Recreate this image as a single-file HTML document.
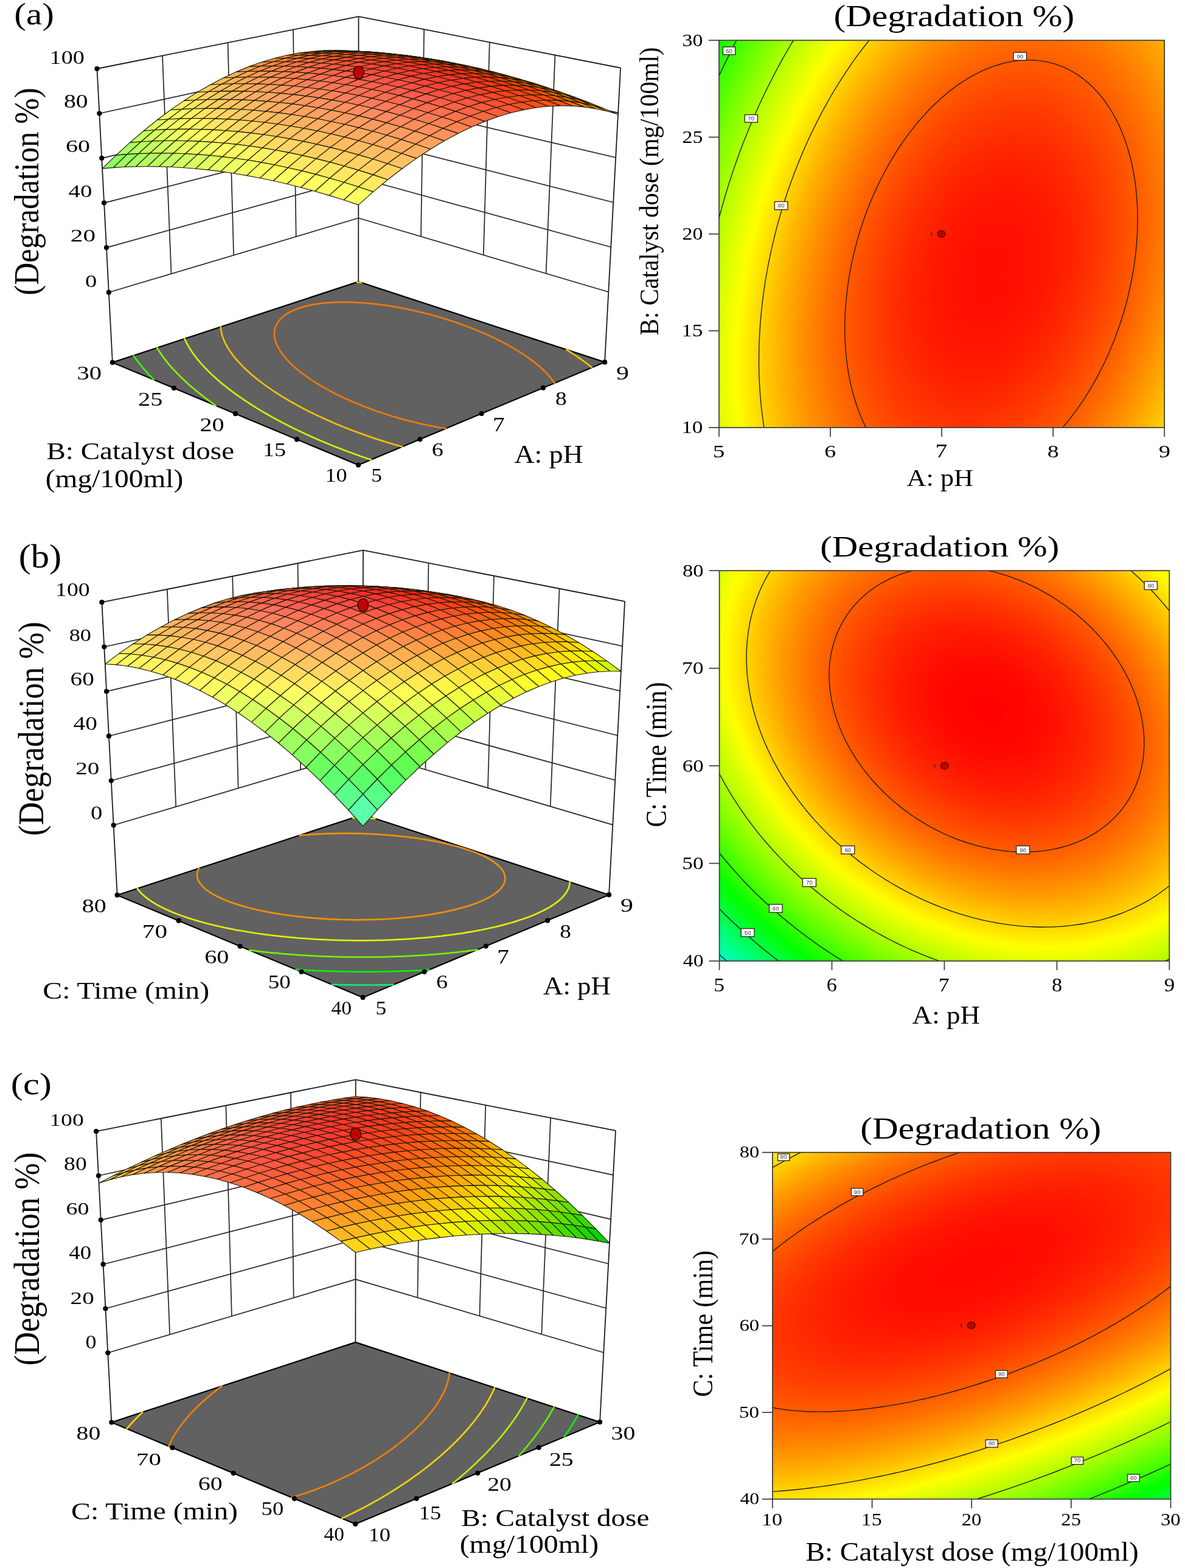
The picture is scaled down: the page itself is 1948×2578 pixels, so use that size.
<!DOCTYPE html><html><head><meta charset="utf-8"><title>Degradation response surfaces</title><style>html,body{margin:0;padding:0;background:#fff;}svg{display:block;}</style></head><body><svg width="1948" height="2578" viewBox="0 0 1948 2578"><rect width="1948" height="2578" fill="#fff"/>
<g>
<line x1="178.8" y1="480.7" x2="589.3" y2="358.5" stroke="#262626" stroke-width="1.7"/>
<line x1="589.3" y1="358.5" x2="1000.3" y2="480" stroke="#262626" stroke-width="1.7"/>
<line x1="175" y1="407.1" x2="589.3" y2="292.3" stroke="#262626" stroke-width="1.7"/>
<line x1="589.3" y1="292.3" x2="1004.3" y2="406.3" stroke="#262626" stroke-width="1.7"/>
<line x1="171.1" y1="333.6" x2="589.4" y2="226" stroke="#262626" stroke-width="1.7"/>
<line x1="589.4" y1="226" x2="1008.3" y2="332.7" stroke="#262626" stroke-width="1.7"/>
<line x1="167.3" y1="260.1" x2="589.4" y2="159.8" stroke="#262626" stroke-width="1.7"/>
<line x1="589.4" y1="159.8" x2="1012.2" y2="259" stroke="#262626" stroke-width="1.7"/>
<line x1="163.4" y1="186.5" x2="589.4" y2="93.5" stroke="#262626" stroke-width="1.7"/>
<line x1="589.4" y1="93.5" x2="1016.2" y2="185.3" stroke="#262626" stroke-width="1.7"/>
<line x1="281.5" y1="450.1" x2="267" y2="91.6" stroke="#262626" stroke-width="1.7"/>
<line x1="692" y1="388.9" x2="697.1" y2="48.3" stroke="#262626" stroke-width="1.7"/>
<line x1="384.1" y1="419.6" x2="374.5" y2="70.1" stroke="#262626" stroke-width="1.7"/>
<line x1="794.8" y1="419.3" x2="804.8" y2="69.4" stroke="#262626" stroke-width="1.7"/>
<line x1="486.7" y1="389.1" x2="482" y2="48.7" stroke="#262626" stroke-width="1.7"/>
<line x1="897.6" y1="449.7" x2="912.5" y2="90.5" stroke="#262626" stroke-width="1.7"/>
<line x1="159.5" y1="113" x2="589.5" y2="27.2" stroke="#1c1c1c" stroke-width="1.8"/>
<line x1="589.5" y1="27.2" x2="1020.1" y2="111.7" stroke="#1c1c1c" stroke-width="1.8"/>
<line x1="184.9" y1="595.9" x2="159.5" y2="113" stroke="#1c1c1c" stroke-width="1.8"/>
<line x1="589.2" y1="463.1" x2="589.5" y2="27.2" stroke="#1c1c1c" stroke-width="1.8"/>
<line x1="994.1" y1="595.4" x2="1020.1" y2="111.7" stroke="#1c1c1c" stroke-width="1.8"/>
<polygon points="184.9,595.9 589.2,463.1 994.1,595.4 589,764.6" fill="#616161" stroke="#000" stroke-width="2.2" stroke-linejoin="round"/>
<path d="M252.9 624.3 L251.5 622.8 L250.4 621.7 L249.4 620.6 L248.3 619.6 L247.3 618.5 L245.9 617.1 L244.8 615.9 L243.9 614.8 L242.9 613.8 L241.9 612.7 L240.9 611.5 L239.7 610.2 L238.6 609 L237.7 607.9 L236.8 606.9 L235.9 605.8 L235 604.8 L234 603.6 L232.9 602.3 L231.9 601.1 L231 600 L230.2 598.9 L229.3 597.9 L228.5 596.8 L227.6 595.7 L226.8 594.7 L226 593.6 L225.2 592.5 L224.3 591.3 L223.4 590.1 L222.6 588.9 L221.7 587.8 L220.9 586.7 L220.2 585.6 L219.5 584.5" fill="none" stroke="#42ef0a" stroke-width="2.7" stroke-linecap="round"/>
<path d="M354.7 666.8 L352.7 665.3 L351.2 664.3 L349.1 662.8 L347.7 661.8 L345.7 660.4 L344.1 659.2 L342.7 658.2 L340.7 656.6 L339.3 655.6 L337.6 654.3 L335.9 653 L334.6 652 L332.6 650.5 L331.2 649.4 L329.9 648.4 L328 646.8 L326.7 645.8 L325.4 644.8 L323.5 643.2 L322.2 642.2 L321 641.1 L319.3 639.7 L317.9 638.5 L316.7 637.5 L315.3 636.4 L313.6 634.9 L312.4 633.9 L311.2 632.8 L309.7 631.5 L308.3 630.2 L307.2 629.2 L306 628.1 L304.5 626.8 L303.2 625.5 L302.1 624.5 L301 623.4 L299.7 622.2 L298.2 620.8 L297.1 619.8 L296.1 618.7 L295 617.7 L293.8 616.4 L292.4 615 L291.4 614 L290.4 612.9 L289.3 611.9 L288.3 610.8 L287.1 609.5 L285.9 608.2 L284.9 607.1 L283.9 606.1 L283 605 L282 604 L281.1 602.9 L280 601.7 L278.9 600.4 L277.9 599.2 L277 598.1 L276.1 597.1 L275.3 596 L274.4 594.9 L273.5 593.9 L272.7 592.8 L271.9 591.7 L271 590.6 L270.1 589.4 L269.2 588.3 L268.4 587.1 L267.5 586 L266.7 584.8 L265.9 583.7 L265.1 582.6 L264.4 581.5 L263.7 580.5 L262.9 579.4 L262.2 578.3 L261.5 577.2 L260.8 576.1 L260.2 575.1 L259.5 574 L258.8 572.9 L258.2 571.8 L258.2 571.8" fill="none" stroke="#8bef0a" stroke-width="2.7" stroke-linecap="round"/>
<path d="M610 755.9 L606.2 754.6 L603.7 753.7 L599.9 752.5 L596.2 751.2 L592.5 749.9 L590 749 L586.3 747.7 L582.7 746.4 L579.1 745.1 L575.5 743.8 L573.1 742.9 L569.6 741.6 L566 740.2 L562.6 738.9 L559.1 737.6 L555.6 736.2 L552.2 734.9 L548.8 733.5 L545.4 732.2 L542.1 730.8 L538.8 729.4 L535.5 728.1 L532.2 726.7 L528.9 725.3 L525.7 723.9 L522.5 722.5 L519.3 721.2 L516.1 719.8 L513 718.4 L509.9 717 L506.8 715.6 L503.7 714.2 L501.7 713.2 L498.6 711.8 L495.6 710.4 L492.6 709 L489.7 707.6 L487.7 706.6 L484.8 705.2 L481.8 703.8 L479 702.3 L476.8 701.2 L474.2 699.9 L471.4 698.5 L468.6 697 L466.7 696.1 L463.9 694.6 L461.2 693.2 L459.3 692.2 L456.6 690.8 L453.9 689.3 L452.1 688.3 L449.5 686.9 L446.8 685.4 L445.1 684.4 L442.5 683 L440.4 681.7 L438.2 680.5 L435.7 679 L434 678.1 L431.5 676.6 L429.8 675.6 L427.3 674.1 L425.4 672.9 L423.2 671.6 L421 670.3 L419.2 669.1 L416.9 667.7 L415.2 666.7 L413 665.2 L411.3 664.2 L409.2 662.8 L407.5 661.7 L405.7 660.5 L403.7 659.2 L402.2 658.2 L399.9 656.6 L398.5 655.6 L396.3 654.1 L394.8 653.1 L392.9 651.8 L391.2 650.6 L389.8 649.6 L387.7 648.1 L386.3 647 L384.6 645.9 L382.8 644.5 L381.4 643.5 L379.6 642.1 L378 640.9 L376.7 639.9 L374.8 638.5 L373.4 637.4 L372.1 636.3 L370.4 635 L368.9 633.8 L367.6 632.7 L366.2 631.6 L364.5 630.2 L363.2 629.1 L362 628.1 L360.4 626.7 L359 625.5 L357.8 624.5 L356.6 623.5 L355 622 L353.7 620.9 L352.5 619.8 L351.4 618.8 L350.1 617.6 L348.6 616.2 L347.5 615.1 L346.4 614.1 L345.3 613 L344 611.8 L342.6 610.5 L341.6 609.4 L340.5 608.3 L339.5 607.3 L338.5 606.2 L337.3 605.1 L336.1 603.8 L335 602.5 L334 601.5 L333 600.4 L332.1 599.3 L331.1 598.3 L330.2 597.2 L329.2 596.2 L328.2 594.9 L327.2 593.7 L326.2 592.5 L325.2 591.4 L324.4 590.3 L323.5 589.2 L322.7 588.1 L321.8 587.1 L321 586 L320.2 584.9 L319.4 583.8 L318.6 582.8 L317.8 581.7 L317.1 580.6 L316.3 579.5 L315.6 578.4 L314.8 577.3 L314.1 576.2 L313.4 575.1 L312.7 574.1 L312 573 L311.4 571.9 L310.7 570.8 L310.1 569.7 L309.4 568.6 L308.9 567.6 L308.3 566.6 L307.8 565.6 L307.3 564.7 L306.7 563.6 L306.2 562.5 L305.6 561.4 L305.1 560.2 L304.6 559.1 L304.1 558 L303.7 557.1 L303.6 556.9" fill="none" stroke="#d4ef0a" stroke-width="2.7" stroke-linecap="round"/>
<path d="M661.2 734.5 L658.5 733.7 L654.4 732.6 L651.8 731.8 L647.8 730.7 L644.8 729.8 L641.3 728.7 L637.4 727.6 L634.9 726.8 L631 725.6 L627.2 724.4 L624.7 723.6 L621 722.4 L617.3 721.2 L613.6 719.9 L611.2 719.1 L607.5 717.9 L603.9 716.6 L600.4 715.4 L596.8 714.1 L594.5 713.3 L591 712 L587.5 710.8 L584.1 709.5 L580.7 708.2 L577.3 706.9 L574 705.6 L570.6 704.3 L567.3 703 L564.1 701.7 L560.8 700.3 L557.6 699 L554.4 697.7 L551.2 696.4 L548.1 695 L545 693.7 L541.9 692.3 L538.8 691 L536.2 689.8 L533.8 688.7 L530.8 687.3 L527.8 686 L524.8 684.6 L521.9 683.2 L520 682.3 L517.1 680.9 L514.2 679.5 L511.5 678.1 L509.5 677.2 L506.7 675.8 L504 674.4 L502.1 673.4 L499.4 672 L496.7 670.6 L494.9 669.7 L492.3 668.2 L489.6 666.8 L487.9 665.8 L485.3 664.4 L483.6 663.5 L481 662 L478.8 660.8 L476.8 659.6 L474.3 658.2 L472.6 657.2 L470.2 655.7 L468.6 654.8 L466.1 653.3 L464.5 652.3 L462.2 650.9 L460.6 649.9 L458.3 648.4 L456.7 647.4 L454.5 646 L452.9 645 L451.2 643.9 L449.1 642.5 L447.7 641.5 L445.5 640 L444 639 L442.2 637.8 L440.4 636.5 L439 635.5 L436.9 634 L435.5 633 L434.1 632 L432.1 630.5 L430.7 629.5 L429.4 628.5 L427.4 627 L426.1 625.9 L424.8 624.9 L423.1 623.6 L421.5 622.4 L420.3 621.4 L419 620.3 L417.3 618.9 L415.9 617.8 L414.7 616.7 L413.5 615.7 L412 614.4 L410.5 613.1 L409.4 612.1 L408.2 611.1 L407.1 610 L405.6 608.6 L404.3 607.4 L403.2 606.4 L402.1 605.3 L401 604.3 L399.9 603.2 L398.7 601.9 L397.4 600.6 L396.3 599.5 L395.3 598.5 L394.3 597.4 L393.3 596.3 L392.3 595.3 L391.4 594.2 L390.4 593.1 L389.4 592 L388.4 590.8 L387.4 589.7 L386.5 588.5 L385.5 587.4 L384.6 586.2 L383.8 585.1 L382.9 584 L382.1 582.9 L381.3 581.8 L380.5 580.7 L379.7 579.7 L379 578.6 L378.3 577.6 L377.6 576.5 L376.9 575.5 L376.2 574.5 L375.6 573.5 L374.9 572.4 L374.3 571.3 L373.6 570.2 L373 569.1 L372.4 568 L371.7 566.8 L371.2 565.7 L370.7 564.8 L370.2 563.8 L369.8 562.9 L369.2 561.7 L368.7 560.6 L368.2 559.4 L367.8 558.4 L367.4 557.5 L367.1 556.6 L366.6 555.4 L366.2 554.2 L365.9 553.2 L365.6 552.4 L365.3 551.3 L364.9 550.1 L364.6 549 L364.4 548.2 L364.2 547.2 L363.9 546 L363.7 545 L363.6 544.2 L363.4 542.9 L363.2 541.9 L363.1 541.1 L363 539.9 L362.9 538.9 L362.8 538 L362.8 537.4" fill="none" stroke="#efc10a" stroke-width="2.7" stroke-linecap="round"/>
<path d="M931.2 574.9 L933.1 576 L934.6 577 L936.2 578 L937.7 579 L939.8 580.3 L941.6 581.5 L943.1 582.5 L944.6 583.5 L946.1 584.5 L947.6 585.5 L949.5 586.8 L951.3 588.1 L952.9 589.1 L954.4 590.2 L955.8 591.2 L957.3 592.3 L958.8 593.3 L960.2 594.4 L961.7 595.5 L963.3 596.7 L964.9 597.8 L966.4 599 L967.9 600.2 L969.4 601.4 L970.9 602.5 L972.4 603.7 L973 604.2" fill="none" stroke="#efc10a" stroke-width="2.7" stroke-linecap="round"/>
<path d="M586.7 463.9 L589.5 464.2 L592.2 464.4 L594.1 464.6" fill="none" stroke="#efc10a" stroke-width="2.7" stroke-linecap="round"/>
<path d="M733 704.5 L729.8 704 L726.6 703.5 L722.6 702.8 L718.9 702.1 L715.8 701.6 L712.8 701 L709.8 700.4 L705.5 699.6 L702.4 699 L699.5 698.3 L695.9 697.6 L692.3 696.8 L689.5 696.2 L685.3 695.2 L682.6 694.5 L679.5 693.8 L675.7 692.9 L673.1 692.2 L669.1 691.1 L666.4 690.4 L662.5 689.4 L659.2 688.5 L656.1 687.6 L652.3 686.5 L649.8 685.8 L646 684.7 L642.3 683.5 L639.9 682.8 L636.3 681.6 L632.7 680.5 L629.1 679.3 L626.8 678.5 L623.3 677.4 L619.8 676.2 L616.4 675 L613 673.8 L609.7 672.5 L606.4 671.3 L603.1 670.1 L599.9 668.8 L596.7 667.6 L593.5 666.3 L590.3 665 L587.2 663.8 L584.2 662.5 L581.1 661.2 L578.1 659.9 L575.1 658.6 L573 657.6 L570.2 656.4 L567.3 655.1 L564.5 653.7 L562 652.5 L559.8 651.5 L557 650.1 L554.2 648.8 L552.4 647.9 L549.7 646.5 L547.2 645.2 L545.3 644.2 L542.7 642.8 L540.9 641.9 L538.4 640.5 L536.4 639.4 L534.2 638.1 L531.9 636.8 L530 635.8 L527.8 634.4 L526 633.4 L524 632.2 L522 631 L520.4 630 L518.2 628.6 L516.7 627.6 L514.4 626.2 L512.9 625.2 L511.2 624.1 L509.2 622.8 L507.8 621.8 L505.9 620.4 L504.3 619.3 L502.9 618.3 L501.1 617 L499.4 615.8 L498.1 614.8 L496.8 613.8 L494.8 612.3 L493.5 611.3 L492.2 610.2 L491 609.2 L489.2 607.8 L487.9 606.7 L486.7 605.6 L485.5 604.6 L484.3 603.6 L482.8 602.2 L481.4 601 L480.3 599.9 L479.2 598.9 L478.1 597.8 L477 596.7 L476 595.7 L474.9 594.6 L473.7 593.4 L472.6 592.2 L471.5 591 L470.5 589.8 L469.5 588.7 L468.6 587.6 L467.7 586.5 L466.8 585.4 L465.9 584.3 L465.1 583.2 L464.3 582.2 L463.5 581.1 L462.8 580.1 L462.1 579.1 L461.4 578.1 L460.7 577.1 L460 575.9 L459.3 574.8 L458.6 573.6 L458 572.5 L457.4 571.3 L456.9 570.4 L456.4 569.5 L455.9 568.4 L455.3 567.2 L454.8 566.1 L454.4 565.1 L454.1 564.2 L453.7 563.1 L453.3 561.9 L452.9 560.9 L452.7 560 L452.4 558.8 L452.1 557.6 L451.9 556.8 L451.7 555.7 L451.5 554.5 L451.4 553.7 L451.2 552.5 L451.1 551.5 L451.1 550.6 L451 549.3 L451 548.6 L451.1 547.3 L451.1 546.5 L451.2 545.2 L451.3 544.4 L451.5 543.2 L451.6 542.4 L451.9 541.1 L452.1 540.4 L452.4 539.1 L452.7 538.2 L453 537.2 L453.5 536 L453.9 535.2 L454.3 534.2 L454.9 533 L455.4 532.1 L455.9 531.3 L456.6 530.2 L457.4 529.1 L458.1 528 L458.8 527.2 L459.5 526.3 L460.4 525.3 L461.3 524.3 L462.3 523.3 L463.4 522.3 L464.5 521.3 L465.6 520.4 L466.8 519.4 L468.2 518.3 L469.9 517.1 L471.2 516.3 L472.6 515.4 L474.2 514.5 L476.2 513.3 L477.7 512.5 L480.1 511.4 L481.7 510.6 L484.2 509.5 L486.9 508.4 L488.7 507.8 L491.5 506.8 L494.4 505.8 L497.4 504.9 L499.5 504.3 L502.7 503.5 L506 502.6 L508.2 502.1 L511.4 501.5 L514.2 500.9 L516.6 500.5 L519.5 500 L522.9 499.5 L525.7 499.1 L528.5 498.8 L531.3 498.5 L534.2 498.2 L537 497.9 L539.5 497.7 L541.8 497.5 L544.8 497.3 L548 497.2 L550.8 497 L553 497 L556.4 496.9 L558.9 496.8 L561.7 496.8 L564.6 496.7 L567.3 496.7 L570.1 496.8 L573.1 496.8 L575.4 496.9 L578.8 497 L581.2 497.1 L583.8 497.2 L587.1 497.3 L590 497.5 L592.2 497.6 L594.9 497.8 L598 498 L601 498.3 L604 498.5 L606.9 498.8 L609.5 499 L612.2 499.3 L614.9 499.6 L617.7 499.9 L620.6 500.2 L623.6 500.6 L626.5 501 L629.2 501.3 L631.9 501.7 L634.5 502.1 L637.1 502.5 L639.7 502.9 L643.3 503.4 L646.1 503.9 L648.6 504.3 L651.1 504.7 L654.8 505.4 L657.3 505.9 L659.7 506.3 L663.4 507 L665.7 507.5 L668.2 508 L671.7 508.7 L674 509.2 L677.5 509.9 L679.8 510.5 L683.3 511.2 L685.5 511.8 L688.9 512.6 L691.2 513.1 L694.5 513.9 L697.8 514.7 L700 515.3 L703.3 516.1 L706.6 517 L708.7 517.6 L711.9 518.5 L715.1 519.4 L718.3 520.3 L720.4 520.9 L723.6 521.8 L726.7 522.7 L729.8 523.7 L732.8 524.6 L735.9 525.6 L738.9 526.6 L742 527.5 L745 528.5 L747.9 529.5 L750.9 530.6 L753.9 531.6 L756.8 532.6 L759.7 533.7 L762.6 534.7 L765.5 535.8 L767.4 536.5 L770.2 537.6 L773.1 538.7 L775.9 539.8 L778.3 540.7 L780.5 541.6 L783.3 542.8 L786.1 543.9 L787.9 544.7 L790.6 545.8 L793.4 547 L795.2 547.8 L797.8 549 L799.6 549.8 L802.3 551 L804.8 552.1 L806.7 553 L809.3 554.2 L811.1 555 L813.6 556.3 L815.4 557.1 L817.9 558.4 L819.6 559.2 L822 560.5 L823.9 561.4 L825.7 562.3 L828 563.6 L829.7 564.4 L832.2 565.8 L833.8 566.7 L835.4 567.6 L837.9 568.9 L839.5 569.8 L841.2 570.8 L843.5 572.1 L845.1 573.1 L846.6 574 L849 575.4 L850.6 576.4 L852.1 577.3 L853.7 578.3 L855.9 579.7 L857.5 580.7 L859 581.7 L860.5 582.7 L862.2 583.9 L864.2 585.2 L865.6 586.2 L867.1 587.2 L868.5 588.2 L870 589.3 L871.5 590.4 L873.2 591.6 L874.8 592.9 L876.3 594 L877.7 595.1 L879.1 596.1 L880.4 597.2 L881.8 598.3 L883.1 599.4 L884.4 600.5 L885.7 601.6 L887 602.8 L888.3 603.9 L889.6 605 L890.9 606.2 L892.1 607.3 L893.3 608.5 L894.5 609.7 L895.7 610.9 L896.9 612.1 L898 613.1 L899 614.2 L899.9 615.2 L900.9 616.3 L902.1 617.5 L903.1 618.8 L904.2 620.1 L905.2 621.2 L906 622.2 L906.8 623.3 L907.8 624.6 L908.8 625.9 L909.6 627 L910.2 627.9 L911.1 629.2 L911.6 629.9" fill="none" stroke="#ef790a" stroke-width="2.7" stroke-linecap="round"/>
<polygon points="589.5,84.3 608.5,86.4 589.5,85.6 570.4,83.7" fill="#ff9900" stroke="#1e1a08" stroke-width="1.15" stroke-linejoin="round"/>
<polygon points="608.7,85.4 627.8,87.7 608.5,86.4 589.5,84.3" fill="#ff8f00" stroke="#1e1a08" stroke-width="1.15" stroke-linejoin="round"/>
<polygon points="570.2,83.3 589.5,84.3 570.4,83.7 551.1,82.8" fill="#ff8702" stroke="#1e1a08" stroke-width="1.15" stroke-linejoin="round"/>
<polygon points="628.3,86.8 647.3,89.3 627.8,87.7 608.7,85.4" fill="#ff8500" stroke="#1e1a08" stroke-width="1.15" stroke-linejoin="round"/>
<polygon points="589.5,84.2 608.7,85.4 589.5,84.3 570.2,83.3" fill="#ff7c01" stroke="#1e1a08" stroke-width="1.15" stroke-linejoin="round"/>
<polygon points="550.6,83.4 570.2,83.3 551.1,82.8 531.6,83.1" fill="#ff7e0d" stroke="#1e1a08" stroke-width="1.15" stroke-linejoin="round"/>
<polygon points="648,88.7 667,91.4 647.3,89.3 628.3,86.8" fill="#ff7d00" stroke="#1e1a08" stroke-width="1.15" stroke-linejoin="round"/>
<polygon points="609,85.4 628.3,86.8 608.7,85.4 589.5,84.2" fill="#ff7100" stroke="#1e1a08" stroke-width="1.15" stroke-linejoin="round"/>
<polygon points="530.9,84.6 550.6,83.4 531.6,83.1 511.8,84.5" fill="#ff7918" stroke="#1e1a08" stroke-width="1.15" stroke-linejoin="round"/>
<polygon points="569.9,84.1 589.5,84.2 570.2,83.3 550.6,83.4" fill="#ff720c" stroke="#1e1a08" stroke-width="1.15" stroke-linejoin="round"/>
<polygon points="668,91 687,93.8 667,91.4 648,88.7" fill="#ff7700" stroke="#1e1a08" stroke-width="1.15" stroke-linejoin="round"/>
<polygon points="510.8,87.1 530.9,84.6 511.8,84.5 491.8,87.1" fill="#ff7822" stroke="#1e1a08" stroke-width="1.15" stroke-linejoin="round"/>
<polygon points="628.8,87.2 648,88.7 628.3,86.8 609,85.4" fill="#ff6900" stroke="#1e1a08" stroke-width="1.15" stroke-linejoin="round"/>
<polygon points="550.1,85.2 569.9,84.1 550.6,83.4 530.9,84.6" fill="#ff6d17" stroke="#1e1a08" stroke-width="1.15" stroke-linejoin="round"/>
<polygon points="589.5,85.2 609,85.4 589.5,84.2 569.9,84.1" fill="#ff670b" stroke="#1e1a08" stroke-width="1.15" stroke-linejoin="round"/>
<polygon points="688.3,93.8 707.3,96.8 687,93.8 668,91" fill="#ff7100" stroke="#1e1a08" stroke-width="1.15" stroke-linejoin="round"/>
<polygon points="490.6,90.7 510.8,87.1 491.8,87.1 471.6,90.8" fill="#ff7b2b" stroke="#1e1a08" stroke-width="1.15" stroke-linejoin="round"/>
<polygon points="648.8,89.3 668,91 648,88.7 628.8,87.2" fill="#ff6100" stroke="#1e1a08" stroke-width="1.15" stroke-linejoin="round"/>
<polygon points="530.1,87.4 550.1,85.2 530.9,84.6 510.8,87.1" fill="#ff6c21" stroke="#1e1a08" stroke-width="1.15" stroke-linejoin="round"/>
<polygon points="609.2,86.8 628.8,87.2 609,85.4 589.5,85.2" fill="#ff5e09" stroke="#1e1a08" stroke-width="1.15" stroke-linejoin="round"/>
<polygon points="569.7,86.1 589.5,85.2 569.9,84.1 550.1,85.2" fill="#ff6215" stroke="#1e1a08" stroke-width="1.15" stroke-linejoin="round"/>
<polygon points="470.1,95.5 490.6,90.7 471.6,90.8 451.2,95.8" fill="#ff8135" stroke="#1e1a08" stroke-width="1.15" stroke-linejoin="round"/>
<polygon points="708.8,97 727.7,100.1 707.3,96.8 688.3,93.8" fill="#ff6d00" stroke="#1e1a08" stroke-width="1.15" stroke-linejoin="round"/>
<polygon points="509.9,90.9 530.1,87.4 510.8,87.1 490.6,90.7" fill="#ff6f2b" stroke="#1e1a08" stroke-width="1.15" stroke-linejoin="round"/>
<polygon points="669,91.9 688.3,93.8 668,91 648.8,89.3" fill="#ff5b00" stroke="#1e1a08" stroke-width="1.15" stroke-linejoin="round"/>
<polygon points="549.6,88.2 569.7,86.1 550.1,85.2 530.1,87.4" fill="#ff6220" stroke="#1e1a08" stroke-width="1.15" stroke-linejoin="round"/>
<polygon points="629.3,88.7 648.8,89.3 628.8,87.2 609.2,86.8" fill="#ff5508" stroke="#1e1a08" stroke-width="1.15" stroke-linejoin="round"/>
<polygon points="589.4,87.5 609.2,86.8 589.5,85.2 569.7,86.1" fill="#ff5914" stroke="#1e1a08" stroke-width="1.15" stroke-linejoin="round"/>
<polygon points="449.5,101.5 470.1,95.5 451.2,95.8 430.5,102" fill="#ff893d" stroke="#1e1a08" stroke-width="1.15" stroke-linejoin="round"/>
<polygon points="729.5,100.6 748.4,104 727.7,100.1 708.8,97" fill="#ff6b00" stroke="#1e1a08" stroke-width="1.15" stroke-linejoin="round"/>
<polygon points="489.4,95.6 509.9,90.9 490.6,90.7 470.1,95.5" fill="#ff7534" stroke="#1e1a08" stroke-width="1.15" stroke-linejoin="round"/>
<polygon points="689.6,94.9 708.8,97 688.3,93.8 669,91.9" fill="#ff5700" stroke="#1e1a08" stroke-width="1.15" stroke-linejoin="round"/>
<polygon points="529.4,91.5 549.6,88.2 530.1,87.4 509.9,90.9" fill="#ff642a" stroke="#1e1a08" stroke-width="1.15" stroke-linejoin="round"/>
<polygon points="649.5,91.2 669,91.9 648.8,89.3 629.3,88.7" fill="#ff4e07" stroke="#1e1a08" stroke-width="1.15" stroke-linejoin="round"/>
<polygon points="569.4,89.5 589.4,87.5 569.7,86.1 549.6,88.2" fill="#ff581f" stroke="#1e1a08" stroke-width="1.15" stroke-linejoin="round"/>
<polygon points="609.5,89.3 629.3,88.7 609.2,86.8 589.4,87.5" fill="#ff5013" stroke="#1e1a08" stroke-width="1.15" stroke-linejoin="round"/>
<polygon points="428.6,108.8 449.5,101.5 430.5,102 409.7,109.4" fill="#ff9345" stroke="#1e1a08" stroke-width="1.15" stroke-linejoin="round"/>
<polygon points="750.5,104.7 769.4,108.3 748.4,104 729.5,100.6" fill="#ff6a00" stroke="#1e1a08" stroke-width="1.15" stroke-linejoin="round"/>
<polygon points="468.7,101.5 489.4,95.6 470.1,95.5 449.5,101.5" fill="#ff7d3d" stroke="#1e1a08" stroke-width="1.15" stroke-linejoin="round"/>
<polygon points="710.3,98.4 729.5,100.6 708.8,97 689.6,94.9" fill="#ff5400" stroke="#1e1a08" stroke-width="1.15" stroke-linejoin="round"/>
<polygon points="508.9,96.1 529.4,91.5 509.9,90.9 489.4,95.6" fill="#ff6a33" stroke="#1e1a08" stroke-width="1.15" stroke-linejoin="round"/>
<polygon points="670.1,94 689.6,94.9 669,91.9 649.5,91.2" fill="#ff4805" stroke="#1e1a08" stroke-width="1.15" stroke-linejoin="round"/>
<polygon points="549.1,92.6 569.4,89.5 549.6,88.2 529.4,91.5" fill="#ff5b29" stroke="#1e1a08" stroke-width="1.15" stroke-linejoin="round"/>
<polygon points="629.8,91.6 649.5,91.2 629.3,88.7 609.5,89.3" fill="#ff4812" stroke="#1e1a08" stroke-width="1.15" stroke-linejoin="round"/>
<polygon points="589.4,91.1 609.5,89.3 589.4,87.5 569.4,89.5" fill="#ff4f1e" stroke="#1e1a08" stroke-width="1.15" stroke-linejoin="round"/>
<polygon points="407.5,117.3 428.6,108.8 409.7,109.4 388.6,118.1" fill="#ff9f4d" stroke="#1e1a08" stroke-width="1.15" stroke-linejoin="round"/>
<polygon points="447.7,108.6 468.7,101.5 449.5,101.5 428.6,108.8" fill="#ff8845" stroke="#1e1a08" stroke-width="1.15" stroke-linejoin="round"/>
<polygon points="771.7,109.3 790.6,113 769.4,108.3 750.5,104.7" fill="#ff6a00" stroke="#1e1a08" stroke-width="1.15" stroke-linejoin="round"/>
<polygon points="488.1,101.8 508.9,96.1 489.4,95.6 468.7,101.5" fill="#ff733c" stroke="#1e1a08" stroke-width="1.15" stroke-linejoin="round"/>
<polygon points="731.3,102.4 750.5,104.7 729.5,100.6 710.3,98.4" fill="#ff5200" stroke="#1e1a08" stroke-width="1.15" stroke-linejoin="round"/>
<polygon points="528.6,97 549.1,92.6 529.4,91.5 508.9,96.1" fill="#ff6132" stroke="#1e1a08" stroke-width="1.15" stroke-linejoin="round"/>
<polygon points="690.8,97.4 710.3,98.4 689.6,94.9 670.1,94" fill="#ff4304" stroke="#1e1a08" stroke-width="1.15" stroke-linejoin="round"/>
<polygon points="569.2,94.1 589.4,91.1 569.4,89.5 549.1,92.6" fill="#ff5228" stroke="#1e1a08" stroke-width="1.15" stroke-linejoin="round"/>
<polygon points="650.3,94.3 670.1,94 649.5,91.2 629.8,91.6" fill="#ff4210" stroke="#1e1a08" stroke-width="1.15" stroke-linejoin="round"/>
<polygon points="609.7,93.2 629.8,91.6 609.5,89.3 589.4,91.1" fill="#ff471c" stroke="#1e1a08" stroke-width="1.15" stroke-linejoin="round"/>
<polygon points="386.2,127.2 407.5,117.3 388.6,118.1 367.3,128" fill="#ffad53" stroke="#1e1a08" stroke-width="1.15" stroke-linejoin="round"/>
<polygon points="426.6,117 447.7,108.6 428.6,108.8 407.5,117.3" fill="#ff944c" stroke="#1e1a08" stroke-width="1.15" stroke-linejoin="round"/>
<polygon points="793.2,114.4 812,118.2 790.6,113 771.7,109.3" fill="#ff6b00" stroke="#1e1a08" stroke-width="1.15" stroke-linejoin="round"/>
<polygon points="467.2,108.8 488.1,101.8 468.7,101.5 447.7,108.6" fill="#ff7d44" stroke="#1e1a08" stroke-width="1.15" stroke-linejoin="round"/>
<polygon points="752.6,106.8 771.7,109.3 750.5,104.7 731.3,102.4" fill="#ff5100" stroke="#1e1a08" stroke-width="1.15" stroke-linejoin="round"/>
<polygon points="507.9,102.6 528.6,97 508.9,96.1 488.1,101.8" fill="#ff693b" stroke="#1e1a08" stroke-width="1.15" stroke-linejoin="round"/>
<polygon points="711.9,101.1 731.3,102.4 710.3,98.4 690.8,97.4" fill="#ff4002" stroke="#1e1a08" stroke-width="1.15" stroke-linejoin="round"/>
<polygon points="548.6,98.4 569.2,94.1 549.1,92.6 528.6,97" fill="#ff5831" stroke="#1e1a08" stroke-width="1.15" stroke-linejoin="round"/>
<polygon points="671.1,97.5 690.8,97.4 670.1,94 650.3,94.3" fill="#ff3d0f" stroke="#1e1a08" stroke-width="1.15" stroke-linejoin="round"/>
<polygon points="589.4,96.1 609.7,93.2 589.4,91.1 569.2,94.1" fill="#ff4a27" stroke="#1e1a08" stroke-width="1.15" stroke-linejoin="round"/>
<polygon points="630.3,95.8 650.3,94.3 629.8,91.6 609.7,93.2" fill="#ff411b" stroke="#1e1a08" stroke-width="1.15" stroke-linejoin="round"/>
<polygon points="364.6,138.3 386.2,127.2 367.3,128 345.9,139.2" fill="#ffbc59" stroke="#1e1a08" stroke-width="1.15" stroke-linejoin="round"/>
<polygon points="405.2,126.7 426.6,117 407.5,117.3 386.2,127.2" fill="#ffa253" stroke="#1e1a08" stroke-width="1.15" stroke-linejoin="round"/>
<polygon points="814.9,119.9 833.7,124 812,118.2 793.2,114.4" fill="#ff6e00" stroke="#1e1a08" stroke-width="1.15" stroke-linejoin="round"/>
<polygon points="446,117.1 467.2,108.8 447.7,108.6 426.6,117" fill="#ff8a4c" stroke="#1e1a08" stroke-width="1.15" stroke-linejoin="round"/>
<polygon points="774.1,111.7 793.2,114.4 771.7,109.3 752.6,106.8" fill="#ff5200" stroke="#1e1a08" stroke-width="1.15" stroke-linejoin="round"/>
<polygon points="486.9,109.5 507.9,102.6 488.1,101.8 467.2,108.8" fill="#ff7444" stroke="#1e1a08" stroke-width="1.15" stroke-linejoin="round"/>
<polygon points="733.2,105.4 752.6,106.8 731.3,102.4 711.9,101.1" fill="#ff3d01" stroke="#1e1a08" stroke-width="1.15" stroke-linejoin="round"/>
<polygon points="527.9,103.8 548.6,98.4 528.6,97 507.9,102.6" fill="#ff603b" stroke="#1e1a08" stroke-width="1.15" stroke-linejoin="round"/>
<polygon points="692.1,101.1 711.9,101.1 690.8,97.4 671.1,97.5" fill="#ff390d" stroke="#1e1a08" stroke-width="1.15" stroke-linejoin="round"/>
<polygon points="568.9,100.2 589.4,96.1 569.2,94.1 548.6,98.4" fill="#ff5030" stroke="#1e1a08" stroke-width="1.15" stroke-linejoin="round"/>
<polygon points="651.1,98.8 671.1,97.5 650.3,94.3 630.3,95.8" fill="#ff3b1a" stroke="#1e1a08" stroke-width="1.15" stroke-linejoin="round"/>
<polygon points="610,98.5 630.3,95.8 609.7,93.2 589.4,96.1" fill="#ff4325" stroke="#1e1a08" stroke-width="1.15" stroke-linejoin="round"/>
<polygon points="342.9,150.7 364.6,138.3 345.9,139.2 324.2,151.8" fill="#ffcd5f" stroke="#1e1a08" stroke-width="1.15" stroke-linejoin="round"/>
<polygon points="383.7,137.7 405.2,126.7 386.2,127.2 364.6,138.3" fill="#ffb159" stroke="#1e1a08" stroke-width="1.15" stroke-linejoin="round"/>
<polygon points="424.6,126.7 446,117.1 426.6,117 405.2,126.7" fill="#ff9853" stroke="#1e1a08" stroke-width="1.15" stroke-linejoin="round"/>
<polygon points="836.9,126 855.6,130.2 833.7,124 814.9,119.9" fill="#ff7200" stroke="#1e1a08" stroke-width="1.15" stroke-linejoin="round"/>
<polygon points="465.7,117.7 486.9,109.5 467.2,108.8 446,117.1" fill="#ff804c" stroke="#1e1a08" stroke-width="1.15" stroke-linejoin="round"/>
<polygon points="795.9,117.1 814.9,119.9 793.2,114.4 774.1,111.7" fill="#ff5400" stroke="#1e1a08" stroke-width="1.15" stroke-linejoin="round"/>
<polygon points="321.1,164.5 342.9,150.7 324.2,151.8 302.4,165.6" fill="#ffde61" stroke="#1e1a08" stroke-width="1.15" stroke-linejoin="round"/>
<polygon points="506.8,110.6 527.9,103.8 507.9,102.6 486.9,109.5" fill="#ff6b43" stroke="#1e1a08" stroke-width="1.15" stroke-linejoin="round"/>
<polygon points="754.7,110.2 774.1,111.7 752.6,106.8 733.2,105.4" fill="#ff3d00" stroke="#1e1a08" stroke-width="1.15" stroke-linejoin="round"/>
<polygon points="548.1,105.5 568.9,100.2 548.6,98.4 527.9,103.8" fill="#ff583a" stroke="#1e1a08" stroke-width="1.15" stroke-linejoin="round"/>
<polygon points="713.5,105.2 733.2,105.4 711.9,101.1 692.1,101.1" fill="#ff360c" stroke="#1e1a08" stroke-width="1.15" stroke-linejoin="round"/>
<polygon points="589.4,102.4 610,98.5 589.4,96.1 568.9,100.2" fill="#ff492f" stroke="#1e1a08" stroke-width="1.15" stroke-linejoin="round"/>
<polygon points="672.1,102.3 692.1,101.1 671.1,97.5 651.1,98.8" fill="#ff3718" stroke="#1e1a08" stroke-width="1.15" stroke-linejoin="round"/>
<polygon points="630.8,101.4 651.1,98.8 630.3,95.8 610,98.5" fill="#ff3d24" stroke="#1e1a08" stroke-width="1.15" stroke-linejoin="round"/>
<polygon points="361.9,150.1 383.7,137.7 364.6,138.3 342.9,150.7" fill="#ffc25f" stroke="#1e1a08" stroke-width="1.15" stroke-linejoin="round"/>
<polygon points="403,137.6 424.6,126.7 405.2,126.7 383.7,137.7" fill="#ffa759" stroke="#1e1a08" stroke-width="1.15" stroke-linejoin="round"/>
<polygon points="859.1,132.5 877.8,136.9 855.6,130.2 836.9,126" fill="#ff7700" stroke="#1e1a08" stroke-width="1.15" stroke-linejoin="round"/>
<polygon points="444.2,127.1 465.7,117.7 446,117.1 424.6,126.7" fill="#ff8e53" stroke="#1e1a08" stroke-width="1.15" stroke-linejoin="round"/>
<polygon points="299,179.6 321.1,164.5 302.4,165.6 280.4,180.8" fill="#fff161" stroke="#1e1a08" stroke-width="1.15" stroke-linejoin="round"/>
<polygon points="817.9,123 836.9,126 814.9,119.9 795.9,117.1" fill="#ff5800" stroke="#1e1a08" stroke-width="1.15" stroke-linejoin="round"/>
<polygon points="485.6,118.6 506.8,110.6 486.9,109.5 465.7,117.7" fill="#ff784b" stroke="#1e1a08" stroke-width="1.15" stroke-linejoin="round"/>
<polygon points="776.5,115.4 795.9,117.1 774.1,111.7 754.7,110.2" fill="#ff3f00" stroke="#1e1a08" stroke-width="1.15" stroke-linejoin="round"/>
<polygon points="527.1,112.1 548.1,105.5 527.9,103.8 506.8,110.6" fill="#ff6342" stroke="#1e1a08" stroke-width="1.15" stroke-linejoin="round"/>
<polygon points="340,163.7 361.9,150.1 342.9,150.7 321.1,164.5" fill="#ffd361" stroke="#1e1a08" stroke-width="1.15" stroke-linejoin="round"/>
<polygon points="735,109.8 754.7,110.2 733.2,105.4 713.5,105.2" fill="#ff340a" stroke="#1e1a08" stroke-width="1.15" stroke-linejoin="round"/>
<polygon points="568.6,107.6 589.4,102.4 568.9,100.2 548.1,105.5" fill="#ff5139" stroke="#1e1a08" stroke-width="1.15" stroke-linejoin="round"/>
<polygon points="693.5,106.2 713.5,105.2 692.1,101.1 672.1,102.3" fill="#ff3317" stroke="#1e1a08" stroke-width="1.15" stroke-linejoin="round"/>
<polygon points="610.2,105.2 630.8,101.4 610,98.5 589.4,102.4" fill="#ff432e" stroke="#1e1a08" stroke-width="1.15" stroke-linejoin="round"/>
<polygon points="651.9,104.7 672.1,102.3 651.1,98.8 630.8,101.4" fill="#ff3923" stroke="#1e1a08" stroke-width="1.15" stroke-linejoin="round"/>
<polygon points="381.2,149.9 403,137.6 383.7,137.7 361.9,150.1" fill="#ffb85f" stroke="#1e1a08" stroke-width="1.15" stroke-linejoin="round"/>
<polygon points="276.8,196 299,179.6 280.4,180.8 258.3,197.3" fill="#f8ff61" stroke="#1e1a08" stroke-width="1.15" stroke-linejoin="round"/>
<polygon points="422.6,137.9 444.2,127.1 424.6,126.7 403,137.6" fill="#ff9e59" stroke="#1e1a08" stroke-width="1.15" stroke-linejoin="round"/>
<polygon points="881.6,139.6 900.2,144.1 877.8,136.9 859.1,132.5" fill="#ff7e00" stroke="#1e1a08" stroke-width="1.15" stroke-linejoin="round"/>
<polygon points="464.1,128 485.6,118.6 465.7,117.7 444.2,127.1" fill="#ff8652" stroke="#1e1a08" stroke-width="1.15" stroke-linejoin="round"/>
<polygon points="840.2,129.4 859.1,132.5 836.9,126 817.9,123" fill="#ff5d00" stroke="#1e1a08" stroke-width="1.15" stroke-linejoin="round"/>
<polygon points="317.9,178.8 340,163.7 321.1,164.5 299,179.6" fill="#ffe561" stroke="#1e1a08" stroke-width="1.15" stroke-linejoin="round"/>
<polygon points="505.8,120.1 527.1,112.1 506.8,110.6 485.6,118.6" fill="#ff704b" stroke="#1e1a08" stroke-width="1.15" stroke-linejoin="round"/>
<polygon points="798.6,121.1 817.9,123 795.9,117.1 776.5,115.4" fill="#ff4200" stroke="#1e1a08" stroke-width="1.15" stroke-linejoin="round"/>
<polygon points="547.6,114.1 568.6,107.6 548.1,105.5 527.1,112.1" fill="#ff5c42" stroke="#1e1a08" stroke-width="1.15" stroke-linejoin="round"/>
<polygon points="756.9,114.9 776.5,115.4 754.7,110.2 735,109.8" fill="#ff3408" stroke="#1e1a08" stroke-width="1.15" stroke-linejoin="round"/>
<polygon points="589.4,110.2 610.2,105.2 589.4,102.4 568.6,107.6" fill="#ff4b38" stroke="#1e1a08" stroke-width="1.15" stroke-linejoin="round"/>
<polygon points="715.1,110.7 735,109.8 713.5,105.2 693.5,106.2" fill="#ff3115" stroke="#1e1a08" stroke-width="1.15" stroke-linejoin="round"/>
<polygon points="359.2,163.4 381.2,149.9 361.9,150.1 340,163.7" fill="#ffc861" stroke="#1e1a08" stroke-width="1.15" stroke-linejoin="round"/>
<polygon points="631.3,108.4 651.9,104.7 630.8,101.4 610.2,105.2" fill="#ff3e2d" stroke="#1e1a08" stroke-width="1.15" stroke-linejoin="round"/>
<polygon points="673.2,108.5 693.5,106.2 672.1,102.3 651.9,104.7" fill="#ff3521" stroke="#1e1a08" stroke-width="1.15" stroke-linejoin="round"/>
<polygon points="254.4,213.8 276.8,196 258.3,197.3 236,215.2" fill="#e1ff61" stroke="#1e1a08" stroke-width="1.15" stroke-linejoin="round"/>
<polygon points="400.7,150.1 422.6,137.9 403,137.6 381.2,149.9" fill="#ffae5f" stroke="#1e1a08" stroke-width="1.15" stroke-linejoin="round"/>
<polygon points="904.3,147.2 922.9,151.8 900.2,144.1 881.6,139.6" fill="#ff8600" stroke="#1e1a08" stroke-width="1.15" stroke-linejoin="round"/>
<polygon points="295.6,195.1 317.9,178.8 299,179.6 276.8,196" fill="#fffa61" stroke="#1e1a08" stroke-width="1.15" stroke-linejoin="round"/>
<polygon points="442.4,138.7 464.1,128 444.2,127.1 422.6,137.9" fill="#ff9559" stroke="#1e1a08" stroke-width="1.15" stroke-linejoin="round"/>
<polygon points="862.7,136.3 881.6,139.6 859.1,132.5 840.2,129.4" fill="#ff6300" stroke="#1e1a08" stroke-width="1.15" stroke-linejoin="round"/>
<polygon points="484.3,129.3 505.8,120.1 485.6,118.6 464.1,128" fill="#ff7e52" stroke="#1e1a08" stroke-width="1.15" stroke-linejoin="round"/>
<polygon points="820.9,127.4 840.2,129.4 817.9,123 798.6,121.1" fill="#ff4600" stroke="#1e1a08" stroke-width="1.15" stroke-linejoin="round"/>
<polygon points="337,178.4 359.2,163.4 340,163.7 317.9,178.8" fill="#ffda61" stroke="#1e1a08" stroke-width="1.15" stroke-linejoin="round"/>
<polygon points="231.8,233 254.4,213.8 236,215.2 213.5,234.4" fill="#c7ff61" stroke="#1e1a08" stroke-width="1.15" stroke-linejoin="round"/>
<polygon points="526.3,121.9 547.6,114.1 527.1,112.1 505.8,120.1" fill="#ff694a" stroke="#1e1a08" stroke-width="1.15" stroke-linejoin="round"/>
<polygon points="779,120.5 798.6,121.1 776.5,115.4 756.9,114.9" fill="#ff3507" stroke="#1e1a08" stroke-width="1.15" stroke-linejoin="round"/>
<polygon points="568.4,116.6 589.4,110.2 568.6,107.6 547.6,114.1" fill="#ff5641" stroke="#1e1a08" stroke-width="1.15" stroke-linejoin="round"/>
<polygon points="736.9,115.6 756.9,114.9 735,109.8 715.1,110.7" fill="#ff3014" stroke="#1e1a08" stroke-width="1.15" stroke-linejoin="round"/>
<polygon points="610.5,113.3 631.3,108.4 610.2,105.2 589.4,110.2" fill="#ff4637" stroke="#1e1a08" stroke-width="1.15" stroke-linejoin="round"/>
<polygon points="694.8,112.8 715.1,110.7 693.5,106.2 673.2,108.5" fill="#ff3220" stroke="#1e1a08" stroke-width="1.15" stroke-linejoin="round"/>
<polygon points="652.7,112 673.2,108.5 651.9,104.7 631.3,108.4" fill="#ff3a2c" stroke="#1e1a08" stroke-width="1.15" stroke-linejoin="round"/>
<polygon points="378.7,163.6 400.7,150.1 381.2,149.9 359.2,163.4" fill="#ffbf61" stroke="#1e1a08" stroke-width="1.15" stroke-linejoin="round"/>
<polygon points="273.1,212.9 295.6,195.1 276.8,196 254.4,213.8" fill="#edff61" stroke="#1e1a08" stroke-width="1.15" stroke-linejoin="round"/>
<polygon points="927.3,155.3 945.8,160.1 922.9,151.8 904.3,147.2" fill="#ff9000" stroke="#1e1a08" stroke-width="1.15" stroke-linejoin="round"/>
<polygon points="420.5,150.7 442.4,138.7 422.6,137.9 400.7,150.1" fill="#ffa65f" stroke="#1e1a08" stroke-width="1.15" stroke-linejoin="round"/>
<polygon points="209.1,253.6 231.8,233 213.5,234.4 190.9,255.1" fill="#abff61" stroke="#1e1a08" stroke-width="1.15" stroke-linejoin="round"/>
<polygon points="885.5,143.7 904.3,147.2 881.6,139.6 862.7,136.3" fill="#ff6b00" stroke="#1e1a08" stroke-width="1.15" stroke-linejoin="round"/>
<polygon points="462.6,139.9 484.3,129.3 464.1,128 442.4,138.7" fill="#ff8d59" stroke="#1e1a08" stroke-width="1.15" stroke-linejoin="round"/>
<polygon points="314.6,194.7 337,178.4 317.9,178.8 295.6,195.1" fill="#ffef61" stroke="#1e1a08" stroke-width="1.15" stroke-linejoin="round"/>
<polygon points="843.5,134.1 862.7,136.3 840.2,129.4 820.9,127.4" fill="#ff4c00" stroke="#1e1a08" stroke-width="1.15" stroke-linejoin="round"/>
<polygon points="504.8,131.1 526.3,121.9 505.8,120.1 484.3,129.3" fill="#ff7751" stroke="#1e1a08" stroke-width="1.15" stroke-linejoin="round"/>
<polygon points="801.3,126.6 820.9,127.4 798.6,121.1 779,120.5" fill="#ff3705" stroke="#1e1a08" stroke-width="1.15" stroke-linejoin="round"/>
<polygon points="547.1,124.3 568.4,116.6 547.6,114.1 526.3,121.9" fill="#ff6249" stroke="#1e1a08" stroke-width="1.15" stroke-linejoin="round"/>
<polygon points="356.4,178.4 378.7,163.6 359.2,163.4 337,178.4" fill="#ffd061" stroke="#1e1a08" stroke-width="1.15" stroke-linejoin="round"/>
<polygon points="250.4,232 273.1,212.9 254.4,213.8 231.8,233" fill="#d3ff61" stroke="#1e1a08" stroke-width="1.15" stroke-linejoin="round"/>
<polygon points="759,121.1 779,120.5 756.9,114.9 736.9,115.6" fill="#ff3012" stroke="#1e1a08" stroke-width="1.15" stroke-linejoin="round"/>
<polygon points="589.4,119.5 610.5,113.3 589.4,110.2 568.4,116.6" fill="#ff5140" stroke="#1e1a08" stroke-width="1.15" stroke-linejoin="round"/>
<polygon points="716.7,117.6 736.9,115.6 715.1,110.7 694.8,112.8" fill="#ff311e" stroke="#1e1a08" stroke-width="1.15" stroke-linejoin="round"/>
<polygon points="631.8,116.8 652.7,112 631.3,108.4 610.5,113.3" fill="#ff4236" stroke="#1e1a08" stroke-width="1.15" stroke-linejoin="round"/>
<polygon points="674.3,116.2 694.8,112.8 673.2,108.5 652.7,112" fill="#ff372a" stroke="#1e1a08" stroke-width="1.15" stroke-linejoin="round"/>
<polygon points="186.3,275.6 209.1,253.6 190.9,255.1 168.2,277.1" fill="#8cff61" stroke="#1e1a08" stroke-width="1.15" stroke-linejoin="round"/>
<polygon points="398.4,164.1 420.5,150.7 400.7,150.1 378.7,163.6" fill="#ffb661" stroke="#1e1a08" stroke-width="1.15" stroke-linejoin="round"/>
<polygon points="950.6,163.9 968.9,168.9 945.8,160.1 927.3,155.3" fill="#ff9b00" stroke="#1e1a08" stroke-width="1.15" stroke-linejoin="round"/>
<polygon points="292.1,212.4 314.6,194.7 295.6,195.1 273.1,212.9" fill="#f8ff61" stroke="#1e1a08" stroke-width="1.15" stroke-linejoin="round"/>
<polygon points="440.6,151.8 462.6,139.9 442.4,138.7 420.5,150.7" fill="#ff9e5e" stroke="#1e1a08" stroke-width="1.15" stroke-linejoin="round"/>
<polygon points="908.5,151.6 927.3,155.3 904.3,147.2 885.5,143.7" fill="#ff7400" stroke="#1e1a08" stroke-width="1.15" stroke-linejoin="round"/>
<polygon points="483,141.5 504.8,131.1 484.3,129.3 462.6,139.9" fill="#ff8658" stroke="#1e1a08" stroke-width="1.15" stroke-linejoin="round"/>
<polygon points="227.7,252.6 250.4,232 231.8,233 209.1,253.6" fill="#b8ff61" stroke="#1e1a08" stroke-width="1.15" stroke-linejoin="round"/>
<polygon points="334,194.6 356.4,178.4 337,178.4 314.6,194.7" fill="#ffe461" stroke="#1e1a08" stroke-width="1.15" stroke-linejoin="round"/>
<polygon points="866.3,141.4 885.5,143.7 862.7,136.3 843.5,134.1" fill="#ff5300" stroke="#1e1a08" stroke-width="1.15" stroke-linejoin="round"/>
<polygon points="525.5,133.3 547.1,124.3 526.3,121.9 504.8,131.1" fill="#ff7151" stroke="#1e1a08" stroke-width="1.15" stroke-linejoin="round"/>
<polygon points="823.9,133.2 843.5,134.1 820.9,127.4 801.3,126.6" fill="#ff3b03" stroke="#1e1a08" stroke-width="1.15" stroke-linejoin="round"/>
<polygon points="568.1,127.1 589.4,119.5 568.4,116.6 547.1,124.3" fill="#ff5d48" stroke="#1e1a08" stroke-width="1.15" stroke-linejoin="round"/>
<polygon points="781.4,127 801.3,126.6 779,120.5 759,121.1" fill="#ff3210" stroke="#1e1a08" stroke-width="1.15" stroke-linejoin="round"/>
<polygon points="376.1,178.9 398.4,164.1 378.7,163.6 356.4,178.4" fill="#ffc761" stroke="#1e1a08" stroke-width="1.15" stroke-linejoin="round"/>
<polygon points="610.8,122.9 631.8,116.8 610.5,113.3 589.4,119.5" fill="#ff4c3f" stroke="#1e1a08" stroke-width="1.15" stroke-linejoin="round"/>
<polygon points="738.8,122.9 759,121.1 736.9,115.6 716.7,117.6" fill="#ff301d" stroke="#1e1a08" stroke-width="1.15" stroke-linejoin="round"/>
<polygon points="269.4,231.5 292.1,212.4 273.1,212.9 250.4,232" fill="#dfff61" stroke="#1e1a08" stroke-width="1.15" stroke-linejoin="round"/>
<polygon points="653.5,120.9 674.3,116.2 652.7,112 631.8,116.8" fill="#ff3e34" stroke="#1e1a08" stroke-width="1.15" stroke-linejoin="round"/>
<polygon points="696.2,120.8 716.7,117.6 694.8,112.8 674.3,116.2" fill="#ff3529" stroke="#1e1a08" stroke-width="1.15" stroke-linejoin="round"/>
<polygon points="974.1,173.1 992.4,178.2 968.9,168.9 950.6,163.9" fill="#ffa700" stroke="#1e1a08" stroke-width="1.15" stroke-linejoin="round"/>
<polygon points="418.5,165.1 440.6,151.8 420.5,150.7 398.4,164.1" fill="#ffae61" stroke="#1e1a08" stroke-width="1.15" stroke-linejoin="round"/>
<polygon points="204.7,274.5 227.7,252.6 209.1,253.6 186.3,275.6" fill="#99ff61" stroke="#1e1a08" stroke-width="1.15" stroke-linejoin="round"/>
<polygon points="931.8,160.1 950.6,163.9 927.3,155.3 908.5,151.6" fill="#ff7e00" stroke="#1e1a08" stroke-width="1.15" stroke-linejoin="round"/>
<polygon points="311.3,212.3 334,194.6 314.6,194.7 292.1,212.4" fill="#fffb61" stroke="#1e1a08" stroke-width="1.15" stroke-linejoin="round"/>
<polygon points="461,153.4 483,141.5 462.6,139.9 440.6,151.8" fill="#ff975e" stroke="#1e1a08" stroke-width="1.15" stroke-linejoin="round"/>
<polygon points="889.4,149.2 908.5,151.6 885.5,143.7 866.3,141.4" fill="#ff5b00" stroke="#1e1a08" stroke-width="1.15" stroke-linejoin="round"/>
<polygon points="503.7,143.7 525.5,133.3 504.8,131.1 483,141.5" fill="#ff8058" stroke="#1e1a08" stroke-width="1.15" stroke-linejoin="round"/>
<polygon points="246.5,252 269.4,231.5 250.4,232 227.7,252.6" fill="#c4ff61" stroke="#1e1a08" stroke-width="1.15" stroke-linejoin="round"/>
<polygon points="353.6,195.1 376.1,178.9 356.4,178.4 334,194.6" fill="#ffdb61" stroke="#1e1a08" stroke-width="1.15" stroke-linejoin="round"/>
<polygon points="846.8,140.3 866.3,141.4 843.5,134.1 823.9,133.2" fill="#ff3f01" stroke="#1e1a08" stroke-width="1.15" stroke-linejoin="round"/>
<polygon points="546.5,136 568.1,127.1 547.1,124.3 525.5,133.3" fill="#ff6b50" stroke="#1e1a08" stroke-width="1.15" stroke-linejoin="round"/>
<polygon points="804.1,133.5 823.9,133.2 801.3,126.6 781.4,127" fill="#ff340e" stroke="#1e1a08" stroke-width="1.15" stroke-linejoin="round"/>
<polygon points="589.4,130.4 610.8,122.9 589.4,119.5 568.1,127.1" fill="#ff5947" stroke="#1e1a08" stroke-width="1.15" stroke-linejoin="round"/>
<polygon points="761.3,128.7 781.4,127 759,121.1 738.8,122.9" fill="#ff311b" stroke="#1e1a08" stroke-width="1.15" stroke-linejoin="round"/>
<polygon points="632.4,126.8 653.5,120.9 631.8,116.8 610.8,122.9" fill="#ff493e" stroke="#1e1a08" stroke-width="1.15" stroke-linejoin="round"/>
<polygon points="718.3,126 738.8,122.9 716.7,117.6 696.2,120.8" fill="#ff3427" stroke="#1e1a08" stroke-width="1.15" stroke-linejoin="round"/>
<polygon points="675.4,125.4 696.2,120.8 674.3,116.2 653.5,120.9" fill="#ff3c33" stroke="#1e1a08" stroke-width="1.15" stroke-linejoin="round"/>
<polygon points="396.1,179.8 418.5,165.1 398.4,164.1 376.1,178.9" fill="#ffbf61" stroke="#1e1a08" stroke-width="1.15" stroke-linejoin="round"/>
<polygon points="997.8,182.8 1016,188 992.4,178.2 974.1,173.1" fill="#ffb500" stroke="#1e1a08" stroke-width="1.15" stroke-linejoin="round"/>
<polygon points="288.5,231.3 311.3,212.3 292.1,212.4 269.4,231.5" fill="#eaff61" stroke="#1e1a08" stroke-width="1.15" stroke-linejoin="round"/>
<polygon points="438.8,166.6 461,153.4 440.6,151.8 418.5,165.1" fill="#ffa761" stroke="#1e1a08" stroke-width="1.15" stroke-linejoin="round"/>
<polygon points="955.4,169.1 974.1,173.1 950.6,163.9 931.8,160.1" fill="#ff8a00" stroke="#1e1a08" stroke-width="1.15" stroke-linejoin="round"/>
<polygon points="223.5,273.9 246.5,252 227.7,252.6 204.7,274.5" fill="#a6ff61" stroke="#1e1a08" stroke-width="1.15" stroke-linejoin="round"/>
<polygon points="330.9,212.6 353.6,195.1 334,194.6 311.3,212.3" fill="#fff161" stroke="#1e1a08" stroke-width="1.15" stroke-linejoin="round"/>
<polygon points="481.7,155.4 503.7,143.7 483,141.5 461,153.4" fill="#ff915e" stroke="#1e1a08" stroke-width="1.15" stroke-linejoin="round"/>
<polygon points="912.8,157.5 931.8,160.1 908.5,151.6 889.4,149.2" fill="#ff6500" stroke="#1e1a08" stroke-width="1.15" stroke-linejoin="round"/>
<polygon points="524.7,146.3 546.5,136 525.5,133.3 503.7,143.7" fill="#ff7b57" stroke="#1e1a08" stroke-width="1.15" stroke-linejoin="round"/>
<polygon points="870,148 889.4,149.2 866.3,141.4 846.8,140.3" fill="#ff4600" stroke="#1e1a08" stroke-width="1.15" stroke-linejoin="round"/>
<polygon points="373.5,195.9 396.1,179.8 376.1,178.9 353.6,195.1" fill="#ffd261" stroke="#1e1a08" stroke-width="1.15" stroke-linejoin="round"/>
<polygon points="265.6,251.8 288.5,231.3 269.4,231.5 246.5,252" fill="#cfff61" stroke="#1e1a08" stroke-width="1.15" stroke-linejoin="round"/>
<polygon points="567.8,139.2 589.4,130.4 568.1,127.1 546.5,136" fill="#ff674f" stroke="#1e1a08" stroke-width="1.15" stroke-linejoin="round"/>
<polygon points="827,140.4 846.8,140.3 823.9,133.2 804.1,133.5" fill="#ff380c" stroke="#1e1a08" stroke-width="1.15" stroke-linejoin="round"/>
<polygon points="611,134.2 632.4,126.8 610.8,122.9 589.4,130.4" fill="#ff5546" stroke="#1e1a08" stroke-width="1.15" stroke-linejoin="round"/>
<polygon points="783.9,135 804.1,133.5 781.4,127 761.3,128.7" fill="#ff3319" stroke="#1e1a08" stroke-width="1.15" stroke-linejoin="round"/>
<polygon points="654.3,131.2 675.4,125.4 653.5,120.9 632.4,126.8" fill="#ff463c" stroke="#1e1a08" stroke-width="1.15" stroke-linejoin="round"/>
<polygon points="740.8,131.7 761.3,128.7 738.8,122.9 718.3,126" fill="#ff3426" stroke="#1e1a08" stroke-width="1.15" stroke-linejoin="round"/>
<polygon points="697.5,130.4 718.3,126 696.2,120.8 675.4,125.4" fill="#ff3b31" stroke="#1e1a08" stroke-width="1.15" stroke-linejoin="round"/>
<polygon points="416.4,181.2 438.8,166.6 418.5,165.1 396.1,179.8" fill="#ffb761" stroke="#1e1a08" stroke-width="1.15" stroke-linejoin="round"/>
<polygon points="308,231.6 330.9,212.6 311.3,212.3 288.5,231.3" fill="#f5ff61" stroke="#1e1a08" stroke-width="1.15" stroke-linejoin="round"/>
<polygon points="979.2,178.7 997.8,182.8 974.1,173.1 955.4,169.1" fill="#ff9600" stroke="#1e1a08" stroke-width="1.15" stroke-linejoin="round"/>
<polygon points="459.4,168.5 481.7,155.4 461,153.4 438.8,166.6" fill="#ffa161" stroke="#1e1a08" stroke-width="1.15" stroke-linejoin="round"/>
<polygon points="936.4,166.4 955.4,169.1 931.8,160.1 912.8,157.5" fill="#ff7000" stroke="#1e1a08" stroke-width="1.15" stroke-linejoin="round"/>
<polygon points="242.5,273.7 265.6,251.8 246.5,252 223.5,273.9" fill="#b2ff61" stroke="#1e1a08" stroke-width="1.15" stroke-linejoin="round"/>
<polygon points="502.6,157.9 524.7,146.3 503.7,143.7 481.7,155.4" fill="#ff8b5d" stroke="#1e1a08" stroke-width="1.15" stroke-linejoin="round"/>
<polygon points="350.8,213.4 373.5,195.9 353.6,195.1 330.9,212.6" fill="#ffe861" stroke="#1e1a08" stroke-width="1.15" stroke-linejoin="round"/>
<polygon points="893.4,156.2 912.8,157.5 889.4,149.2 870,148" fill="#ff4f00" stroke="#1e1a08" stroke-width="1.15" stroke-linejoin="round"/>
<polygon points="546,149.3 567.8,139.2 546.5,136 524.7,146.3" fill="#ff7656" stroke="#1e1a08" stroke-width="1.15" stroke-linejoin="round"/>
<polygon points="850.2,148 870,148 846.8,140.3 827,140.4" fill="#ff3e0b" stroke="#1e1a08" stroke-width="1.15" stroke-linejoin="round"/>
<polygon points="589.4,142.8 611,134.2 589.4,130.4 567.8,139.2" fill="#ff634e" stroke="#1e1a08" stroke-width="1.15" stroke-linejoin="round"/>
<polygon points="393.7,197.2 416.4,181.2 396.1,179.8 373.5,195.9" fill="#ffca61" stroke="#1e1a08" stroke-width="1.15" stroke-linejoin="round"/>
<polygon points="806.9,141.9 827,140.4 804.1,133.5 783.9,135" fill="#ff3618" stroke="#1e1a08" stroke-width="1.15" stroke-linejoin="round"/>
<polygon points="285,252 308,231.6 288.5,231.3 265.6,251.8" fill="#daff61" stroke="#1e1a08" stroke-width="1.15" stroke-linejoin="round"/>
<polygon points="632.9,138.5 654.3,131.2 632.4,126.8 611,134.2" fill="#ff5245" stroke="#1e1a08" stroke-width="1.15" stroke-linejoin="round"/>
<polygon points="763.5,137.9 783.9,135 761.3,128.7 740.8,131.7" fill="#ff3524" stroke="#1e1a08" stroke-width="1.15" stroke-linejoin="round"/>
<polygon points="676.5,136.2 697.5,130.4 675.4,125.4 654.3,131.2" fill="#ff443b" stroke="#1e1a08" stroke-width="1.15" stroke-linejoin="round"/>
<polygon points="720,136 740.8,131.7 718.3,126 697.5,130.4" fill="#ff3b30" stroke="#1e1a08" stroke-width="1.15" stroke-linejoin="round"/>
<polygon points="436.9,183.1 459.4,168.5 438.8,166.6 416.4,181.2" fill="#ffb161" stroke="#1e1a08" stroke-width="1.15" stroke-linejoin="round"/>
<polygon points="327.8,232.4 350.8,213.4 330.9,212.6 308,231.6" fill="#feff61" stroke="#1e1a08" stroke-width="1.15" stroke-linejoin="round"/>
<polygon points="960.3,175.9 979.2,178.7 955.4,169.1 936.4,166.4" fill="#ff7c00" stroke="#1e1a08" stroke-width="1.15" stroke-linejoin="round"/>
<polygon points="480.3,170.9 502.6,157.9 481.7,155.4 459.4,168.5" fill="#ff9b61" stroke="#1e1a08" stroke-width="1.15" stroke-linejoin="round"/>
<polygon points="917.1,164.9 936.4,166.4 912.8,157.5 893.4,156.2" fill="#ff5a00" stroke="#1e1a08" stroke-width="1.15" stroke-linejoin="round"/>
<polygon points="523.9,160.9 546,149.3 524.7,146.3 502.6,157.9" fill="#ff865d" stroke="#1e1a08" stroke-width="1.15" stroke-linejoin="round"/>
<polygon points="261.8,273.9 285,252 265.6,251.8 242.5,273.7" fill="#bdff61" stroke="#1e1a08" stroke-width="1.15" stroke-linejoin="round"/>
<polygon points="370.9,214.7 393.7,197.2 373.5,195.9 350.8,213.4" fill="#ffe061" stroke="#1e1a08" stroke-width="1.15" stroke-linejoin="round"/>
<polygon points="873.7,156 893.4,156.2 870,148 850.2,148" fill="#ff4409" stroke="#1e1a08" stroke-width="1.15" stroke-linejoin="round"/>
<polygon points="567.5,152.9 589.4,142.8 567.8,139.2 546,149.3" fill="#ff7256" stroke="#1e1a08" stroke-width="1.15" stroke-linejoin="round"/>
<polygon points="830.2,149.3 850.2,148 827,140.4 806.9,141.9" fill="#ff3b16" stroke="#1e1a08" stroke-width="1.15" stroke-linejoin="round"/>
<polygon points="611.3,147 632.9,138.5 611,134.2 589.4,142.8" fill="#ff604d" stroke="#1e1a08" stroke-width="1.15" stroke-linejoin="round"/>
<polygon points="786.5,144.6 806.9,141.9 783.9,135 763.5,137.9" fill="#ff3822" stroke="#1e1a08" stroke-width="1.15" stroke-linejoin="round"/>
<polygon points="655.1,143.2 676.5,136.2 654.3,131.2 632.9,138.5" fill="#ff5044" stroke="#1e1a08" stroke-width="1.15" stroke-linejoin="round"/>
<polygon points="414.3,199 436.9,183.1 416.4,181.2 393.7,197.2" fill="#ffc361" stroke="#1e1a08" stroke-width="1.15" stroke-linejoin="round"/>
<polygon points="742.7,142 763.5,137.9 740.8,131.7 720,136" fill="#ff3b2e" stroke="#1e1a08" stroke-width="1.15" stroke-linejoin="round"/>
<polygon points="698.9,141.6 720,136 697.5,130.4 676.5,136.2" fill="#ff443a" stroke="#1e1a08" stroke-width="1.15" stroke-linejoin="round"/>
<polygon points="304.7,252.7 327.8,232.4 308,231.6 285,252" fill="#e4ff61" stroke="#1e1a08" stroke-width="1.15" stroke-linejoin="round"/>
<polygon points="457.8,185.4 480.3,170.9 459.4,168.5 436.9,183.1" fill="#ffab61" stroke="#1e1a08" stroke-width="1.15" stroke-linejoin="round"/>
<polygon points="347.9,233.6 370.9,214.7 350.8,213.4 327.8,232.4" fill="#fff761" stroke="#1e1a08" stroke-width="1.15" stroke-linejoin="round"/>
<polygon points="501.5,173.8 523.9,160.9 502.6,157.9 480.3,170.9" fill="#ff9661" stroke="#1e1a08" stroke-width="1.15" stroke-linejoin="round"/>
<polygon points="941.1,174.2 960.3,175.9 936.4,166.4 917.1,164.9" fill="#ff6600" stroke="#1e1a08" stroke-width="1.15" stroke-linejoin="round"/>
<polygon points="545.4,164.4 567.5,152.9 546,149.3 523.9,160.9" fill="#ff825c" stroke="#1e1a08" stroke-width="1.15" stroke-linejoin="round"/>
<polygon points="897.5,164.7 917.1,164.9 893.4,156.2 873.7,156" fill="#ff4d07" stroke="#1e1a08" stroke-width="1.15" stroke-linejoin="round"/>
<polygon points="281.4,274.5 304.7,252.7 285,252 261.8,273.9" fill="#c7ff61" stroke="#1e1a08" stroke-width="1.15" stroke-linejoin="round"/>
<polygon points="391.4,216.4 414.3,199 393.7,197.2 370.9,214.7" fill="#ffd861" stroke="#1e1a08" stroke-width="1.15" stroke-linejoin="round"/>
<polygon points="589.4,157 611.3,147 589.4,142.8 567.5,152.9" fill="#ff6f55" stroke="#1e1a08" stroke-width="1.15" stroke-linejoin="round"/>
<polygon points="853.7,157.2 873.7,156 850.2,148 830.2,149.3" fill="#ff4014" stroke="#1e1a08" stroke-width="1.15" stroke-linejoin="round"/>
<polygon points="633.5,151.7 655.1,143.2 632.9,138.5 611.3,147" fill="#ff5e4c" stroke="#1e1a08" stroke-width="1.15" stroke-linejoin="round"/>
<polygon points="809.8,151.9 830.2,149.3 806.9,141.9 786.5,144.6" fill="#ff3c20" stroke="#1e1a08" stroke-width="1.15" stroke-linejoin="round"/>
<polygon points="677.6,148.6 698.9,141.6 676.5,136.2 655.1,143.2" fill="#ff4f43" stroke="#1e1a08" stroke-width="1.15" stroke-linejoin="round"/>
<polygon points="765.8,148.6 786.5,144.6 763.5,137.9 742.7,142" fill="#ff3d2d" stroke="#1e1a08" stroke-width="1.15" stroke-linejoin="round"/>
<polygon points="721.7,147.5 742.7,142 720,136 698.9,141.6" fill="#ff4438" stroke="#1e1a08" stroke-width="1.15" stroke-linejoin="round"/>
<polygon points="435.1,201.3 457.8,185.4 436.9,183.1 414.3,199" fill="#ffbd61" stroke="#1e1a08" stroke-width="1.15" stroke-linejoin="round"/>
<polygon points="324.7,253.9 347.9,233.6 327.8,232.4 304.7,252.7" fill="#ecff61" stroke="#1e1a08" stroke-width="1.15" stroke-linejoin="round"/>
<polygon points="479,188.2 501.5,173.8 480.3,170.9 457.8,185.4" fill="#ffa661" stroke="#1e1a08" stroke-width="1.15" stroke-linejoin="round"/>
<polygon points="368.3,235.2 391.4,216.4 370.9,214.7 347.9,233.6" fill="#fff061" stroke="#1e1a08" stroke-width="1.15" stroke-linejoin="round"/>
<polygon points="523,177.2 545.4,164.4 523.9,160.9 501.5,173.8" fill="#ff9361" stroke="#1e1a08" stroke-width="1.15" stroke-linejoin="round"/>
<polygon points="921.5,173.9 941.1,174.2 917.1,164.9 897.5,164.7" fill="#ff5605" stroke="#1e1a08" stroke-width="1.15" stroke-linejoin="round"/>
<polygon points="567.3,168.3 589.4,157 567.5,152.9 545.4,164.4" fill="#ff7f5c" stroke="#1e1a08" stroke-width="1.15" stroke-linejoin="round"/>
<polygon points="877.5,165.7 897.5,164.7 873.7,156 853.7,157.2" fill="#ff4712" stroke="#1e1a08" stroke-width="1.15" stroke-linejoin="round"/>
<polygon points="611.6,161.6 633.5,151.7 611.3,147 589.4,157" fill="#ff6d54" stroke="#1e1a08" stroke-width="1.15" stroke-linejoin="round"/>
<polygon points="412.1,218.6 435.1,201.3 414.3,199 391.4,216.4" fill="#ffd261" stroke="#1e1a08" stroke-width="1.15" stroke-linejoin="round"/>
<polygon points="301.3,275.7 324.7,253.9 304.7,252.7 281.4,274.5" fill="#d0ff61" stroke="#1e1a08" stroke-width="1.15" stroke-linejoin="round"/>
<polygon points="833.3,159.7 853.7,157.2 830.2,149.3 809.8,151.9" fill="#ff401f" stroke="#1e1a08" stroke-width="1.15" stroke-linejoin="round"/>
<polygon points="655.9,156.9 677.6,148.6 655.1,143.2 633.5,151.7" fill="#ff5c4b" stroke="#1e1a08" stroke-width="1.15" stroke-linejoin="round"/>
<polygon points="789.1,155.8 809.8,151.9 786.5,144.6 765.8,148.6" fill="#ff402b" stroke="#1e1a08" stroke-width="1.15" stroke-linejoin="round"/>
<polygon points="700.3,154.4 721.7,147.5 698.9,141.6 677.6,148.6" fill="#ff4f41" stroke="#1e1a08" stroke-width="1.15" stroke-linejoin="round"/>
<polygon points="744.7,154 765.8,148.6 742.7,142 721.7,147.5" fill="#ff4537" stroke="#1e1a08" stroke-width="1.15" stroke-linejoin="round"/>
<polygon points="456.2,204 479,188.2 457.8,185.4 435.1,201.3" fill="#ffb861" stroke="#1e1a08" stroke-width="1.15" stroke-linejoin="round"/>
<polygon points="345,255.5 368.3,235.2 347.9,233.6 324.7,253.9" fill="#f5ff61" stroke="#1e1a08" stroke-width="1.15" stroke-linejoin="round"/>
<polygon points="500.4,191.5 523,177.2 501.5,173.8 479,188.2" fill="#ffa261" stroke="#1e1a08" stroke-width="1.15" stroke-linejoin="round"/>
<polygon points="544.9,181.1 567.3,168.3 545.4,164.4 523,177.2" fill="#ff9061" stroke="#1e1a08" stroke-width="1.15" stroke-linejoin="round"/>
<polygon points="389,237.4 412.1,218.6 391.4,216.4 368.3,235.2" fill="#ffe961" stroke="#1e1a08" stroke-width="1.15" stroke-linejoin="round"/>
<polygon points="589.4,172.8 611.6,161.6 589.4,157 567.3,168.3" fill="#ff7d5b" stroke="#1e1a08" stroke-width="1.15" stroke-linejoin="round"/>
<polygon points="901.6,174.8 921.5,173.9 897.5,164.7 877.5,165.7" fill="#ff5010" stroke="#1e1a08" stroke-width="1.15" stroke-linejoin="round"/>
<polygon points="634,166.7 655.9,156.9 633.5,151.7 611.6,161.6" fill="#ff6b53" stroke="#1e1a08" stroke-width="1.15" stroke-linejoin="round"/>
<polygon points="857.2,168 877.5,165.7 853.7,157.2 833.3,159.7" fill="#ff471d" stroke="#1e1a08" stroke-width="1.15" stroke-linejoin="round"/>
<polygon points="433.2,221.3 456.2,204 435.1,201.3 412.1,218.6" fill="#ffcc61" stroke="#1e1a08" stroke-width="1.15" stroke-linejoin="round"/>
<polygon points="678.7,162.6 700.3,154.4 677.6,148.6 655.9,156.9" fill="#ff5c4a" stroke="#1e1a08" stroke-width="1.15" stroke-linejoin="round"/>
<polygon points="812.7,163.5 833.3,159.7 809.8,151.9 789.1,155.8" fill="#ff4429" stroke="#1e1a08" stroke-width="1.15" stroke-linejoin="round"/>
<polygon points="321.5,277.3 345,255.5 324.7,253.9 301.3,275.7" fill="#d8ff61" stroke="#1e1a08" stroke-width="1.15" stroke-linejoin="round"/>
<polygon points="723.4,160.8 744.7,154 721.7,147.5 700.3,154.4" fill="#ff5040" stroke="#1e1a08" stroke-width="1.15" stroke-linejoin="round"/>
<polygon points="768.1,161 789.1,155.8 765.8,148.6 744.7,154" fill="#ff4835" stroke="#1e1a08" stroke-width="1.15" stroke-linejoin="round"/>
<polygon points="477.6,207.2 500.4,191.5 479,188.2 456.2,204" fill="#ffb361" stroke="#1e1a08" stroke-width="1.15" stroke-linejoin="round"/>
<polygon points="365.6,257.6 389,237.4 368.3,235.2 345,255.5" fill="#fcff61" stroke="#1e1a08" stroke-width="1.15" stroke-linejoin="round"/>
<polygon points="522.2,195.3 544.9,181.1 523,177.2 500.4,191.5" fill="#ff9f61" stroke="#1e1a08" stroke-width="1.15" stroke-linejoin="round"/>
<polygon points="567,185.5 589.4,172.8 567.3,168.3 544.9,181.1" fill="#ff8e61" stroke="#1e1a08" stroke-width="1.15" stroke-linejoin="round"/>
<polygon points="410,240 433.2,221.3 412.1,218.6 389,237.4" fill="#ffe361" stroke="#1e1a08" stroke-width="1.15" stroke-linejoin="round"/>
<polygon points="611.8,177.8 634,166.7 611.6,161.6 589.4,172.8" fill="#ff7b5a" stroke="#1e1a08" stroke-width="1.15" stroke-linejoin="round"/>
<polygon points="881.3,177 901.6,174.8 877.5,165.7 857.2,168" fill="#ff4e1b" stroke="#1e1a08" stroke-width="1.15" stroke-linejoin="round"/>
<polygon points="656.8,172.3 678.7,162.6 655.9,156.9 634,166.7" fill="#ff6b52" stroke="#1e1a08" stroke-width="1.15" stroke-linejoin="round"/>
<polygon points="836.6,171.7 857.2,168 833.3,159.7 812.7,163.5" fill="#ff4927" stroke="#1e1a08" stroke-width="1.15" stroke-linejoin="round"/>
<polygon points="701.8,168.9 723.4,160.8 700.3,154.4 678.7,162.6" fill="#ff5d49" stroke="#1e1a08" stroke-width="1.15" stroke-linejoin="round"/>
<polygon points="791.7,168.6 812.7,163.5 789.1,155.8 768.1,161" fill="#ff4b33" stroke="#1e1a08" stroke-width="1.15" stroke-linejoin="round"/>
<polygon points="746.7,167.7 768.1,161 744.7,154 723.4,160.8" fill="#ff523e" stroke="#1e1a08" stroke-width="1.15" stroke-linejoin="round"/>
<polygon points="454.5,224.5 477.6,207.2 456.2,204 433.2,221.3" fill="#ffc761" stroke="#1e1a08" stroke-width="1.15" stroke-linejoin="round"/>
<polygon points="342.1,279.4 365.6,257.6 345,255.5 321.5,277.3" fill="#e0ff61" stroke="#1e1a08" stroke-width="1.15" stroke-linejoin="round"/>
<polygon points="499.3,211 522.2,195.3 500.4,191.5 477.6,207.2" fill="#ffb061" stroke="#1e1a08" stroke-width="1.15" stroke-linejoin="round"/>
<polygon points="386.5,260.2 410,240 389,237.4 365.6,257.6" fill="#fffc61" stroke="#1e1a08" stroke-width="1.15" stroke-linejoin="round"/>
<polygon points="544.3,199.7 567,185.5 544.9,181.1 522.2,195.3" fill="#ff9c61" stroke="#1e1a08" stroke-width="1.15" stroke-linejoin="round"/>
<polygon points="589.4,190.4 611.8,177.8 589.4,172.8 567,185.5" fill="#ff8c60" stroke="#1e1a08" stroke-width="1.15" stroke-linejoin="round"/>
<polygon points="431.3,243.1 454.5,224.5 433.2,221.3 410,240" fill="#ffde61" stroke="#1e1a08" stroke-width="1.15" stroke-linejoin="round"/>
<polygon points="634.6,183.4 656.8,172.3 634,166.7 611.8,177.8" fill="#ff7a59" stroke="#1e1a08" stroke-width="1.15" stroke-linejoin="round"/>
<polygon points="860.7,180.6 881.3,177 857.2,168 836.6,171.7" fill="#ff5025" stroke="#1e1a08" stroke-width="1.15" stroke-linejoin="round"/>
<polygon points="679.8,178.5 701.8,168.9 678.7,162.6 656.8,172.3" fill="#ff6b51" stroke="#1e1a08" stroke-width="1.15" stroke-linejoin="round"/>
<polygon points="815.6,176.8 836.6,171.7 812.7,163.5 791.7,168.6" fill="#ff5031" stroke="#1e1a08" stroke-width="1.15" stroke-linejoin="round"/>
<polygon points="725.1,175.7 746.7,167.7 723.4,160.8 701.8,168.9" fill="#ff5e47" stroke="#1e1a08" stroke-width="1.15" stroke-linejoin="round"/>
<polygon points="770.4,175.2 791.7,168.6 768.1,161 746.7,167.7" fill="#ff553d" stroke="#1e1a08" stroke-width="1.15" stroke-linejoin="round"/>
<polygon points="476.2,228.1 499.3,211 477.6,207.2 454.5,224.5" fill="#ffc361" stroke="#1e1a08" stroke-width="1.15" stroke-linejoin="round"/>
<polygon points="362.9,281.9 386.5,260.2 365.6,257.6 342.1,279.4" fill="#e7ff61" stroke="#1e1a08" stroke-width="1.15" stroke-linejoin="round"/>
<polygon points="521.4,215.3 544.3,199.7 522.2,195.3 499.3,211" fill="#ffad61" stroke="#1e1a08" stroke-width="1.15" stroke-linejoin="round"/>
<polygon points="566.7,204.5 589.4,190.4 567,185.5 544.3,199.7" fill="#ff9b61" stroke="#1e1a08" stroke-width="1.15" stroke-linejoin="round"/>
<polygon points="407.8,263.3 431.3,243.1 410,240 386.5,260.2" fill="#fff661" stroke="#1e1a08" stroke-width="1.15" stroke-linejoin="round"/>
<polygon points="612.1,195.9 634.6,183.4 611.8,177.8 589.4,190.4" fill="#ff8b60" stroke="#1e1a08" stroke-width="1.15" stroke-linejoin="round"/>
<polygon points="657.6,189.5 679.8,178.5 656.8,172.3 634.6,183.4" fill="#ff7a58" stroke="#1e1a08" stroke-width="1.15" stroke-linejoin="round"/>
<polygon points="452.9,246.8 476.2,228.1 454.5,224.5 431.3,243.1" fill="#ffd961" stroke="#1e1a08" stroke-width="1.15" stroke-linejoin="round"/>
<polygon points="703.2,185.2 725.1,175.7 701.8,168.9 679.8,178.5" fill="#ff6c4f" stroke="#1e1a08" stroke-width="1.15" stroke-linejoin="round"/>
<polygon points="839.8,185.5 860.7,180.6 836.6,171.7 815.6,176.8" fill="#ff5530" stroke="#1e1a08" stroke-width="1.15" stroke-linejoin="round"/>
<polygon points="748.8,183.1 770.4,175.2 746.7,167.7 725.1,175.7" fill="#ff6046" stroke="#1e1a08" stroke-width="1.15" stroke-linejoin="round"/>
<polygon points="794.3,183.2 815.6,176.8 791.7,168.6 770.4,175.2" fill="#ff593b" stroke="#1e1a08" stroke-width="1.15" stroke-linejoin="round"/>
<polygon points="498.2,232.4 521.4,215.3 499.3,211 476.2,228.1" fill="#ffc061" stroke="#1e1a08" stroke-width="1.15" stroke-linejoin="round"/>
<polygon points="384.1,285 407.8,263.3 386.5,260.2 362.9,281.9" fill="#edff61" stroke="#1e1a08" stroke-width="1.15" stroke-linejoin="round"/>
<polygon points="543.7,220 566.7,204.5 544.3,199.7 521.4,215.3" fill="#ffab61" stroke="#1e1a08" stroke-width="1.15" stroke-linejoin="round"/>
<polygon points="589.4,209.9 612.1,195.9 589.4,190.4 566.7,204.5" fill="#ff9a61" stroke="#1e1a08" stroke-width="1.15" stroke-linejoin="round"/>
<polygon points="429.3,266.9 452.9,246.8 431.3,243.1 407.8,263.3" fill="#fff261" stroke="#1e1a08" stroke-width="1.15" stroke-linejoin="round"/>
<polygon points="635.1,201.9 657.6,189.5 634.6,183.4 612.1,195.9" fill="#ff8b5f" stroke="#1e1a08" stroke-width="1.15" stroke-linejoin="round"/>
<polygon points="681,196.1 703.2,185.2 679.8,178.5 657.6,189.5" fill="#ff7b57" stroke="#1e1a08" stroke-width="1.15" stroke-linejoin="round"/>
<polygon points="726.9,192.5 748.8,183.1 725.1,175.7 703.2,185.2" fill="#ff6e4e" stroke="#1e1a08" stroke-width="1.15" stroke-linejoin="round"/>
<polygon points="474.8,250.9 498.2,232.4 476.2,228.1 452.9,246.8" fill="#ffd661" stroke="#1e1a08" stroke-width="1.15" stroke-linejoin="round"/>
<polygon points="818.6,191.8 839.8,185.5 815.6,176.8 794.3,183.2" fill="#ff5e39" stroke="#1e1a08" stroke-width="1.15" stroke-linejoin="round"/>
<polygon points="772.7,191 794.3,183.2 770.4,175.2 748.8,183.1" fill="#ff6444" stroke="#1e1a08" stroke-width="1.15" stroke-linejoin="round"/>
<polygon points="520.5,237.1 543.7,220 521.4,215.3 498.2,232.4" fill="#ffbe61" stroke="#1e1a08" stroke-width="1.15" stroke-linejoin="round"/>
<polygon points="405.6,288.6 429.3,266.9 407.8,263.3 384.1,285" fill="#f2ff61" stroke="#1e1a08" stroke-width="1.15" stroke-linejoin="round"/>
<polygon points="566.4,225.4 589.4,209.9 566.7,204.5 543.7,220" fill="#ffaa61" stroke="#1e1a08" stroke-width="1.15" stroke-linejoin="round"/>
<polygon points="612.4,215.8 635.1,201.9 612.1,195.9 589.4,209.9" fill="#ff9a61" stroke="#1e1a08" stroke-width="1.15" stroke-linejoin="round"/>
<polygon points="451.2,271 474.8,250.9 452.9,246.8 429.3,266.9" fill="#ffee61" stroke="#1e1a08" stroke-width="1.15" stroke-linejoin="round"/>
<polygon points="658.5,208.5 681,196.1 657.6,189.5 635.1,201.9" fill="#ff8b5e" stroke="#1e1a08" stroke-width="1.15" stroke-linejoin="round"/>
<polygon points="704.6,203.3 726.9,192.5 703.2,185.2 681,196.1" fill="#ff7d56" stroke="#1e1a08" stroke-width="1.15" stroke-linejoin="round"/>
<polygon points="750.8,200.3 772.7,191 748.8,183.1 726.9,192.5" fill="#ff714c" stroke="#1e1a08" stroke-width="1.15" stroke-linejoin="round"/>
<polygon points="797,199.6 818.6,191.8 794.3,183.2 772.7,191" fill="#ff6842" stroke="#1e1a08" stroke-width="1.15" stroke-linejoin="round"/>
<polygon points="497.1,255.6 520.5,237.1 498.2,232.4 474.8,250.9" fill="#ffd361" stroke="#1e1a08" stroke-width="1.15" stroke-linejoin="round"/>
<polygon points="543.1,242.4 566.4,225.4 543.7,220 520.5,237.1" fill="#ffbc61" stroke="#1e1a08" stroke-width="1.15" stroke-linejoin="round"/>
<polygon points="427.4,292.7 451.2,271 429.3,266.9 405.6,288.6" fill="#f6ff61" stroke="#1e1a08" stroke-width="1.15" stroke-linejoin="round"/>
<polygon points="589.4,231.2 612.4,215.8 589.4,209.9 566.4,225.4" fill="#ffaa61" stroke="#1e1a08" stroke-width="1.15" stroke-linejoin="round"/>
<polygon points="635.7,222.3 658.5,208.5 635.1,201.9 612.4,215.8" fill="#ff9b61" stroke="#1e1a08" stroke-width="1.15" stroke-linejoin="round"/>
<polygon points="473.4,275.7 497.1,255.6 474.8,250.9 451.2,271" fill="#ffeb61" stroke="#1e1a08" stroke-width="1.15" stroke-linejoin="round"/>
<polygon points="682.1,215.6 704.6,203.3 681,196.1 658.5,208.5" fill="#ff8d5c" stroke="#1e1a08" stroke-width="1.15" stroke-linejoin="round"/>
<polygon points="728.6,211.1 750.8,200.3 726.9,192.5 704.6,203.3" fill="#ff7f54" stroke="#1e1a08" stroke-width="1.15" stroke-linejoin="round"/>
<polygon points="775.1,208.8 797,199.6 772.7,191 750.8,200.3" fill="#ff754b" stroke="#1e1a08" stroke-width="1.15" stroke-linejoin="round"/>
<polygon points="519.6,260.9 543.1,242.4 520.5,237.1 497.1,255.6" fill="#ffd161" stroke="#1e1a08" stroke-width="1.15" stroke-linejoin="round"/>
<polygon points="566.1,248.2 589.4,231.2 566.4,225.4 543.1,242.4" fill="#ffbc61" stroke="#1e1a08" stroke-width="1.15" stroke-linejoin="round"/>
<polygon points="612.7,237.7 635.7,222.3 612.4,215.8 589.4,231.2" fill="#ffaa61" stroke="#1e1a08" stroke-width="1.15" stroke-linejoin="round"/>
<polygon points="449.5,297.3 473.4,275.7 451.2,271 427.4,292.7" fill="#f9ff61" stroke="#1e1a08" stroke-width="1.15" stroke-linejoin="round"/>
<polygon points="659.4,229.4 682.1,215.6 658.5,208.5 635.7,222.3" fill="#ff9c61" stroke="#1e1a08" stroke-width="1.15" stroke-linejoin="round"/>
<polygon points="706.1,223.3 728.6,211.1 704.6,203.3 682.1,215.6" fill="#ff8f5b" stroke="#1e1a08" stroke-width="1.15" stroke-linejoin="round"/>
<polygon points="495.9,280.9 519.6,260.9 497.1,255.6 473.4,275.7" fill="#ffe861" stroke="#1e1a08" stroke-width="1.15" stroke-linejoin="round"/>
<polygon points="752.9,219.4 775.1,208.8 750.8,200.3 728.6,211.1" fill="#ff8353" stroke="#1e1a08" stroke-width="1.15" stroke-linejoin="round"/>
<polygon points="542.5,266.6 566.1,248.2 543.1,242.4 519.6,260.9" fill="#ffd061" stroke="#1e1a08" stroke-width="1.15" stroke-linejoin="round"/>
<polygon points="589.3,254.6 612.7,237.7 589.4,231.2 566.1,248.2" fill="#ffbc61" stroke="#1e1a08" stroke-width="1.15" stroke-linejoin="round"/>
<polygon points="636.3,244.7 659.4,229.4 635.7,222.3 612.7,237.7" fill="#ffab61" stroke="#1e1a08" stroke-width="1.15" stroke-linejoin="round"/>
<polygon points="472,302.5 495.9,280.9 473.4,275.7 449.5,297.3" fill="#fcff61" stroke="#1e1a08" stroke-width="1.15" stroke-linejoin="round"/>
<polygon points="683.3,237 706.1,223.3 682.1,215.6 659.4,229.4" fill="#ff9f61" stroke="#1e1a08" stroke-width="1.15" stroke-linejoin="round"/>
<polygon points="730.4,231.6 752.9,219.4 728.6,211.1 706.1,223.3" fill="#ff925a" stroke="#1e1a08" stroke-width="1.15" stroke-linejoin="round"/>
<polygon points="518.8,286.6 542.5,266.6 519.6,260.9 495.9,280.9" fill="#ffe761" stroke="#1e1a08" stroke-width="1.15" stroke-linejoin="round"/>
<polygon points="565.8,273 589.3,254.6 566.1,248.2 542.5,266.6" fill="#ffd061" stroke="#1e1a08" stroke-width="1.15" stroke-linejoin="round"/>
<polygon points="612.9,261.5 636.3,244.7 612.7,237.7 589.3,254.6" fill="#ffbd61" stroke="#1e1a08" stroke-width="1.15" stroke-linejoin="round"/>
<polygon points="660.2,252.3 683.3,237 659.4,229.4 636.3,244.7" fill="#ffae61" stroke="#1e1a08" stroke-width="1.15" stroke-linejoin="round"/>
<polygon points="494.7,308.2 518.8,286.6 495.9,280.9 472,302.5" fill="#feff61" stroke="#1e1a08" stroke-width="1.15" stroke-linejoin="round"/>
<polygon points="707.6,245.2 730.4,231.6 706.1,223.3 683.3,237" fill="#ffa260" stroke="#1e1a08" stroke-width="1.15" stroke-linejoin="round"/>
<polygon points="541.9,293 565.8,273 542.5,266.6 518.8,286.6" fill="#ffe661" stroke="#1e1a08" stroke-width="1.15" stroke-linejoin="round"/>
<polygon points="589.3,279.9 612.9,261.5 589.3,254.6 565.8,273" fill="#ffd161" stroke="#1e1a08" stroke-width="1.15" stroke-linejoin="round"/>
<polygon points="636.9,269 660.2,252.3 636.3,244.7 612.9,261.5" fill="#ffbf61" stroke="#1e1a08" stroke-width="1.15" stroke-linejoin="round"/>
<polygon points="684.5,260.4 707.6,245.2 683.3,237 660.2,252.3" fill="#ffb161" stroke="#1e1a08" stroke-width="1.15" stroke-linejoin="round"/>
<polygon points="517.9,314.5 541.9,293 518.8,286.6 494.7,308.2" fill="#ffff61" stroke="#1e1a08" stroke-width="1.15" stroke-linejoin="round"/>
<polygon points="565.5,299.8 589.3,279.9 565.8,273 541.9,293" fill="#ffe761" stroke="#1e1a08" stroke-width="1.15" stroke-linejoin="round"/>
<polygon points="613.2,287.4 636.9,269 612.9,261.5 589.3,279.9" fill="#ffd261" stroke="#1e1a08" stroke-width="1.15" stroke-linejoin="round"/>
<polygon points="661.1,277.2 684.5,260.4 660.2,252.3 636.9,269" fill="#ffc161" stroke="#1e1a08" stroke-width="1.15" stroke-linejoin="round"/>
<polygon points="541.3,321.4 565.5,299.8 541.9,293 517.9,314.5" fill="#ffff61" stroke="#1e1a08" stroke-width="1.15" stroke-linejoin="round"/>
<polygon points="589.3,307.3 613.2,287.4 589.3,279.9 565.5,299.8" fill="#ffe861" stroke="#1e1a08" stroke-width="1.15" stroke-linejoin="round"/>
<polygon points="637.4,295.5 661.1,277.2 636.9,269 613.2,287.4" fill="#ffd461" stroke="#1e1a08" stroke-width="1.15" stroke-linejoin="round"/>
<polygon points="565.1,328.8 589.3,307.3 565.5,299.8 541.3,321.4" fill="#feff61" stroke="#1e1a08" stroke-width="1.15" stroke-linejoin="round"/>
<polygon points="613.5,315.4 637.4,295.5 613.2,287.4 589.3,307.3" fill="#ffea61" stroke="#1e1a08" stroke-width="1.15" stroke-linejoin="round"/>
<polygon points="589.3,336.9 613.5,315.4 589.3,307.3 565.1,328.8" fill="#fcff61" stroke="#1e1a08" stroke-width="1.15" stroke-linejoin="round"/>
<ellipse cx="589.6" cy="119.3" rx="8.6" ry="10.2" fill="#c00404" stroke="#4a0000" stroke-width="1.8"/>
<circle cx="178.8" cy="480.7" r="4.1" fill="#000"/>
<circle cx="175" cy="407.1" r="4.1" fill="#000"/>
<circle cx="171.1" cy="333.6" r="4.1" fill="#000"/>
<circle cx="167.3" cy="260.1" r="4.1" fill="#000"/>
<circle cx="163.4" cy="186.5" r="4.1" fill="#000"/>
<circle cx="159.5" cy="113" r="4.1" fill="#000"/>
<circle cx="184.9" cy="595.9" r="4.1" fill="#000"/>
<circle cx="285.9" cy="638.1" r="4.1" fill="#000"/>
<circle cx="387" cy="680.2" r="4.1" fill="#000"/>
<circle cx="488" cy="722.4" r="4.1" fill="#000"/>
<circle cx="589" cy="764.6" r="4.1" fill="#000"/>
<circle cx="690.3" cy="722.3" r="4.1" fill="#000"/>
<circle cx="791.6" cy="680" r="4.1" fill="#000"/>
<circle cx="892.9" cy="637.7" r="4.1" fill="#000"/>
<circle cx="994.1" cy="595.4" r="4.1" fill="#000"/>
</g>
<g>
<line x1="186.7" y1="1356.8" x2="596.7" y2="1235" stroke="#262626" stroke-width="1.7"/>
<line x1="596.7" y1="1235" x2="1007.3" y2="1356.1" stroke="#262626" stroke-width="1.7"/>
<line x1="182.8" y1="1283.5" x2="596.8" y2="1168.9" stroke="#262626" stroke-width="1.7"/>
<line x1="596.8" y1="1168.9" x2="1011.3" y2="1282.7" stroke="#262626" stroke-width="1.7"/>
<line x1="179" y1="1210.2" x2="596.8" y2="1102.9" stroke="#262626" stroke-width="1.7"/>
<line x1="596.8" y1="1102.9" x2="1015.2" y2="1209.2" stroke="#262626" stroke-width="1.7"/>
<line x1="175.1" y1="1136.8" x2="596.8" y2="1036.8" stroke="#262626" stroke-width="1.7"/>
<line x1="596.8" y1="1036.8" x2="1019.2" y2="1135.8" stroke="#262626" stroke-width="1.7"/>
<line x1="171.3" y1="1063.5" x2="596.9" y2="970.7" stroke="#262626" stroke-width="1.7"/>
<line x1="596.9" y1="970.7" x2="1023.2" y2="1062.3" stroke="#262626" stroke-width="1.7"/>
<line x1="289.2" y1="1326.3" x2="274.8" y2="968.8" stroke="#262626" stroke-width="1.7"/>
<line x1="699.4" y1="1265.3" x2="704.5" y2="925.7" stroke="#262626" stroke-width="1.7"/>
<line x1="391.7" y1="1295.9" x2="382.2" y2="947.4" stroke="#262626" stroke-width="1.7"/>
<line x1="802" y1="1295.6" x2="812" y2="946.8" stroke="#262626" stroke-width="1.7"/>
<line x1="494.2" y1="1265.5" x2="489.5" y2="926.1" stroke="#262626" stroke-width="1.7"/>
<line x1="904.7" y1="1325.9" x2="919.6" y2="967.8" stroke="#262626" stroke-width="1.7"/>
<line x1="167.4" y1="990.2" x2="596.9" y2="904.7" stroke="#1c1c1c" stroke-width="1.8"/>
<line x1="596.9" y1="904.7" x2="1027.1" y2="988.8" stroke="#1c1c1c" stroke-width="1.8"/>
<line x1="192.7" y1="1471.7" x2="167.4" y2="990.2" stroke="#1c1c1c" stroke-width="1.8"/>
<line x1="596.6" y1="1339.2" x2="596.9" y2="904.7" stroke="#1c1c1c" stroke-width="1.8"/>
<line x1="1001.1" y1="1471.2" x2="1027.1" y2="988.8" stroke="#1c1c1c" stroke-width="1.8"/>
<polygon points="192.7,1471.7 596.6,1339.2 1001.1,1471.2 596.5,1639.9" fill="#616161" stroke="#000" stroke-width="2.2" stroke-linejoin="round"/>
<path d="M646.4 1619.1 L644 1619.1 L639.7 1619.2 L636.9 1619.3 L633.1 1619.3 L629.9 1619.4 L626.6 1619.4 L622.9 1619.4 L619.9 1619.5 L616 1619.5 L613.2 1619.5 L609.1 1619.5 L606.5 1619.5 L602.3 1619.5 L599.7 1619.5 L595.5 1619.5 L592.8 1619.5 L588.8 1619.5 L585.9 1619.5 L582.2 1619.4 L579 1619.4 L575.6 1619.4 L571.9 1619.3 L569 1619.3 L564.8 1619.2 L562.5 1619.1 L558.3 1619 L555.3 1619 L551.8 1618.9 L548.1 1618.8 L545.6 1618.7" fill="none" stroke="#0aef74" stroke-width="2.7" stroke-linecap="round"/>
<path d="M705.3 1594.5 L701.7 1594.7 L697.8 1595 L695 1595.1 L692 1595.3 L688 1595.5 L684.9 1595.6 L682.1 1595.8 L678.1 1596 L674.9 1596.1 L672 1596.2 L668 1596.4 L665 1596.5 L661.9 1596.6 L657.8 1596.7 L655.3 1596.8 L651.6 1596.9 L648.1 1597 L645.3 1597.1 L641.1 1597.2 L638.6 1597.3 L634.7 1597.3 L631.6 1597.4 L628.3 1597.5 L624.7 1597.5 L621.9 1597.5 L617.8 1597.6 L615.4 1597.6 L611 1597.6 L608.7 1597.7 L604.4 1597.7 L602 1597.7 L597.7 1597.7 L595.3 1597.7 L590.9 1597.7 L588.7 1597.6 L584.3 1597.6 L581.9 1597.6 L577.8 1597.5 L575 1597.5 L571.3 1597.5 L568 1597.4 L564.9 1597.3 L561 1597.3 L558.6 1597.2 L554.4 1597.1 L551.5 1597 L548.1 1596.9 L544.3 1596.8 L541.9 1596.7 L537.8 1596.6 L534.6 1596.5 L531.7 1596.4 L527.7 1596.2 L524.8 1596.1 L521.6 1596 L517.6 1595.8 L514.8 1595.7 L511.7 1595.5 L507.7 1595.3 L504.7 1595.2 L501.9 1595 L498 1594.8 L494.4 1594.6 L491.8 1594.4 L488.3 1594.2 L486.6 1594.1" fill="none" stroke="#0bef0a" stroke-width="2.7" stroke-linecap="round"/>
<path d="M784.5 1561.5 L781.3 1562 L778.1 1562.4 L774.9 1562.8 L771.8 1563.2 L768.7 1563.6 L765.6 1564 L762.6 1564.3 L759.5 1564.7 L756.4 1565 L753 1565.4 L749.6 1565.8 L746.2 1566.1 L742.8 1566.5 L739.3 1566.8 L736.1 1567.2 L733.3 1567.4 L730.5 1567.7 L727.1 1568 L723.6 1568.3 L720 1568.6 L716.7 1568.9 L713.9 1569.1 L711 1569.3 L707.3 1569.6 L703.7 1569.9 L700.6 1570.1 L698 1570.3 L694.4 1570.5 L690.7 1570.8 L687.6 1571 L685 1571.1 L681.2 1571.3 L677.4 1571.5 L674.9 1571.7 L671.6 1571.8 L667.7 1572 L665 1572.2 L661.8 1572.3 L657.8 1572.5 L655.2 1572.6 L651.8 1572.7 L648 1572.8 L645.7 1572.9 L641.7 1573 L638.6 1573.1 L635.6 1573.2 L631.6 1573.3 L629.3 1573.3 L625.2 1573.4 L622.4 1573.5 L618.9 1573.5 L615.6 1573.6 L612.6 1573.6 L608.8 1573.6 L606.1 1573.7 L602.2 1573.7 L599.6 1573.7 L595.6 1573.7 L593 1573.7 L589 1573.7 L586.4 1573.7 L582.6 1573.6 L579.7 1573.6 L576.2 1573.6 L572.9 1573.5 L569.9 1573.5 L566 1573.4 L563.6 1573.3 L559.5 1573.3 L556.8 1573.2 L553.3 1573.1 L549.7 1573 L547.2 1572.9 L543.2 1572.8 L540.2 1572.7 L537.2 1572.6 L533.2 1572.4 L530.5 1572.3 L527.3 1572.2 L523.4 1572 L520.6 1571.9 L517.6 1571.7 L513.7 1571.5 L510.6 1571.3 L508 1571.2 L504.2 1571 L500.4 1570.7 L497.8 1570.6 L494.8 1570.4 L491.1 1570.1 L487.4 1569.9 L484.7 1569.7 L481.9 1569.5 L478.3 1569.2 L474.7 1568.9 L471.2 1568.6 L468.5 1568.4 L465.7 1568.2 L462.2 1567.9 L458.7 1567.5 L455.2 1567.2 L451.8 1566.9 L448.9 1566.6 L446.1 1566.3 L443.1 1566 L439.7 1565.7 L436.3 1565.3 L432.9 1565 L429.5 1564.6 L426.2 1564.2 L422.9 1563.8 L419.6 1563.4 L416.3 1563 L413.2 1562.6 L410.1 1562.3" fill="none" stroke="#76ef0a" stroke-width="2.7" stroke-linecap="round"/>
<path d="M936.6 1450.2 L936.6 1451.5 L936.5 1452.5 L936.4 1453.4 L936.2 1454.6 L935.9 1455.8 L935.7 1456.9 L935.4 1457.8 L935.1 1458.8 L934.7 1460 L934.2 1461.2 L933.7 1462.4 L933.1 1463.5 L932.5 1464.6 L931.9 1465.7 L931.3 1466.8 L930.6 1467.9 L929.8 1469 L928.9 1470.2 L928.1 1471.2 L927.2 1472.3 L926.3 1473.3 L925.4 1474.4 L924.4 1475.4 L923.2 1476.6 L921.8 1478 L920.7 1479 L919.6 1479.9 L918.2 1481.2 L916.7 1482.4 L915.4 1483.4 L913.7 1484.7 L912.2 1485.7 L910.9 1486.7 L908.8 1488.1 L907.4 1489 L905.3 1490.3 L903.7 1491.3 L901.5 1492.6 L899.2 1493.9 L897.6 1494.8 L895.2 1496 L892.7 1497.3 L890.4 1498.4 L888.4 1499.4 L885.7 1500.6 L883 1501.9 L880.3 1503.1 L877.5 1504.2 L874.6 1505.4 L871.7 1506.6 L868.7 1507.7 L865.7 1508.8 L862.6 1510 L860.5 1510.7 L857.3 1511.8 L854.1 1512.8 L850.8 1513.9 L848.6 1514.6 L845.3 1515.6 L841.9 1516.7 L839.5 1517.3 L836 1518.3 L833.7 1519 L830.1 1519.9 L827.7 1520.6 L824 1521.5 L821.5 1522.1 L817.8 1523.1 L815.2 1523.7 L812.7 1524.3 L808.8 1525.2 L806.2 1525.7 L803.5 1526.3 L799.6 1527.2 L796.9 1527.7 L794.2 1528.3 L790.7 1529 L787.3 1529.6 L784.5 1530.1 L781.7 1530.7 L778.9 1531.2 L775.2 1531.8 L771.7 1532.4 L768.7 1532.9 L765.8 1533.4 L762.8 1533.9 L759.9 1534.3 L756.9 1534.8 L753.8 1535.2 L750.8 1535.7 L747.5 1536.2 L744.3 1536.6 L741.1 1537 L738 1537.4 L734.8 1537.8 L731.8 1538.2 L728.7 1538.6 L725.5 1539 L722.2 1539.3 L718.9 1539.7 L715.6 1540.1 L712.2 1540.4 L708.9 1540.7 L705.5 1541.1 L702.7 1541.3 L699.9 1541.6 L696.9 1541.9 L693.4 1542.2 L689.9 1542.4 L686.4 1542.7 L683.7 1542.9 L681 1543.1 L677.4 1543.4 L673.8 1543.6 L670.7 1543.8 L668.2 1544 L664.6 1544.2 L660.8 1544.4 L658.2 1544.6 L655.2 1544.7 L651.4 1544.9 L648.4 1545.1 L645.6 1545.2 L641.8 1545.3 L638.8 1545.4 L635.9 1545.6 L631.9 1545.7 L629.5 1545.8 L626 1545.9 L622.6 1545.9 L619.9 1546 L615.8 1546.1 L613.5 1546.1 L609.7 1546.2 L606.9 1546.2 L603.4 1546.3 L600.3 1546.3 L597.1 1546.3 L593.8 1546.3 L590.6 1546.3 L587.4 1546.3 L584.1 1546.3 L581.1 1546.3 L577.6 1546.2 L574.8 1546.2 L570.9 1546.1 L568.6 1546.1 L564.6 1546 L561.8 1545.9 L558.5 1545.9 L554.9 1545.8 L552.6 1545.7 L548.6 1545.6 L545.6 1545.5 L542.8 1545.4 L538.9 1545.2 L536 1545.1 L533.1 1544.9 L529.3 1544.8 L526.3 1544.6 L523.7 1544.5 L520 1544.3 L516.3 1544 L513.8 1543.9 L510.8 1543.7 L507.1 1543.5 L503.5 1543.2 L500.9 1543 L498.1 1542.8 L494.6 1542.5 L491.1 1542.3 L487.6 1542 L484.8 1541.7 L482.1 1541.5 L478.9 1541.2 L475.5 1540.9 L472.1 1540.6 L468.8 1540.2 L465.4 1539.9 L462.3 1539.6 L459.4 1539.2 L456.5 1538.9 L453.5 1538.6 L450.5 1538.2 L447.4 1537.9 L444.2 1537.5 L441.1 1537.1 L437.9 1536.7 L434.8 1536.3 L431.7 1535.8 L428.6 1535.4 L425.4 1535 L422.1 1534.5 L418.8 1534 L415.4 1533.5 L412 1532.9 L409.1 1532.5 L406.1 1532 L403.2 1531.5 L400.3 1531 L397.5 1530.5 L393.9 1529.9 L390.4 1529.3 L387.6 1528.8 L384.8 1528.2 L382.1 1527.7 L378.2 1526.9 L375.3 1526.3 L372.6 1525.8 L369.7 1525.2 L366 1524.4 L363.4 1523.8 L360.7 1523.2 L357 1522.4 L354.4 1521.8 L351 1521 L348.2 1520.3 L345.7 1519.7 L342 1518.7 L339.6 1518.1 L336 1517.2 L333.6 1516.5 L330.1 1515.5 L327.8 1514.9 L324.4 1513.9 L321 1512.9 L318.7 1512.2 L315.4 1511.2 L312.5 1510.3 L310 1509.5 L306.8 1508.4 L303.6 1507.3 L301.5 1506.6 L298.5 1505.5 L295.5 1504.4 L292.5 1503.3 L289.6 1502.2 L286.7 1501 L283.9 1499.9 L281.1 1498.7 L278.3 1497.5 L275.7 1496.3 L273 1495.1 L270.4 1493.9 L268.2 1492.8 L266.3 1491.9 L263.8 1490.6 L261.4 1489.3 L259.8 1488.5 L257.5 1487.2 L255.3 1485.9 L253.8 1485 L251.7 1483.7 L250.2 1482.8 L248.2 1481.4 L246.8 1480.5 L244.9 1479.1 L243.6 1478.2 L241.8 1476.9 L240.5 1475.9 L239.3 1474.9 L237.6 1473.5 L236.5 1472.5 L235.4 1471.5 L234.2 1470.4 L232.8 1469.1 L231.8 1468.1 L230.9 1467 L230 1466 L229.1 1465 L228.1 1463.8 L227.2 1462.6 L226.3 1461.4 L225.9 1460.8" fill="none" stroke="#e2ef0a" stroke-width="2.7" stroke-linecap="round"/>
<path d="M579.9 1344.7 L582.7 1344.8 L585.1 1344.8 L588.5 1344.9 L590.4 1344.9 L593.6 1345 L596.3 1345 L598.6 1345.1 L602 1345.2 L604.2 1345.3 L606.9 1345.4 L610.2 1345.5 L612.4 1345.6 L615 1345.7 L616.5 1345.7" fill="none" stroke="#e2ef0a" stroke-width="2.7" stroke-linecap="round"/>
<path d="M492.5 1373.4 L495 1373.2 L497.5 1373 L500 1372.7 L503.1 1372.5 L506.2 1372.3 L509.3 1372.1 L511.8 1371.9 L514.1 1371.8 L517.1 1371.6 L520.3 1371.4 L523 1371.3 L525.2 1371.2 L528.5 1371 L531.6 1370.9 L533.7 1370.8 L536.8 1370.7 L539.9 1370.6 L541.9 1370.5 L545.4 1370.4 L547.9 1370.4 L550.6 1370.3 L553.8 1370.3 L556 1370.2 L559.5 1370.2 L561.4 1370.2 L565.1 1370.2 L567 1370.2 L570.6 1370.2 L572.5 1370.2 L576.1 1370.2 L578.3 1370.2 L581.5 1370.3 L584.1 1370.3 L586.7 1370.4 L590.1 1370.5 L592.1 1370.5 L595.3 1370.6 L598.2 1370.7 L600.4 1370.8 L603.7 1370.9 L606.7 1371 L608.8 1371.1 L611.9 1371.3 L615.1 1371.4 L617.6 1371.6 L619.8 1371.7 L623 1371.9 L626.1 1372.1 L629.1 1372.3 L631.4 1372.5 L633.8 1372.7 L636.8 1372.9 L639.8 1373.1 L642.8 1373.4 L645.7 1373.6 L648.7 1373.9 L651.5 1374.2 L654.1 1374.4 L656.8 1374.7 L659.6 1375 L662.4 1375.3 L665.2 1375.6 L668.1 1376 L671.1 1376.3 L674 1376.7 L676.8 1377.1 L679.4 1377.4 L682.1 1377.8 L684.8 1378.2 L687.4 1378.5 L690.2 1379 L693.8 1379.5 L696.5 1379.9 L699 1380.3 L701.6 1380.8 L705.1 1381.4 L707.8 1381.9 L710.3 1382.3 L713.6 1382.9 L716.4 1383.5 L718.8 1383.9 L722.3 1384.7 L724.7 1385.2 L728.2 1385.9 L730.5 1386.4 L734 1387.2 L736.2 1387.7 L739.6 1388.6 L742.3 1389.2 L745.1 1390 L748.4 1390.8 L751.6 1391.7 L753.7 1392.3 L756.9 1393.2 L760 1394.1 L763 1395.1 L766 1396 L769 1397 L772 1398 L774.8 1399.1 L777.7 1400.1 L779.6 1400.8 L782.3 1401.9 L785 1403 L787.4 1404 L789.4 1404.9 L792 1406 L793.7 1406.8 L796.2 1408 L797.8 1408.8 L800.1 1410 L801.8 1410.9 L803.3 1411.8 L805.5 1413.1 L807 1414 L808.5 1414.9 L809.9 1415.8 L811.5 1416.9 L813.2 1418.1 L814.5 1419.1 L815.8 1420.1 L817 1421.1 L818.2 1422.1 L819.3 1423.2 L820.4 1424.2 L821.5 1425.3 L822.4 1426.3 L823.2 1427.2 L824 1428.1 L824.8 1429.2 L825.7 1430.4 L826.4 1431.5 L826.9 1432.3 L827.5 1433.4 L828.1 1434.6 L828.5 1435.5 L829 1436.6 L829.4 1437.7 L829.6 1438.6 L829.9 1439.9 L830.1 1440.7 L830.3 1441.9 L830.3 1442.8 L830.4 1444 L830.3 1445.1 L830.3 1445.9 L830.1 1447.2 L829.9 1448.4 L829.7 1449.2 L829.4 1450.3 L829 1451.5 L828.5 1452.7 L828 1453.7 L827.5 1454.7 L826.9 1455.7 L826.3 1456.7 L825.5 1457.8 L824.7 1458.9 L823.8 1460 L822.8 1461.2 L821.7 1462.4 L820.5 1463.6 L819.4 1464.6 L818.3 1465.6 L817.1 1466.5 L815.3 1468 L814 1468.9 L812.7 1469.9 L810.7 1471.3 L809.3 1472.2 L807.1 1473.5 L805.6 1474.4 L803.3 1475.7 L801.7 1476.6 L799.2 1477.8 L796.7 1479.1 L794 1480.3 L792.3 1481.1 L789.5 1482.3 L786.7 1483.4 L783.8 1484.5 L780.8 1485.7 L777.8 1486.8 L775.7 1487.5 L772.6 1488.5 L769.4 1489.6 L766.1 1490.6 L763.9 1491.3 L760.5 1492.2 L757.4 1493.1 L754.6 1493.8 L751.2 1494.7 L748.6 1495.4 L745.6 1496.1 L742.4 1496.8 L739.9 1497.4 L736 1498.3 L733.4 1498.8 L730.8 1499.4 L727.2 1500.1 L724.1 1500.7 L721.4 1501.2 L718.6 1501.7 L715.5 1502.2 L711.8 1502.8 L708.7 1503.4 L705.8 1503.8 L702.8 1504.3 L699.9 1504.7 L696.9 1505.1 L693.8 1505.5 L690.8 1505.9 L687.7 1506.3 L684.6 1506.7 L681.4 1507.1 L678.2 1507.4 L675 1507.8 L671.8 1508.1 L668.5 1508.5 L665.4 1508.7 L662.7 1509 L660 1509.2 L656.7 1509.5 L653.3 1509.8 L649.8 1510 L647 1510.2 L644.5 1510.4 L641 1510.6 L637.4 1510.9 L634.6 1511 L631.9 1511.2 L628.2 1511.3 L625 1511.5 L622.6 1511.6 L618.8 1511.7 L615.8 1511.8 L613 1511.9 L609.1 1512 L606.8 1512.1 L603.2 1512.1 L600.2 1512.2 L597.1 1512.2 L593.8 1512.3 L591 1512.3 L587.5 1512.3 L584.7 1512.3 L581.3 1512.3 L578.4 1512.2 L575.2 1512.2 L571.9 1512.1 L569.2 1512.1 L565.2 1512 L563 1512 L559.4 1511.8 L556.2 1511.7 L553.7 1511.7 L549.9 1511.5 L546.8 1511.4 L544.3 1511.3 L540.6 1511.1 L537.2 1510.9 L534.8 1510.7 L531.6 1510.6 L528.1 1510.3 L524.8 1510.1 L522.2 1509.9 L519.3 1509.7 L515.9 1509.4 L512.5 1509.2 L509.2 1508.9 L506.3 1508.6 L503.5 1508.3 L500.7 1508.1 L497.6 1507.7 L494.4 1507.4 L491.2 1507.1 L488.1 1506.7 L484.9 1506.3 L481.8 1505.9 L478.7 1505.5 L475.7 1505.1 L472.7 1504.7 L469.7 1504.3 L466.7 1503.9 L463.8 1503.4 L460.6 1503 L457.1 1502.4 L453.8 1501.8 L450.9 1501.4 L448.2 1500.9 L445.4 1500.4 L442.2 1499.8 L438.6 1499.1 L436 1498.6 L433.3 1498.1 L429.6 1497.3 L426.9 1496.7 L424.3 1496.1 L420.6 1495.3 L418.1 1494.7 L414.9 1493.9 L412 1493.2 L409.2 1492.5 L406.1 1491.7 L402.7 1490.7 L400.4 1490.1 L397 1489.1 L394.8 1488.4 L391.5 1487.4 L388.3 1486.4 L385.2 1485.4 L383.1 1484.7 L380.1 1483.6 L377.1 1482.5 L374.2 1481.4 L371.4 1480.3 L368.6 1479.1 L365.8 1478 L363.2 1476.8 L361.5 1476 L358.9 1474.8 L356.5 1473.6 L354.2 1472.4 L352.5 1471.5 L350.2 1470.2 L348.7 1469.3 L346.6 1468 L345.2 1467.1 L343.2 1465.7 L341.9 1464.8 L340.4 1463.8 L338.8 1462.5 L337.6 1461.5 L336.4 1460.5 L335 1459.3 L333.8 1458.1 L332.8 1457.1 L331.8 1456 L330.9 1455 L330.1 1454 L329.3 1452.9 L328.5 1451.8 L327.8 1450.7 L327.2 1449.6 L326.6 1448.5 L326 1447.4 L325.5 1446.2 L325.2 1445.3 L324.9 1444.4 L324.6 1443.3 L324.3 1442 L324.2 1441 L324.1 1440.2 L324 1438.9 L324 1437.9 L324.1 1436.9 L324.2 1435.7 L324.3 1434.9 L324.6 1433.6 L324.8 1432.8 L325.2 1431.6 L325.5 1430.7 L326 1429.6 L326.5 1428.4 L326.9 1427.7" fill="none" stroke="#ef910a" stroke-width="2.7" stroke-linecap="round"/>
<polygon points="596.9,979.4 615.8,985.2 596.9,989.7 577.9,983.7" fill="#ffe500" stroke="#1e1a08" stroke-width="1.15" stroke-linejoin="round"/>
<polygon points="616.1,976 635.1,981.6 615.8,985.2 596.9,979.4" fill="#ffc900" stroke="#1e1a08" stroke-width="1.15" stroke-linejoin="round"/>
<polygon points="577.6,974.7 596.9,979.4 577.9,983.7 558.6,978.8" fill="#ffc400" stroke="#1e1a08" stroke-width="1.15" stroke-linejoin="round"/>
<polygon points="635.6,973.7 654.6,979.1 635.1,981.6 616.1,976" fill="#ffb100" stroke="#1e1a08" stroke-width="1.15" stroke-linejoin="round"/>
<polygon points="558.1,971 577.6,974.7 558.6,978.8 539.2,974.9" fill="#ffa700" stroke="#1e1a08" stroke-width="1.15" stroke-linejoin="round"/>
<polygon points="596.9,971.5 616.1,976 596.9,979.4 577.6,974.7" fill="#ffaa00" stroke="#1e1a08" stroke-width="1.15" stroke-linejoin="round"/>
<polygon points="655.3,972.3 674.3,977.5 654.6,979.1 635.6,973.7" fill="#ff9c00" stroke="#1e1a08" stroke-width="1.15" stroke-linejoin="round"/>
<polygon points="538.4,968.4 558.1,971 539.2,974.9 519.4,972.2" fill="#ff8e00" stroke="#1e1a08" stroke-width="1.15" stroke-linejoin="round"/>
<polygon points="616.4,969.4 635.6,973.7 616.1,976 596.9,971.5" fill="#ff9200" stroke="#1e1a08" stroke-width="1.15" stroke-linejoin="round"/>
<polygon points="577.4,968.1 596.9,971.5 577.6,974.7 558.1,971" fill="#ff8e00" stroke="#1e1a08" stroke-width="1.15" stroke-linejoin="round"/>
<polygon points="675.3,972 694.3,977 674.3,977.5 655.3,972.3" fill="#ff8b00" stroke="#1e1a08" stroke-width="1.15" stroke-linejoin="round"/>
<polygon points="518.4,967 538.4,968.4 519.4,972.2 499.4,970.5" fill="#ff7900" stroke="#1e1a08" stroke-width="1.15" stroke-linejoin="round"/>
<polygon points="636.1,968.2 655.3,972.3 635.6,973.7 616.4,969.4" fill="#ff7e00" stroke="#1e1a08" stroke-width="1.15" stroke-linejoin="round"/>
<polygon points="557.6,965.7 577.4,968.1 558.1,971 538.4,968.4" fill="#ff7500" stroke="#1e1a08" stroke-width="1.15" stroke-linejoin="round"/>
<polygon points="596.9,966.1 616.4,969.4 596.9,971.5 577.4,968.1" fill="#ff7700" stroke="#1e1a08" stroke-width="1.15" stroke-linejoin="round"/>
<polygon points="695.6,972.7 714.5,977.4 694.3,977 675.3,972" fill="#ff7d00" stroke="#1e1a08" stroke-width="1.15" stroke-linejoin="round"/>
<polygon points="498.1,966.7 518.4,967 499.4,970.5 479.2,969.9" fill="#ff6800" stroke="#1e1a08" stroke-width="1.15" stroke-linejoin="round"/>
<polygon points="656.1,968.1 675.3,972 655.3,972.3 636.1,968.2" fill="#ff6e00" stroke="#1e1a08" stroke-width="1.15" stroke-linejoin="round"/>
<polygon points="537.6,964.5 557.6,965.7 538.4,968.4 518.4,967" fill="#ff6100" stroke="#1e1a08" stroke-width="1.15" stroke-linejoin="round"/>
<polygon points="616.6,965.2 636.1,968.2 616.4,969.4 596.9,966.1" fill="#ff6400" stroke="#1e1a08" stroke-width="1.15" stroke-linejoin="round"/>
<polygon points="577.1,964 596.9,966.1 577.4,968.1 557.6,965.7" fill="#ff6000" stroke="#1e1a08" stroke-width="1.15" stroke-linejoin="round"/>
<polygon points="716.1,974.5 735,979 714.5,977.4 695.6,972.7" fill="#ff7300" stroke="#1e1a08" stroke-width="1.15" stroke-linejoin="round"/>
<polygon points="477.6,967.5 498.1,966.7 479.2,969.9 458.7,970.5" fill="#ff610b" stroke="#1e1a08" stroke-width="1.15" stroke-linejoin="round"/>
<polygon points="676.4,969.1 695.6,972.7 675.3,972 656.1,968.1" fill="#ff6100" stroke="#1e1a08" stroke-width="1.15" stroke-linejoin="round"/>
<polygon points="517.3,964.4 537.6,964.5 518.4,967 498.1,966.7" fill="#ff5304" stroke="#1e1a08" stroke-width="1.15" stroke-linejoin="round"/>
<polygon points="636.6,965.4 656.1,968.1 636.1,968.2 616.6,965.2" fill="#ff5400" stroke="#1e1a08" stroke-width="1.15" stroke-linejoin="round"/>
<polygon points="557.1,963.1 577.1,964 557.6,965.7 537.6,964.5" fill="#ff4c00" stroke="#1e1a08" stroke-width="1.15" stroke-linejoin="round"/>
<polygon points="596.9,963.4 616.6,965.2 596.9,966.1 577.1,964" fill="#ff4d00" stroke="#1e1a08" stroke-width="1.15" stroke-linejoin="round"/>
<polygon points="736.8,977.4 755.7,981.6 735,979 716.1,974.5" fill="#ff6c00" stroke="#1e1a08" stroke-width="1.15" stroke-linejoin="round"/>
<polygon points="456.9,969.5 477.6,967.5 458.7,970.5 438,972.3" fill="#ff5f16" stroke="#1e1a08" stroke-width="1.15" stroke-linejoin="round"/>
<polygon points="696.9,971.2 716.1,974.5 695.6,972.7 676.4,969.1" fill="#ff5700" stroke="#1e1a08" stroke-width="1.15" stroke-linejoin="round"/>
<polygon points="496.8,965.5 517.3,964.4 498.1,966.7 477.6,967.5" fill="#ff4f0f" stroke="#1e1a08" stroke-width="1.15" stroke-linejoin="round"/>
<polygon points="656.9,966.6 676.4,969.1 656.1,968.1 636.6,965.4" fill="#ff4800" stroke="#1e1a08" stroke-width="1.15" stroke-linejoin="round"/>
<polygon points="536.8,963.2 557.1,963.1 537.6,964.5 517.3,964.4" fill="#ff4309" stroke="#1e1a08" stroke-width="1.15" stroke-linejoin="round"/>
<polygon points="616.9,963.8 636.6,965.4 616.6,965.2 596.9,963.4" fill="#ff3f00" stroke="#1e1a08" stroke-width="1.15" stroke-linejoin="round"/>
<polygon points="576.9,962.7 596.9,963.4 577.1,964 557.1,963.1" fill="#ff3c02" stroke="#1e1a08" stroke-width="1.15" stroke-linejoin="round"/>
<polygon points="757.8,981.4 776.6,985.4 755.7,981.6 736.8,977.4" fill="#ff6900" stroke="#1e1a08" stroke-width="1.15" stroke-linejoin="round"/>
<polygon points="435.9,972.8 456.9,969.5 438,972.3 417,975.2" fill="#ff6120" stroke="#1e1a08" stroke-width="1.15" stroke-linejoin="round"/>
<polygon points="717.6,974.3 736.8,977.4 716.1,974.5 696.9,971.2" fill="#ff5100" stroke="#1e1a08" stroke-width="1.15" stroke-linejoin="round"/>
<polygon points="476.1,967.8 496.8,965.5 477.6,967.5 456.9,969.5" fill="#ff4f1a" stroke="#1e1a08" stroke-width="1.15" stroke-linejoin="round"/>
<polygon points="677.4,968.9 696.9,971.2 676.4,969.1 656.9,966.6" fill="#ff4000" stroke="#1e1a08" stroke-width="1.15" stroke-linejoin="round"/>
<polygon points="516.3,964.6 536.8,963.2 517.3,964.4 496.8,965.5" fill="#ff4014" stroke="#1e1a08" stroke-width="1.15" stroke-linejoin="round"/>
<polygon points="637.2,965.3 656.9,966.6 636.6,965.4 616.9,963.8" fill="#ff3400" stroke="#1e1a08" stroke-width="1.15" stroke-linejoin="round"/>
<polygon points="556.6,963.1 576.9,962.7 557.1,963.1 536.8,963.2" fill="#ff370d" stroke="#1e1a08" stroke-width="1.15" stroke-linejoin="round"/>
<polygon points="596.9,963.3 616.9,963.8 596.9,963.4 576.9,962.7" fill="#ff3206" stroke="#1e1a08" stroke-width="1.15" stroke-linejoin="round"/>
<polygon points="779,986.5 797.8,990.2 776.6,985.4 757.8,981.4" fill="#ff6900" stroke="#1e1a08" stroke-width="1.15" stroke-linejoin="round"/>
<polygon points="414.7,977.2 435.9,972.8 417,975.2 395.8,979.4" fill="#ff662a" stroke="#1e1a08" stroke-width="1.15" stroke-linejoin="round"/>
<polygon points="738.6,978.6 757.8,981.4 736.8,977.4 717.6,974.3" fill="#ff4f00" stroke="#1e1a08" stroke-width="1.15" stroke-linejoin="round"/>
<polygon points="455.1,971.3 476.1,967.8 456.9,969.5 435.9,972.8" fill="#ff5225" stroke="#1e1a08" stroke-width="1.15" stroke-linejoin="round"/>
<polygon points="698.2,972.4 717.6,974.3 696.9,971.2 677.4,968.9" fill="#ff3b00" stroke="#1e1a08" stroke-width="1.15" stroke-linejoin="round"/>
<polygon points="495.5,967.2 516.3,964.6 496.8,965.5 476.1,967.8" fill="#ff421f" stroke="#1e1a08" stroke-width="1.15" stroke-linejoin="round"/>
<polygon points="657.7,967.9 677.4,968.9 656.9,966.6 637.2,965.3" fill="#ff2d01" stroke="#1e1a08" stroke-width="1.15" stroke-linejoin="round"/>
<polygon points="536,964.7 556.6,963.1 536.8,963.2 516.3,964.6" fill="#ff3618" stroke="#1e1a08" stroke-width="1.15" stroke-linejoin="round"/>
<polygon points="617.2,965.1 637.2,965.3 616.9,963.8 596.9,963.3" fill="#ff2b09" stroke="#1e1a08" stroke-width="1.15" stroke-linejoin="round"/>
<polygon points="576.6,964 596.9,963.3 576.9,962.7 556.6,963.1" fill="#ff2e11" stroke="#1e1a08" stroke-width="1.15" stroke-linejoin="round"/>
<polygon points="800.4,992.8 819.2,996.2 797.8,990.2 779,986.5" fill="#ff6c00" stroke="#1e1a08" stroke-width="1.15" stroke-linejoin="round"/>
<polygon points="393.3,982.9 414.7,977.2 395.8,979.4 374.4,984.8" fill="#ff6e34" stroke="#1e1a08" stroke-width="1.15" stroke-linejoin="round"/>
<polygon points="759.8,984 779,986.5 757.8,981.4 738.6,978.6" fill="#ff5000" stroke="#1e1a08" stroke-width="1.15" stroke-linejoin="round"/>
<polygon points="433.8,976.1 455.1,971.3 435.9,972.8 414.7,977.2" fill="#ff592f" stroke="#1e1a08" stroke-width="1.15" stroke-linejoin="round"/>
<polygon points="719.2,976.9 738.6,978.6 717.6,974.3 698.2,972.4" fill="#ff3900" stroke="#1e1a08" stroke-width="1.15" stroke-linejoin="round"/>
<polygon points="474.5,971 495.5,967.2 476.1,967.8 455.1,971.3" fill="#ff4729" stroke="#1e1a08" stroke-width="1.15" stroke-linejoin="round"/>
<polygon points="678.5,971.6 698.2,972.4 677.4,968.9 657.7,967.9" fill="#ff2b04" stroke="#1e1a08" stroke-width="1.15" stroke-linejoin="round"/>
<polygon points="515.3,967.6 536,964.7 516.3,964.6 495.5,967.2" fill="#ff3923" stroke="#1e1a08" stroke-width="1.15" stroke-linejoin="round"/>
<polygon points="637.7,968 657.7,967.9 637.2,965.3 617.2,965.1" fill="#ff270d" stroke="#1e1a08" stroke-width="1.15" stroke-linejoin="round"/>
<polygon points="556.1,966 576.6,964 556.6,963.1 536,964.7" fill="#ff2e1c" stroke="#1e1a08" stroke-width="1.15" stroke-linejoin="round"/>
<polygon points="596.9,966.1 617.2,965.1 596.9,963.3 576.6,964" fill="#ff2815" stroke="#1e1a08" stroke-width="1.15" stroke-linejoin="round"/>
<polygon points="822,1000.2 840.8,1003.3 819.2,996.2 800.4,992.8" fill="#ff7300" stroke="#1e1a08" stroke-width="1.15" stroke-linejoin="round"/>
<polygon points="371.6,989.8 393.3,982.9 374.4,984.8 352.8,991.4" fill="#ff793e" stroke="#1e1a08" stroke-width="1.15" stroke-linejoin="round"/>
<polygon points="781.3,990.6 800.4,992.8 779,986.5 759.8,984" fill="#ff5400" stroke="#1e1a08" stroke-width="1.15" stroke-linejoin="round"/>
<polygon points="412.4,982 433.8,976.1 414.7,977.2 393.3,982.9" fill="#ff6339" stroke="#1e1a08" stroke-width="1.15" stroke-linejoin="round"/>
<polygon points="740.4,982.6 759.8,984 738.6,978.6 719.2,976.9" fill="#ff3b00" stroke="#1e1a08" stroke-width="1.15" stroke-linejoin="round"/>
<polygon points="453.2,976 474.5,971 455.1,971.3 433.8,976.1" fill="#ff4f33" stroke="#1e1a08" stroke-width="1.15" stroke-linejoin="round"/>
<polygon points="699.5,976.4 719.2,976.9 698.2,972.4 678.5,971.6" fill="#ff2d07" stroke="#1e1a08" stroke-width="1.15" stroke-linejoin="round"/>
<polygon points="494.2,971.7 515.3,967.6 495.5,967.2 474.5,971" fill="#ff3f2d" stroke="#1e1a08" stroke-width="1.15" stroke-linejoin="round"/>
<polygon points="658.5,972 678.5,971.6 657.7,967.9 637.7,968" fill="#ff2610" stroke="#1e1a08" stroke-width="1.15" stroke-linejoin="round"/>
<polygon points="535.3,969.1 556.1,966 536,964.7 515.3,967.6" fill="#ff3327" stroke="#1e1a08" stroke-width="1.15" stroke-linejoin="round"/>
<polygon points="617.4,969.3 637.7,968 617.2,965.1 596.9,966.1" fill="#ff2618" stroke="#1e1a08" stroke-width="1.15" stroke-linejoin="round"/>
<polygon points="576.3,968.3 596.9,966.1 576.6,964 556.1,966" fill="#ff2a20" stroke="#1e1a08" stroke-width="1.15" stroke-linejoin="round"/>
<polygon points="843.9,1008.8 862.6,1011.6 840.8,1003.3 822,1000.2" fill="#ff7e00" stroke="#1e1a08" stroke-width="1.15" stroke-linejoin="round"/>
<polygon points="349.7,998.1 371.6,989.8 352.8,991.4 331,999.4" fill="#ff8646" stroke="#1e1a08" stroke-width="1.15" stroke-linejoin="round"/>
<polygon points="803,998.3 822,1000.2 800.4,992.8 781.3,990.6" fill="#ff5c00" stroke="#1e1a08" stroke-width="1.15" stroke-linejoin="round"/>
<polygon points="390.7,989.3 412.4,982 393.3,982.9 371.6,989.8" fill="#ff6e42" stroke="#1e1a08" stroke-width="1.15" stroke-linejoin="round"/>
<polygon points="761.9,989.5 781.3,990.6 759.8,984 740.4,982.6" fill="#ff4001" stroke="#1e1a08" stroke-width="1.15" stroke-linejoin="round"/>
<polygon points="431.8,982.3 453.2,976 433.8,976.1 412.4,982" fill="#ff5a3d" stroke="#1e1a08" stroke-width="1.15" stroke-linejoin="round"/>
<polygon points="720.8,982.4 740.4,982.6 719.2,976.9 699.5,976.4" fill="#ff310a" stroke="#1e1a08" stroke-width="1.15" stroke-linejoin="round"/>
<polygon points="472.9,977 494.2,971.7 474.5,971 453.2,976" fill="#ff4937" stroke="#1e1a08" stroke-width="1.15" stroke-linejoin="round"/>
<polygon points="679.5,977.1 699.5,976.4 678.5,971.6 658.5,972" fill="#ff2912" stroke="#1e1a08" stroke-width="1.15" stroke-linejoin="round"/>
<polygon points="514.2,973.5 535.3,969.1 515.3,967.6 494.2,971.7" fill="#ff3a31" stroke="#1e1a08" stroke-width="1.15" stroke-linejoin="round"/>
<polygon points="638.2,973.6 658.5,972 637.7,968 617.4,969.3" fill="#ff261b" stroke="#1e1a08" stroke-width="1.15" stroke-linejoin="round"/>
<polygon points="555.5,971.8 576.3,968.3 556.1,966 535.3,969.1" fill="#ff2f2a" stroke="#1e1a08" stroke-width="1.15" stroke-linejoin="round"/>
<polygon points="596.9,971.8 617.4,969.3 596.9,966.1 576.3,968.3" fill="#ff2823" stroke="#1e1a08" stroke-width="1.15" stroke-linejoin="round"/>
<polygon points="866,1018.7 884.6,1021.1 862.6,1011.6 843.9,1008.8" fill="#ff8c00" stroke="#1e1a08" stroke-width="1.15" stroke-linejoin="round"/>
<polygon points="327.6,1007.6 349.7,998.1 331,999.4 308.9,1008.6" fill="#ff944e" stroke="#1e1a08" stroke-width="1.15" stroke-linejoin="round"/>
<polygon points="824.9,1007.2 843.9,1008.8 822,1000.2 803,998.3" fill="#ff6700" stroke="#1e1a08" stroke-width="1.15" stroke-linejoin="round"/>
<polygon points="368.8,997.9 390.7,989.3 371.6,989.8 349.7,998.1" fill="#ff7c4a" stroke="#1e1a08" stroke-width="1.15" stroke-linejoin="round"/>
<polygon points="783.6,997.6 803,998.3 781.3,990.6 761.9,989.5" fill="#ff4a02" stroke="#1e1a08" stroke-width="1.15" stroke-linejoin="round"/>
<polygon points="410,989.9 431.8,982.3 412.4,982 390.7,989.3" fill="#ff6746" stroke="#1e1a08" stroke-width="1.15" stroke-linejoin="round"/>
<polygon points="742.3,989.6 761.9,989.5 740.4,982.6 720.8,982.4" fill="#ff390c" stroke="#1e1a08" stroke-width="1.15" stroke-linejoin="round"/>
<polygon points="451.4,983.6 472.9,977 453.2,976 431.8,982.3" fill="#ff5441" stroke="#1e1a08" stroke-width="1.15" stroke-linejoin="round"/>
<polygon points="700.8,983.5 720.8,982.4 699.5,976.4 679.5,977.1" fill="#ff2e15" stroke="#1e1a08" stroke-width="1.15" stroke-linejoin="round"/>
<polygon points="492.9,979.2 514.2,973.5 494.2,971.7 472.9,977" fill="#ff443b" stroke="#1e1a08" stroke-width="1.15" stroke-linejoin="round"/>
<polygon points="659.2,979 679.5,977.1 658.5,972 638.2,973.6" fill="#ff291d" stroke="#1e1a08" stroke-width="1.15" stroke-linejoin="round"/>
<polygon points="534.5,976.5 555.5,971.8 535.3,969.1 514.2,973.5" fill="#ff3834" stroke="#1e1a08" stroke-width="1.15" stroke-linejoin="round"/>
<polygon points="617.7,976.4 638.2,973.6 617.4,969.3 596.9,971.8" fill="#ff2a25" stroke="#1e1a08" stroke-width="1.15" stroke-linejoin="round"/>
<polygon points="576.1,975.6 596.9,971.8 576.3,968.3 555.5,971.8" fill="#ff2f2d" stroke="#1e1a08" stroke-width="1.15" stroke-linejoin="round"/>
<polygon points="888.2,1029.7 906.9,1031.8 884.6,1021.1 866,1018.7" fill="#ff9d00" stroke="#1e1a08" stroke-width="1.15" stroke-linejoin="round"/>
<polygon points="305.4,1018.4 327.6,1007.6 308.9,1008.6 286.7,1019.1" fill="#ffa356" stroke="#1e1a08" stroke-width="1.15" stroke-linejoin="round"/>
<polygon points="847,1017.4 866,1018.7 843.9,1008.8 824.9,1007.2" fill="#ff7600" stroke="#1e1a08" stroke-width="1.15" stroke-linejoin="round"/>
<polygon points="346.7,1007.7 368.8,997.9 349.7,998.1 327.6,1007.6" fill="#ff8b52" stroke="#1e1a08" stroke-width="1.15" stroke-linejoin="round"/>
<polygon points="805.6,1006.8 824.9,1007.2 803,998.3 783.6,997.6" fill="#ff5804" stroke="#1e1a08" stroke-width="1.15" stroke-linejoin="round"/>
<polygon points="388.1,998.8 410,989.9 390.7,989.3 368.8,997.9" fill="#ff754e" stroke="#1e1a08" stroke-width="1.15" stroke-linejoin="round"/>
<polygon points="764,998 783.6,997.6 761.9,989.5 742.3,989.6" fill="#ff430d" stroke="#1e1a08" stroke-width="1.15" stroke-linejoin="round"/>
<polygon points="429.7,991.6 451.4,983.6 431.8,982.3 410,989.9" fill="#ff6249" stroke="#1e1a08" stroke-width="1.15" stroke-linejoin="round"/>
<polygon points="722.3,991 742.3,989.6 720.8,982.4 700.8,983.5" fill="#ff3616" stroke="#1e1a08" stroke-width="1.15" stroke-linejoin="round"/>
<polygon points="471.4,986.1 492.9,979.2 472.9,977 451.4,983.6" fill="#ff5144" stroke="#1e1a08" stroke-width="1.15" stroke-linejoin="round"/>
<polygon points="680.5,985.7 700.8,983.5 679.5,977.1 659.2,979" fill="#ff2f1f" stroke="#1e1a08" stroke-width="1.15" stroke-linejoin="round"/>
<polygon points="513.2,982.5 534.5,976.5 514.2,973.5 492.9,979.2" fill="#ff433e" stroke="#1e1a08" stroke-width="1.15" stroke-linejoin="round"/>
<polygon points="638.7,982.2 659.2,979 638.2,973.6 617.7,976.4" fill="#ff2d28" stroke="#1e1a08" stroke-width="1.15" stroke-linejoin="round"/>
<polygon points="910.7,1041.9 929.3,1043.7 906.9,1031.8 888.2,1029.7" fill="#ffb200" stroke="#1e1a08" stroke-width="1.15" stroke-linejoin="round"/>
<polygon points="555,980.6 576.1,975.6 555.5,971.8 534.5,976.5" fill="#ff3837" stroke="#1e1a08" stroke-width="1.15" stroke-linejoin="round"/>
<polygon points="596.9,980.5 617.7,976.4 596.9,971.8 576.1,975.6" fill="#ff3030" stroke="#1e1a08" stroke-width="1.15" stroke-linejoin="round"/>
<polygon points="282.9,1030.6 305.4,1018.4 286.7,1019.1 264.3,1030.9" fill="#ffb45c" stroke="#1e1a08" stroke-width="1.15" stroke-linejoin="round"/>
<polygon points="869.3,1028.8 888.2,1029.7 866,1018.7 847,1017.4" fill="#ff8900" stroke="#1e1a08" stroke-width="1.15" stroke-linejoin="round"/>
<polygon points="324.3,1018.9 346.7,1007.7 327.6,1007.6 305.4,1018.4" fill="#ff9b59" stroke="#1e1a08" stroke-width="1.15" stroke-linejoin="round"/>
<polygon points="827.7,1017.3 847,1017.4 824.9,1007.2 805.6,1006.8" fill="#ff6805" stroke="#1e1a08" stroke-width="1.15" stroke-linejoin="round"/>
<polygon points="366,1009 388.1,998.8 368.8,997.9 346.7,1007.7" fill="#ff8556" stroke="#1e1a08" stroke-width="1.15" stroke-linejoin="round"/>
<polygon points="785.9,1007.6 805.6,1006.8 783.6,997.6 764,998" fill="#ff510f" stroke="#1e1a08" stroke-width="1.15" stroke-linejoin="round"/>
<polygon points="407.7,1000.8 429.7,991.6 410,989.9 388.1,998.8" fill="#ff7051" stroke="#1e1a08" stroke-width="1.15" stroke-linejoin="round"/>
<polygon points="744.1,999.7 764,998 742.3,989.6 722.3,991" fill="#ff4118" stroke="#1e1a08" stroke-width="1.15" stroke-linejoin="round"/>
<polygon points="449.6,994.4 471.4,986.1 451.4,983.6 429.7,991.6" fill="#ff5f4c" stroke="#1e1a08" stroke-width="1.15" stroke-linejoin="round"/>
<polygon points="933.4,1055.4 951.9,1056.8 929.3,1043.7 910.7,1041.9" fill="#ffcb00" stroke="#1e1a08" stroke-width="1.15" stroke-linejoin="round"/>
<polygon points="260.2,1044.1 282.9,1030.6 264.3,1030.9 241.6,1044" fill="#ffc561" stroke="#1e1a08" stroke-width="1.15" stroke-linejoin="round"/>
<polygon points="702.1,993.6 722.3,991 700.8,983.5 680.5,985.7" fill="#ff3721" stroke="#1e1a08" stroke-width="1.15" stroke-linejoin="round"/>
<polygon points="491.6,989.8 513.2,982.5 492.9,979.2 471.4,986.1" fill="#ff4f47" stroke="#1e1a08" stroke-width="1.15" stroke-linejoin="round"/>
<polygon points="660,989.2 680.5,985.7 659.2,979 638.7,982.2" fill="#ff332a" stroke="#1e1a08" stroke-width="1.15" stroke-linejoin="round"/>
<polygon points="533.7,986.9 555,980.6 534.5,976.5 513.2,982.5" fill="#ff4340" stroke="#1e1a08" stroke-width="1.15" stroke-linejoin="round"/>
<polygon points="617.9,986.7 638.7,982.2 617.7,976.4 596.9,980.5" fill="#ff3532" stroke="#1e1a08" stroke-width="1.15" stroke-linejoin="round"/>
<polygon points="575.8,985.9 596.9,980.5 576.1,975.6 555,980.6" fill="#ff3a39" stroke="#1e1a08" stroke-width="1.15" stroke-linejoin="round"/>
<polygon points="891.8,1041.4 910.7,1041.9 888.2,1029.7 869.3,1028.8" fill="#ff9e00" stroke="#1e1a08" stroke-width="1.15" stroke-linejoin="round"/>
<polygon points="301.8,1031.5 324.3,1018.9 305.4,1018.4 282.9,1030.6" fill="#ffac60" stroke="#1e1a08" stroke-width="1.15" stroke-linejoin="round"/>
<polygon points="850.1,1029 869.3,1028.8 847,1017.4 827.7,1017.3" fill="#ff7b06" stroke="#1e1a08" stroke-width="1.15" stroke-linejoin="round"/>
<polygon points="343.6,1020.5 366,1009 346.7,1007.7 324.3,1018.9" fill="#ff955d" stroke="#1e1a08" stroke-width="1.15" stroke-linejoin="round"/>
<polygon points="808.1,1018.5 827.7,1017.3 805.6,1006.8 785.9,1007.6" fill="#ff610f" stroke="#1e1a08" stroke-width="1.15" stroke-linejoin="round"/>
<polygon points="385.5,1011.4 407.7,1000.8 388.1,998.8 366,1009" fill="#ff8159" stroke="#1e1a08" stroke-width="1.15" stroke-linejoin="round"/>
<polygon points="956.3,1070.2 974.8,1071.2 951.9,1056.8 933.4,1055.4" fill="#fde500" stroke="#1e1a08" stroke-width="1.15" stroke-linejoin="round"/>
<polygon points="237.4,1059 260.2,1044.1 241.6,1044 218.8,1058.5" fill="#ffd761" stroke="#1e1a08" stroke-width="1.15" stroke-linejoin="round"/>
<polygon points="766,1009.7 785.9,1007.6 764,998 744.1,999.7" fill="#ff4e19" stroke="#1e1a08" stroke-width="1.15" stroke-linejoin="round"/>
<polygon points="427.6,1004 449.6,994.4 429.7,991.6 407.7,1000.8" fill="#ff6e54" stroke="#1e1a08" stroke-width="1.15" stroke-linejoin="round"/>
<polygon points="723.8,1002.7 744.1,999.7 722.3,991 702.1,993.6" fill="#ff4222" stroke="#1e1a08" stroke-width="1.15" stroke-linejoin="round"/>
<polygon points="469.8,998.4 491.6,989.8 471.4,986.1 449.6,994.4" fill="#ff5e4f" stroke="#1e1a08" stroke-width="1.15" stroke-linejoin="round"/>
<polygon points="681.6,997.4 702.1,993.6 680.5,985.7 660,989.2" fill="#ff3c2b" stroke="#1e1a08" stroke-width="1.15" stroke-linejoin="round"/>
<polygon points="512.1,994.6 533.7,986.9 513.2,982.5 491.6,989.8" fill="#ff5049" stroke="#1e1a08" stroke-width="1.15" stroke-linejoin="round"/>
<polygon points="914.6,1055.2 933.4,1055.4 910.7,1041.9 891.8,1041.4" fill="#ffb800" stroke="#1e1a08" stroke-width="1.15" stroke-linejoin="round"/>
<polygon points="279.1,1045.4 301.8,1031.5 282.9,1030.6 260.2,1044.1" fill="#ffbc61" stroke="#1e1a08" stroke-width="1.15" stroke-linejoin="round"/>
<polygon points="639.2,994 660,989.2 638.7,982.2 617.9,986.7" fill="#ff3b33" stroke="#1e1a08" stroke-width="1.15" stroke-linejoin="round"/>
<polygon points="554.5,992.6 575.8,985.9 555,980.6 533.7,986.9" fill="#ff4642" stroke="#1e1a08" stroke-width="1.15" stroke-linejoin="round"/>
<polygon points="596.9,992.4 617.9,986.7 596.9,980.5 575.8,985.9" fill="#ff3e3b" stroke="#1e1a08" stroke-width="1.15" stroke-linejoin="round"/>
<polygon points="872.6,1042 891.8,1041.4 869.3,1028.8 850.1,1029" fill="#ff9106" stroke="#1e1a08" stroke-width="1.15" stroke-linejoin="round"/>
<polygon points="321,1033.4 343.6,1020.5 324.3,1018.9 301.8,1031.5" fill="#ffa661" stroke="#1e1a08" stroke-width="1.15" stroke-linejoin="round"/>
<polygon points="830.5,1030.5 850.1,1029 827.7,1017.3 808.1,1018.5" fill="#ff7410" stroke="#1e1a08" stroke-width="1.15" stroke-linejoin="round"/>
<polygon points="363.2,1023.3 385.5,1011.4 366,1009 343.6,1020.5" fill="#ff9260" stroke="#1e1a08" stroke-width="1.15" stroke-linejoin="round"/>
<polygon points="214.3,1075.3 237.4,1059 218.8,1058.5 195.9,1074.4" fill="#ffea61" stroke="#1e1a08" stroke-width="1.15" stroke-linejoin="round"/>
<polygon points="979.3,1086.2 997.8,1086.9 974.8,1071.2 956.3,1070.2" fill="#f3fa00" stroke="#1e1a08" stroke-width="1.15" stroke-linejoin="round"/>
<polygon points="788.3,1020.9 808.1,1018.5 785.9,1007.6 766,1009.7" fill="#ff5e1a" stroke="#1e1a08" stroke-width="1.15" stroke-linejoin="round"/>
<polygon points="405.4,1014.9 427.6,1004 407.7,1000.8 385.5,1011.4" fill="#ff7f5b" stroke="#1e1a08" stroke-width="1.15" stroke-linejoin="round"/>
<polygon points="745.9,1013 766,1009.7 744.1,999.7 723.8,1002.7" fill="#ff5023" stroke="#1e1a08" stroke-width="1.15" stroke-linejoin="round"/>
<polygon points="447.8,1008.3 469.8,998.4 449.6,994.4 427.6,1004" fill="#ff6e57" stroke="#1e1a08" stroke-width="1.15" stroke-linejoin="round"/>
<polygon points="256.2,1060.6 279.1,1045.4 260.2,1044.1 237.4,1059" fill="#ffce61" stroke="#1e1a08" stroke-width="1.15" stroke-linejoin="round"/>
<polygon points="937.5,1070.4 956.3,1070.2 933.4,1055.4 914.6,1055.2" fill="#ffd400" stroke="#1e1a08" stroke-width="1.15" stroke-linejoin="round"/>
<polygon points="703.4,1006.9 723.8,1002.7 702.1,993.6 681.6,997.4" fill="#ff472c" stroke="#1e1a08" stroke-width="1.15" stroke-linejoin="round"/>
<polygon points="490.3,1003.6 512.1,994.6 491.6,989.8 469.8,998.4" fill="#ff5f51" stroke="#1e1a08" stroke-width="1.15" stroke-linejoin="round"/>
<polygon points="660.8,1002.6 681.6,997.4 660,989.2 639.2,994" fill="#ff4434" stroke="#1e1a08" stroke-width="1.15" stroke-linejoin="round"/>
<polygon points="532.9,1000.6 554.5,992.6 533.7,986.9 512.1,994.6" fill="#ff534b" stroke="#1e1a08" stroke-width="1.15" stroke-linejoin="round"/>
<polygon points="618.2,1000.1 639.2,994 617.9,986.7 596.9,992.4" fill="#ff453c" stroke="#1e1a08" stroke-width="1.15" stroke-linejoin="round"/>
<polygon points="575.5,999.4 596.9,992.4 575.8,985.9 554.5,992.6" fill="#ff4a44" stroke="#1e1a08" stroke-width="1.15" stroke-linejoin="round"/>
<polygon points="298.3,1047.7 321,1033.4 301.8,1031.5 279.1,1045.4" fill="#ffb661" stroke="#1e1a08" stroke-width="1.15" stroke-linejoin="round"/>
<polygon points="895.4,1056.3 914.6,1055.2 891.8,1041.4 872.6,1042" fill="#ffab06" stroke="#1e1a08" stroke-width="1.15" stroke-linejoin="round"/>
<polygon points="191.2,1092.9 214.3,1075.3 195.9,1074.4 172.7,1091.7" fill="#feff61" stroke="#1e1a08" stroke-width="1.15" stroke-linejoin="round"/>
<polygon points="340.6,1036.6 363.2,1023.3 343.6,1020.5 321,1033.4" fill="#ffa161" stroke="#1e1a08" stroke-width="1.15" stroke-linejoin="round"/>
<polygon points="1002.6,1103.5 1020.9,1103.8 997.8,1086.9 979.3,1086.2" fill="#cef600" stroke="#1e1a08" stroke-width="1.15" stroke-linejoin="round"/>
<polygon points="853.1,1043.9 872.6,1042 850.1,1029 830.5,1030.5" fill="#ff8a10" stroke="#1e1a08" stroke-width="1.15" stroke-linejoin="round"/>
<polygon points="383,1027.2 405.4,1014.9 385.5,1011.4 363.2,1023.3" fill="#ff8f61" stroke="#1e1a08" stroke-width="1.15" stroke-linejoin="round"/>
<polygon points="810.7,1033.3 830.5,1030.5 808.1,1018.5 788.3,1020.9" fill="#ff711a" stroke="#1e1a08" stroke-width="1.15" stroke-linejoin="round"/>
<polygon points="233.1,1077.3 256.2,1060.6 237.4,1059 214.3,1075.3" fill="#ffe361" stroke="#1e1a08" stroke-width="1.15" stroke-linejoin="round"/>
<polygon points="960.6,1086.8 979.3,1086.2 956.3,1070.2 937.5,1070.4" fill="#fdf300" stroke="#1e1a08" stroke-width="1.15" stroke-linejoin="round"/>
<polygon points="425.6,1019.7 447.8,1008.3 427.6,1004 405.4,1014.9" fill="#ff7e5d" stroke="#1e1a08" stroke-width="1.15" stroke-linejoin="round"/>
<polygon points="768.1,1024.5 788.3,1020.9 766,1009.7 745.9,1013" fill="#ff6023" stroke="#1e1a08" stroke-width="1.15" stroke-linejoin="round"/>
<polygon points="468.3,1013.9 490.3,1003.6 469.8,998.4 447.8,1008.3" fill="#ff6f58" stroke="#1e1a08" stroke-width="1.15" stroke-linejoin="round"/>
<polygon points="725.4,1017.6 745.9,1013 723.8,1002.7 703.4,1006.9" fill="#ff542c" stroke="#1e1a08" stroke-width="1.15" stroke-linejoin="round"/>
<polygon points="511.1,1010 532.9,1000.6 512.1,994.6 490.3,1003.6" fill="#ff6253" stroke="#1e1a08" stroke-width="1.15" stroke-linejoin="round"/>
<polygon points="682.6,1012.4 703.4,1006.9 681.6,997.4 660.8,1002.6" fill="#ff4f35" stroke="#1e1a08" stroke-width="1.15" stroke-linejoin="round"/>
<polygon points="275.3,1063.4 298.3,1047.7 279.1,1045.4 256.2,1060.6" fill="#ffc861" stroke="#1e1a08" stroke-width="1.15" stroke-linejoin="round"/>
<polygon points="918.4,1071.8 937.5,1070.4 914.6,1055.2 895.4,1056.3" fill="#ffc706" stroke="#1e1a08" stroke-width="1.15" stroke-linejoin="round"/>
<polygon points="554,1007.8 575.5,999.4 554.5,992.6 532.9,1000.6" fill="#ff584c" stroke="#1e1a08" stroke-width="1.15" stroke-linejoin="round"/>
<polygon points="639.7,1009.1 660.8,1002.6 639.2,994 618.2,1000.1" fill="#ff4e3d" stroke="#1e1a08" stroke-width="1.15" stroke-linejoin="round"/>
<polygon points="596.8,1007.5 618.2,1000.1 596.9,992.4 575.5,999.4" fill="#ff5145" stroke="#1e1a08" stroke-width="1.15" stroke-linejoin="round"/>
<polygon points="317.8,1051.2 340.6,1036.6 321,1033.4 298.3,1047.7" fill="#ffb261" stroke="#1e1a08" stroke-width="1.15" stroke-linejoin="round"/>
<polygon points="875.9,1058.5 895.4,1056.3 872.6,1042 853.1,1043.9" fill="#ffa310" stroke="#1e1a08" stroke-width="1.15" stroke-linejoin="round"/>
<polygon points="360.4,1040.9 383,1027.2 363.2,1023.3 340.6,1036.6" fill="#ff9e61" stroke="#1e1a08" stroke-width="1.15" stroke-linejoin="round"/>
<polygon points="209.9,1095.3 233.1,1077.3 214.3,1075.3 191.2,1092.9" fill="#fff961" stroke="#1e1a08" stroke-width="1.15" stroke-linejoin="round"/>
<polygon points="833.3,1047.1 853.1,1043.9 830.5,1030.5 810.7,1033.3" fill="#ff871a" stroke="#1e1a08" stroke-width="1.15" stroke-linejoin="round"/>
<polygon points="983.9,1104.5 1002.6,1103.5 979.3,1086.2 960.6,1086.8" fill="#e1fa00" stroke="#1e1a08" stroke-width="1.15" stroke-linejoin="round"/>
<polygon points="403.1,1032.3 425.6,1019.7 405.4,1014.9 383,1027.2" fill="#ff8e61" stroke="#1e1a08" stroke-width="1.15" stroke-linejoin="round"/>
<polygon points="790.5,1037.4 810.7,1033.3 788.3,1020.9 768.1,1024.5" fill="#ff7223" stroke="#1e1a08" stroke-width="1.15" stroke-linejoin="round"/>
<polygon points="252.2,1080.5 275.3,1063.4 256.2,1060.6 233.1,1077.3" fill="#ffdd61" stroke="#1e1a08" stroke-width="1.15" stroke-linejoin="round"/>
<polygon points="446,1025.6 468.3,1013.9 447.8,1008.3 425.6,1019.7" fill="#ff805f" stroke="#1e1a08" stroke-width="1.15" stroke-linejoin="round"/>
<polygon points="747.6,1029.5 768.1,1024.5 745.9,1013 725.4,1017.6" fill="#ff642c" stroke="#1e1a08" stroke-width="1.15" stroke-linejoin="round"/>
<polygon points="941.5,1088.6 960.6,1086.8 937.5,1070.4 918.4,1071.8" fill="#ffe806" stroke="#1e1a08" stroke-width="1.15" stroke-linejoin="round"/>
<polygon points="489.1,1020.7 511.1,1010 490.3,1003.6 468.3,1013.9" fill="#ff7259" stroke="#1e1a08" stroke-width="1.15" stroke-linejoin="round"/>
<polygon points="704.6,1023.5 725.4,1017.6 703.4,1006.9 682.6,1012.4" fill="#ff5c35" stroke="#1e1a08" stroke-width="1.15" stroke-linejoin="round"/>
<polygon points="532.1,1017.6 554,1007.8 532.9,1000.6 511.1,1010" fill="#ff6753" stroke="#1e1a08" stroke-width="1.15" stroke-linejoin="round"/>
<polygon points="661.5,1019.3 682.6,1012.4 660.8,1002.6 639.7,1009.1" fill="#ff593e" stroke="#1e1a08" stroke-width="1.15" stroke-linejoin="round"/>
<polygon points="575.3,1016.3 596.8,1007.5 575.5,999.4 554,1007.8" fill="#ff5f4d" stroke="#1e1a08" stroke-width="1.15" stroke-linejoin="round"/>
<polygon points="618.4,1016.9 639.7,1009.1 618.2,1000.1 596.8,1007.5" fill="#ff5a45" stroke="#1e1a08" stroke-width="1.15" stroke-linejoin="round"/>
<polygon points="294.8,1067.3 317.8,1051.2 298.3,1047.7 275.3,1063.4" fill="#ffc561" stroke="#1e1a08" stroke-width="1.15" stroke-linejoin="round"/>
<polygon points="899,1074.5 918.4,1071.8 895.4,1056.3 875.9,1058.5" fill="#ffc010" stroke="#1e1a08" stroke-width="1.15" stroke-linejoin="round"/>
<polygon points="337.5,1056 360.4,1040.9 340.6,1036.6 317.8,1051.2" fill="#ffaf61" stroke="#1e1a08" stroke-width="1.15" stroke-linejoin="round"/>
<polygon points="856.2,1062.1 875.9,1058.5 853.1,1043.9 833.3,1047.1" fill="#ffa019" stroke="#1e1a08" stroke-width="1.15" stroke-linejoin="round"/>
<polygon points="380.5,1046.4 403.1,1032.3 383,1027.2 360.4,1040.9" fill="#ff9e61" stroke="#1e1a08" stroke-width="1.15" stroke-linejoin="round"/>
<polygon points="813.2,1051.5 833.3,1047.1 810.7,1033.3 790.5,1037.4" fill="#ff8823" stroke="#1e1a08" stroke-width="1.15" stroke-linejoin="round"/>
<polygon points="228.9,1098.9 252.2,1080.5 233.1,1077.3 209.9,1095.3" fill="#fff461" stroke="#1e1a08" stroke-width="1.15" stroke-linejoin="round"/>
<polygon points="964.9,1106.7 983.9,1104.5 960.6,1086.8 941.5,1088.6" fill="#f1fd05" stroke="#1e1a08" stroke-width="1.15" stroke-linejoin="round"/>
<polygon points="423.6,1038.7 446,1025.6 425.6,1019.7 403.1,1032.3" fill="#ff8f61" stroke="#1e1a08" stroke-width="1.15" stroke-linejoin="round"/>
<polygon points="770.1,1042.8 790.5,1037.4 768.1,1024.5 747.6,1029.5" fill="#ff762c" stroke="#1e1a08" stroke-width="1.15" stroke-linejoin="round"/>
<polygon points="466.8,1032.8 489.1,1020.7 468.3,1013.9 446,1025.6" fill="#ff8460" stroke="#1e1a08" stroke-width="1.15" stroke-linejoin="round"/>
<polygon points="726.9,1035.8 747.6,1029.5 725.4,1017.6 704.6,1023.5" fill="#ff6b35" stroke="#1e1a08" stroke-width="1.15" stroke-linejoin="round"/>
<polygon points="271.6,1084.8 294.8,1067.3 275.3,1063.4 252.2,1080.5" fill="#ffda61" stroke="#1e1a08" stroke-width="1.15" stroke-linejoin="round"/>
<polygon points="510.1,1028.7 532.1,1017.6 511.1,1010 489.1,1020.7" fill="#ff775a" stroke="#1e1a08" stroke-width="1.15" stroke-linejoin="round"/>
<polygon points="683.6,1030.7 704.6,1023.5 682.6,1012.4 661.5,1019.3" fill="#ff663d" stroke="#1e1a08" stroke-width="1.15" stroke-linejoin="round"/>
<polygon points="922.2,1091.7 941.5,1088.6 918.4,1071.8 899,1074.5" fill="#ffdf0f" stroke="#1e1a08" stroke-width="1.15" stroke-linejoin="round"/>
<polygon points="553.4,1026.4 575.3,1016.3 554,1007.8 532.1,1017.6" fill="#ff6e54" stroke="#1e1a08" stroke-width="1.15" stroke-linejoin="round"/>
<polygon points="640.2,1027.4 661.5,1019.3 639.7,1009.1 618.4,1016.9" fill="#ff6545" stroke="#1e1a08" stroke-width="1.15" stroke-linejoin="round"/>
<polygon points="596.8,1026 618.4,1016.9 596.8,1007.5 575.3,1016.3" fill="#ff684d" stroke="#1e1a08" stroke-width="1.15" stroke-linejoin="round"/>
<polygon points="314.5,1072.5 337.5,1056 317.8,1051.2 294.8,1067.3" fill="#ffc361" stroke="#1e1a08" stroke-width="1.15" stroke-linejoin="round"/>
<polygon points="879.2,1078.4 899,1074.5 875.9,1058.5 856.2,1062.1" fill="#ffbc18" stroke="#1e1a08" stroke-width="1.15" stroke-linejoin="round"/>
<polygon points="357.6,1061.9 380.5,1046.4 360.4,1040.9 337.5,1056" fill="#ffaf61" stroke="#1e1a08" stroke-width="1.15" stroke-linejoin="round"/>
<polygon points="836.1,1067 856.2,1062.1 833.3,1047.1 813.2,1051.5" fill="#ffa022" stroke="#1e1a08" stroke-width="1.15" stroke-linejoin="round"/>
<polygon points="400.9,1053.2 423.6,1038.7 403.1,1032.3 380.5,1046.4" fill="#ff9f61" stroke="#1e1a08" stroke-width="1.15" stroke-linejoin="round"/>
<polygon points="792.8,1057.3 813.2,1051.5 790.5,1037.4 770.1,1042.8" fill="#ff8c2b" stroke="#1e1a08" stroke-width="1.15" stroke-linejoin="round"/>
<polygon points="248.2,1103.7 271.6,1084.8 252.2,1080.5 228.9,1098.9" fill="#fff261" stroke="#1e1a08" stroke-width="1.15" stroke-linejoin="round"/>
<polygon points="444.3,1046.2 466.8,1032.8 446,1025.6 423.6,1038.7" fill="#ff9261" stroke="#1e1a08" stroke-width="1.15" stroke-linejoin="round"/>
<polygon points="749.4,1049.5 770.1,1042.8 747.6,1029.5 726.9,1035.8" fill="#ff7e34" stroke="#1e1a08" stroke-width="1.15" stroke-linejoin="round"/>
<polygon points="945.5,1110.2 964.9,1106.7 941.5,1088.6 922.2,1091.7" fill="#fcff0e" stroke="#1e1a08" stroke-width="1.15" stroke-linejoin="round"/>
<polygon points="487.8,1041.2 510.1,1028.7 489.1,1020.7 466.8,1032.8" fill="#ff8960" stroke="#1e1a08" stroke-width="1.15" stroke-linejoin="round"/>
<polygon points="705.9,1043.5 726.9,1035.8 704.6,1023.5 683.6,1030.7" fill="#ff753d" stroke="#1e1a08" stroke-width="1.15" stroke-linejoin="round"/>
<polygon points="531.4,1037.9 553.4,1026.4 532.1,1017.6 510.1,1028.7" fill="#ff7e5a" stroke="#1e1a08" stroke-width="1.15" stroke-linejoin="round"/>
<polygon points="662.3,1039.3 683.6,1030.7 661.5,1019.3 640.2,1027.4" fill="#ff7145" stroke="#1e1a08" stroke-width="1.15" stroke-linejoin="round"/>
<polygon points="575,1036.5 596.8,1026 575.3,1016.3 553.4,1026.4" fill="#ff7754" stroke="#1e1a08" stroke-width="1.15" stroke-linejoin="round"/>
<polygon points="291.3,1090.4 314.5,1072.5 294.8,1067.3 271.6,1084.8" fill="#ffd961" stroke="#1e1a08" stroke-width="1.15" stroke-linejoin="round"/>
<polygon points="618.7,1037 640.2,1027.4 618.4,1016.9 596.8,1026" fill="#ff724d" stroke="#1e1a08" stroke-width="1.15" stroke-linejoin="round"/>
<polygon points="902.5,1096.1 922.2,1091.7 899,1074.5 879.2,1078.4" fill="#ffdb17" stroke="#1e1a08" stroke-width="1.15" stroke-linejoin="round"/>
<polygon points="334.5,1078.8 357.6,1061.9 337.5,1056 314.5,1072.5" fill="#ffc361" stroke="#1e1a08" stroke-width="1.15" stroke-linejoin="round"/>
<polygon points="859.2,1083.7 879.2,1078.4 856.2,1062.1 836.1,1067" fill="#ffbc21" stroke="#1e1a08" stroke-width="1.15" stroke-linejoin="round"/>
<polygon points="378,1069.1 400.9,1053.2 380.5,1046.4 357.6,1061.9" fill="#ffb161" stroke="#1e1a08" stroke-width="1.15" stroke-linejoin="round"/>
<polygon points="815.7,1073.1 836.1,1067 813.2,1051.5 792.8,1057.3" fill="#ffa42a" stroke="#1e1a08" stroke-width="1.15" stroke-linejoin="round"/>
<polygon points="421.5,1061.2 444.3,1046.2 423.6,1038.7 400.9,1053.2" fill="#ffa361" stroke="#1e1a08" stroke-width="1.15" stroke-linejoin="round"/>
<polygon points="772.1,1064.4 792.8,1057.3 770.1,1042.8 749.4,1049.5" fill="#ff9233" stroke="#1e1a08" stroke-width="1.15" stroke-linejoin="round"/>
<polygon points="465.3,1055.1 487.8,1041.2 466.8,1032.8 444.3,1046.2" fill="#ff9861" stroke="#1e1a08" stroke-width="1.15" stroke-linejoin="round"/>
<polygon points="267.9,1109.7 291.3,1090.4 271.6,1084.8 248.2,1103.7" fill="#fff161" stroke="#1e1a08" stroke-width="1.15" stroke-linejoin="round"/>
<polygon points="728.4,1057.5 749.4,1049.5 726.9,1035.8 705.9,1043.5" fill="#ff873c" stroke="#1e1a08" stroke-width="1.15" stroke-linejoin="round"/>
<polygon points="509.1,1050.8 531.4,1037.9 510.1,1028.7 487.8,1041.2" fill="#ff9060" stroke="#1e1a08" stroke-width="1.15" stroke-linejoin="round"/>
<polygon points="925.9,1115 945.5,1110.2 922.2,1091.7 902.5,1096.1" fill="#fffe16" stroke="#1e1a08" stroke-width="1.15" stroke-linejoin="round"/>
<polygon points="684.6,1052.5 705.9,1043.5 683.6,1030.7 662.3,1039.3" fill="#ff8144" stroke="#1e1a08" stroke-width="1.15" stroke-linejoin="round"/>
<polygon points="552.9,1048.5 575,1036.5 553.4,1026.4 531.4,1037.9" fill="#ff875a" stroke="#1e1a08" stroke-width="1.15" stroke-linejoin="round"/>
<polygon points="640.7,1049.3 662.3,1039.3 640.2,1027.4 618.7,1037" fill="#ff7f4c" stroke="#1e1a08" stroke-width="1.15" stroke-linejoin="round"/>
<polygon points="596.8,1047.9 618.7,1037 596.8,1026 575,1036.5" fill="#ff8153" stroke="#1e1a08" stroke-width="1.15" stroke-linejoin="round"/>
<polygon points="311.3,1097.1 334.5,1078.8 314.5,1072.5 291.3,1090.4" fill="#ffda61" stroke="#1e1a08" stroke-width="1.15" stroke-linejoin="round"/>
<polygon points="882.5,1101.8 902.5,1096.1 879.2,1078.4 859.2,1083.7" fill="#ffda20" stroke="#1e1a08" stroke-width="1.15" stroke-linejoin="round"/>
<polygon points="354.9,1086.4 378,1069.1 357.6,1061.9 334.5,1078.8" fill="#ffc661" stroke="#1e1a08" stroke-width="1.15" stroke-linejoin="round"/>
<polygon points="838.9,1090.3 859.2,1083.7 836.1,1067 815.7,1073.1" fill="#ffbf29" stroke="#1e1a08" stroke-width="1.15" stroke-linejoin="round"/>
<polygon points="398.6,1077.5 421.5,1061.2 400.9,1053.2 378,1069.1" fill="#ffb661" stroke="#1e1a08" stroke-width="1.15" stroke-linejoin="round"/>
<polygon points="795.1,1080.7 815.7,1073.1 792.8,1057.3 772.1,1064.4" fill="#ffaa32" stroke="#1e1a08" stroke-width="1.15" stroke-linejoin="round"/>
<polygon points="442.5,1070.4 465.3,1055.1 444.3,1046.2 421.5,1061.2" fill="#ffa961" stroke="#1e1a08" stroke-width="1.15" stroke-linejoin="round"/>
<polygon points="751.2,1072.9 772.1,1064.4 749.4,1049.5 728.4,1057.5" fill="#ff9b3b" stroke="#1e1a08" stroke-width="1.15" stroke-linejoin="round"/>
<polygon points="486.5,1065.2 509.1,1050.8 487.8,1041.2 465.3,1055.1" fill="#ff9f61" stroke="#1e1a08" stroke-width="1.15" stroke-linejoin="round"/>
<polygon points="707.1,1067 728.4,1057.5 705.9,1043.5 684.6,1052.5" fill="#ff9243" stroke="#1e1a08" stroke-width="1.15" stroke-linejoin="round"/>
<polygon points="530.6,1061.8 552.9,1048.5 531.4,1037.9 509.1,1050.8" fill="#ff985f" stroke="#1e1a08" stroke-width="1.15" stroke-linejoin="round"/>
<polygon points="287.8,1116.9 311.3,1097.1 291.3,1090.4 267.9,1109.7" fill="#fff361" stroke="#1e1a08" stroke-width="1.15" stroke-linejoin="round"/>
<polygon points="663,1062.9 684.6,1052.5 662.3,1039.3 640.7,1049.3" fill="#ff8e4b" stroke="#1e1a08" stroke-width="1.15" stroke-linejoin="round"/>
<polygon points="574.7,1060.3 596.8,1047.9 575,1036.5 552.9,1048.5" fill="#ff9259" stroke="#1e1a08" stroke-width="1.15" stroke-linejoin="round"/>
<polygon points="618.9,1060.6 640.7,1049.3 618.7,1037 596.8,1047.9" fill="#ff8e52" stroke="#1e1a08" stroke-width="1.15" stroke-linejoin="round"/>
<polygon points="905.9,1121.2 925.9,1115 902.5,1096.1 882.5,1101.8" fill="#fffd1e" stroke="#1e1a08" stroke-width="1.15" stroke-linejoin="round"/>
<polygon points="331.6,1105.2 354.9,1086.4 334.5,1078.8 311.3,1097.1" fill="#ffdd61" stroke="#1e1a08" stroke-width="1.15" stroke-linejoin="round"/>
<polygon points="862.2,1108.8 882.5,1101.8 859.2,1083.7 838.9,1090.3" fill="#ffdd27" stroke="#1e1a08" stroke-width="1.15" stroke-linejoin="round"/>
<polygon points="375.5,1095.3 398.6,1077.5 378,1069.1 354.9,1086.4" fill="#ffcb61" stroke="#1e1a08" stroke-width="1.15" stroke-linejoin="round"/>
<polygon points="818.2,1098.3 838.9,1090.3 815.7,1073.1 795.1,1080.7" fill="#ffc530" stroke="#1e1a08" stroke-width="1.15" stroke-linejoin="round"/>
<polygon points="419.5,1087.2 442.5,1070.4 421.5,1061.2 398.6,1077.5" fill="#ffbc61" stroke="#1e1a08" stroke-width="1.15" stroke-linejoin="round"/>
<polygon points="774.1,1089.6 795.1,1080.7 772.1,1064.4 751.2,1072.9" fill="#ffb339" stroke="#1e1a08" stroke-width="1.15" stroke-linejoin="round"/>
<polygon points="463.7,1080.9 486.5,1065.2 465.3,1055.1 442.5,1070.4" fill="#ffb161" stroke="#1e1a08" stroke-width="1.15" stroke-linejoin="round"/>
<polygon points="729.9,1082.8 751.2,1072.9 728.4,1057.5 707.1,1067" fill="#ffa741" stroke="#1e1a08" stroke-width="1.15" stroke-linejoin="round"/>
<polygon points="508,1076.6 530.6,1061.8 509.1,1050.8 486.5,1065.2" fill="#ffa961" stroke="#1e1a08" stroke-width="1.15" stroke-linejoin="round"/>
<polygon points="685.6,1077.8 707.1,1067 684.6,1052.5 663,1062.9" fill="#ffa049" stroke="#1e1a08" stroke-width="1.15" stroke-linejoin="round"/>
<polygon points="552.4,1074.1 574.7,1060.3 552.9,1048.5 530.6,1061.8" fill="#ffa35e" stroke="#1e1a08" stroke-width="1.15" stroke-linejoin="round"/>
<polygon points="641.2,1074.7 663,1062.9 640.7,1049.3 618.9,1060.6" fill="#ff9d51" stroke="#1e1a08" stroke-width="1.15" stroke-linejoin="round"/>
<polygon points="596.8,1073.4 618.9,1060.6 596.8,1047.9 574.7,1060.3" fill="#ff9e58" stroke="#1e1a08" stroke-width="1.15" stroke-linejoin="round"/>
<polygon points="308.1,1125.4 331.6,1105.2 311.3,1097.1 287.8,1116.9" fill="#fff661" stroke="#1e1a08" stroke-width="1.15" stroke-linejoin="round"/>
<polygon points="885.7,1128.7 905.9,1121.2 882.5,1101.8 862.2,1108.8" fill="#ffff25" stroke="#1e1a08" stroke-width="1.15" stroke-linejoin="round"/>
<polygon points="352.1,1114.5 375.5,1095.3 354.9,1086.4 331.6,1105.2" fill="#ffe261" stroke="#1e1a08" stroke-width="1.15" stroke-linejoin="round"/>
<polygon points="841.6,1117.2 862.2,1108.8 838.9,1090.3 818.2,1098.3" fill="#ffe32e" stroke="#1e1a08" stroke-width="1.15" stroke-linejoin="round"/>
<polygon points="396.4,1105.4 419.5,1087.2 398.6,1077.5 375.5,1095.3" fill="#ffd261" stroke="#1e1a08" stroke-width="1.15" stroke-linejoin="round"/>
<polygon points="797.3,1107.6 818.2,1098.3 795.1,1080.7 774.1,1089.6" fill="#ffcd37" stroke="#1e1a08" stroke-width="1.15" stroke-linejoin="round"/>
<polygon points="440.8,1098.2 463.7,1080.9 442.5,1070.4 419.5,1087.2" fill="#ffc561" stroke="#1e1a08" stroke-width="1.15" stroke-linejoin="round"/>
<polygon points="752.9,1099.9 774.1,1089.6 751.2,1072.9 729.9,1082.8" fill="#ffbe3f" stroke="#1e1a08" stroke-width="1.15" stroke-linejoin="round"/>
<polygon points="485.3,1092.8 508,1076.6 486.5,1065.2 463.7,1080.9" fill="#ffbb61" stroke="#1e1a08" stroke-width="1.15" stroke-linejoin="round"/>
<polygon points="708.4,1094 729.9,1082.8 707.1,1067 685.6,1077.8" fill="#ffb448" stroke="#1e1a08" stroke-width="1.15" stroke-linejoin="round"/>
<polygon points="529.8,1089.3 552.4,1074.1 530.6,1061.8 508,1076.6" fill="#ffb561" stroke="#1e1a08" stroke-width="1.15" stroke-linejoin="round"/>
<polygon points="663.8,1090 685.6,1077.8 663,1062.9 641.2,1074.7" fill="#ffaf4f" stroke="#1e1a08" stroke-width="1.15" stroke-linejoin="round"/>
<polygon points="574.5,1087.6 596.8,1073.4 574.7,1060.3 552.4,1074.1" fill="#ffb05d" stroke="#1e1a08" stroke-width="1.15" stroke-linejoin="round"/>
<polygon points="619.1,1087.9 641.2,1074.7 618.9,1060.6 596.8,1073.4" fill="#ffae56" stroke="#1e1a08" stroke-width="1.15" stroke-linejoin="round"/>
<polygon points="328.6,1135.2 352.1,1114.5 331.6,1105.2 308.1,1125.4" fill="#fffc61" stroke="#1e1a08" stroke-width="1.15" stroke-linejoin="round"/>
<polygon points="865.1,1137.6 885.7,1128.7 862.2,1108.8 841.6,1117.2" fill="#faff2c" stroke="#1e1a08" stroke-width="1.15" stroke-linejoin="round"/>
<polygon points="373,1125.1 396.4,1105.4 375.5,1095.3 352.1,1114.5" fill="#ffea61" stroke="#1e1a08" stroke-width="1.15" stroke-linejoin="round"/>
<polygon points="820.7,1127.1 841.6,1117.2 818.2,1098.3 797.3,1107.6" fill="#ffeb35" stroke="#1e1a08" stroke-width="1.15" stroke-linejoin="round"/>
<polygon points="417.6,1116.8 440.8,1098.2 419.5,1087.2 396.4,1105.4" fill="#ffdb61" stroke="#1e1a08" stroke-width="1.15" stroke-linejoin="round"/>
<polygon points="776.1,1118.4 797.3,1107.6 774.1,1089.6 752.9,1099.9" fill="#ffd83d" stroke="#1e1a08" stroke-width="1.15" stroke-linejoin="round"/>
<polygon points="462.3,1110.4 485.3,1092.8 463.7,1080.9 440.8,1098.2" fill="#ffcf61" stroke="#1e1a08" stroke-width="1.15" stroke-linejoin="round"/>
<polygon points="731.4,1111.6 752.9,1099.9 729.9,1082.8 708.4,1094" fill="#ffcb45" stroke="#1e1a08" stroke-width="1.15" stroke-linejoin="round"/>
<polygon points="507,1105.9 529.8,1089.3 508,1076.6 485.3,1092.8" fill="#ffc761" stroke="#1e1a08" stroke-width="1.15" stroke-linejoin="round"/>
<polygon points="686.6,1106.7 708.4,1094 685.6,1077.8 663.8,1090" fill="#ffc34d" stroke="#1e1a08" stroke-width="1.15" stroke-linejoin="round"/>
<polygon points="551.9,1103.3 574.5,1087.6 552.4,1074.1 529.8,1089.3" fill="#ffc361" stroke="#1e1a08" stroke-width="1.15" stroke-linejoin="round"/>
<polygon points="641.7,1103.7 663.8,1090 641.2,1074.7 619.1,1087.9" fill="#ffbf54" stroke="#1e1a08" stroke-width="1.15" stroke-linejoin="round"/>
<polygon points="596.8,1102.5 619.1,1087.9 596.8,1073.4 574.5,1087.6" fill="#ffbf5b" stroke="#1e1a08" stroke-width="1.15" stroke-linejoin="round"/>
<polygon points="349.5,1146.3 373,1125.1 352.1,1114.5 328.6,1135.2" fill="#faff61" stroke="#1e1a08" stroke-width="1.15" stroke-linejoin="round"/>
<polygon points="844.3,1147.8 865.1,1137.6 841.6,1117.2 820.7,1127.1" fill="#f2ff33" stroke="#1e1a08" stroke-width="1.15" stroke-linejoin="round"/>
<polygon points="394.2,1137 417.6,1116.8 396.4,1105.4 373,1125.1" fill="#fff361" stroke="#1e1a08" stroke-width="1.15" stroke-linejoin="round"/>
<polygon points="799.5,1138.3 820.7,1127.1 797.3,1107.6 776.1,1118.4" fill="#fff63b" stroke="#1e1a08" stroke-width="1.15" stroke-linejoin="round"/>
<polygon points="439,1129.6 462.3,1110.4 440.8,1098.2 417.6,1116.8" fill="#ffe661" stroke="#1e1a08" stroke-width="1.15" stroke-linejoin="round"/>
<polygon points="754.6,1130.6 776.1,1118.4 752.9,1099.9 731.4,1111.6" fill="#ffe543" stroke="#1e1a08" stroke-width="1.15" stroke-linejoin="round"/>
<polygon points="484,1124.1 507,1105.9 485.3,1092.8 462.3,1110.4" fill="#ffdc61" stroke="#1e1a08" stroke-width="1.15" stroke-linejoin="round"/>
<polygon points="709.6,1124.8 731.4,1111.6 708.4,1094 686.6,1106.7" fill="#ffda4b" stroke="#1e1a08" stroke-width="1.15" stroke-linejoin="round"/>
<polygon points="529.1,1120.4 551.9,1103.3 529.8,1089.3 507,1105.9" fill="#ffd661" stroke="#1e1a08" stroke-width="1.15" stroke-linejoin="round"/>
<polygon points="664.5,1120.8 686.6,1106.7 663.8,1090 641.7,1103.7" fill="#ffd352" stroke="#1e1a08" stroke-width="1.15" stroke-linejoin="round"/>
<polygon points="574.2,1118.7 596.8,1102.5 574.5,1087.6 551.9,1103.3" fill="#ffd25f" stroke="#1e1a08" stroke-width="1.15" stroke-linejoin="round"/>
<polygon points="619.3,1118.8 641.7,1103.7 619.1,1087.9 596.8,1102.5" fill="#ffd159" stroke="#1e1a08" stroke-width="1.15" stroke-linejoin="round"/>
<polygon points="370.6,1158.6 394.2,1137 373,1125.1 349.5,1146.3" fill="#f0ff61" stroke="#1e1a08" stroke-width="1.15" stroke-linejoin="round"/>
<polygon points="823.1,1159.5 844.3,1147.8 820.7,1127.1 799.5,1138.3" fill="#e7ff38" stroke="#1e1a08" stroke-width="1.15" stroke-linejoin="round"/>
<polygon points="415.6,1150.2 439,1129.6 417.6,1116.8 394.2,1137" fill="#ffff61" stroke="#1e1a08" stroke-width="1.15" stroke-linejoin="round"/>
<polygon points="778,1150.9 799.5,1138.3 776.1,1118.4 754.6,1130.6" fill="#fbff40" stroke="#1e1a08" stroke-width="1.15" stroke-linejoin="round"/>
<polygon points="460.8,1143.7 484,1124.1 462.3,1110.4 439,1129.6" fill="#fff361" stroke="#1e1a08" stroke-width="1.15" stroke-linejoin="round"/>
<polygon points="732.8,1144.2 754.6,1130.6 731.4,1111.6 709.6,1124.8" fill="#fff448" stroke="#1e1a08" stroke-width="1.15" stroke-linejoin="round"/>
<polygon points="506,1139 529.1,1120.4 507,1105.9 484,1124.1" fill="#ffeb61" stroke="#1e1a08" stroke-width="1.15" stroke-linejoin="round"/>
<polygon points="687.5,1139.4 709.6,1124.8 686.6,1106.7 664.5,1120.8" fill="#ffeb50" stroke="#1e1a08" stroke-width="1.15" stroke-linejoin="round"/>
<polygon points="551.4,1136.3 574.2,1118.7 551.9,1103.3 529.1,1120.4" fill="#ffe661" stroke="#1e1a08" stroke-width="1.15" stroke-linejoin="round"/>
<polygon points="642.1,1136.4 664.5,1120.8 641.7,1103.7 619.3,1118.8" fill="#ffe656" stroke="#1e1a08" stroke-width="1.15" stroke-linejoin="round"/>
<polygon points="596.8,1135.4 619.3,1118.8 596.8,1102.5 574.2,1118.7" fill="#ffe45d" stroke="#1e1a08" stroke-width="1.15" stroke-linejoin="round"/>
<polygon points="392,1172.3 415.6,1150.2 394.2,1137 370.6,1158.6" fill="#e3ff61" stroke="#1e1a08" stroke-width="1.15" stroke-linejoin="round"/>
<polygon points="801.7,1172.7 823.1,1159.5 799.5,1138.3 778,1150.9" fill="#daff3e" stroke="#1e1a08" stroke-width="1.15" stroke-linejoin="round"/>
<polygon points="437.3,1164.8 460.8,1143.7 439,1129.6 415.6,1150.2" fill="#f1ff61" stroke="#1e1a08" stroke-width="1.15" stroke-linejoin="round"/>
<polygon points="756.3,1165 778,1150.9 754.6,1130.6 732.8,1144.2" fill="#ecff45" stroke="#1e1a08" stroke-width="1.15" stroke-linejoin="round"/>
<polygon points="482.8,1159.1 506,1139 484,1124.1 460.8,1143.7" fill="#fbff61" stroke="#1e1a08" stroke-width="1.15" stroke-linejoin="round"/>
<polygon points="710.8,1159.3 732.8,1144.2 709.6,1124.8 687.5,1139.4" fill="#f9ff4d" stroke="#1e1a08" stroke-width="1.15" stroke-linejoin="round"/>
<polygon points="528.3,1155.3 551.4,1136.3 529.1,1120.4 506,1139" fill="#fffc61" stroke="#1e1a08" stroke-width="1.15" stroke-linejoin="round"/>
<polygon points="665.2,1155.5 687.5,1139.4 664.5,1120.8 642.1,1136.4" fill="#fffd54" stroke="#1e1a08" stroke-width="1.15" stroke-linejoin="round"/>
<polygon points="573.9,1153.5 596.8,1135.4 574.2,1118.7 551.4,1136.3" fill="#fff960" stroke="#1e1a08" stroke-width="1.15" stroke-linejoin="round"/>
<polygon points="619.6,1153.5 642.1,1136.4 619.3,1118.8 596.8,1135.4" fill="#fff95a" stroke="#1e1a08" stroke-width="1.15" stroke-linejoin="round"/>
<polygon points="413.7,1187.4 437.3,1164.8 415.6,1150.2 392,1172.3" fill="#d5ff61" stroke="#1e1a08" stroke-width="1.15" stroke-linejoin="round"/>
<polygon points="779.9,1187.3 801.7,1172.7 778,1150.9 756.3,1165" fill="#cbff42" stroke="#1e1a08" stroke-width="1.15" stroke-linejoin="round"/>
<polygon points="459.3,1180.7 482.8,1159.1 460.8,1143.7 437.3,1164.8" fill="#e1ff61" stroke="#1e1a08" stroke-width="1.15" stroke-linejoin="round"/>
<polygon points="734.2,1180.6 756.3,1165 732.8,1144.2 710.8,1159.3" fill="#dbff4a" stroke="#1e1a08" stroke-width="1.15" stroke-linejoin="round"/>
<polygon points="505.1,1175.9 528.3,1155.3 506,1139 482.8,1159.1" fill="#e9ff61" stroke="#1e1a08" stroke-width="1.15" stroke-linejoin="round"/>
<polygon points="688.5,1175.9 710.8,1159.3 687.5,1139.4 665.2,1155.5" fill="#e6ff51" stroke="#1e1a08" stroke-width="1.15" stroke-linejoin="round"/>
<polygon points="550.9,1173 573.9,1153.5 551.4,1136.3 528.3,1155.3" fill="#eeff61" stroke="#1e1a08" stroke-width="1.15" stroke-linejoin="round"/>
<polygon points="642.6,1173 665.2,1155.5 642.1,1136.4 619.6,1153.5" fill="#edff57" stroke="#1e1a08" stroke-width="1.15" stroke-linejoin="round"/>
<polygon points="596.7,1172.1 619.6,1153.5 596.8,1135.4 573.9,1153.5" fill="#f0ff5e" stroke="#1e1a08" stroke-width="1.15" stroke-linejoin="round"/>
<polygon points="435.6,1203.8 459.3,1180.7 437.3,1164.8 413.7,1187.4" fill="#c4ff61" stroke="#1e1a08" stroke-width="1.15" stroke-linejoin="round"/>
<polygon points="757.9,1203.3 779.9,1187.3 756.3,1165 734.2,1180.6" fill="#baff47" stroke="#1e1a08" stroke-width="1.15" stroke-linejoin="round"/>
<polygon points="481.6,1198 505.1,1175.9 482.8,1159.1 459.3,1180.7" fill="#cfff61" stroke="#1e1a08" stroke-width="1.15" stroke-linejoin="round"/>
<polygon points="711.9,1197.7 734.2,1180.6 710.8,1159.3 688.5,1175.9" fill="#c8ff4e" stroke="#1e1a08" stroke-width="1.15" stroke-linejoin="round"/>
<polygon points="527.6,1194.1 550.9,1173 528.3,1155.3 505.1,1175.9" fill="#d5ff61" stroke="#1e1a08" stroke-width="1.15" stroke-linejoin="round"/>
<polygon points="665.9,1193.9 688.5,1175.9 665.2,1155.5 642.6,1173" fill="#d2ff54" stroke="#1e1a08" stroke-width="1.15" stroke-linejoin="round"/>
<polygon points="573.7,1192.1 596.7,1172.1 573.9,1153.5 550.9,1173" fill="#d9ff60" stroke="#1e1a08" stroke-width="1.15" stroke-linejoin="round"/>
<polygon points="619.8,1192.1 642.6,1173 619.6,1153.5 596.7,1172.1" fill="#d7ff5b" stroke="#1e1a08" stroke-width="1.15" stroke-linejoin="round"/>
<polygon points="457.9,1221.7 481.6,1198 459.3,1180.7 435.6,1203.8" fill="#b2ff61" stroke="#1e1a08" stroke-width="1.15" stroke-linejoin="round"/>
<polygon points="735.6,1220.9 757.9,1203.3 734.2,1180.6 711.9,1197.7" fill="#a7ff4b" stroke="#1e1a08" stroke-width="1.15" stroke-linejoin="round"/>
<polygon points="504.1,1216.7 527.6,1194.1 505.1,1175.9 481.6,1198" fill="#baff61" stroke="#1e1a08" stroke-width="1.15" stroke-linejoin="round"/>
<polygon points="689.4,1216.2 711.9,1197.7 688.5,1175.9 665.9,1193.9" fill="#b4ff51" stroke="#1e1a08" stroke-width="1.15" stroke-linejoin="round"/>
<polygon points="550.4,1213.7 573.7,1192.1 550.9,1173 527.6,1194.1" fill="#bfff61" stroke="#1e1a08" stroke-width="1.15" stroke-linejoin="round"/>
<polygon points="643.1,1213.5 665.9,1193.9 642.6,1173 619.8,1192.1" fill="#bcff57" stroke="#1e1a08" stroke-width="1.15" stroke-linejoin="round"/>
<polygon points="596.7,1212.6 619.8,1192.1 596.7,1172.1 573.7,1192.1" fill="#c0ff5d" stroke="#1e1a08" stroke-width="1.15" stroke-linejoin="round"/>
<polygon points="480.4,1240.9 504.1,1216.7 481.6,1198 457.9,1221.7" fill="#9dff61" stroke="#1e1a08" stroke-width="1.15" stroke-linejoin="round"/>
<polygon points="713.1,1240 735.6,1220.9 711.9,1197.7 689.4,1216.2" fill="#92ff4e" stroke="#1e1a08" stroke-width="1.15" stroke-linejoin="round"/>
<polygon points="526.9,1236.8 550.4,1213.7 527.6,1194.1 504.1,1216.7" fill="#a4ff61" stroke="#1e1a08" stroke-width="1.15" stroke-linejoin="round"/>
<polygon points="666.6,1236.3 689.4,1216.2 665.9,1193.9 643.1,1213.5" fill="#9dff54" stroke="#1e1a08" stroke-width="1.15" stroke-linejoin="round"/>
<polygon points="573.4,1234.7 596.7,1212.6 573.7,1192.1 550.4,1213.7" fill="#a7ff60" stroke="#1e1a08" stroke-width="1.15" stroke-linejoin="round"/>
<polygon points="620,1234.6 643.1,1213.5 619.8,1192.1 596.7,1212.6" fill="#a4ff5a" stroke="#1e1a08" stroke-width="1.15" stroke-linejoin="round"/>
<polygon points="503.1,1261.5 526.9,1236.8 504.1,1216.7 480.4,1240.9" fill="#86ff61" stroke="#1e1a08" stroke-width="1.15" stroke-linejoin="round"/>
<polygon points="690.3,1260.5 713.1,1240 689.4,1216.2 666.6,1236.3" fill="#7aff51" stroke="#1e1a08" stroke-width="1.15" stroke-linejoin="round"/>
<polygon points="549.9,1258.4 573.4,1234.7 550.4,1213.7 526.9,1236.8" fill="#8bff61" stroke="#1e1a08" stroke-width="1.15" stroke-linejoin="round"/>
<polygon points="643.5,1257.9 666.6,1236.3 643.1,1213.5 620,1234.6" fill="#84ff57" stroke="#1e1a08" stroke-width="1.15" stroke-linejoin="round"/>
<polygon points="596.7,1257.2 620,1234.6 596.7,1212.6 573.4,1234.7" fill="#8aff5c" stroke="#1e1a08" stroke-width="1.15" stroke-linejoin="round"/>
<polygon points="526.2,1283.6 549.9,1258.4 526.9,1236.8 503.1,1261.5" fill="#6cff61" stroke="#1e1a08" stroke-width="1.15" stroke-linejoin="round"/>
<polygon points="573.2,1281.3 596.7,1257.2 573.4,1234.7 549.9,1258.4" fill="#6eff5e" stroke="#1e1a08" stroke-width="1.15" stroke-linejoin="round"/>
<polygon points="667.2,1282.7 690.3,1260.5 666.6,1236.3 643.5,1257.9" fill="#61ff53" stroke="#1e1a08" stroke-width="1.15" stroke-linejoin="round"/>
<polygon points="620.2,1281 643.5,1257.9 620,1234.6 596.7,1257.2" fill="#69ff59" stroke="#1e1a08" stroke-width="1.15" stroke-linejoin="round"/>
<polygon points="549.4,1307.1 573.2,1281.3 549.9,1258.4 526.2,1283.6" fill="#60ff70" stroke="#1e1a08" stroke-width="1.15" stroke-linejoin="round"/>
<polygon points="596.7,1305.7 620.2,1281 596.7,1257.2 573.2,1281.3" fill="#5bff69" stroke="#1e1a08" stroke-width="1.15" stroke-linejoin="round"/>
<polygon points="643.9,1306.4 667.2,1282.7 643.5,1257.9 620.2,1281" fill="#56ff66" stroke="#1e1a08" stroke-width="1.15" stroke-linejoin="round"/>
<polygon points="572.9,1332 596.7,1305.7 573.2,1281.3 549.4,1307.1" fill="#5cff8b" stroke="#1e1a08" stroke-width="1.15" stroke-linejoin="round"/>
<polygon points="620.4,1331.6 643.9,1306.4 620.2,1281 596.7,1305.7" fill="#57ff87" stroke="#1e1a08" stroke-width="1.15" stroke-linejoin="round"/>
<polygon points="596.6,1358.4 620.4,1331.6 596.7,1305.7 572.9,1332" fill="#59ffaa" stroke="#1e1a08" stroke-width="1.15" stroke-linejoin="round"/>
<ellipse cx="596.9" cy="994.9" rx="8.6" ry="10.2" fill="#c00404" stroke="#4a0000" stroke-width="1.8"/>
<circle cx="186.7" cy="1356.8" r="4.1" fill="#000"/>
<circle cx="182.8" cy="1283.5" r="4.1" fill="#000"/>
<circle cx="179" cy="1210.2" r="4.1" fill="#000"/>
<circle cx="175.1" cy="1136.8" r="4.1" fill="#000"/>
<circle cx="171.3" cy="1063.5" r="4.1" fill="#000"/>
<circle cx="167.4" cy="990.2" r="4.1" fill="#000"/>
<circle cx="192.7" cy="1471.7" r="4.1" fill="#000"/>
<circle cx="293.7" cy="1513.7" r="4.1" fill="#000"/>
<circle cx="394.6" cy="1555.8" r="4.1" fill="#000"/>
<circle cx="495.5" cy="1597.8" r="4.1" fill="#000"/>
<circle cx="596.5" cy="1639.9" r="4.1" fill="#000"/>
<circle cx="697.6" cy="1597.7" r="4.1" fill="#000"/>
<circle cx="798.8" cy="1555.6" r="4.1" fill="#000"/>
<circle cx="900" cy="1513.4" r="4.1" fill="#000"/>
<circle cx="1001.1" cy="1471.2" r="4.1" fill="#000"/>
</g>
<g>
<line x1="177.3" y1="2224.3" x2="584.5" y2="2103.4" stroke="#262626" stroke-width="1.7"/>
<line x1="584.5" y1="2103.4" x2="992.3" y2="2223.7" stroke="#262626" stroke-width="1.7"/>
<line x1="173.4" y1="2151.5" x2="584.5" y2="2037.7" stroke="#262626" stroke-width="1.7"/>
<line x1="584.5" y1="2037.7" x2="996.2" y2="2150.7" stroke="#262626" stroke-width="1.7"/>
<line x1="169.6" y1="2078.7" x2="584.6" y2="1972.1" stroke="#262626" stroke-width="1.7"/>
<line x1="584.6" y1="1972.1" x2="1000.2" y2="2077.7" stroke="#262626" stroke-width="1.7"/>
<line x1="165.8" y1="2005.8" x2="584.6" y2="1906.4" stroke="#262626" stroke-width="1.7"/>
<line x1="584.6" y1="1906.4" x2="1004.1" y2="2004.7" stroke="#262626" stroke-width="1.7"/>
<line x1="162" y1="1933" x2="584.6" y2="1840.8" stroke="#262626" stroke-width="1.7"/>
<line x1="584.6" y1="1840.8" x2="1008" y2="1931.8" stroke="#262626" stroke-width="1.7"/>
<line x1="279.1" y1="2194.1" x2="264.8" y2="1838.9" stroke="#262626" stroke-width="1.7"/>
<line x1="686.4" y1="2133.4" x2="691.5" y2="1796" stroke="#262626" stroke-width="1.7"/>
<line x1="380.9" y1="2163.8" x2="371.4" y2="1817.6" stroke="#262626" stroke-width="1.7"/>
<line x1="788.4" y1="2163.5" x2="798.3" y2="1816.9" stroke="#262626" stroke-width="1.7"/>
<line x1="482.7" y1="2133.6" x2="478" y2="1796.4" stroke="#262626" stroke-width="1.7"/>
<line x1="890.3" y1="2193.6" x2="905.1" y2="1837.9" stroke="#262626" stroke-width="1.7"/>
<line x1="158.1" y1="1860.1" x2="584.7" y2="1775.1" stroke="#1c1c1c" stroke-width="1.8"/>
<line x1="584.7" y1="1775.1" x2="1012" y2="1858.8" stroke="#1c1c1c" stroke-width="1.8"/>
<line x1="183.3" y1="2338.5" x2="158.1" y2="1860.1" stroke="#1c1c1c" stroke-width="1.8"/>
<line x1="584.4" y1="2206.9" x2="584.7" y2="1775.1" stroke="#1c1c1c" stroke-width="1.8"/>
<line x1="986.1" y1="2338.1" x2="1012" y2="1858.8" stroke="#1c1c1c" stroke-width="1.8"/>
<polygon points="183.3,2338.5 584.4,2206.9 986.1,2338.1 584.2,2505.7" fill="#616161" stroke="#000" stroke-width="2.2" stroke-linejoin="round"/>
<path d="M950.2 2326.3 L949.5 2327.4 L948.9 2328.5 L948.3 2329.6 L947.7 2330.7 L947 2331.8 L946.4 2332.9 L945.7 2334 L945.1 2335.1 L944.4 2336.2 L943.8 2337.3 L943.1 2338.4 L942.5 2339.5 L941.8 2340.6 L941.1 2341.7 L940.4 2342.8 L939.7 2344 L939 2345.1 L938.3 2346.2 L937.6 2347.3 L936.9 2348.5 L936.1 2349.6 L935.4 2350.7 L934.7 2351.8 L933.9 2353 L933.2 2354.1 L932.4 2355.2 L931.7 2356.3 L930.9 2357.4 L930.2 2358.6 L929.4 2359.7 L928.6 2360.8 L927.9 2361.9 L927.4 2362.5" fill="none" stroke="#0bef0a" stroke-width="2.7" stroke-linecap="round"/>
<path d="M910.7 2313.4 L910.1 2314.5 L909.5 2315.6 L908.9 2316.7 L908.3 2317.8 L907.7 2318.8 L907.1 2319.9 L906.5 2320.9 L905.9 2321.9 L905.3 2323 L904.7 2324 L904.1 2325.1 L903.5 2326.1 L902.8 2327.2 L902.2 2328.3 L901.5 2329.4 L900.8 2330.5 L900.1 2331.6 L899.4 2332.7 L898.7 2333.8 L898 2334.9 L897.3 2336 L896.6 2337.1 L895.9 2338.2 L895.2 2339.3 L894.4 2340.4 L893.7 2341.5 L893 2342.6 L892.2 2343.7 L891.5 2344.8 L890.7 2345.9 L889.9 2347 L889.2 2348.2 L888.4 2349.3 L887.6 2350.4 L886.8 2351.6 L885.9 2352.7 L885.1 2353.9 L884.2 2355.1 L883.4 2356.3 L882.5 2357.5 L881.6 2358.7 L880.7 2359.8 L879.9 2361 L879 2362.1 L878.2 2363.2 L877.3 2364.3 L876.5 2365.4 L875.6 2366.5 L874.7 2367.7 L873.9 2368.8 L873 2369.9 L872.1 2371 L871.1 2372.3 L870.1 2373.5 L869 2374.8 L868 2376.1 L867.1 2377.2 L866.2 2378.3 L865.2 2379.5 L864.3 2380.6 L863.3 2381.7 L862.4 2382.8 L861.4 2384 L860.3 2385.3 L859.1 2386.7 L858 2387.9 L857.1 2389 L856.1 2390.2 L855.1 2391.3 L854.1 2392.4 L853.1 2393.5" fill="none" stroke="#60ef0a" stroke-width="2.7" stroke-linecap="round"/>
<path d="M866.2 2298.9 L865.7 2299.9 L865.2 2300.8 L864.7 2301.8 L864.2 2302.7 L863.6 2303.8 L863 2304.9 L862.5 2306 L861.9 2307.1 L861.2 2308.2 L860.6 2309.3 L860 2310.4 L859.4 2311.5 L858.8 2312.5 L858.2 2313.5 L857.6 2314.5 L857 2315.5 L856.4 2316.5 L855.8 2317.5 L855.1 2318.6 L854.5 2319.7 L853.8 2320.8 L853.1 2321.9 L852.4 2323 L851.7 2324.1 L851 2325.2 L850.3 2326.2 L849.6 2327.3 L848.8 2328.4 L848.1 2329.5 L847.4 2330.6 L846.6 2331.7 L845.9 2332.8 L845.1 2333.9 L844.3 2335 L843.6 2336.1 L842.8 2337.2 L842 2338.3 L841.2 2339.4 L840.4 2340.5 L839.6 2341.6 L838.8 2342.7 L838 2343.8 L837.1 2344.9 L836.3 2346 L835.5 2347.1 L834.6 2348.2 L833.8 2349.3 L832.9 2350.4 L832.1 2351.6 L831.2 2352.7 L830.2 2353.9 L829.3 2355.1 L828.3 2356.3 L827.3 2357.5 L826.3 2358.7 L825.4 2359.8 L824.5 2360.9 L823.6 2362.1 L822.6 2363.2 L821.7 2364.3 L820.8 2365.4 L819.8 2366.5 L818.9 2367.6 L817.8 2368.8 L816.7 2370.1 L815.6 2371.3 L814.5 2372.6 L813.5 2373.7 L812.5 2374.8 L811.5 2375.9 L810.5 2377 L809.5 2378.1 L808.4 2379.3 L807.2 2380.6 L805.9 2382 L804.8 2383.1 L803.8 2384.2 L802.7 2385.4 L801.7 2386.5 L800.6 2387.6 L799.3 2389 L797.9 2390.4 L796.8 2391.5 L795.7 2392.6 L794.6 2393.7 L793.5 2394.8 L792.1 2396.2 L790.7 2397.6 L789.5 2398.7 L788.4 2399.8 L787.2 2401 L786 2402.1 L784.5 2403.6 L783.2 2404.9 L782 2406 L780.8 2407.1 L779.6 2408.3 L777.9 2409.8 L776.6 2411 L775.4 2412.1 L774.2 2413.3 L772.6 2414.6 L771.1 2416.1 L769.8 2417.2 L768.6 2418.3 L767.2 2419.6 L765.4 2421.1 L764.1 2422.2 L762.8 2423.3 L761.4 2424.6 L759.6 2426.1 L758.3 2427.3 L757 2428.4 L755.3 2429.8 L753.7 2431.2 L752.3 2432.3 L751 2433.4 L748.9 2435.1 L747.6 2436.2 L746.2 2437.4 L744.3 2438.9" fill="none" stroke="#b5ef0a" stroke-width="2.7" stroke-linecap="round"/>
<path d="M813 2281.5 L812.5 2282.6 L812.2 2283.5 L811.8 2284.3 L811.3 2285.4 L810.8 2286.5 L810.3 2287.6 L809.8 2288.7 L809.4 2289.6 L808.9 2290.5 L808.5 2291.4 L807.9 2292.5 L807.4 2293.6 L806.8 2294.7 L806.2 2295.8 L805.7 2296.8 L805.2 2297.8 L804.7 2298.7 L804.2 2299.7 L803.6 2300.8 L803 2301.9 L802.3 2302.9 L801.7 2304 L801.1 2305.1 L800.4 2306.2 L799.8 2307.2 L799.3 2308.2 L798.7 2309.2 L798.1 2310.2 L797.4 2311.2 L796.7 2312.3 L796.1 2313.3 L795.4 2314.4 L794.6 2315.5 L793.9 2316.6 L793.2 2317.7 L792.5 2318.8 L791.7 2319.9 L791 2321 L790.2 2322.1 L789.4 2323.2 L788.7 2324.3 L787.9 2325.4 L787.1 2326.5 L786.3 2327.5 L785.5 2328.6 L784.7 2329.7 L783.9 2330.8 L783.1 2331.9 L782.2 2333 L781.4 2334.1 L780.5 2335.2 L779.7 2336.3 L778.8 2337.4 L778 2338.5 L777.1 2339.6 L776.2 2340.6 L775.3 2341.7 L774.4 2342.8 L773.5 2343.9 L772.6 2345 L771.7 2346.1 L770.7 2347.2 L769.8 2348.3 L768.9 2349.4 L767.9 2350.5 L766.9 2351.6 L765.8 2352.9 L764.7 2354.1 L763.6 2355.3 L762.6 2356.4 L761.6 2357.5 L760.6 2358.6 L759.5 2359.7 L758.5 2360.8 L757.5 2361.9 L756.5 2363 L755.3 2364.2 L754 2365.5 L752.8 2366.8 L751.7 2367.9 L750.6 2369 L749.5 2370.1 L748.5 2371.1 L747.3 2372.2 L746 2373.6 L744.6 2375 L743.5 2376 L742.3 2377.1 L741.2 2378.2 L740 2379.3 L738.6 2380.7 L737.1 2382 L736 2383.1 L734.8 2384.2 L733.6 2385.3 L732.3 2386.5 L730.6 2388 L729.4 2389.1 L728.2 2390.2 L726.9 2391.3 L725.4 2392.6 L723.8 2394 L722.6 2395.1 L721.3 2396.1 L719.9 2397.3 L718.1 2398.9 L716.8 2399.9 L715.5 2401 L714.1 2402.2 L712.2 2403.7 L710.9 2404.8 L709.6 2405.9 L707.9 2407.2 L706.2 2408.6 L704.8 2409.7 L703.5 2410.8 L701.4 2412.4 L700 2413.5 L698.6 2414.5 L696.7 2416 L695.1 2417.2 L693.7 2418.3 L691.7 2419.8 L690.1 2421 L688.6 2422.1 L686.6 2423.6 L684.9 2424.8 L683.4 2425.9 L681.2 2427.5 L679.7 2428.5 L678.2 2429.6 L675.9 2431.2 L674.4 2432.3 L672.3 2433.7 L670.5 2435 L668.9 2436.1 L666.6 2437.7 L665 2438.7 L662.6 2440.3 L661 2441.4 L659.1 2442.7 L656.9 2444.1 L655.3 2445.1 L652.8 2446.7 L651.1 2447.8 L648.6 2449.4 L647 2450.4 L644.4 2452 L642.7 2453.1 L640.1 2454.7 L638.4 2455.7 L635.8 2457.3 L634 2458.4 L631.4 2459.9 L629.6 2461 L626.9 2462.6 L624.8 2463.8 L622.4 2465.2 L619.7 2466.8 L617.8 2467.8 L615.1 2469.4 L613.2 2470.4 L610.4 2472 L607.5 2473.5 L605.6 2474.6 L602.8 2476.1 L599.9 2477.7 L597.9 2478.7 L595 2480.2 L592 2481.8 L590 2482.8 L587 2484.3 L584 2485.8 L581.7 2487 L578.9 2488.4 L575.8 2489.9 L572.7 2491.4 L569.5 2492.9 L567.4 2493.9 L564.2 2495.4 L562.1 2496.4" fill="none" stroke="#efd50a" stroke-width="2.7" stroke-linecap="round"/>
<path d="M208.4 2349 L209.5 2347.7 L210.3 2346.8 L211.2 2345.8 L212.2 2344.7 L213.3 2343.4 L214.4 2342.2 L215.4 2341.1 L216.3 2340.1 L217.2 2339.2 L218.2 2338 L219.4 2336.8 L220.5 2335.6 L221.6 2334.5 L222.6 2333.4 L223.5 2332.5 L224.5 2331.5 L225.6 2330.4 L226.7 2329.2 L227.9 2328 L229 2326.9 L230.2 2325.7 L231.2 2324.7 L232.2 2323.7 L233.2 2322.7 L234.2 2321.8" fill="none" stroke="#efd50a" stroke-width="2.7" stroke-linecap="round"/>
<path d="M738.9 2257.3 L738.8 2258.2 L738.7 2259.1 L738.5 2260.3 L738.4 2261 L738.2 2262.1 L738 2263.2 L737.9 2263.9 L737.7 2265 L737.4 2266.1 L737.3 2266.9 L737 2267.9 L736.8 2269 L736.5 2269.9 L736.3 2270.8 L736 2271.9 L735.7 2273 L735.4 2273.7 L735.1 2274.8 L734.7 2275.9 L734.4 2276.9 L734.1 2277.7 L733.7 2278.8 L733.3 2279.9 L732.9 2280.9 L732.6 2281.7 L732.2 2282.8 L731.7 2283.9 L731.2 2285 L730.9 2285.9 L730.5 2286.7 L730 2287.8 L729.5 2288.9 L728.9 2290.1 L728.5 2291 L728 2291.9 L727.5 2292.9 L727 2294 L726.4 2295.1 L725.8 2296.2 L725.2 2297.2 L724.7 2298.1 L724.2 2299 L723.6 2300.1 L722.9 2301.2 L722.3 2302.3 L721.6 2303.4 L720.9 2304.5 L720.2 2305.6 L719.6 2306.5 L719 2307.5 L718.3 2308.5 L717.7 2309.4 L716.9 2310.5 L716.2 2311.6 L715.4 2312.7 L714.6 2313.8 L713.9 2314.9 L713.1 2316 L712.3 2317.1 L711.4 2318.2 L710.6 2319.3 L709.8 2320.4 L708.9 2321.4 L708.1 2322.5 L707.2 2323.6 L706.3 2324.7 L705.5 2325.8 L704.6 2326.9 L703.7 2327.9 L702.7 2329 L701.8 2330.1 L700.9 2331.2 L699.9 2332.2 L699 2333.3 L698 2334.4 L697.1 2335.5 L696.1 2336.5 L695.1 2337.6 L694.1 2338.7 L693.1 2339.7 L692 2340.8 L691 2341.9 L689.8 2343.2 L688.6 2344.4 L687.3 2345.6 L686.3 2346.7 L685.2 2347.7 L684.1 2348.8 L683 2349.9 L681.9 2350.9 L680.7 2352 L679.3 2353.3 L677.9 2354.6 L676.8 2355.7 L675.6 2356.7 L674.4 2357.8 L673.2 2358.8 L671.8 2360.1 L670.2 2361.5 L669 2362.5 L667.8 2363.6 L666.6 2364.6 L665.2 2365.8 L663.4 2367.2 L662.2 2368.3 L660.9 2369.3 L659.6 2370.4 L657.8 2371.8 L656.3 2373 L655 2374 L653.7 2375 L651.8 2376.5 L650.3 2377.6 L648.9 2378.7 L647.4 2379.8 L645.5 2381.2 L644.1 2382.3 L642.7 2383.3 L640.5 2384.8 L639.1 2385.9 L637.6 2386.9 L635.5 2388.4 L634 2389.4 L632.5 2390.5 L630.3 2392 L628.8 2393 L626.9 2394.2 L624.9 2395.5 L623.4 2396.5 L621.1 2398 L619.5 2399.1 L617.4 2400.4 L615.5 2401.6 L613.9 2402.6 L611.5 2404.1 L609.8 2405.1 L607.3 2406.6 L605.7 2407.5 L603.2 2409 L601.5 2410 L598.9 2411.5 L597.2 2412.5 L594.6 2413.9 L592.8 2414.9 L590.2 2416.4 L587.5 2417.8 L585.7 2418.8 L583 2420.3 L581.1 2421.2 L578.4 2422.7 L575.6 2424.1 L573.7 2425 L570.8 2426.5 L568 2427.9 L566 2428.8 L563.1 2430.2 L560.2 2431.6 L557.2 2433 L555.2 2434 L552.1 2435.3 L549 2436.7 L545.9 2438.1 L542.8 2439.4 L539.6 2440.8 L537.5 2441.7 L534.2 2443 L531 2444.3 L527.7 2445.6 L524.3 2446.9 L520.9 2448.2 L517.5 2449.5 L515.2 2450.4 L511.7 2451.6 L508.2 2452.9 L504.6 2454.1 L501 2455.3 L497.7 2456.4 L494.8 2457.3 L491 2458.5 L487.2 2459.7 L484.7 2460.5 L480.8 2461.6 L479.5 2462" fill="none" stroke="#ef800a" stroke-width="2.7" stroke-linecap="round"/>
<path d="M277.5 2377.8 L278.1 2376.4 L278.4 2375.6 L279.1 2374.1 L279.6 2373 L280.1 2372 L280.7 2370.5 L281.2 2369.6 L281.8 2368.4 L282.5 2367.1 L282.9 2366.2 L283.6 2364.9 L284.3 2363.6 L284.8 2362.7 L285.5 2361.5 L286.3 2360.2 L286.9 2359.2 L287.5 2358.1 L288.3 2356.8 L289 2355.7 L289.6 2354.8 L290.4 2353.5 L291.3 2352.2 L291.9 2351.2 L292.6 2350.3 L293.5 2349 L294.4 2347.7 L295.1 2346.7 L295.7 2345.8 L296.7 2344.6 L297.6 2343.3 L298.4 2342.2 L299.1 2341.3 L299.9 2340.2 L300.9 2339 L301.9 2337.8 L302.8 2336.6 L303.5 2335.7 L304.3 2334.7 L305.3 2333.5 L306.3 2332.3 L307.3 2331.2 L308.3 2330.1 L309.1 2329.1 L309.9 2328.2 L310.9 2327 L312 2325.9 L313 2324.7 L314.1 2323.6 L315.1 2322.4 L316.1 2321.5 L317 2320.5 L317.9 2319.5 L318.9 2318.5 L320 2317.4 L321.1 2316.3 L322.2 2315.2 L323.3 2314.1 L324.4 2313 L325.6 2311.9 L326.7 2310.8 L327.8 2309.7 L329 2308.6 L330 2307.6 L331.1 2306.6 L332.2 2305.6 L333.3 2304.6 L334.5 2303.5 L335.6 2302.5 L336.8 2301.5 L337.9 2300.5 L339.1 2299.4 L340.3 2298.4 L341.6 2297.3 L342.8 2296.3 L344 2295.2 L345.3 2294.2 L346.6 2293.1 L347.9 2292.1 L349.2 2291 L350.4 2290 L351.6 2289 L352.9 2288.1 L354.1 2287.1 L355.4 2286.1 L356.6 2285.1 L357.9 2284.2 L359.1 2283.2 L360.4 2282.2 L361.8 2281.2 L363.3 2280 L364.9 2278.9" fill="none" stroke="#ef800a" stroke-width="2.7" stroke-linecap="round"/>
<polygon points="584.7,1806.4 603.6,1804.1 584.7,1802.8 565.7,1805.4" fill="#ff5826" stroke="#1e1a08" stroke-width="1.15" stroke-linejoin="round"/>
<polygon points="565.5,1809.1 584.7,1806.4 565.7,1805.4 546.5,1808.5" fill="#ff5629" stroke="#1e1a08" stroke-width="1.15" stroke-linejoin="round"/>
<polygon points="603.9,1808.4 622.8,1806.4 603.6,1804.1 584.7,1806.4" fill="#ff4f23" stroke="#1e1a08" stroke-width="1.15" stroke-linejoin="round"/>
<polygon points="546.1,1812.3 565.5,1809.1 546.5,1808.5 527.1,1812" fill="#ff562c" stroke="#1e1a08" stroke-width="1.15" stroke-linejoin="round"/>
<polygon points="584.7,1810.7 603.9,1808.4 584.7,1806.4 565.5,1809.1" fill="#ff4d27" stroke="#1e1a08" stroke-width="1.15" stroke-linejoin="round"/>
<polygon points="623.3,1811.4 642.2,1809.8 622.8,1806.4 603.9,1808.4" fill="#ff4920" stroke="#1e1a08" stroke-width="1.15" stroke-linejoin="round"/>
<polygon points="526.4,1815.9 546.1,1812.3 527.1,1812 507.5,1816" fill="#ff572f" stroke="#1e1a08" stroke-width="1.15" stroke-linejoin="round"/>
<polygon points="642.9,1815.5 661.9,1814.2 642.2,1809.8 623.3,1811.4" fill="#ff461d" stroke="#1e1a08" stroke-width="1.15" stroke-linejoin="round"/>
<polygon points="565.2,1813.6 584.7,1810.7 565.5,1809.1 546.1,1812.3" fill="#ff4c2a" stroke="#1e1a08" stroke-width="1.15" stroke-linejoin="round"/>
<polygon points="604.1,1813.4 623.3,1811.4 603.9,1808.4 584.7,1810.7" fill="#ff4624" stroke="#1e1a08" stroke-width="1.15" stroke-linejoin="round"/>
<polygon points="506.5,1819.9 526.4,1815.9 507.5,1816 487.6,1820.4" fill="#ff5931" stroke="#1e1a08" stroke-width="1.15" stroke-linejoin="round"/>
<polygon points="662.8,1820.7 681.7,1819.8 661.9,1814.2 642.9,1815.5" fill="#ff451a" stroke="#1e1a08" stroke-width="1.15" stroke-linejoin="round"/>
<polygon points="545.6,1816.8 565.2,1813.6 546.1,1812.3 526.4,1815.9" fill="#ff4c2d" stroke="#1e1a08" stroke-width="1.15" stroke-linejoin="round"/>
<polygon points="623.7,1817.2 642.9,1815.5 623.3,1811.4 604.1,1813.4" fill="#ff4221" stroke="#1e1a08" stroke-width="1.15" stroke-linejoin="round"/>
<polygon points="584.7,1815.9 604.1,1813.4 584.7,1810.7 565.2,1813.6" fill="#ff4527" stroke="#1e1a08" stroke-width="1.15" stroke-linejoin="round"/>
<polygon points="486.4,1824.4 506.5,1819.9 487.6,1820.4 467.5,1825.2" fill="#ff5c34" stroke="#1e1a08" stroke-width="1.15" stroke-linejoin="round"/>
<polygon points="682.9,1827.1 701.8,1826.4 681.7,1819.8 662.8,1820.7" fill="#ff4815" stroke="#1e1a08" stroke-width="1.15" stroke-linejoin="round"/>
<polygon points="525.7,1820.5 545.6,1816.8 526.4,1815.9 506.5,1819.9" fill="#ff4e30" stroke="#1e1a08" stroke-width="1.15" stroke-linejoin="round"/>
<polygon points="643.6,1822.1 662.8,1820.7 642.9,1815.5 623.7,1817.2" fill="#ff401d" stroke="#1e1a08" stroke-width="1.15" stroke-linejoin="round"/>
<polygon points="565,1818.8 584.7,1815.9 565.2,1813.6 545.6,1816.8" fill="#ff442b" stroke="#1e1a08" stroke-width="1.15" stroke-linejoin="round"/>
<polygon points="604.3,1819.4 623.7,1817.2 604.1,1813.4 584.7,1815.9" fill="#ff3f25" stroke="#1e1a08" stroke-width="1.15" stroke-linejoin="round"/>
<polygon points="466.1,1829.4 486.4,1824.4 467.5,1825.2 447.2,1830.6" fill="#ff6036" stroke="#1e1a08" stroke-width="1.15" stroke-linejoin="round"/>
<polygon points="703.2,1834.5 722.1,1834.2 701.8,1826.4 682.9,1827.1" fill="#ff4d11" stroke="#1e1a08" stroke-width="1.15" stroke-linejoin="round"/>
<polygon points="505.6,1824.7 525.7,1820.5 506.5,1819.9 486.4,1824.4" fill="#ff5033" stroke="#1e1a08" stroke-width="1.15" stroke-linejoin="round"/>
<polygon points="663.7,1828.1 682.9,1827.1 662.8,1820.7 643.6,1822.1" fill="#ff411a" stroke="#1e1a08" stroke-width="1.15" stroke-linejoin="round"/>
<polygon points="545.1,1822.2 565,1818.8 545.6,1816.8 525.7,1820.5" fill="#ff442e" stroke="#1e1a08" stroke-width="1.15" stroke-linejoin="round"/>
<polygon points="624.2,1823.9 643.6,1822.1 623.7,1817.2 604.3,1819.4" fill="#ff3d21" stroke="#1e1a08" stroke-width="1.15" stroke-linejoin="round"/>
<polygon points="584.7,1821.9 604.3,1819.4 584.7,1815.9 565,1818.8" fill="#ff3e28" stroke="#1e1a08" stroke-width="1.15" stroke-linejoin="round"/>
<polygon points="723.7,1843.1 742.5,1843.1 722.1,1834.2 703.2,1834.5" fill="#ff560c" stroke="#1e1a08" stroke-width="1.15" stroke-linejoin="round"/>
<polygon points="445.5,1834.9 466.1,1829.4 447.2,1830.6 426.7,1836.4" fill="#ff6539" stroke="#1e1a08" stroke-width="1.15" stroke-linejoin="round"/>
<polygon points="684.1,1835.2 703.2,1834.5 682.9,1827.1 663.7,1828.1" fill="#ff4515" stroke="#1e1a08" stroke-width="1.15" stroke-linejoin="round"/>
<polygon points="485.2,1829.3 505.6,1824.7 486.4,1824.4 466.1,1829.4" fill="#ff5335" stroke="#1e1a08" stroke-width="1.15" stroke-linejoin="round"/>
<polygon points="644.3,1829.6 663.7,1828.1 643.6,1822.1 624.2,1823.9" fill="#ff3c1e" stroke="#1e1a08" stroke-width="1.15" stroke-linejoin="round"/>
<polygon points="525,1826 545.1,1822.2 525.7,1820.5 505.6,1824.7" fill="#ff4631" stroke="#1e1a08" stroke-width="1.15" stroke-linejoin="round"/>
<polygon points="604.6,1826.1 624.2,1823.9 604.3,1819.4 584.7,1821.9" fill="#ff3a25" stroke="#1e1a08" stroke-width="1.15" stroke-linejoin="round"/>
<polygon points="564.8,1825 584.7,1821.9 565,1818.8 545.1,1822.2" fill="#ff3e2c" stroke="#1e1a08" stroke-width="1.15" stroke-linejoin="round"/>
<polygon points="744.4,1852.9 763.2,1853.2 742.5,1843.1 723.7,1843.1" fill="#ff6307" stroke="#1e1a08" stroke-width="1.15" stroke-linejoin="round"/>
<polygon points="424.7,1840.8 445.5,1834.9 426.7,1836.4 406,1842.6" fill="#ff6a3b" stroke="#1e1a08" stroke-width="1.15" stroke-linejoin="round"/>
<polygon points="704.6,1843.5 723.7,1843.1 703.2,1834.5 684.1,1835.2" fill="#ff4d11" stroke="#1e1a08" stroke-width="1.15" stroke-linejoin="round"/>
<polygon points="464.6,1834.4 485.2,1829.3 466.1,1829.4 445.5,1834.9" fill="#ff5738" stroke="#1e1a08" stroke-width="1.15" stroke-linejoin="round"/>
<polygon points="664.7,1836.4 684.1,1835.2 663.7,1828.1 644.3,1829.6" fill="#ff3f19" stroke="#1e1a08" stroke-width="1.15" stroke-linejoin="round"/>
<polygon points="504.6,1830.3 525,1826 505.6,1824.7 485.2,1829.3" fill="#ff4934" stroke="#1e1a08" stroke-width="1.15" stroke-linejoin="round"/>
<polygon points="624.7,1831.5 644.3,1829.6 624.2,1823.9 604.6,1826.1" fill="#ff3921" stroke="#1e1a08" stroke-width="1.15" stroke-linejoin="round"/>
<polygon points="544.6,1828.4 564.8,1825 545.1,1822.2 525,1826" fill="#ff3e2f" stroke="#1e1a08" stroke-width="1.15" stroke-linejoin="round"/>
<polygon points="584.7,1828.8 604.6,1826.1 584.7,1821.9 564.8,1825" fill="#ff3929" stroke="#1e1a08" stroke-width="1.15" stroke-linejoin="round"/>
<polygon points="765.3,1863.8 784.1,1864.5 763.2,1853.2 744.4,1852.9" fill="#ff7302" stroke="#1e1a08" stroke-width="1.15" stroke-linejoin="round"/>
<polygon points="403.7,1847.2 424.7,1840.8 406,1842.6 385,1849.4" fill="#ff713d" stroke="#1e1a08" stroke-width="1.15" stroke-linejoin="round"/>
<polygon points="725.3,1852.9 744.4,1852.9 723.7,1843.1 704.6,1843.5" fill="#ff580c" stroke="#1e1a08" stroke-width="1.15" stroke-linejoin="round"/>
<polygon points="443.8,1840 464.6,1834.4 445.5,1834.9 424.7,1840.8" fill="#ff5c3a" stroke="#1e1a08" stroke-width="1.15" stroke-linejoin="round"/>
<polygon points="685.3,1844.3 704.6,1843.5 684.1,1835.2 664.7,1836.4" fill="#ff4515" stroke="#1e1a08" stroke-width="1.15" stroke-linejoin="round"/>
<polygon points="484,1835 504.6,1830.3 485.2,1829.3 464.6,1834.4" fill="#ff4c37" stroke="#1e1a08" stroke-width="1.15" stroke-linejoin="round"/>
<polygon points="645.1,1837.9 664.7,1836.4 644.3,1829.6 624.7,1831.5" fill="#ff3b1d" stroke="#1e1a08" stroke-width="1.15" stroke-linejoin="round"/>
<polygon points="524.2,1832.4 544.6,1828.4 525,1826 504.6,1830.3" fill="#ff4032" stroke="#1e1a08" stroke-width="1.15" stroke-linejoin="round"/>
<polygon points="604.8,1833.8 624.7,1831.5 604.6,1826.1 584.7,1828.8" fill="#ff3725" stroke="#1e1a08" stroke-width="1.15" stroke-linejoin="round"/>
<polygon points="564.5,1832 584.7,1828.8 564.8,1825 544.6,1828.4" fill="#ff392c" stroke="#1e1a08" stroke-width="1.15" stroke-linejoin="round"/>
<polygon points="786.4,1875.9 805.1,1876.9 784.1,1864.5 765.3,1863.8" fill="#ff8a00" stroke="#1e1a08" stroke-width="1.15" stroke-linejoin="round"/>
<polygon points="746.3,1863.6 765.3,1863.8 744.4,1852.9 725.3,1852.9" fill="#ff6706" stroke="#1e1a08" stroke-width="1.15" stroke-linejoin="round"/>
<polygon points="382.5,1854.1 403.7,1847.2 385,1849.4 363.8,1856.6" fill="#ff783f" stroke="#1e1a08" stroke-width="1.15" stroke-linejoin="round"/>
<polygon points="706,1853.4 725.3,1852.9 704.6,1843.5 685.3,1844.3" fill="#ff4f10" stroke="#1e1a08" stroke-width="1.15" stroke-linejoin="round"/>
<polygon points="422.7,1846.1 443.8,1840 424.7,1840.8 403.7,1847.2" fill="#ff623d" stroke="#1e1a08" stroke-width="1.15" stroke-linejoin="round"/>
<polygon points="665.6,1845.6 685.3,1844.3 664.7,1836.4 645.1,1837.9" fill="#ff3f19" stroke="#1e1a08" stroke-width="1.15" stroke-linejoin="round"/>
<polygon points="463.1,1840.3 484,1835 464.6,1834.4 443.8,1840" fill="#ff5039" stroke="#1e1a08" stroke-width="1.15" stroke-linejoin="round"/>
<polygon points="625.2,1839.9 645.1,1837.9 624.7,1831.5 604.8,1833.8" fill="#ff3721" stroke="#1e1a08" stroke-width="1.15" stroke-linejoin="round"/>
<polygon points="503.6,1836.8 524.2,1832.4 504.6,1830.3 484,1835" fill="#ff4335" stroke="#1e1a08" stroke-width="1.15" stroke-linejoin="round"/>
<polygon points="584.6,1836.6 604.8,1833.8 584.7,1828.8 564.5,1832" fill="#ff3629" stroke="#1e1a08" stroke-width="1.15" stroke-linejoin="round"/>
<polygon points="544.1,1835.5 564.5,1832 544.6,1828.4 524.2,1832.4" fill="#ff3a30" stroke="#1e1a08" stroke-width="1.15" stroke-linejoin="round"/>
<polygon points="807.7,1889.3 826.3,1890.5 805.1,1876.9 786.4,1875.9" fill="#ffa500" stroke="#1e1a08" stroke-width="1.15" stroke-linejoin="round"/>
<polygon points="767.5,1875.4 786.4,1875.9 765.3,1863.8 746.3,1863.6" fill="#ff7901" stroke="#1e1a08" stroke-width="1.15" stroke-linejoin="round"/>
<polygon points="361,1861.5 382.5,1854.1 363.8,1856.6 342.3,1864.4" fill="#ff8041" stroke="#1e1a08" stroke-width="1.15" stroke-linejoin="round"/>
<polygon points="727,1863.7 746.3,1863.6 725.3,1852.9 706,1853.4" fill="#ff5c0b" stroke="#1e1a08" stroke-width="1.15" stroke-linejoin="round"/>
<polygon points="401.4,1852.6 422.7,1846.1 403.7,1847.2 382.5,1854.1" fill="#ff693f" stroke="#1e1a08" stroke-width="1.15" stroke-linejoin="round"/>
<polygon points="686.5,1854.3 706,1853.4 685.3,1844.3 665.6,1845.6" fill="#ff4714" stroke="#1e1a08" stroke-width="1.15" stroke-linejoin="round"/>
<polygon points="442,1846 463.1,1840.3 443.8,1840 422.7,1846.1" fill="#ff563c" stroke="#1e1a08" stroke-width="1.15" stroke-linejoin="round"/>
<polygon points="645.8,1847.2 665.6,1845.6 645.1,1837.9 625.2,1839.9" fill="#ff3b1d" stroke="#1e1a08" stroke-width="1.15" stroke-linejoin="round"/>
<polygon points="482.7,1841.6 503.6,1836.8 484,1835 463.1,1840.3" fill="#ff4738" stroke="#1e1a08" stroke-width="1.15" stroke-linejoin="round"/>
<polygon points="829.2,1903.8 847.8,1905.4 826.3,1890.5 807.7,1889.3" fill="#fabf00" stroke="#1e1a08" stroke-width="1.15" stroke-linejoin="round"/>
<polygon points="605,1842.4 625.2,1839.9 604.8,1833.8 584.6,1836.6" fill="#ff3525" stroke="#1e1a08" stroke-width="1.15" stroke-linejoin="round"/>
<polygon points="523.5,1839.6 544.1,1835.5 524.2,1832.4 503.6,1836.8" fill="#ff3c33" stroke="#1e1a08" stroke-width="1.15" stroke-linejoin="round"/>
<polygon points="564.2,1839.9 584.6,1836.6 564.5,1832 544.1,1835.5" fill="#ff362d" stroke="#1e1a08" stroke-width="1.15" stroke-linejoin="round"/>
<polygon points="788.8,1888.4 807.7,1889.3 786.4,1875.9 767.5,1875.4" fill="#ff9300" stroke="#1e1a08" stroke-width="1.15" stroke-linejoin="round"/>
<polygon points="339.2,1869.4 361,1861.5 342.3,1864.4 320.7,1872.6" fill="#ff8942" stroke="#1e1a08" stroke-width="1.15" stroke-linejoin="round"/>
<polygon points="748.2,1875.2 767.5,1875.4 746.3,1863.6 727,1863.7" fill="#ff6d06" stroke="#1e1a08" stroke-width="1.15" stroke-linejoin="round"/>
<polygon points="379.9,1859.6 401.4,1852.6 382.5,1854.1 361,1861.5" fill="#ff7041" stroke="#1e1a08" stroke-width="1.15" stroke-linejoin="round"/>
<polygon points="707.5,1864.3 727,1863.7 706,1853.4 686.5,1854.3" fill="#ff530f" stroke="#1e1a08" stroke-width="1.15" stroke-linejoin="round"/>
<polygon points="850.8,1919.6 869.3,1921.4 847.8,1905.4 829.2,1903.8" fill="#f4db00" stroke="#1e1a08" stroke-width="1.15" stroke-linejoin="round"/>
<polygon points="420.7,1852.2 442,1846 422.7,1846.1 401.4,1852.6" fill="#ff5c3e" stroke="#1e1a08" stroke-width="1.15" stroke-linejoin="round"/>
<polygon points="666.6,1855.7 686.5,1854.3 665.6,1845.6 645.8,1847.2" fill="#ff4119" stroke="#1e1a08" stroke-width="1.15" stroke-linejoin="round"/>
<polygon points="461.6,1847 482.7,1841.6 463.1,1840.3 442,1846" fill="#ff4b3b" stroke="#1e1a08" stroke-width="1.15" stroke-linejoin="round"/>
<polygon points="625.7,1849.4 645.8,1847.2 625.2,1839.9 605,1842.4" fill="#ff3821" stroke="#1e1a08" stroke-width="1.15" stroke-linejoin="round"/>
<polygon points="502.6,1844.1 523.5,1839.6 503.6,1836.8 482.7,1841.6" fill="#ff3f36" stroke="#1e1a08" stroke-width="1.15" stroke-linejoin="round"/>
<polygon points="584.6,1845.3 605,1842.4 584.6,1836.6 564.2,1839.9" fill="#ff3529" stroke="#1e1a08" stroke-width="1.15" stroke-linejoin="round"/>
<polygon points="543.6,1843.6 564.2,1839.9 544.1,1835.5 523.5,1839.6" fill="#ff3730" stroke="#1e1a08" stroke-width="1.15" stroke-linejoin="round"/>
<polygon points="810.3,1902.7 829.2,1903.8 807.7,1889.3 788.8,1888.4" fill="#fdaf00" stroke="#1e1a08" stroke-width="1.15" stroke-linejoin="round"/>
<polygon points="317.3,1877.8 339.2,1869.4 320.7,1872.6 298.8,1881.4" fill="#ff9244" stroke="#1e1a08" stroke-width="1.15" stroke-linejoin="round"/>
<polygon points="769.6,1888 788.8,1888.4 767.5,1875.4 748.2,1875.2" fill="#ff8200" stroke="#1e1a08" stroke-width="1.15" stroke-linejoin="round"/>
<polygon points="872.7,1936.6 891.1,1938.7 869.3,1921.4 850.8,1919.6" fill="#e3ee00" stroke="#1e1a08" stroke-width="1.15" stroke-linejoin="round"/>
<polygon points="358.1,1867.2 379.9,1859.6 361,1861.5 339.2,1869.4" fill="#ff7843" stroke="#1e1a08" stroke-width="1.15" stroke-linejoin="round"/>
<polygon points="728.7,1875.5 748.2,1875.2 727,1863.7 707.5,1864.3" fill="#ff620a" stroke="#1e1a08" stroke-width="1.15" stroke-linejoin="round"/>
<polygon points="399.1,1858.9 420.7,1852.2 401.4,1852.6 379.9,1859.6" fill="#ff6341" stroke="#1e1a08" stroke-width="1.15" stroke-linejoin="round"/>
<polygon points="687.7,1865.4 707.5,1864.3 686.5,1854.3 666.6,1855.7" fill="#ff4b14" stroke="#1e1a08" stroke-width="1.15" stroke-linejoin="round"/>
<polygon points="832.1,1918.1 850.8,1919.6 829.2,1903.8 810.3,1902.7" fill="#f7ca00" stroke="#1e1a08" stroke-width="1.15" stroke-linejoin="round"/>
<polygon points="440.2,1852.9 461.6,1847 442,1846 420.7,1852.2" fill="#ff513d" stroke="#1e1a08" stroke-width="1.15" stroke-linejoin="round"/>
<polygon points="646.5,1857.5 666.6,1855.7 645.8,1847.2 625.7,1849.4" fill="#ff3d1d" stroke="#1e1a08" stroke-width="1.15" stroke-linejoin="round"/>
<polygon points="481.4,1849.2 502.6,1844.1 482.7,1841.6 461.6,1847" fill="#ff4339" stroke="#1e1a08" stroke-width="1.15" stroke-linejoin="round"/>
<polygon points="605.3,1851.9 625.7,1849.4 605,1842.4 584.6,1845.3" fill="#ff3625" stroke="#1e1a08" stroke-width="1.15" stroke-linejoin="round"/>
<polygon points="522.7,1847.8 543.6,1843.6 523.5,1839.6 502.6,1844.1" fill="#ff3a33" stroke="#1e1a08" stroke-width="1.15" stroke-linejoin="round"/>
<polygon points="564,1848.7 584.6,1845.3 564.2,1839.9 543.6,1843.6" fill="#ff352d" stroke="#1e1a08" stroke-width="1.15" stroke-linejoin="round"/>
<polygon points="791.2,1901.9 810.3,1902.7 788.8,1888.4 769.6,1888" fill="#ff9e00" stroke="#1e1a08" stroke-width="1.15" stroke-linejoin="round"/>
<polygon points="295.1,1886.8 317.3,1877.8 298.8,1881.4 276.7,1890.7" fill="#ff9d45" stroke="#1e1a08" stroke-width="1.15" stroke-linejoin="round"/>
<polygon points="894.6,1954.9 913,1957.2 891.1,1938.7 872.7,1936.6" fill="#b9e900" stroke="#1e1a08" stroke-width="1.15" stroke-linejoin="round"/>
<polygon points="750.2,1887.9 769.6,1888 748.2,1875.2 728.7,1875.5" fill="#ff7504" stroke="#1e1a08" stroke-width="1.15" stroke-linejoin="round"/>
<polygon points="336.1,1875.3 358.1,1867.2 339.2,1869.4 317.3,1877.8" fill="#ff8144" stroke="#1e1a08" stroke-width="1.15" stroke-linejoin="round"/>
<polygon points="854,1934.9 872.7,1936.6 850.8,1919.6 832.1,1918.1" fill="#f1e800" stroke="#1e1a08" stroke-width="1.15" stroke-linejoin="round"/>
<polygon points="709,1876.2 728.7,1875.5 707.5,1864.3 687.7,1865.4" fill="#ff590e" stroke="#1e1a08" stroke-width="1.15" stroke-linejoin="round"/>
<polygon points="377.2,1866.1 399.1,1858.9 379.9,1859.6 358.1,1867.2" fill="#ff6a43" stroke="#1e1a08" stroke-width="1.15" stroke-linejoin="round"/>
<polygon points="667.6,1866.8 687.7,1865.4 666.6,1855.7 646.5,1857.5" fill="#ff4518" stroke="#1e1a08" stroke-width="1.15" stroke-linejoin="round"/>
<polygon points="418.6,1859.2 440.2,1852.9 420.7,1852.2 399.1,1858.9" fill="#ff5740" stroke="#1e1a08" stroke-width="1.15" stroke-linejoin="round"/>
<polygon points="626.2,1859.7 646.5,1857.5 625.7,1849.4 605.3,1851.9" fill="#ff3a21" stroke="#1e1a08" stroke-width="1.15" stroke-linejoin="round"/>
<polygon points="460,1854.7 481.4,1849.2 461.6,1847 440.2,1852.9" fill="#ff483c" stroke="#1e1a08" stroke-width="1.15" stroke-linejoin="round"/>
<polygon points="813,1917.1 832.1,1918.1 810.3,1902.7 791.2,1901.9" fill="#fbba00" stroke="#1e1a08" stroke-width="1.15" stroke-linejoin="round"/>
<polygon points="916.8,1974.4 935,1977 913,1957.2 894.6,1954.9" fill="#8de300" stroke="#1e1a08" stroke-width="1.15" stroke-linejoin="round"/>
<polygon points="584.6,1855 605.3,1851.9 584.6,1845.3 564,1848.7" fill="#ff3529" stroke="#1e1a08" stroke-width="1.15" stroke-linejoin="round"/>
<polygon points="501.5,1852.4 522.7,1847.8 502.6,1844.1 481.4,1849.2" fill="#ff3d37" stroke="#1e1a08" stroke-width="1.15" stroke-linejoin="round"/>
<polygon points="543.1,1852.5 564,1848.7 543.6,1843.6 522.7,1847.8" fill="#ff3730" stroke="#1e1a08" stroke-width="1.15" stroke-linejoin="round"/>
<polygon points="272.6,1896.2 295.1,1886.8 276.7,1890.7 254.3,1900.5" fill="#ffa846" stroke="#1e1a08" stroke-width="1.15" stroke-linejoin="round"/>
<polygon points="771.8,1901.6 791.2,1901.9 769.6,1888 750.2,1887.9" fill="#ff8d00" stroke="#1e1a08" stroke-width="1.15" stroke-linejoin="round"/>
<polygon points="876,1952.9 894.6,1954.9 872.7,1936.6 854,1934.9" fill="#d0ec00" stroke="#1e1a08" stroke-width="1.15" stroke-linejoin="round"/>
<polygon points="313.8,1883.9 336.1,1875.3 317.3,1877.8 295.1,1886.8" fill="#ff8b46" stroke="#1e1a08" stroke-width="1.15" stroke-linejoin="round"/>
<polygon points="730.5,1888.3 750.2,1887.9 728.7,1875.5 709,1876.2" fill="#ff6a09" stroke="#1e1a08" stroke-width="1.15" stroke-linejoin="round"/>
<polygon points="355.2,1873.8 377.2,1866.1 358.1,1867.2 336.1,1875.3" fill="#ff7345" stroke="#1e1a08" stroke-width="1.15" stroke-linejoin="round"/>
<polygon points="939.1,1995.2 957.2,1998.1 935,1977 916.8,1974.4" fill="#60de00" stroke="#1e1a08" stroke-width="1.15" stroke-linejoin="round"/>
<polygon points="688.9,1877.4 709,1876.2 687.7,1865.4 667.6,1866.8" fill="#ff5113" stroke="#1e1a08" stroke-width="1.15" stroke-linejoin="round"/>
<polygon points="835,1933.6 854,1934.9 832.1,1918.1 813,1917.1" fill="#f5d700" stroke="#1e1a08" stroke-width="1.15" stroke-linejoin="round"/>
<polygon points="396.7,1866.1 418.6,1859.2 399.1,1858.9 377.2,1866.1" fill="#ff5e42" stroke="#1e1a08" stroke-width="1.15" stroke-linejoin="round"/>
<polygon points="647.3,1868.8 667.6,1866.8 646.5,1857.5 626.2,1859.7" fill="#ff411c" stroke="#1e1a08" stroke-width="1.15" stroke-linejoin="round"/>
<polygon points="438.4,1860.7 460,1854.7 440.2,1852.9 418.6,1859.2" fill="#ff4e3f" stroke="#1e1a08" stroke-width="1.15" stroke-linejoin="round"/>
<polygon points="605.5,1862.5 626.2,1859.7 605.3,1851.9 584.6,1855" fill="#ff3825" stroke="#1e1a08" stroke-width="1.15" stroke-linejoin="round"/>
<polygon points="480.1,1857.6 501.5,1852.4 481.4,1849.2 460,1854.7" fill="#ff413a" stroke="#1e1a08" stroke-width="1.15" stroke-linejoin="round"/>
<polygon points="250,1906.2 272.6,1896.2 254.3,1900.5 231.7,1910.9" fill="#ffb448" stroke="#1e1a08" stroke-width="1.15" stroke-linejoin="round"/>
<polygon points="563.7,1858.5 584.6,1855 564,1848.7 543.1,1852.5" fill="#ff362d" stroke="#1e1a08" stroke-width="1.15" stroke-linejoin="round"/>
<polygon points="521.9,1856.9 543.1,1852.5 522.7,1847.8 501.5,1852.4" fill="#ff3934" stroke="#1e1a08" stroke-width="1.15" stroke-linejoin="round"/>
<polygon points="793.7,1916.5 813,1917.1 791.2,1901.9 771.8,1901.6" fill="#feab00" stroke="#1e1a08" stroke-width="1.15" stroke-linejoin="round"/>
<polygon points="898.3,1972.1 916.8,1974.4 894.6,1954.9 876,1952.9" fill="#a5e600" stroke="#1e1a08" stroke-width="1.15" stroke-linejoin="round"/>
<polygon points="291.3,1893 313.8,1883.9 295.1,1886.8 272.6,1896.2" fill="#ff9647" stroke="#1e1a08" stroke-width="1.15" stroke-linejoin="round"/>
<polygon points="752.2,1901.7 771.8,1901.6 750.2,1887.9 730.5,1888.3" fill="#ff8003" stroke="#1e1a08" stroke-width="1.15" stroke-linejoin="round"/>
<polygon points="961.5,2017.2 979.5,2020.4 957.2,1998.1 939.1,1995.2" fill="#32d900" stroke="#1e1a08" stroke-width="1.15" stroke-linejoin="round"/>
<polygon points="857.1,1951.3 876,1952.9 854,1934.9 835,1933.6" fill="#e7ef00" stroke="#1e1a08" stroke-width="1.15" stroke-linejoin="round"/>
<polygon points="332.8,1882.1 355.2,1873.8 336.1,1875.3 313.8,1883.9" fill="#ff7c46" stroke="#1e1a08" stroke-width="1.15" stroke-linejoin="round"/>
<polygon points="710.5,1889.2 730.5,1888.3 709,1876.2 688.9,1877.4" fill="#ff610d" stroke="#1e1a08" stroke-width="1.15" stroke-linejoin="round"/>
<polygon points="374.6,1873.5 396.7,1866.1 377.2,1866.1 355.2,1873.8" fill="#ff6644" stroke="#1e1a08" stroke-width="1.15" stroke-linejoin="round"/>
<polygon points="668.6,1879 688.9,1877.4 667.6,1866.8 647.3,1868.8" fill="#ff4b17" stroke="#1e1a08" stroke-width="1.15" stroke-linejoin="round"/>
<polygon points="920.6,1992.7 939.1,1995.2 916.8,1974.4 898.3,1972.1" fill="#78e100" stroke="#1e1a08" stroke-width="1.15" stroke-linejoin="round"/>
<polygon points="815.7,1932.6 835,1933.6 813,1917.1 793.7,1916.5" fill="#f8c700" stroke="#1e1a08" stroke-width="1.15" stroke-linejoin="round"/>
<polygon points="416.4,1867.2 438.4,1860.7 418.6,1859.2 396.7,1866.1" fill="#ff5441" stroke="#1e1a08" stroke-width="1.15" stroke-linejoin="round"/>
<polygon points="626.7,1871.1 647.3,1868.8 626.2,1859.7 605.5,1862.5" fill="#ff3e20" stroke="#1e1a08" stroke-width="1.15" stroke-linejoin="round"/>
<polygon points="227.1,1916.8 250,1906.2 231.7,1910.9 208.9,1921.8" fill="#ffc149" stroke="#1e1a08" stroke-width="1.15" stroke-linejoin="round"/>
<polygon points="458.4,1863.3 480.1,1857.6 460,1854.7 438.4,1860.7" fill="#ff463d" stroke="#1e1a08" stroke-width="1.15" stroke-linejoin="round"/>
<polygon points="584.6,1865.6 605.5,1862.5 584.6,1855 563.7,1858.5" fill="#ff3729" stroke="#1e1a08" stroke-width="1.15" stroke-linejoin="round"/>
<polygon points="984.1,2040.6 1002,2043.9 979.5,2020.4 961.5,2017.2" fill="#04d400" stroke="#1e1a08" stroke-width="1.15" stroke-linejoin="round"/>
<polygon points="500.5,1861.7 521.9,1856.9 501.5,1852.4 480.1,1857.6" fill="#ff3d37" stroke="#1e1a08" stroke-width="1.15" stroke-linejoin="round"/>
<polygon points="542.5,1862.5 563.7,1858.5 543.1,1852.5 521.9,1856.9" fill="#ff3731" stroke="#1e1a08" stroke-width="1.15" stroke-linejoin="round"/>
<polygon points="774.1,1916.3 793.7,1916.5 771.8,1901.6 752.2,1901.7" fill="#ff9b00" stroke="#1e1a08" stroke-width="1.15" stroke-linejoin="round"/>
<polygon points="268.6,1902.7 291.3,1893 272.6,1896.2 250,1906.2" fill="#ffa149" stroke="#1e1a08" stroke-width="1.15" stroke-linejoin="round"/>
<polygon points="879.5,1970.3 898.3,1972.1 876,1952.9 857.1,1951.3" fill="#bce900" stroke="#1e1a08" stroke-width="1.15" stroke-linejoin="round"/>
<polygon points="732.2,1902.2 752.2,1901.7 730.5,1888.3 710.5,1889.2" fill="#ff7508" stroke="#1e1a08" stroke-width="1.15" stroke-linejoin="round"/>
<polygon points="310.3,1890.8 332.8,1882.1 313.8,1883.9 291.3,1893" fill="#ff8548" stroke="#1e1a08" stroke-width="1.15" stroke-linejoin="round"/>
<polygon points="943.2,2014.5 961.5,2017.2 939.1,1995.2 920.6,1992.7" fill="#4adc00" stroke="#1e1a08" stroke-width="1.15" stroke-linejoin="round"/>
<polygon points="838,1950.1 857.1,1951.3 835,1933.6 815.7,1932.6" fill="#f2e600" stroke="#1e1a08" stroke-width="1.15" stroke-linejoin="round"/>
<polygon points="690.2,1890.5 710.5,1889.2 688.9,1877.4 668.6,1879" fill="#ff5912" stroke="#1e1a08" stroke-width="1.15" stroke-linejoin="round"/>
<polygon points="352.2,1881.4 374.6,1873.5 355.2,1873.8 332.8,1882.1" fill="#ff6e46" stroke="#1e1a08" stroke-width="1.15" stroke-linejoin="round"/>
<polygon points="203.9,1927.9 227.1,1916.8 208.9,1921.8 185.9,1933.2" fill="#ffce49" stroke="#1e1a08" stroke-width="1.15" stroke-linejoin="round"/>
<polygon points="648,1881.1 668.6,1879 647.3,1868.8 626.7,1871.1" fill="#ff471b" stroke="#1e1a08" stroke-width="1.15" stroke-linejoin="round"/>
<polygon points="394.3,1874.2 416.4,1867.2 396.7,1866.1 374.6,1873.5" fill="#ff5b44" stroke="#1e1a08" stroke-width="1.15" stroke-linejoin="round"/>
<polygon points="605.8,1874 626.7,1871.1 605.5,1862.5 584.6,1865.6" fill="#ff3c24" stroke="#1e1a08" stroke-width="1.15" stroke-linejoin="round"/>
<polygon points="436.5,1869.4 458.4,1863.3 438.4,1860.7 416.4,1867.2" fill="#ff4c40" stroke="#1e1a08" stroke-width="1.15" stroke-linejoin="round"/>
<polygon points="796.2,1932.2 815.7,1932.6 793.7,1916.5 774.1,1916.3" fill="#fbb900" stroke="#1e1a08" stroke-width="1.15" stroke-linejoin="round"/>
<polygon points="901.9,1990.5 920.6,1992.7 898.3,1972.1 879.5,1970.3" fill="#8fe400" stroke="#1e1a08" stroke-width="1.15" stroke-linejoin="round"/>
<polygon points="563.5,1869.3 584.6,1865.6 563.7,1858.5 542.5,1862.5" fill="#ff382d" stroke="#1e1a08" stroke-width="1.15" stroke-linejoin="round"/>
<polygon points="478.8,1867 500.5,1861.7 480.1,1857.6 458.4,1863.3" fill="#ff413a" stroke="#1e1a08" stroke-width="1.15" stroke-linejoin="round"/>
<polygon points="521.1,1867 542.5,1862.5 521.9,1856.9 500.5,1861.7" fill="#ff3a34" stroke="#1e1a08" stroke-width="1.15" stroke-linejoin="round"/>
<polygon points="245.6,1912.9 268.6,1902.7 250,1906.2 227.1,1916.8" fill="#ffad4a" stroke="#1e1a08" stroke-width="1.15" stroke-linejoin="round"/>
<polygon points="965.9,2037.6 984.1,2040.6 961.5,2017.2 943.2,2014.5" fill="#1bd700" stroke="#1e1a08" stroke-width="1.15" stroke-linejoin="round"/>
<polygon points="754.2,1916.5 774.1,1916.3 752.2,1901.7 732.2,1902.2" fill="#ff8d02" stroke="#1e1a08" stroke-width="1.15" stroke-linejoin="round"/>
<polygon points="287.5,1900.2 310.3,1890.8 291.3,1893 268.6,1902.7" fill="#ff904a" stroke="#1e1a08" stroke-width="1.15" stroke-linejoin="round"/>
<polygon points="860.4,1968.8 879.5,1970.3 857.1,1951.3 838,1950.1" fill="#d2ec00" stroke="#1e1a08" stroke-width="1.15" stroke-linejoin="round"/>
<polygon points="712,1903.2 732.2,1902.2 710.5,1889.2 690.2,1890.5" fill="#ff6b0c" stroke="#1e1a08" stroke-width="1.15" stroke-linejoin="round"/>
<polygon points="329.6,1889.8 352.2,1881.4 332.8,1882.1 310.3,1890.8" fill="#ff7848" stroke="#1e1a08" stroke-width="1.15" stroke-linejoin="round"/>
<polygon points="180.6,1939.6 203.9,1927.9 185.9,1933.2 162.6,1945.2" fill="#ffdd4a" stroke="#1e1a08" stroke-width="1.15" stroke-linejoin="round"/>
<polygon points="924.6,2012.1 943.2,2014.5 920.6,1992.7 901.9,1990.5" fill="#61de00" stroke="#1e1a08" stroke-width="1.15" stroke-linejoin="round"/>
<polygon points="669.7,1892.2 690.2,1890.5 668.6,1879 648,1881.1" fill="#ff5316" stroke="#1e1a08" stroke-width="1.15" stroke-linejoin="round"/>
<polygon points="818.5,1949.3 838,1950.1 815.7,1932.6 796.2,1932.2" fill="#f5d700" stroke="#1e1a08" stroke-width="1.15" stroke-linejoin="round"/>
<polygon points="371.8,1881.8 394.3,1874.2 374.6,1873.5 352.2,1881.4" fill="#ff6346" stroke="#1e1a08" stroke-width="1.15" stroke-linejoin="round"/>
<polygon points="627.2,1883.6 648,1881.1 626.7,1871.1 605.8,1874" fill="#ff4420" stroke="#1e1a08" stroke-width="1.15" stroke-linejoin="round"/>
<polygon points="414.3,1876.1 436.5,1869.4 416.4,1867.2 394.3,1874.2" fill="#ff5342" stroke="#1e1a08" stroke-width="1.15" stroke-linejoin="round"/>
<polygon points="584.6,1877.3 605.8,1874 584.6,1865.6 563.5,1869.3" fill="#ff3c29" stroke="#1e1a08" stroke-width="1.15" stroke-linejoin="round"/>
<polygon points="222.3,1923.6 245.6,1912.9 227.1,1916.8 203.9,1927.9" fill="#ffb94b" stroke="#1e1a08" stroke-width="1.15" stroke-linejoin="round"/>
<polygon points="456.8,1872.8 478.8,1867 458.4,1863.3 436.5,1869.4" fill="#ff463d" stroke="#1e1a08" stroke-width="1.15" stroke-linejoin="round"/>
<polygon points="542,1873.4 563.5,1869.3 542.5,1862.5 521.1,1867" fill="#ff3a31" stroke="#1e1a08" stroke-width="1.15" stroke-linejoin="round"/>
<polygon points="499.4,1871.9 521.1,1867 500.5,1861.7 478.8,1867" fill="#ff3e38" stroke="#1e1a08" stroke-width="1.15" stroke-linejoin="round"/>
<polygon points="776.4,1932.1 796.2,1932.2 774.1,1916.3 754.2,1916.5" fill="#feab00" stroke="#1e1a08" stroke-width="1.15" stroke-linejoin="round"/>
<polygon points="882.9,1988.8 901.9,1990.5 879.5,1970.3 860.4,1968.8" fill="#a5e700" stroke="#1e1a08" stroke-width="1.15" stroke-linejoin="round"/>
<polygon points="264.4,1910 287.5,1900.2 268.6,1902.7 245.6,1912.9" fill="#ff9b4b" stroke="#1e1a08" stroke-width="1.15" stroke-linejoin="round"/>
<polygon points="734,1917.2 754.2,1916.5 732.2,1902.2 712,1903.2" fill="#ff8107" stroke="#1e1a08" stroke-width="1.15" stroke-linejoin="round"/>
<polygon points="947.4,2035 965.9,2037.6 943.2,2014.5 924.6,2012.1" fill="#32d900" stroke="#1e1a08" stroke-width="1.15" stroke-linejoin="round"/>
<polygon points="306.7,1898.8 329.6,1889.8 310.3,1890.8 287.5,1900.2" fill="#ff824a" stroke="#1e1a08" stroke-width="1.15" stroke-linejoin="round"/>
<polygon points="841,1967.8 860.4,1968.8 838,1950.1 818.5,1949.3" fill="#e8ef00" stroke="#1e1a08" stroke-width="1.15" stroke-linejoin="round"/>
<polygon points="691.5,1904.6 712,1903.2 690.2,1890.5 669.7,1892.2" fill="#ff6311" stroke="#1e1a08" stroke-width="1.15" stroke-linejoin="round"/>
<polygon points="349.2,1889.8 371.8,1881.8 352.2,1881.4 329.6,1889.8" fill="#ff6c48" stroke="#1e1a08" stroke-width="1.15" stroke-linejoin="round"/>
<polygon points="648.8,1894.4 669.7,1892.2 648,1881.1 627.2,1883.6" fill="#ff4f1b" stroke="#1e1a08" stroke-width="1.15" stroke-linejoin="round"/>
<polygon points="905.7,2010.1 924.6,2012.1 901.9,1990.5 882.9,1988.8" fill="#78e100" stroke="#1e1a08" stroke-width="1.15" stroke-linejoin="round"/>
<polygon points="391.8,1883.3 414.3,1876.1 394.3,1874.2 371.8,1881.8" fill="#ff5a45" stroke="#1e1a08" stroke-width="1.15" stroke-linejoin="round"/>
<polygon points="198.9,1935 222.3,1923.6 203.9,1927.9 180.6,1939.6" fill="#ffc74c" stroke="#1e1a08" stroke-width="1.15" stroke-linejoin="round"/>
<polygon points="798.7,1949 818.5,1949.3 796.2,1932.2 776.4,1932.1" fill="#f8c800" stroke="#1e1a08" stroke-width="1.15" stroke-linejoin="round"/>
<polygon points="606,1886.6 627.2,1883.6 605.8,1874 584.6,1877.3" fill="#ff4224" stroke="#1e1a08" stroke-width="1.15" stroke-linejoin="round"/>
<polygon points="434.6,1879.2 456.8,1872.8 436.5,1869.4 414.3,1876.1" fill="#ff4c40" stroke="#1e1a08" stroke-width="1.15" stroke-linejoin="round"/>
<polygon points="563.2,1881.1 584.6,1877.3 563.5,1869.3 542,1873.4" fill="#ff3c2c" stroke="#1e1a08" stroke-width="1.15" stroke-linejoin="round"/>
<polygon points="477.4,1877.4 499.4,1871.9 478.8,1867 456.8,1872.8" fill="#ff423b" stroke="#1e1a08" stroke-width="1.15" stroke-linejoin="round"/>
<polygon points="520.3,1878.1 542,1873.4 521.1,1867 499.4,1871.9" fill="#ff3d34" stroke="#1e1a08" stroke-width="1.15" stroke-linejoin="round"/>
<polygon points="241.1,1920.4 264.4,1910 245.6,1912.9 222.3,1923.6" fill="#ffa74c" stroke="#1e1a08" stroke-width="1.15" stroke-linejoin="round"/>
<polygon points="756.3,1932.5 776.4,1932.1 754.2,1916.5 734,1917.2" fill="#ff9c01" stroke="#1e1a08" stroke-width="1.15" stroke-linejoin="round"/>
<polygon points="863.6,1987.5 882.9,1988.8 860.4,1968.8 841,1967.8" fill="#bbea00" stroke="#1e1a08" stroke-width="1.15" stroke-linejoin="round"/>
<polygon points="283.5,1908.3 306.7,1898.8 287.5,1900.2 264.4,1910" fill="#ff8c4c" stroke="#1e1a08" stroke-width="1.15" stroke-linejoin="round"/>
<polygon points="713.6,1918.3 734,1917.2 712,1903.2 691.5,1904.6" fill="#ff780b" stroke="#1e1a08" stroke-width="1.15" stroke-linejoin="round"/>
<polygon points="928.6,2032.8 947.4,2035 924.6,2012.1 905.7,2010.1" fill="#49dc00" stroke="#1e1a08" stroke-width="1.15" stroke-linejoin="round"/>
<polygon points="326.2,1898.5 349.2,1889.8 329.6,1889.8 306.7,1898.8" fill="#ff754a" stroke="#1e1a08" stroke-width="1.15" stroke-linejoin="round"/>
<polygon points="821.3,1967.1 841,1967.8 818.5,1949.3 798.7,1949" fill="#f2e800" stroke="#1e1a08" stroke-width="1.15" stroke-linejoin="round"/>
<polygon points="670.7,1906.5 691.5,1904.6 669.7,1892.2 648.8,1894.4" fill="#ff5d15" stroke="#1e1a08" stroke-width="1.15" stroke-linejoin="round"/>
<polygon points="369.1,1891.1 391.8,1883.3 371.8,1881.8 349.2,1889.8" fill="#ff6247" stroke="#1e1a08" stroke-width="1.15" stroke-linejoin="round"/>
<polygon points="627.7,1897.1 648.8,1894.4 627.2,1883.6 606,1886.6" fill="#ff4c1f" stroke="#1e1a08" stroke-width="1.15" stroke-linejoin="round"/>
<polygon points="412.1,1886 434.6,1879.2 414.3,1876.1 391.8,1883.3" fill="#ff5343" stroke="#1e1a08" stroke-width="1.15" stroke-linejoin="round"/>
<polygon points="584.6,1890.1 606,1886.6 584.6,1877.3 563.2,1881.1" fill="#ff4228" stroke="#1e1a08" stroke-width="1.15" stroke-linejoin="round"/>
<polygon points="778.7,1949.1 798.7,1949 776.4,1932.1 756.3,1932.5" fill="#fbbb00" stroke="#1e1a08" stroke-width="1.15" stroke-linejoin="round"/>
<polygon points="886.5,2008.6 905.7,2010.1 882.9,1988.8 863.6,1987.5" fill="#8de400" stroke="#1e1a08" stroke-width="1.15" stroke-linejoin="round"/>
<polygon points="455.1,1883.4 477.4,1877.4 456.8,1872.8 434.6,1879.2" fill="#ff483e" stroke="#1e1a08" stroke-width="1.15" stroke-linejoin="round"/>
<polygon points="541.5,1885.4 563.2,1881.1 542,1873.4 520.3,1878.1" fill="#ff3e30" stroke="#1e1a08" stroke-width="1.15" stroke-linejoin="round"/>
<polygon points="498.3,1883.2 520.3,1878.1 499.4,1871.9 477.4,1877.4" fill="#ff4138" stroke="#1e1a08" stroke-width="1.15" stroke-linejoin="round"/>
<polygon points="217.5,1931.4 241.1,1920.4 222.3,1923.6 198.9,1935" fill="#ffb44d" stroke="#1e1a08" stroke-width="1.15" stroke-linejoin="round"/>
<polygon points="735.9,1933.3 756.3,1932.5 734,1917.2 713.6,1918.3" fill="#ff9105" stroke="#1e1a08" stroke-width="1.15" stroke-linejoin="round"/>
<polygon points="260.2,1918.4 283.5,1908.3 264.4,1910 241.1,1920.4" fill="#ff974d" stroke="#1e1a08" stroke-width="1.15" stroke-linejoin="round"/>
<polygon points="844,1986.6 863.6,1987.5 841,1967.8 821.3,1967.1" fill="#d0ed00" stroke="#1e1a08" stroke-width="1.15" stroke-linejoin="round"/>
<polygon points="692.8,1919.9 713.6,1918.3 691.5,1904.6 670.7,1906.5" fill="#ff7010" stroke="#1e1a08" stroke-width="1.15" stroke-linejoin="round"/>
<polygon points="303,1907.6 326.2,1898.5 306.7,1898.8 283.5,1908.3" fill="#ff7f4c" stroke="#1e1a08" stroke-width="1.15" stroke-linejoin="round"/>
<polygon points="909.5,2031 928.6,2032.8 905.7,2010.1 886.5,2008.6" fill="#5fdf00" stroke="#1e1a08" stroke-width="1.15" stroke-linejoin="round"/>
<polygon points="649.6,1908.9 670.7,1906.5 648.8,1894.4 627.7,1897.1" fill="#ff591a" stroke="#1e1a08" stroke-width="1.15" stroke-linejoin="round"/>
<polygon points="346.1,1899.3 369.1,1891.1 349.2,1889.8 326.2,1898.5" fill="#ff6b49" stroke="#1e1a08" stroke-width="1.15" stroke-linejoin="round"/>
<polygon points="801.3,1967 821.3,1967.1 798.7,1949 778.7,1949.1" fill="#f5da00" stroke="#1e1a08" stroke-width="1.15" stroke-linejoin="round"/>
<polygon points="606.3,1900.3 627.7,1897.1 606,1886.6 584.6,1890.1" fill="#ff4a23" stroke="#1e1a08" stroke-width="1.15" stroke-linejoin="round"/>
<polygon points="389.3,1893.4 412.1,1886 391.8,1883.3 369.1,1891.1" fill="#ff5b46" stroke="#1e1a08" stroke-width="1.15" stroke-linejoin="round"/>
<polygon points="562.9,1894.1 584.6,1890.1 563.2,1881.1 541.5,1885.4" fill="#ff422c" stroke="#1e1a08" stroke-width="1.15" stroke-linejoin="round"/>
<polygon points="432.6,1889.9 455.1,1883.4 434.6,1879.2 412.1,1886" fill="#ff4e41" stroke="#1e1a08" stroke-width="1.15" stroke-linejoin="round"/>
<polygon points="519.5,1890.3 541.5,1885.4 520.3,1878.1 498.3,1883.2" fill="#ff4134" stroke="#1e1a08" stroke-width="1.15" stroke-linejoin="round"/>
<polygon points="476,1888.9 498.3,1883.2 477.4,1877.4 455.1,1883.4" fill="#ff453b" stroke="#1e1a08" stroke-width="1.15" stroke-linejoin="round"/>
<polygon points="758.4,1949.6 778.7,1949.1 756.3,1932.5 735.9,1933.3" fill="#ffae00" stroke="#1e1a08" stroke-width="1.15" stroke-linejoin="round"/>
<polygon points="867,2007.4 886.5,2008.6 863.6,1987.5 844,1986.6" fill="#a3e700" stroke="#1e1a08" stroke-width="1.15" stroke-linejoin="round"/>
<polygon points="236.5,1929 260.2,1918.4 241.1,1920.4 217.5,1931.4" fill="#ffa34f" stroke="#1e1a08" stroke-width="1.15" stroke-linejoin="round"/>
<polygon points="715.2,1934.6 735.9,1933.3 713.6,1918.3 692.8,1919.9" fill="#ff870a" stroke="#1e1a08" stroke-width="1.15" stroke-linejoin="round"/>
<polygon points="279.6,1917.4 303,1907.6 283.5,1908.3 260.2,1918.4" fill="#ff8a4e" stroke="#1e1a08" stroke-width="1.15" stroke-linejoin="round"/>
<polygon points="824.2,1986.2 844,1986.6 821.3,1967.1 801.3,1967" fill="#e5f000" stroke="#1e1a08" stroke-width="1.15" stroke-linejoin="round"/>
<polygon points="671.8,1922 692.8,1919.9 670.7,1906.5 649.6,1908.9" fill="#ff6a14" stroke="#1e1a08" stroke-width="1.15" stroke-linejoin="round"/>
<polygon points="322.8,1908.2 346.1,1899.3 326.2,1898.5 303,1907.6" fill="#ff754c" stroke="#1e1a08" stroke-width="1.15" stroke-linejoin="round"/>
<polygon points="628.2,1911.7 649.6,1908.9 627.7,1897.1 606.3,1900.3" fill="#ff551e" stroke="#1e1a08" stroke-width="1.15" stroke-linejoin="round"/>
<polygon points="890.1,2029.6 909.5,2031 886.5,2008.6 867,2007.4" fill="#74e200" stroke="#1e1a08" stroke-width="1.15" stroke-linejoin="round"/>
<polygon points="366.2,1901.4 389.3,1893.4 369.1,1891.1 346.1,1899.3" fill="#ff6348" stroke="#1e1a08" stroke-width="1.15" stroke-linejoin="round"/>
<polygon points="781.1,1967.2 801.3,1967 778.7,1949.1 758.4,1949.6" fill="#f9cd00" stroke="#1e1a08" stroke-width="1.15" stroke-linejoin="round"/>
<polygon points="584.6,1903.9 606.3,1900.3 584.6,1890.1 562.9,1894.1" fill="#ff4927" stroke="#1e1a08" stroke-width="1.15" stroke-linejoin="round"/>
<polygon points="409.8,1897 432.6,1889.9 412.1,1886 389.3,1893.4" fill="#ff5544" stroke="#1e1a08" stroke-width="1.15" stroke-linejoin="round"/>
<polygon points="540.9,1898.5 562.9,1894.1 541.5,1885.4 519.5,1890.3" fill="#ff4430" stroke="#1e1a08" stroke-width="1.15" stroke-linejoin="round"/>
<polygon points="453.5,1895.1 476,1888.9 455.1,1883.4 432.6,1889.9" fill="#ff4b3e" stroke="#1e1a08" stroke-width="1.15" stroke-linejoin="round"/>
<polygon points="497.2,1895.6 519.5,1890.3 498.3,1883.2 476,1888.9" fill="#ff4538" stroke="#1e1a08" stroke-width="1.15" stroke-linejoin="round"/>
<polygon points="737.7,1950.6 758.4,1949.6 735.9,1933.3 715.2,1934.6" fill="#ffa204" stroke="#1e1a08" stroke-width="1.15" stroke-linejoin="round"/>
<polygon points="847.2,2006.7 867,2007.4 844,1986.6 824.2,1986.2" fill="#b7ea00" stroke="#1e1a08" stroke-width="1.15" stroke-linejoin="round"/>
<polygon points="255.8,1927.7 279.6,1917.4 260.2,1918.4 236.5,1929" fill="#ff954f" stroke="#1e1a08" stroke-width="1.15" stroke-linejoin="round"/>
<polygon points="694.1,1936.4 715.2,1934.6 692.8,1919.9 671.8,1922" fill="#ff7f0e" stroke="#1e1a08" stroke-width="1.15" stroke-linejoin="round"/>
<polygon points="299.3,1917.6 322.8,1908.2 303,1907.6 279.6,1917.4" fill="#ff7f4d" stroke="#1e1a08" stroke-width="1.15" stroke-linejoin="round"/>
<polygon points="650.4,1924.5 671.8,1922 649.6,1908.9 628.2,1911.7" fill="#ff6518" stroke="#1e1a08" stroke-width="1.15" stroke-linejoin="round"/>
<polygon points="804,1986.2 824.2,1986.2 801.3,1967 781.1,1967.2" fill="#f3ed00" stroke="#1e1a08" stroke-width="1.15" stroke-linejoin="round"/>
<polygon points="342.9,1909.9 366.2,1901.4 346.1,1899.3 322.8,1908.2" fill="#ff6c4b" stroke="#1e1a08" stroke-width="1.15" stroke-linejoin="round"/>
<polygon points="606.6,1915.1 628.2,1911.7 606.3,1900.3 584.6,1903.9" fill="#ff5422" stroke="#1e1a08" stroke-width="1.15" stroke-linejoin="round"/>
<polygon points="386.7,1904.6 409.8,1897 389.3,1893.4 366.2,1901.4" fill="#ff5d47" stroke="#1e1a08" stroke-width="1.15" stroke-linejoin="round"/>
<polygon points="562.6,1908.1 584.6,1903.9 562.9,1894.1 540.9,1898.5" fill="#ff4a2b" stroke="#1e1a08" stroke-width="1.15" stroke-linejoin="round"/>
<polygon points="430.6,1901.8 453.5,1895.1 432.6,1889.9 409.8,1897" fill="#ff5142" stroke="#1e1a08" stroke-width="1.15" stroke-linejoin="round"/>
<polygon points="760.5,1967.9 781.1,1967.2 758.4,1949.6 737.7,1950.6" fill="#fcc100" stroke="#1e1a08" stroke-width="1.15" stroke-linejoin="round"/>
<polygon points="870.3,2028.6 890.1,2029.6 867,2007.4 847.2,2006.7" fill="#88e400" stroke="#1e1a08" stroke-width="1.15" stroke-linejoin="round"/>
<polygon points="518.6,1903.5 540.9,1898.5 519.5,1890.3 497.2,1895.6" fill="#ff4734" stroke="#1e1a08" stroke-width="1.15" stroke-linejoin="round"/>
<polygon points="474.6,1901.4 497.2,1895.6 476,1888.9 453.5,1895.1" fill="#ff4a3b" stroke="#1e1a08" stroke-width="1.15" stroke-linejoin="round"/>
<polygon points="716.8,1952.1 737.7,1950.6 715.2,1934.6 694.1,1936.4" fill="#ff9808" stroke="#1e1a08" stroke-width="1.15" stroke-linejoin="round"/>
<polygon points="827,2006.4 847.2,2006.7 824.2,1986.2 804,1986.2" fill="#cbed00" stroke="#1e1a08" stroke-width="1.15" stroke-linejoin="round"/>
<polygon points="672.8,1938.6 694.1,1936.4 671.8,1922 650.4,1924.5" fill="#ff7813" stroke="#1e1a08" stroke-width="1.15" stroke-linejoin="round"/>
<polygon points="275.5,1927.5 299.3,1917.6 279.6,1917.4 255.8,1927.7" fill="#ff894f" stroke="#1e1a08" stroke-width="1.15" stroke-linejoin="round"/>
<polygon points="628.8,1927.5 650.4,1924.5 628.2,1911.7 606.6,1915.1" fill="#ff611d" stroke="#1e1a08" stroke-width="1.15" stroke-linejoin="round"/>
<polygon points="319.3,1918.9 342.9,1909.9 322.8,1908.2 299.3,1917.6" fill="#ff754d" stroke="#1e1a08" stroke-width="1.15" stroke-linejoin="round"/>
<polygon points="783.4,1986.6 804,1986.2 781.1,1967.2 760.5,1967.9" fill="#f6e100" stroke="#1e1a08" stroke-width="1.15" stroke-linejoin="round"/>
<polygon points="584.6,1918.9 606.6,1915.1 584.6,1903.9 562.6,1908.1" fill="#ff5326" stroke="#1e1a08" stroke-width="1.15" stroke-linejoin="round"/>
<polygon points="363.4,1912.7 386.7,1904.6 366.2,1901.4 342.9,1909.9" fill="#ff6549" stroke="#1e1a08" stroke-width="1.15" stroke-linejoin="round"/>
<polygon points="540.3,1912.8 562.6,1908.1 540.9,1898.5 518.6,1903.5" fill="#ff4c2f" stroke="#1e1a08" stroke-width="1.15" stroke-linejoin="round"/>
<polygon points="407.5,1909 430.6,1901.8 409.8,1897 386.7,1904.6" fill="#ff5845" stroke="#1e1a08" stroke-width="1.15" stroke-linejoin="round"/>
<polygon points="496,1909.1 518.6,1903.5 497.2,1895.6 474.6,1901.4" fill="#ff4b37" stroke="#1e1a08" stroke-width="1.15" stroke-linejoin="round"/>
<polygon points="451.7,1907.8 474.6,1901.4 453.5,1895.1 430.6,1901.8" fill="#ff4f3f" stroke="#1e1a08" stroke-width="1.15" stroke-linejoin="round"/>
<polygon points="739.6,1969.1 760.5,1967.9 737.7,1950.6 716.8,1952.1" fill="#ffb702" stroke="#1e1a08" stroke-width="1.15" stroke-linejoin="round"/>
<polygon points="850.3,2028.1 870.3,2028.6 847.2,2006.7 827,2006.4" fill="#9ce700" stroke="#1e1a08" stroke-width="1.15" stroke-linejoin="round"/>
<polygon points="695.5,1954 716.8,1952.1 694.1,1936.4 672.8,1938.6" fill="#ff900d" stroke="#1e1a08" stroke-width="1.15" stroke-linejoin="round"/>
<polygon points="806.6,2006.6 827,2006.4 804,1986.2 783.4,1986.6" fill="#def000" stroke="#1e1a08" stroke-width="1.15" stroke-linejoin="round"/>
<polygon points="651.2,1941.3 672.8,1938.6 650.4,1924.5 628.8,1927.5" fill="#ff7317" stroke="#1e1a08" stroke-width="1.15" stroke-linejoin="round"/>
<polygon points="295.5,1928.5 319.3,1918.9 299.3,1917.6 275.5,1927.5" fill="#ff7f4f" stroke="#1e1a08" stroke-width="1.15" stroke-linejoin="round"/>
<polygon points="606.8,1931.1 628.8,1927.5 606.6,1915.1 584.6,1918.9" fill="#ff5f21" stroke="#1e1a08" stroke-width="1.15" stroke-linejoin="round"/>
<polygon points="339.7,1921.5 363.4,1912.7 342.9,1909.9 319.3,1918.9" fill="#ff6e4c" stroke="#1e1a08" stroke-width="1.15" stroke-linejoin="round"/>
<polygon points="762.6,1987.5 783.4,1986.6 760.5,1967.9 739.6,1969.1" fill="#f9d500" stroke="#1e1a08" stroke-width="1.15" stroke-linejoin="round"/>
<polygon points="562.3,1923.3 584.6,1918.9 562.6,1908.1 540.3,1912.8" fill="#ff542b" stroke="#1e1a08" stroke-width="1.15" stroke-linejoin="round"/>
<polygon points="384.1,1916.9 407.5,1909 386.7,1904.6 363.4,1912.7" fill="#ff6047" stroke="#1e1a08" stroke-width="1.15" stroke-linejoin="round"/>
<polygon points="517.8,1917.9 540.3,1912.8 518.6,1903.5 496,1909.1" fill="#ff4f33" stroke="#1e1a08" stroke-width="1.15" stroke-linejoin="round"/>
<polygon points="428.6,1914.7 451.7,1907.8 430.6,1901.8 407.5,1909" fill="#ff5642" stroke="#1e1a08" stroke-width="1.15" stroke-linejoin="round"/>
<polygon points="473.2,1915.1 496,1909.1 474.6,1901.4 451.7,1907.8" fill="#ff503b" stroke="#1e1a08" stroke-width="1.15" stroke-linejoin="round"/>
<polygon points="718.4,1970.8 739.6,1969.1 716.8,1952.1 695.5,1954" fill="#ffac07" stroke="#1e1a08" stroke-width="1.15" stroke-linejoin="round"/>
<polygon points="830,2028 850.3,2028.1 827,2006.4 806.6,2006.6" fill="#afea00" stroke="#1e1a08" stroke-width="1.15" stroke-linejoin="round"/>
<polygon points="673.9,1956.4 695.5,1954 672.8,1938.6 651.2,1941.3" fill="#ff8911" stroke="#1e1a08" stroke-width="1.15" stroke-linejoin="round"/>
<polygon points="629.3,1944.5 651.2,1941.3 628.8,1927.5 606.8,1931.1" fill="#ff701c" stroke="#1e1a08" stroke-width="1.15" stroke-linejoin="round"/>
<polygon points="785.9,2007.2 806.6,2006.6 783.4,1986.6 762.6,1987.5" fill="#f0f300" stroke="#1e1a08" stroke-width="1.15" stroke-linejoin="round"/>
<polygon points="315.8,1930.7 339.7,1921.5 319.3,1918.9 295.5,1928.5" fill="#ff774e" stroke="#1e1a08" stroke-width="1.15" stroke-linejoin="round"/>
<polygon points="584.6,1935.1 606.8,1931.1 584.6,1918.9 562.3,1923.3" fill="#ff5f25" stroke="#1e1a08" stroke-width="1.15" stroke-linejoin="round"/>
<polygon points="360.4,1925.2 384.1,1916.9 363.4,1912.7 339.7,1921.5" fill="#ff684a" stroke="#1e1a08" stroke-width="1.15" stroke-linejoin="round"/>
<polygon points="539.8,1928.1 562.3,1923.3 540.3,1912.8 517.8,1917.9" fill="#ff562f" stroke="#1e1a08" stroke-width="1.15" stroke-linejoin="round"/>
<polygon points="405.2,1922.2 428.6,1914.7 407.5,1909 384.1,1916.9" fill="#ff5d45" stroke="#1e1a08" stroke-width="1.15" stroke-linejoin="round"/>
<polygon points="494.9,1923.7 517.8,1917.9 496,1909.1 473.2,1915.1" fill="#ff5337" stroke="#1e1a08" stroke-width="1.15" stroke-linejoin="round"/>
<polygon points="741.5,1988.9 762.6,1987.5 739.6,1969.1 718.4,1970.8" fill="#fccb01" stroke="#1e1a08" stroke-width="1.15" stroke-linejoin="round"/>
<polygon points="450,1921.7 473.2,1915.1 451.7,1907.8 428.6,1914.7" fill="#ff563f" stroke="#1e1a08" stroke-width="1.15" stroke-linejoin="round"/>
<polygon points="696.9,1972.9 718.4,1970.8 695.5,1954 673.9,1956.4" fill="#ffa30b" stroke="#1e1a08" stroke-width="1.15" stroke-linejoin="round"/>
<polygon points="809.3,2028.4 830,2028 806.6,2006.6 785.9,2007.2" fill="#c2ed00" stroke="#1e1a08" stroke-width="1.15" stroke-linejoin="round"/>
<polygon points="652.1,1959.3 673.9,1956.4 651.2,1941.3 629.3,1944.5" fill="#ff8416" stroke="#1e1a08" stroke-width="1.15" stroke-linejoin="round"/>
<polygon points="607.1,1948.3 629.3,1944.5 606.8,1931.1 584.6,1935.1" fill="#ff6d20" stroke="#1e1a08" stroke-width="1.15" stroke-linejoin="round"/>
<polygon points="764.8,2008.3 785.9,2007.2 762.6,1987.5 741.5,1988.9" fill="#f6ec00" stroke="#1e1a08" stroke-width="1.15" stroke-linejoin="round"/>
<polygon points="336.4,1934.2 360.4,1925.2 339.7,1921.5 315.8,1930.7" fill="#ff714d" stroke="#1e1a08" stroke-width="1.15" stroke-linejoin="round"/>
<polygon points="562,1939.6 584.6,1935.1 562.3,1923.3 539.8,1928.1" fill="#ff5f2a" stroke="#1e1a08" stroke-width="1.15" stroke-linejoin="round"/>
<polygon points="381.4,1930.2 405.2,1922.2 384.1,1916.9 360.4,1925.2" fill="#ff6548" stroke="#1e1a08" stroke-width="1.15" stroke-linejoin="round"/>
<polygon points="516.9,1933.5 539.8,1928.1 517.8,1917.9 494.9,1923.7" fill="#ff5833" stroke="#1e1a08" stroke-width="1.15" stroke-linejoin="round"/>
<polygon points="426.5,1928.8 450,1921.7 428.6,1914.7 405.2,1922.2" fill="#ff5c42" stroke="#1e1a08" stroke-width="1.15" stroke-linejoin="round"/>
<polygon points="471.7,1929.9 494.9,1923.7 473.2,1915.1 450,1921.7" fill="#ff583b" stroke="#1e1a08" stroke-width="1.15" stroke-linejoin="round"/>
<polygon points="720.1,1990.7 741.5,1988.9 718.4,1970.8 696.9,1972.9" fill="#ffc205" stroke="#1e1a08" stroke-width="1.15" stroke-linejoin="round"/>
<polygon points="675.1,1975.5 696.9,1972.9 673.9,1956.4 652.1,1959.3" fill="#ff9c10" stroke="#1e1a08" stroke-width="1.15" stroke-linejoin="round"/>
<polygon points="788.4,2029.2 809.3,2028.4 785.9,2007.2 764.8,2008.3" fill="#d3f000" stroke="#1e1a08" stroke-width="1.15" stroke-linejoin="round"/>
<polygon points="629.9,1962.8 652.1,1959.3 629.3,1944.5 607.1,1948.3" fill="#ff801a" stroke="#1e1a08" stroke-width="1.15" stroke-linejoin="round"/>
<polygon points="584.6,1952.5 607.1,1948.3 584.6,1935.1 562,1939.6" fill="#ff6c24" stroke="#1e1a08" stroke-width="1.15" stroke-linejoin="round"/>
<polygon points="743.4,2009.9 764.8,2008.3 741.5,1988.9 720.1,1990.7" fill="#f9e200" stroke="#1e1a08" stroke-width="1.15" stroke-linejoin="round"/>
<polygon points="539.2,1944.7 562,1939.6 539.8,1928.1 516.9,1933.5" fill="#ff612e" stroke="#1e1a08" stroke-width="1.15" stroke-linejoin="round"/>
<polygon points="357.4,1938.8 381.4,1930.2 360.4,1925.2 336.4,1934.2" fill="#ff6d4b" stroke="#1e1a08" stroke-width="1.15" stroke-linejoin="round"/>
<polygon points="493.7,1939.5 516.9,1933.5 494.9,1923.7 471.7,1929.9" fill="#ff5c36" stroke="#1e1a08" stroke-width="1.15" stroke-linejoin="round"/>
<polygon points="402.8,1936.5 426.5,1928.8 405.2,1922.2 381.4,1930.2" fill="#ff6345" stroke="#1e1a08" stroke-width="1.15" stroke-linejoin="round"/>
<polygon points="448.2,1936.7 471.7,1929.9 450,1921.7 426.5,1928.8" fill="#ff5d3e" stroke="#1e1a08" stroke-width="1.15" stroke-linejoin="round"/>
<polygon points="698.3,1993 720.1,1990.7 696.9,1972.9 675.1,1975.5" fill="#ffb90a" stroke="#1e1a08" stroke-width="1.15" stroke-linejoin="round"/>
<polygon points="652.9,1978.6 675.1,1975.5 652.1,1959.3 629.9,1962.8" fill="#ff9614" stroke="#1e1a08" stroke-width="1.15" stroke-linejoin="round"/>
<polygon points="607.4,1966.7 629.9,1962.8 607.1,1948.3 584.6,1952.5" fill="#ff7d1f" stroke="#1e1a08" stroke-width="1.15" stroke-linejoin="round"/>
<polygon points="767.1,2030.5 788.4,2029.2 764.8,2008.3 743.4,2009.9" fill="#e4f400" stroke="#1e1a08" stroke-width="1.15" stroke-linejoin="round"/>
<polygon points="561.7,1957.2 584.6,1952.5 562,1939.6 539.2,1944.7" fill="#ff6d29" stroke="#1e1a08" stroke-width="1.15" stroke-linejoin="round"/>
<polygon points="516,1950.3 539.2,1944.7 516.9,1933.5 493.7,1939.5" fill="#ff6432" stroke="#1e1a08" stroke-width="1.15" stroke-linejoin="round"/>
<polygon points="378.7,1944.8 402.8,1936.5 381.4,1930.2 357.4,1938.8" fill="#ff6b48" stroke="#1e1a08" stroke-width="1.15" stroke-linejoin="round"/>
<polygon points="470.2,1945.9 493.7,1939.5 471.7,1929.9 448.2,1936.7" fill="#ff613a" stroke="#1e1a08" stroke-width="1.15" stroke-linejoin="round"/>
<polygon points="721.7,2012 743.4,2009.9 720.1,1990.7 698.3,1993" fill="#fdd904" stroke="#1e1a08" stroke-width="1.15" stroke-linejoin="round"/>
<polygon points="424.4,1944.1 448.2,1936.7 426.5,1928.8 402.8,1936.5" fill="#ff6442" stroke="#1e1a08" stroke-width="1.15" stroke-linejoin="round"/>
<polygon points="676.2,1995.9 698.3,1993 675.1,1975.5 652.9,1978.6" fill="#ffb20e" stroke="#1e1a08" stroke-width="1.15" stroke-linejoin="round"/>
<polygon points="630.5,1982.3 652.9,1978.6 629.9,1962.8 607.4,1966.7" fill="#ff9219" stroke="#1e1a08" stroke-width="1.15" stroke-linejoin="round"/>
<polygon points="584.6,1971.1 607.4,1966.7 584.6,1952.5 561.7,1957.2" fill="#ff7c23" stroke="#1e1a08" stroke-width="1.15" stroke-linejoin="round"/>
<polygon points="745.4,2032.3 767.1,2030.5 743.4,2009.9 721.7,2012" fill="#f3f700" stroke="#1e1a08" stroke-width="1.15" stroke-linejoin="round"/>
<polygon points="538.6,1962.5 561.7,1957.2 539.2,1944.7 516,1950.3" fill="#ff6e2d" stroke="#1e1a08" stroke-width="1.15" stroke-linejoin="round"/>
<polygon points="492.5,1956.5 516,1950.3 493.7,1939.5 470.2,1945.9" fill="#ff6836" stroke="#1e1a08" stroke-width="1.15" stroke-linejoin="round"/>
<polygon points="400.4,1952 424.4,1944.1 402.8,1936.5 378.7,1944.8" fill="#ff6b45" stroke="#1e1a08" stroke-width="1.15" stroke-linejoin="round"/>
<polygon points="446.4,1953 470.2,1945.9 448.2,1936.7 424.4,1944.1" fill="#ff673e" stroke="#1e1a08" stroke-width="1.15" stroke-linejoin="round"/>
<polygon points="699.7,2014.5 721.7,2012 698.3,1993 676.2,1995.9" fill="#ffd208" stroke="#1e1a08" stroke-width="1.15" stroke-linejoin="round"/>
<polygon points="653.8,1999.2 676.2,1995.9 652.9,1978.6 630.5,1982.3" fill="#ffac13" stroke="#1e1a08" stroke-width="1.15" stroke-linejoin="round"/>
<polygon points="607.7,1986.4 630.5,1982.3 607.4,1966.7 584.6,1971.1" fill="#ff901d" stroke="#1e1a08" stroke-width="1.15" stroke-linejoin="round"/>
<polygon points="561.4,1976.1 584.6,1971.1 561.7,1957.2 538.6,1962.5" fill="#ff7c27" stroke="#1e1a08" stroke-width="1.15" stroke-linejoin="round"/>
<polygon points="515.1,1968.4 538.6,1962.5 516,1950.3 492.5,1956.5" fill="#ff7131" stroke="#1e1a08" stroke-width="1.15" stroke-linejoin="round"/>
<polygon points="723.5,2034.6 745.4,2032.3 721.7,2012 699.7,2014.5" fill="#faf202" stroke="#1e1a08" stroke-width="1.15" stroke-linejoin="round"/>
<polygon points="468.7,1963.2 492.5,1956.5 470.2,1945.9 446.4,1953" fill="#ff6c3a" stroke="#1e1a08" stroke-width="1.15" stroke-linejoin="round"/>
<polygon points="422.3,1960.6 446.4,1953 424.4,1944.1 400.4,1952" fill="#ff6d41" stroke="#1e1a08" stroke-width="1.15" stroke-linejoin="round"/>
<polygon points="677.3,2017.6 699.7,2014.5 676.2,1995.9 653.8,1999.2" fill="#ffca0d" stroke="#1e1a08" stroke-width="1.15" stroke-linejoin="round"/>
<polygon points="631,2003.1 653.8,1999.2 630.5,1982.3 607.7,1986.4" fill="#ffa717" stroke="#1e1a08" stroke-width="1.15" stroke-linejoin="round"/>
<polygon points="584.5,1991.1 607.7,1986.4 584.6,1971.1 561.4,1976.1" fill="#ff8e22" stroke="#1e1a08" stroke-width="1.15" stroke-linejoin="round"/>
<polygon points="537.9,1981.7 561.4,1976.1 538.6,1962.5 515.1,1968.4" fill="#ff7e2c" stroke="#1e1a08" stroke-width="1.15" stroke-linejoin="round"/>
<polygon points="491.3,1974.8 515.1,1968.4 492.5,1956.5 468.7,1963.2" fill="#ff7535" stroke="#1e1a08" stroke-width="1.15" stroke-linejoin="round"/>
<polygon points="444.6,1970.5 468.7,1963.2 446.4,1953 422.3,1960.6" fill="#ff723d" stroke="#1e1a08" stroke-width="1.15" stroke-linejoin="round"/>
<polygon points="701.2,2037.4 723.5,2034.6 699.7,2014.5 677.3,2017.6" fill="#fdeb07" stroke="#1e1a08" stroke-width="1.15" stroke-linejoin="round"/>
<polygon points="654.7,2021.2 677.3,2017.6 653.8,1999.2 631,2003.1" fill="#ffc311" stroke="#1e1a08" stroke-width="1.15" stroke-linejoin="round"/>
<polygon points="607.9,2007.5 631,2003.1 607.7,1986.4 584.5,1991.1" fill="#ffa41c" stroke="#1e1a08" stroke-width="1.15" stroke-linejoin="round"/>
<polygon points="561.1,1996.3 584.5,1991.1 561.4,1976.1 537.9,1981.7" fill="#ff8e26" stroke="#1e1a08" stroke-width="1.15" stroke-linejoin="round"/>
<polygon points="514.1,1987.8 537.9,1981.7 515.1,1968.4 491.3,1974.8" fill="#ff8030" stroke="#1e1a08" stroke-width="1.15" stroke-linejoin="round"/>
<polygon points="467.1,1981.8 491.3,1974.8 468.7,1963.2 444.6,1970.5" fill="#ff7939" stroke="#1e1a08" stroke-width="1.15" stroke-linejoin="round"/>
<polygon points="678.5,2040.7 701.2,2037.4 677.3,2017.6 654.7,2021.2" fill="#ffe40b" stroke="#1e1a08" stroke-width="1.15" stroke-linejoin="round"/>
<polygon points="631.6,2025.3 654.7,2021.2 631,2003.1 607.9,2007.5" fill="#ffbe16" stroke="#1e1a08" stroke-width="1.15" stroke-linejoin="round"/>
<polygon points="584.5,2012.4 607.9,2007.5 584.5,1991.1 561.1,1996.3" fill="#ffa220" stroke="#1e1a08" stroke-width="1.15" stroke-linejoin="round"/>
<polygon points="537.3,2002.1 561.1,1996.3 537.9,1981.7 514.1,1987.8" fill="#ff8f2a" stroke="#1e1a08" stroke-width="1.15" stroke-linejoin="round"/>
<polygon points="490,1994.4 514.1,1987.8 491.3,1974.8 467.1,1981.8" fill="#ff8434" stroke="#1e1a08" stroke-width="1.15" stroke-linejoin="round"/>
<polygon points="655.5,2044.5 678.5,2040.7 654.7,2021.2 631.6,2025.3" fill="#ffdd10" stroke="#1e1a08" stroke-width="1.15" stroke-linejoin="round"/>
<polygon points="608.2,2029.9 631.6,2025.3 607.9,2007.5 584.5,2012.4" fill="#ffbb1a" stroke="#1e1a08" stroke-width="1.15" stroke-linejoin="round"/>
<polygon points="560.8,2017.9 584.5,2012.4 561.1,1996.3 537.3,2002.1" fill="#ffa224" stroke="#1e1a08" stroke-width="1.15" stroke-linejoin="round"/>
<polygon points="513.2,2008.5 537.3,2002.1 514.1,1987.8 490,1994.4" fill="#ff912e" stroke="#1e1a08" stroke-width="1.15" stroke-linejoin="round"/>
<polygon points="632.2,2048.9 655.5,2044.5 631.6,2025.3 608.2,2029.9" fill="#ffd814" stroke="#1e1a08" stroke-width="1.15" stroke-linejoin="round"/>
<polygon points="584.5,2035.1 608.2,2029.9 584.5,2012.4 560.8,2017.9" fill="#ffb91f" stroke="#1e1a08" stroke-width="1.15" stroke-linejoin="round"/>
<polygon points="536.7,2024 560.8,2017.9 537.3,2002.1 513.2,2008.5" fill="#ffa329" stroke="#1e1a08" stroke-width="1.15" stroke-linejoin="round"/>
<polygon points="608.5,2053.8 632.2,2048.9 608.2,2029.9 584.5,2035.1" fill="#ffd418" stroke="#1e1a08" stroke-width="1.15" stroke-linejoin="round"/>
<polygon points="560.4,2040.9 584.5,2035.1 560.8,2017.9 536.7,2024" fill="#ffb823" stroke="#1e1a08" stroke-width="1.15" stroke-linejoin="round"/>
<polygon points="584.5,2059.3 608.5,2053.8 584.5,2035.1 560.4,2040.9" fill="#ffd21d" stroke="#1e1a08" stroke-width="1.15" stroke-linejoin="round"/>
<ellipse cx="584.7" cy="1864.5" rx="8.6" ry="10.2" fill="#c00404" stroke="#4a0000" stroke-width="1.8"/>
<circle cx="177.3" cy="2224.3" r="4.1" fill="#000"/>
<circle cx="173.4" cy="2151.5" r="4.1" fill="#000"/>
<circle cx="169.6" cy="2078.7" r="4.1" fill="#000"/>
<circle cx="165.8" cy="2005.8" r="4.1" fill="#000"/>
<circle cx="162" cy="1933" r="4.1" fill="#000"/>
<circle cx="158.1" cy="1860.1" r="4.1" fill="#000"/>
<circle cx="183.3" cy="2338.5" r="4.1" fill="#000"/>
<circle cx="283.5" cy="2380.3" r="4.1" fill="#000"/>
<circle cx="383.7" cy="2422.1" r="4.1" fill="#000"/>
<circle cx="484" cy="2463.9" r="4.1" fill="#000"/>
<circle cx="584.2" cy="2505.7" r="4.1" fill="#000"/>
<circle cx="684.7" cy="2463.8" r="4.1" fill="#000"/>
<circle cx="785.2" cy="2421.9" r="4.1" fill="#000"/>
<circle cx="885.7" cy="2380" r="4.1" fill="#000"/>
<circle cx="986.1" cy="2338.1" r="4.1" fill="#000"/>
</g>
<defs><radialGradient id="g1" gradientUnits="userSpaceOnUse" cx="0" cy="0" r="6.408" gradientTransform="matrix(92.67710 -14.32887 -14.32887 136.22380 1629.43 450.23)"><stop offset="0.0000" stop-color="#ff0c00"/><stop offset="0.1125" stop-color="#ff1200"/><stop offset="0.1591" stop-color="#ff1800"/><stop offset="0.1949" stop-color="#ff1f00"/><stop offset="0.2250" stop-color="#ff2500"/><stop offset="0.2516" stop-color="#ff2b00"/><stop offset="0.2756" stop-color="#ff3200"/><stop offset="0.2977" stop-color="#ff3800"/><stop offset="0.3182" stop-color="#ff3e00"/><stop offset="0.3375" stop-color="#ff4500"/><stop offset="0.3558" stop-color="#ff4b00"/><stop offset="0.3731" stop-color="#ff5100"/><stop offset="0.3897" stop-color="#ff5800"/><stop offset="0.4057" stop-color="#ff5e00"/><stop offset="0.4210" stop-color="#ff6400"/><stop offset="0.4357" stop-color="#ff6a00"/><stop offset="0.4500" stop-color="#ff7100"/><stop offset="0.4639" stop-color="#ff7700"/><stop offset="0.4773" stop-color="#ff7d00"/><stop offset="0.4904" stop-color="#ff8400"/><stop offset="0.5032" stop-color="#ff8a00"/><stop offset="0.5156" stop-color="#ff9000"/><stop offset="0.5277" stop-color="#ff9700"/><stop offset="0.5396" stop-color="#ff9d00"/><stop offset="0.5512" stop-color="#ffa300"/><stop offset="0.5625" stop-color="#ffaa00"/><stop offset="0.5737" stop-color="#ffb000"/><stop offset="0.5846" stop-color="#ffb600"/><stop offset="0.5953" stop-color="#ffbd00"/><stop offset="0.6059" stop-color="#ffc300"/><stop offset="0.6162" stop-color="#ffc900"/><stop offset="0.6264" stop-color="#ffcf00"/><stop offset="0.6364" stop-color="#ffd600"/><stop offset="0.6463" stop-color="#ffdc00"/><stop offset="0.6560" stop-color="#ffe200"/><stop offset="0.6656" stop-color="#ffe900"/><stop offset="0.6751" stop-color="#ffef00"/><stop offset="0.6844" stop-color="#fff500"/><stop offset="0.6936" stop-color="#fffc00"/><stop offset="0.7026" stop-color="#fcff00"/><stop offset="0.7116" stop-color="#f6ff00"/><stop offset="0.7204" stop-color="#efff00"/><stop offset="0.7291" stop-color="#e9ff00"/><stop offset="0.7378" stop-color="#e3ff00"/><stop offset="0.7463" stop-color="#ddff00"/><stop offset="0.7547" stop-color="#d6ff00"/><stop offset="0.7631" stop-color="#d0ff00"/><stop offset="0.7713" stop-color="#caff00"/><stop offset="0.7795" stop-color="#c3ff00"/><stop offset="0.7876" stop-color="#bdff00"/><stop offset="0.7956" stop-color="#b7ff00"/><stop offset="0.8035" stop-color="#b0ff00"/><stop offset="0.8113" stop-color="#aaff00"/><stop offset="0.8191" stop-color="#a4ff00"/><stop offset="0.8268" stop-color="#9dff00"/><stop offset="0.8344" stop-color="#97ff00"/><stop offset="0.8419" stop-color="#91ff00"/><stop offset="0.8494" stop-color="#8bff00"/><stop offset="0.8568" stop-color="#84ff00"/><stop offset="0.8642" stop-color="#7eff00"/><stop offset="0.8715" stop-color="#78ff00"/><stop offset="0.8787" stop-color="#71ff00"/><stop offset="0.8859" stop-color="#6bff00"/><stop offset="0.8930" stop-color="#65ff00"/><stop offset="0.9001" stop-color="#5eff00"/><stop offset="0.9071" stop-color="#58ff00"/><stop offset="0.9140" stop-color="#52ff00"/><stop offset="0.9209" stop-color="#4bff00"/><stop offset="0.9278" stop-color="#45ff00"/><stop offset="0.9346" stop-color="#3fff00"/><stop offset="0.9413" stop-color="#38ff00"/><stop offset="0.9480" stop-color="#32ff00"/><stop offset="0.9547" stop-color="#2cff00"/><stop offset="0.9613" stop-color="#26ff00"/><stop offset="0.9678" stop-color="#1fff00"/><stop offset="0.9744" stop-color="#19ff00"/><stop offset="0.9808" stop-color="#13ff00"/><stop offset="0.9873" stop-color="#0cff00"/><stop offset="0.9937" stop-color="#06ff00"/><stop offset="1.0000" stop-color="#00ff00"/></radialGradient>
<clipPath id="c1"><rect x="1182" y="66.3" width="732.2" height="636.7"/></clipPath></defs>
<rect x="1182" y="66.3" width="732.2" height="636.7" fill="url(#g1)"/>
<g clip-path="url(#c1)" fill="none" stroke="#1c1c1c" stroke-width="1.35">
<path d="M2190 363.6 L2188.4 378 L2186.6 392.4 L2184.7 406.8 L2182.6 421.2 L2180.3 435.7 L2177.9 450.2 L2175.2 464.6 L2172.5 479.1 L2169.5 493.5 L2166.4 508 L2163.1 522.4 L2159.7 536.8 L2156.1 551.1 L2152.4 565.5 L2148.4 579.8 L2144.4 594 L2140.1 608.2 L2135.8 622.4 L2131.2 636.5 L2126.5 650.6 L2121.7 664.6 L2116.7 678.5 L2111.6 692.4 L2106.3 706.2 L2100.8 719.9 L2095.3 733.5 L2089.5 747.1 L2083.7 760.5 L2077.7 773.9 L2071.5 787.1 L2065.3 800.3 L2058.9 813.4 L2052.3 826.3 L2045.7 839.1 L2038.9 851.8 L2032 864.4 L2024.9 876.9 L2017.8 889.2 L2010.5 901.4 L2003.1 913.5 L1995.6 925.4 L1988 937.1 L1980.3 948.8 L1972.5 960.2 L1964.5 971.6 L1956.5 982.7 L1948.3 993.7 L1940.1 1004.5 L1931.8 1015.2 L1923.4 1025.7 L1914.8 1036 L1906.2 1046.1 L1897.6 1056.1 L1888.8 1065.9 L1880 1075.5 L1871 1084.8 L1862 1094 L1853 1103 L1843.8 1111.8 L1834.6 1120.5 L1825.4 1128.8 L1816.1 1137 L1806.7 1145 L1797.3 1152.8 L1787.8 1160.3 L1778.2 1167.7 L1768.7 1174.8 L1759.1 1181.7 L1749.4 1188.4 L1739.7 1194.8 L1730 1201.1 L1720.2 1207.1 L1710.4 1212.8 L1700.6 1218.4 L1690.8 1223.7 L1680.9 1228.7 L1671.1 1233.6 L1661.2 1238.1 L1651.3 1242.5 L1641.4 1246.6 L1631.5 1250.5 L1621.6 1254.1 L1611.7 1257.5 L1601.8 1260.6 L1591.9 1263.5 L1582.1 1266.1 L1572.2 1268.5 L1562.4 1270.6 L1552.6 1272.5 L1542.8 1274.2 L1533 1275.6 L1523.2 1276.7 L1513.5 1277.6 L1503.9 1278.2 L1494.2 1278.6 L1484.6 1278.7 L1475.1 1278.6 L1465.6 1278.2 L1456.1 1277.6 L1446.7 1276.7 L1437.4 1275.6 L1428.1 1274.2 L1418.9 1272.6 L1409.7 1270.7 L1400.6 1268.5 L1391.6 1266.1 L1382.7 1263.5 L1373.8 1260.6 L1365 1257.5 L1356.3 1254.1 L1347.6 1250.5 L1339.1 1246.6 L1330.6 1242.5 L1322.3 1238.2 L1314 1233.6 L1305.8 1228.8 L1297.7 1223.7 L1289.7 1218.4 L1281.9 1212.9 L1274.1 1207.1 L1266.4 1201.1 L1258.9 1194.9 L1251.4 1188.4 L1244.1 1181.8 L1236.9 1174.9 L1229.8 1167.8 L1222.9 1160.4 L1216 1152.9 L1209.3 1145.1 L1202.7 1137.1 L1196.3 1128.9 L1189.9 1120.5 L1183.7 1111.9 L1177.7 1103.1 L1171.8 1094.1 L1166 1084.9 L1160.4 1075.5 L1154.9 1066 L1149.5 1056.2 L1144.3 1046.2 L1139.3 1036.1 L1134.3 1025.8 L1129.6 1015.3 L1125 1004.6 L1120.5 993.8 L1116.2 982.8 L1112.1 971.7 L1108.1 960.4 L1104.3 948.9 L1100.6 937.3 L1097.1 925.5 L1093.8 913.6 L1090.6 901.5 L1087.6 889.3 L1084.8 877 L1082.1 864.5 L1079.6 851.9 L1077.2 839.2 L1075 826.4 L1073 813.5 L1071.2 800.4 L1069.5 787.3 L1068 774 L1066.7 760.6 L1065.5 747.2 L1064.6 733.7 L1063.7 720 L1063.1 706.3 L1062.6 692.5 L1062.3 678.7 L1062.2 664.7 L1062.3 650.7 L1062.5 636.7 L1062.9 622.5 L1063.5 608.4 L1064.2 594.2 L1065.1 579.9 L1066.2 565.6 L1067.4 551.3 L1068.9 536.9 L1070.5 522.5 L1072.2 508.1 L1074.2 493.7 L1076.3 479.2 L1078.6 464.8 L1081 450.3 L1083.6 435.8 L1086.4 421.4 L1089.3 406.9 L1092.4 392.5 L1095.7 378.1 L1099.1 363.7 L1102.7 349.3 L1106.5 335 L1110.4 320.7 L1114.5 306.4 L1118.7 292.2 L1123.1 278 L1127.6 263.9 L1132.3 249.9 L1137.2 235.9 L1142.2 221.9 L1147.3 208.1 L1152.6 194.3 L1158 180.6 L1163.6 166.9 L1169.3 153.4 L1175.2 139.9 L1181.2 126.6 L1187.3 113.3 L1193.6 100.2 L1200 87.1 L1206.5 74.2 L1213.2 61.3 L1220 48.6 L1226.9 36 L1233.9 23.6 L1241.1 11.3 L1248.3 -0.9 L1255.7 -13 L1263.2 -24.9 L1270.8 -36.7 L1278.6 -48.3 L1286.4 -59.8 L1294.3 -71.1 L1302.4 -82.3 L1310.5 -93.3 L1318.7 -104.1 L1327.1 -114.8 L1335.5 -125.2 L1344 -135.6 L1352.6 -145.7 L1361.3 -155.6 L1370.1 -165.4 L1378.9 -175 L1387.8 -184.4 L1396.8 -193.6 L1405.9 -202.6 L1415 -211.4 L1424.2 -220 L1433.5 -228.4 L1442.8 -236.6 L1452.2 -244.6 L1461.6 -252.3 L1471.1 -259.9 L1480.6 -267.2 L1490.2 -274.4 L1499.8 -281.3 L1509.5 -287.9 L1519.1 -294.4 L1528.9 -300.6 L1538.6 -306.6 L1548.4 -312.4 L1558.2 -317.9 L1568.1 -323.2 L1577.9 -328.3 L1587.8 -333.1 L1597.7 -337.7 L1607.5 -342 L1617.4 -346.1 L1627.3 -350 L1637.2 -353.6 L1647.1 -357 L1657 -360.1 L1666.9 -363 L1676.8 -365.7 L1686.6 -368 L1696.5 -370.2 L1706.3 -372.1 L1716.1 -373.7 L1725.9 -375.1 L1735.6 -376.2 L1745.3 -377.1 L1755 -377.8 L1764.6 -378.1 L1774.2 -378.3 L1783.8 -378.1 L1793.3 -377.8 L1802.7 -377.1 L1812.1 -376.2 L1821.5 -375.1 L1830.7 -373.7 L1840 -372.1 L1849.1 -370.2 L1858.2 -368.1 L1867.2 -365.7 L1876.2 -363.1 L1885.1 -360.2 L1893.9 -357 L1902.6 -353.7 L1911.2 -350 L1919.8 -346.2 L1928.2 -342.1 L1936.6 -337.7 L1944.9 -333.1 L1953.1 -328.3 L1961.1 -323.3 L1969.1 -318 L1977 -312.4 L1984.8 -306.7 L1992.4 -300.7 L2000 -294.4 L2007.4 -288 L2014.7 -281.3 L2021.9 -274.4 L2029 -267.3 L2036 -260 L2042.8 -252.4 L2049.5 -244.6 L2056.1 -236.7 L2062.6 -228.5 L2068.9 -220.1 L2075.1 -211.5 L2081.2 -202.7 L2087.1 -193.7 L2092.9 -184.5 L2098.5 -175.1 L2104 -165.5 L2109.3 -155.7 L2114.5 -145.8 L2119.6 -135.6 L2124.5 -125.3 L2129.3 -114.8 L2133.9 -104.2 L2138.3 -93.4 L2142.6 -82.4 L2146.7 -71.2 L2150.7 -59.9 L2154.6 -48.4 L2158.2 -36.8 L2161.7 -25 L2165.1 -13.1 L2168.2 -1.1 L2171.2 11.1 L2174.1 23.5 L2176.8 35.9 L2179.3 48.5 L2181.6 61.2 L2183.8 74 L2185.8 87 L2187.7 100 L2189.3 113.2 L2190.8 126.5 L2192.2 139.8 L2193.3 153.3 L2194.3 166.8 L2195.1 180.4 L2195.8 194.1 L2196.2 207.9 L2196.5 221.8 L2196.6 235.7 L2196.6 249.7 L2196.4 263.8 L2196 277.9 L2195.4 292.1 L2194.7 306.3 L2193.7 320.6 L2192.7 334.9 L2191.4 349.2 L2190 363.6 Z"/>
<path d="M2107.3 376.4 L2105.9 388.6 L2104.4 400.9 L2102.7 413.2 L2100.9 425.5 L2099 437.8 L2096.9 450.2 L2094.7 462.5 L2092.3 474.8 L2089.8 487.1 L2087.2 499.4 L2084.4 511.7 L2081.5 524 L2078.4 536.2 L2075.2 548.5 L2071.9 560.7 L2068.4 572.8 L2064.8 584.9 L2061 597 L2057.2 609 L2053.2 621 L2049.1 633 L2044.8 644.8 L2040.4 656.7 L2035.9 668.4 L2031.3 680.1 L2026.5 691.7 L2021.6 703.3 L2016.6 714.7 L2011.5 726.1 L2006.3 737.4 L2001 748.6 L1995.5 759.8 L1989.9 770.8 L1984.3 781.7 L1978.5 792.6 L1972.6 803.3 L1966.6 813.9 L1960.5 824.4 L1954.3 834.8 L1948 845.1 L1941.6 855.3 L1935.1 865.3 L1928.5 875.2 L1921.8 885 L1915.1 894.6 L1908.2 904.1 L1901.3 913.5 L1894.3 922.8 L1887.2 931.8 L1880 940.8 L1872.7 949.6 L1865.4 958.2 L1858 966.7 L1850.5 975 L1843 983.2 L1835.4 991.2 L1827.7 999 L1820 1006.7 L1812.2 1014.2 L1804.4 1021.6 L1796.5 1028.7 L1788.5 1035.7 L1780.5 1042.5 L1772.5 1049.1 L1764.4 1055.6 L1756.3 1061.8 L1748.1 1067.9 L1739.9 1073.8 L1731.7 1079.5 L1723.4 1085 L1715.1 1090.3 L1706.8 1095.4 L1698.5 1100.3 L1690.1 1105 L1681.7 1109.5 L1673.3 1113.9 L1664.9 1118 L1656.5 1121.9 L1648.1 1125.6 L1639.6 1129.1 L1631.2 1132.4 L1622.8 1135.5 L1614.3 1138.4 L1605.9 1141 L1597.5 1143.5 L1589.1 1145.7 L1580.7 1147.8 L1572.3 1149.6 L1563.9 1151.2 L1555.5 1152.6 L1547.2 1153.8 L1538.9 1154.7 L1530.6 1155.5 L1522.4 1156 L1514.2 1156.4 L1506 1156.5 L1497.9 1156.4 L1489.8 1156 L1481.7 1155.5 L1473.7 1154.8 L1465.7 1153.8 L1457.8 1152.6 L1450 1151.2 L1442.1 1149.6 L1434.4 1147.8 L1426.7 1145.7 L1419.1 1143.5 L1411.5 1141 L1404 1138.4 L1396.6 1135.5 L1389.2 1132.4 L1381.9 1129.1 L1374.7 1125.6 L1367.6 1121.9 L1360.5 1118 L1353.6 1113.9 L1346.7 1109.6 L1339.9 1105.1 L1333.1 1100.3 L1326.5 1095.4 L1320 1090.3 L1313.6 1085 L1307.2 1079.5 L1301 1073.8 L1294.8 1067.9 L1288.8 1061.9 L1282.9 1055.6 L1277 1049.2 L1271.3 1042.6 L1265.7 1035.8 L1260.2 1028.8 L1254.8 1021.6 L1249.5 1014.3 L1244.3 1006.8 L1239.3 999.1 L1234.4 991.3 L1229.6 983.3 L1224.9 975.1 L1220.3 966.8 L1215.9 958.3 L1211.6 949.7 L1207.4 940.9 L1203.3 931.9 L1199.4 922.8 L1195.6 913.6 L1192 904.2 L1188.4 894.7 L1185 885.1 L1181.8 875.3 L1178.7 865.4 L1175.7 855.4 L1172.8 845.2 L1170.1 834.9 L1167.6 824.5 L1165.1 814 L1162.9 803.4 L1160.7 792.7 L1158.7 781.8 L1156.9 770.9 L1155.1 759.9 L1153.6 748.8 L1152.1 737.5 L1150.9 726.2 L1149.7 714.8 L1148.7 703.4 L1147.9 691.8 L1147.2 680.2 L1146.7 668.5 L1146.3 656.8 L1146 644.9 L1145.9 633.1 L1146 621.1 L1146.1 609.2 L1146.5 597.1 L1147 585 L1147.6 572.9 L1148.4 560.8 L1149.3 548.6 L1150.4 536.4 L1151.6 524.1 L1153 511.8 L1154.5 499.6 L1156.1 487.2 L1157.9 474.9 L1159.8 462.6 L1161.9 450.3 L1164.2 438 L1166.5 425.6 L1169 413.3 L1171.7 401 L1174.5 388.7 L1177.4 376.5 L1180.5 364.2 L1183.7 352 L1187 339.8 L1190.5 327.6 L1194.1 315.5 L1197.8 303.4 L1201.7 291.4 L1205.7 279.4 L1209.8 267.5 L1214.1 255.6 L1218.4 243.8 L1222.9 232 L1227.6 220.4 L1232.3 208.7 L1237.2 197.2 L1242.2 185.7 L1247.3 174.3 L1252.5 163 L1257.9 151.8 L1263.3 140.7 L1268.9 129.7 L1274.6 118.7 L1280.4 107.9 L1286.3 97.2 L1292.3 86.5 L1298.4 76 L1304.6 65.6 L1310.9 55.4 L1317.3 45.2 L1323.8 35.2 L1330.3 25.3 L1337 15.5 L1343.8 5.8 L1350.6 -3.7 L1357.6 -13.1 L1364.6 -22.3 L1371.7 -31.4 L1378.9 -40.3 L1386.1 -49.1 L1393.5 -57.8 L1400.9 -66.2 L1408.3 -74.6 L1415.9 -82.7 L1423.5 -90.7 L1431.1 -98.6 L1438.9 -106.3 L1446.6 -113.8 L1454.5 -121.1 L1462.4 -128.3 L1470.3 -135.2 L1478.3 -142 L1486.4 -148.7 L1494.4 -155.1 L1502.6 -161.4 L1510.7 -167.4 L1518.9 -173.3 L1527.2 -179 L1535.4 -184.5 L1543.7 -189.8 L1552 -194.9 L1560.4 -199.8 L1568.7 -204.6 L1577.1 -209.1 L1585.5 -213.4 L1593.9 -217.5 L1602.3 -221.4 L1610.8 -225.1 L1619.2 -228.6 L1627.6 -231.9 L1636.1 -235 L1644.5 -237.9 L1653 -240.6 L1661.4 -243 L1669.8 -245.3 L1678.2 -247.3 L1686.6 -249.1 L1695 -250.7 L1703.3 -252.1 L1711.6 -253.3 L1719.9 -254.3 L1728.2 -255 L1736.5 -255.6 L1744.7 -255.9 L1752.8 -256 L1761 -255.9 L1769.1 -255.6 L1777.1 -255 L1785.2 -254.3 L1793.1 -253.3 L1801 -252.1 L1808.9 -250.8 L1816.7 -249.1 L1824.5 -247.3 L1832.2 -245.3 L1839.8 -243 L1847.4 -240.6 L1854.8 -237.9 L1862.3 -235 L1869.6 -232 L1876.9 -228.7 L1884.1 -225.2 L1891.3 -221.5 L1898.3 -217.6 L1905.3 -213.4 L1912.2 -209.1 L1919 -204.6 L1925.7 -199.9 L1932.3 -195 L1938.9 -189.9 L1945.3 -184.6 L1951.6 -179.1 L1957.9 -173.4 L1964 -167.5 L1970.1 -161.4 L1976 -155.2 L1981.8 -148.7 L1987.6 -142.1 L1993.2 -135.3 L1998.7 -128.3 L2004.1 -121.2 L2009.3 -113.8 L2014.5 -106.3 L2019.6 -98.7 L2024.5 -90.8 L2029.3 -82.8 L2034 -74.6 L2038.5 -66.3 L2043 -57.8 L2047.3 -49.2 L2051.5 -40.4 L2055.5 -31.5 L2059.4 -22.4 L2063.2 -13.1 L2066.9 -3.8 L2070.4 5.7 L2073.8 15.4 L2077.1 25.2 L2080.2 35.1 L2083.2 45.1 L2086 55.3 L2088.7 65.5 L2091.3 75.9 L2093.7 86.4 L2096 97.1 L2098.1 107.8 L2100.1 118.6 L2102 129.6 L2103.7 140.6 L2105.3 151.7 L2106.7 162.9 L2108 174.2 L2109.1 185.6 L2110.1 197.1 L2110.9 208.6 L2111.6 220.2 L2112.2 231.9 L2112.6 243.7 L2112.8 255.5 L2112.9 267.4 L2112.9 279.3 L2112.7 291.3 L2112.4 303.3 L2111.9 315.4 L2111.3 327.5 L2110.5 339.7 L2109.6 351.9 L2108.5 364.1 L2107.3 376.4 Z"/>
<path d="M2006.8 391.9 L2005.8 401.6 L2004.6 411.3 L2003.3 421 L2001.8 430.7 L2000.3 440.4 L1998.7 450.2 L1996.9 459.9 L1995 469.7 L1993.1 479.4 L1991 489.1 L1988.8 498.8 L1986.5 508.5 L1984 518.2 L1981.5 527.8 L1978.9 537.4 L1976.1 547 L1973.3 556.6 L1970.3 566.2 L1967.3 575.7 L1964.1 585.1 L1960.9 594.6 L1957.5 603.9 L1954 613.3 L1950.5 622.6 L1946.8 631.8 L1943.1 641 L1939.2 650.1 L1935.3 659.1 L1931.2 668.1 L1927.1 677.1 L1922.9 685.9 L1918.6 694.7 L1914.2 703.4 L1909.7 712.1 L1905.1 720.6 L1900.5 729.1 L1895.7 737.5 L1890.9 745.8 L1886 754 L1881 762.1 L1876 770.1 L1870.9 778.1 L1865.7 785.9 L1860.4 793.6 L1855 801.2 L1849.6 808.7 L1844.1 816.2 L1838.6 823.4 L1833 830.6 L1827.3 837.7 L1821.6 844.6 L1815.8 851.5 L1810 858.2 L1804.1 864.7 L1798.1 871.2 L1792.1 877.5 L1786 883.7 L1779.9 889.8 L1773.8 895.7 L1767.6 901.5 L1761.4 907.1 L1755.1 912.6 L1748.8 918 L1742.4 923.3 L1736 928.3 L1729.6 933.3 L1723.2 938.1 L1716.7 942.7 L1710.2 947.2 L1703.7 951.6 L1697.1 955.8 L1690.6 959.8 L1684 963.7 L1677.4 967.4 L1670.7 971 L1664.1 974.4 L1657.5 977.6 L1650.8 980.7 L1644.2 983.7 L1637.5 986.4 L1630.8 989 L1624.2 991.5 L1617.5 993.7 L1610.8 995.8 L1604.2 997.8 L1597.5 999.6 L1590.9 1001.2 L1584.3 1002.6 L1577.7 1003.9 L1571.1 1005 L1564.5 1005.9 L1557.9 1006.7 L1551.4 1007.3 L1544.9 1007.7 L1538.4 1008 L1531.9 1008 L1525.5 1008 L1519.1 1007.7 L1512.8 1007.3 L1506.4 1006.7 L1500.1 1005.9 L1493.9 1005 L1487.7 1003.9 L1481.5 1002.6 L1475.4 1001.2 L1469.3 999.6 L1463.3 997.8 L1457.3 995.9 L1451.4 993.8 L1445.5 991.5 L1439.7 989 L1433.9 986.4 L1428.2 983.7 L1422.6 980.8 L1417 977.7 L1411.5 974.4 L1406.1 971 L1400.7 967.4 L1395.4 963.7 L1390.2 959.8 L1385 955.8 L1379.9 951.6 L1374.9 947.3 L1370 942.8 L1365.2 938.1 L1360.4 933.3 L1355.7 928.4 L1351.1 923.3 L1346.6 918.1 L1342.1 912.7 L1337.8 907.2 L1333.5 901.5 L1329.4 895.7 L1325.3 889.8 L1321.3 883.8 L1317.4 877.6 L1313.6 871.2 L1309.9 864.8 L1306.3 858.2 L1302.8 851.5 L1299.4 844.7 L1296.1 837.7 L1292.9 830.7 L1289.8 823.5 L1286.8 816.2 L1283.9 808.8 L1281.1 801.3 L1278.4 793.7 L1275.9 786 L1273.4 778.1 L1271 770.2 L1268.8 762.2 L1266.7 754.1 L1264.6 745.9 L1262.7 737.6 L1260.9 729.2 L1259.2 720.7 L1257.6 712.1 L1256.2 703.5 L1254.8 694.8 L1253.6 686 L1252.5 677.2 L1251.4 668.2 L1250.6 659.2 L1249.8 650.2 L1249.1 641.1 L1248.6 631.9 L1248.1 622.6 L1247.8 613.4 L1247.6 604 L1247.5 594.6 L1247.6 585.2 L1247.7 575.8 L1248 566.2 L1248.4 556.7 L1248.9 547.1 L1249.5 537.5 L1250.2 527.9 L1251.1 518.3 L1252 508.6 L1253.1 498.9 L1254.3 489.2 L1255.6 479.5 L1257 469.7 L1258.5 460 L1260.2 450.3 L1261.9 440.5 L1263.8 430.8 L1265.8 421.1 L1267.9 411.4 L1270.1 401.7 L1272.4 392 L1274.8 382.3 L1277.3 372.6 L1280 363 L1282.7 353.4 L1285.6 343.8 L1288.5 334.3 L1291.6 324.8 L1294.7 315.3 L1298 305.9 L1301.4 296.5 L1304.8 287.2 L1308.4 277.9 L1312 268.7 L1315.8 259.5 L1319.6 250.4 L1323.6 241.3 L1327.6 232.3 L1331.8 223.4 L1336 214.5 L1340.3 205.7 L1344.7 197 L1349.2 188.4 L1353.7 179.8 L1358.4 171.4 L1363.1 163 L1367.9 154.7 L1372.8 146.5 L1377.8 138.3 L1382.9 130.3 L1388 122.4 L1393.2 114.6 L1398.5 106.8 L1403.8 99.2 L1409.2 91.7 L1414.7 84.3 L1420.3 77 L1425.9 69.8 L1431.5 62.8 L1437.3 55.8 L1443.1 49 L1448.9 42.3 L1454.8 35.7 L1460.8 29.3 L1466.8 23 L1472.8 16.8 L1478.9 10.7 L1485.1 4.8 L1491.3 -1 L1497.5 -6.7 L1503.8 -12.2 L1510.1 -17.6 L1516.4 -22.8 L1522.8 -27.9 L1529.2 -32.8 L1535.7 -37.6 L1542.1 -42.3 L1548.7 -46.8 L1555.2 -51.1 L1561.7 -55.3 L1568.3 -59.3 L1574.9 -63.2 L1581.5 -66.9 L1588.1 -70.5 L1594.7 -73.9 L1601.4 -77.2 L1608 -80.3 L1614.7 -83.2 L1621.4 -86 L1628 -88.6 L1634.7 -91 L1641.3 -93.3 L1648 -95.4 L1654.7 -97.3 L1661.3 -99.1 L1667.9 -100.7 L1674.6 -102.1 L1681.2 -103.4 L1687.8 -104.5 L1694.4 -105.5 L1700.9 -106.2 L1707.5 -106.8 L1714 -107.2 L1720.5 -107.5 L1726.9 -107.6 L1733.3 -107.5 L1739.7 -107.2 L1746.1 -106.8 L1752.4 -106.2 L1758.7 -105.5 L1765 -104.5 L1771.2 -103.4 L1777.3 -102.2 L1783.5 -100.7 L1789.5 -99.1 L1795.6 -97.3 L1801.5 -95.4 L1807.5 -93.3 L1813.3 -91 L1819.2 -88.6 L1824.9 -86 L1830.6 -83.2 L1836.2 -80.3 L1841.8 -77.2 L1847.3 -74 L1852.8 -70.5 L1858.1 -67 L1863.4 -63.3 L1868.7 -59.4 L1873.8 -55.3 L1878.9 -51.1 L1883.9 -46.8 L1888.8 -42.3 L1893.7 -37.7 L1898.5 -32.9 L1903.2 -27.9 L1907.8 -22.8 L1912.3 -17.6 L1916.7 -12.2 L1921.1 -6.7 L1925.3 -1.1 L1929.5 4.7 L1933.6 10.6 L1937.6 16.7 L1941.4 22.9 L1945.2 29.2 L1948.9 35.7 L1952.5 42.2 L1956 48.9 L1959.5 55.8 L1962.8 62.7 L1966 69.8 L1969.1 76.9 L1972.1 84.2 L1974.9 91.6 L1977.7 99.2 L1980.4 106.8 L1983 114.5 L1985.5 122.3 L1987.8 130.2 L1990.1 138.3 L1992.2 146.4 L1994.2 154.6 L1996.1 162.9 L1997.9 171.3 L1999.6 179.8 L2001.2 188.3 L2002.7 196.9 L2004 205.7 L2005.3 214.4 L2006.4 223.3 L2007.4 232.2 L2008.3 241.2 L2009.1 250.3 L2009.7 259.4 L2010.3 268.6 L2010.7 277.8 L2011 287.1 L2011.2 296.4 L2011.3 305.8 L2011.3 315.2 L2011.1 324.7 L2010.9 334.2 L2010.5 343.7 L2010 353.3 L2009.4 362.9 L2008.6 372.6 L2007.8 382.2 L2006.8 391.9 Z"/>
<path d="M1867.2 413.5 L1866.5 419.6 L1865.8 425.7 L1865 431.8 L1864.1 437.9 L1863.1 444.1 L1862.1 450.2 L1861 456.3 L1859.8 462.5 L1858.5 468.6 L1857.2 474.7 L1855.8 480.8 L1854.4 486.9 L1852.9 493 L1851.3 499.1 L1849.6 505.2 L1847.9 511.2 L1846.1 517.3 L1844.2 523.3 L1842.3 529.3 L1840.3 535.2 L1838.3 541.2 L1836.1 547.1 L1834 553 L1831.7 558.8 L1829.4 564.6 L1827 570.4 L1824.6 576.2 L1822.1 581.9 L1819.6 587.5 L1817 593.2 L1814.3 598.7 L1811.6 604.3 L1808.8 609.8 L1806 615.2 L1803.1 620.6 L1800.2 625.9 L1797.2 631.2 L1794.2 636.5 L1791.1 641.6 L1788 646.7 L1784.8 651.8 L1781.5 656.8 L1778.3 661.7 L1774.9 666.6 L1771.6 671.4 L1768.2 676.1 L1764.7 680.8 L1761.2 685.4 L1757.7 689.9 L1754.1 694.4 L1750.5 698.7 L1746.9 703 L1743.2 707.3 L1739.5 711.4 L1735.7 715.5 L1731.9 719.4 L1728.1 723.4 L1724.3 727.2 L1720.4 730.9 L1716.5 734.6 L1712.6 738.1 L1708.6 741.6 L1704.6 745 L1700.6 748.3 L1696.6 751.5 L1692.6 754.6 L1688.5 757.6 L1684.4 760.5 L1680.3 763.4 L1676.2 766.1 L1672.1 768.8 L1667.9 771.3 L1663.8 773.7 L1659.6 776.1 L1655.5 778.3 L1651.3 780.5 L1647.1 782.5 L1642.9 784.5 L1638.7 786.3 L1634.5 788.1 L1630.3 789.7 L1626.1 791.2 L1621.9 792.7 L1617.7 794 L1613.5 795.2 L1609.3 796.3 L1605.2 797.4 L1601 798.3 L1596.8 799.1 L1592.7 799.8 L1588.5 800.4 L1584.4 800.8 L1580.3 801.2 L1576.2 801.5 L1572.1 801.6 L1568 801.7 L1564 801.6 L1559.9 801.5 L1555.9 801.2 L1551.9 800.8 L1548 800.4 L1544 799.8 L1540.1 799.1 L1536.2 798.3 L1532.4 797.4 L1528.5 796.4 L1524.7 795.2 L1521 794 L1517.2 792.7 L1513.5 791.3 L1509.9 789.7 L1506.3 788.1 L1502.7 786.3 L1499.1 784.5 L1495.6 782.6 L1492.1 780.5 L1488.7 778.4 L1485.3 776.1 L1482 773.8 L1478.7 771.3 L1475.4 768.8 L1472.2 766.1 L1469.1 763.4 L1466 760.6 L1462.9 757.6 L1459.9 754.6 L1457 751.5 L1454.1 748.3 L1451.2 745 L1448.4 741.6 L1445.7 738.1 L1443 734.6 L1440.4 730.9 L1437.8 727.2 L1435.3 723.4 L1432.8 719.5 L1430.4 715.5 L1428.1 711.4 L1425.8 707.3 L1423.6 703.1 L1421.5 698.8 L1419.4 694.4 L1417.4 689.9 L1415.4 685.4 L1413.5 680.8 L1411.7 676.2 L1410 671.4 L1408.3 666.6 L1406.7 661.8 L1405.1 656.8 L1403.6 651.8 L1402.2 646.8 L1400.9 641.7 L1399.6 636.5 L1398.4 631.3 L1397.2 626 L1396.2 620.6 L1395.2 615.3 L1394.2 609.8 L1393.4 604.3 L1392.6 598.8 L1391.9 593.2 L1391.3 587.6 L1390.7 581.9 L1390.2 576.2 L1389.8 570.5 L1389.5 564.7 L1389.2 558.9 L1389 553 L1388.9 547.1 L1388.8 541.2 L1388.8 535.3 L1388.9 529.3 L1389.1 523.3 L1389.3 517.3 L1389.6 511.3 L1390 505.2 L1390.5 499.2 L1391 493.1 L1391.6 487 L1392.3 480.9 L1393.1 474.8 L1393.9 468.7 L1394.8 462.5 L1395.7 456.4 L1396.8 450.3 L1397.9 444.1 L1399.1 438 L1400.3 431.9 L1401.6 425.7 L1403 419.6 L1404.5 413.5 L1406 407.4 L1407.6 401.3 L1409.2 395.3 L1411 389.2 L1412.8 383.2 L1414.6 377.2 L1416.6 371.2 L1418.5 365.2 L1420.6 359.3 L1422.7 353.4 L1424.9 347.5 L1427.1 341.6 L1429.4 335.8 L1431.8 330 L1434.2 324.3 L1436.7 318.6 L1439.3 312.9 L1441.9 307.3 L1444.5 301.7 L1447.2 296.2 L1450 290.7 L1452.8 285.3 L1455.7 279.9 L1458.7 274.5 L1461.6 269.2 L1464.7 264 L1467.8 258.8 L1470.9 253.7 L1474.1 248.7 L1477.3 243.7 L1480.6 238.7 L1483.9 233.9 L1487.3 229.1 L1490.7 224.3 L1494.1 219.7 L1497.6 215.1 L1501.2 210.6 L1504.7 206.1 L1508.3 201.7 L1512 197.4 L1515.7 193.2 L1519.4 189.1 L1523.1 185 L1526.9 181 L1530.7 177.1 L1534.6 173.3 L1538.5 169.6 L1542.4 165.9 L1546.3 162.3 L1550.2 158.9 L1554.2 155.5 L1558.2 152.2 L1562.2 149 L1566.3 145.9 L1570.4 142.8 L1574.4 139.9 L1578.5 137.1 L1582.6 134.3 L1586.8 131.7 L1590.9 129.2 L1595.1 126.7 L1599.2 124.4 L1603.4 122.1 L1607.6 120 L1611.8 117.9 L1615.9 116 L1620.1 114.1 L1624.3 112.4 L1628.5 110.7 L1632.7 109.2 L1636.9 107.8 L1641.1 106.5 L1645.3 105.2 L1649.5 104.1 L1653.7 103.1 L1657.9 102.2 L1662 101.4 L1666.2 100.7 L1670.3 100.1 L1674.5 99.6 L1678.6 99.2 L1682.7 99 L1686.8 98.8 L1690.8 98.8 L1694.9 98.8 L1698.9 99 L1702.9 99.2 L1706.9 99.6 L1710.9 100.1 L1714.8 100.7 L1718.7 101.4 L1722.6 102.2 L1726.5 103.1 L1730.3 104.1 L1734.1 105.2 L1737.9 106.4 L1741.6 107.8 L1745.3 109.2 L1749 110.7 L1752.6 112.4 L1756.2 114.1 L1759.7 116 L1763.2 117.9 L1766.7 120 L1770.1 122.1 L1773.5 124.3 L1776.9 126.7 L1780.2 129.1 L1783.4 131.7 L1786.6 134.3 L1789.8 137.1 L1792.9 139.9 L1795.9 142.8 L1798.9 145.8 L1801.9 149 L1804.8 152.2 L1807.7 155.5 L1810.4 158.8 L1813.2 162.3 L1815.9 165.9 L1818.5 169.5 L1821.1 173.3 L1823.6 177.1 L1826 181 L1828.4 185 L1830.7 189 L1833 193.2 L1835.2 197.4 L1837.4 201.7 L1839.5 206.1 L1841.5 210.5 L1843.4 215 L1845.3 219.6 L1847.1 224.3 L1848.9 229 L1850.6 233.8 L1852.2 238.7 L1853.8 243.6 L1855.2 248.6 L1856.7 253.7 L1858 258.8 L1859.3 264 L1860.5 269.2 L1861.6 274.5 L1862.7 279.8 L1863.7 285.2 L1864.6 290.6 L1865.5 296.1 L1866.2 301.7 L1866.9 307.2 L1867.6 312.9 L1868.1 318.5 L1868.6 324.2 L1869.1 330 L1869.4 335.8 L1869.7 341.6 L1869.9 347.4 L1870 353.3 L1870.1 359.2 L1870 365.2 L1869.9 371.1 L1869.8 377.1 L1869.5 383.1 L1869.2 389.2 L1868.8 395.2 L1868.4 401.3 L1867.8 407.4 L1867.2 413.5 Z"/>
</g>
<rect x="1182" y="66.3" width="732.2" height="636.7" fill="none" stroke="#3a3a3a" stroke-width="1.7"/>
<line x1="1182" y1="703" x2="1182" y2="718" stroke="#3a3a3a" stroke-width="1.7"/>
<line x1="1165" y1="66.3" x2="1182" y2="66.3" stroke="#3a3a3a" stroke-width="1.7"/>
<line x1="1365" y1="703" x2="1365" y2="718" stroke="#3a3a3a" stroke-width="1.7"/>
<line x1="1165" y1="225.5" x2="1182" y2="225.5" stroke="#3a3a3a" stroke-width="1.7"/>
<line x1="1548.1" y1="703" x2="1548.1" y2="718" stroke="#3a3a3a" stroke-width="1.7"/>
<line x1="1165" y1="384.7" x2="1182" y2="384.7" stroke="#3a3a3a" stroke-width="1.7"/>
<line x1="1731.2" y1="703" x2="1731.2" y2="718" stroke="#3a3a3a" stroke-width="1.7"/>
<line x1="1165" y1="543.8" x2="1182" y2="543.8" stroke="#3a3a3a" stroke-width="1.7"/>
<line x1="1914.2" y1="703" x2="1914.2" y2="718" stroke="#3a3a3a" stroke-width="1.7"/>
<line x1="1165" y1="703" x2="1182" y2="703" stroke="#3a3a3a" stroke-width="1.7"/>
<rect x="1188.4" y="77.1" width="20.4" height="12.7" fill="#fff" stroke="#3a2c22" stroke-width="1.4"/>
<text x="1198.6" y="86.5" font-family="Liberation Sans, sans-serif" font-size="9.6" fill="#3a3a3a" text-anchor="middle">60</text>
<rect x="1224.3" y="188.6" width="21.1" height="12.5" fill="#fff" stroke="#3a2c22" stroke-width="1.4"/>
<text x="1234.8" y="197.8" font-family="Liberation Sans, sans-serif" font-size="9.6" fill="#3a3a3a" text-anchor="middle">70</text>
<rect x="1273.4" y="331.5" width="21.5" height="13.2" fill="#fff" stroke="#3a2c22" stroke-width="1.4"/>
<text x="1284.2" y="341.4" font-family="Liberation Sans, sans-serif" font-size="9.6" fill="#3a3a3a" text-anchor="middle">80</text>
<rect x="1666" y="86.2" width="21.5" height="12.8" fill="#fff" stroke="#3a2c22" stroke-width="1.4"/>
<text x="1676.8" y="95.7" font-family="Liberation Sans, sans-serif" font-size="9.6" fill="#3a3a3a" text-anchor="middle">90</text>
<ellipse cx="1547.6" cy="384.7" rx="6.3" ry="5.6" fill="#b80404" stroke="#4a0000" stroke-width="1.2"/>
<text x="1529.6" y="387.2" font-family="Liberation Sans, sans-serif" font-size="7" fill="#222">6</text>
<defs><radialGradient id="g2" gradientUnits="userSpaceOnUse" cx="0" cy="0" r="7.752" gradientTransform="matrix(93.65982 10.66954 10.66954 84.89860 1621.93 1165.86)"><stop offset="0.0000" stop-color="#ff0000"/><stop offset="0.1125" stop-color="#ff0900"/><stop offset="0.1591" stop-color="#ff1300"/><stop offset="0.1949" stop-color="#ff1c00"/><stop offset="0.2250" stop-color="#ff2500"/><stop offset="0.2516" stop-color="#ff2e00"/><stop offset="0.2756" stop-color="#ff3800"/><stop offset="0.2977" stop-color="#ff4100"/><stop offset="0.3182" stop-color="#ff4a00"/><stop offset="0.3375" stop-color="#ff5300"/><stop offset="0.3558" stop-color="#ff5d00"/><stop offset="0.3731" stop-color="#ff6600"/><stop offset="0.3897" stop-color="#ff6f00"/><stop offset="0.4057" stop-color="#ff7800"/><stop offset="0.4210" stop-color="#ff8200"/><stop offset="0.4357" stop-color="#ff8b00"/><stop offset="0.4500" stop-color="#ff9400"/><stop offset="0.4639" stop-color="#ff9d00"/><stop offset="0.4773" stop-color="#ffa600"/><stop offset="0.4904" stop-color="#ffb000"/><stop offset="0.5032" stop-color="#ffb900"/><stop offset="0.5156" stop-color="#ffc200"/><stop offset="0.5277" stop-color="#ffcb00"/><stop offset="0.5396" stop-color="#ffd500"/><stop offset="0.5512" stop-color="#ffde00"/><stop offset="0.5625" stop-color="#ffe700"/><stop offset="0.5737" stop-color="#fff000"/><stop offset="0.5846" stop-color="#fffa00"/><stop offset="0.5953" stop-color="#fbff00"/><stop offset="0.6059" stop-color="#f2ff00"/><stop offset="0.6162" stop-color="#e9ff00"/><stop offset="0.6264" stop-color="#e0ff00"/><stop offset="0.6364" stop-color="#d6ff00"/><stop offset="0.6463" stop-color="#cdff00"/><stop offset="0.6560" stop-color="#c4ff00"/><stop offset="0.6656" stop-color="#bbff00"/><stop offset="0.6751" stop-color="#b1ff00"/><stop offset="0.6844" stop-color="#a8ff00"/><stop offset="0.6936" stop-color="#9fff00"/><stop offset="0.7026" stop-color="#96ff00"/><stop offset="0.7116" stop-color="#8cff00"/><stop offset="0.7204" stop-color="#83ff00"/><stop offset="0.7291" stop-color="#7aff00"/><stop offset="0.7378" stop-color="#71ff00"/><stop offset="0.7463" stop-color="#67ff00"/><stop offset="0.7547" stop-color="#5eff00"/><stop offset="0.7631" stop-color="#55ff00"/><stop offset="0.7713" stop-color="#4cff00"/><stop offset="0.7795" stop-color="#43ff00"/><stop offset="0.7876" stop-color="#39ff00"/><stop offset="0.7956" stop-color="#30ff00"/><stop offset="0.8035" stop-color="#27ff00"/><stop offset="0.8113" stop-color="#1eff00"/><stop offset="0.8191" stop-color="#14ff00"/><stop offset="0.8268" stop-color="#0bff00"/><stop offset="0.8344" stop-color="#02ff00"/><stop offset="0.8419" stop-color="#00ff07"/><stop offset="0.8494" stop-color="#00ff11"/><stop offset="0.8568" stop-color="#00ff1a"/><stop offset="0.8642" stop-color="#00ff23"/><stop offset="0.8715" stop-color="#00ff2c"/><stop offset="0.8787" stop-color="#00ff36"/><stop offset="0.8859" stop-color="#00ff3f"/><stop offset="0.8930" stop-color="#00ff48"/><stop offset="0.9001" stop-color="#00ff51"/><stop offset="0.9071" stop-color="#00ff5a"/><stop offset="0.9140" stop-color="#00ff64"/><stop offset="0.9209" stop-color="#00ff6d"/><stop offset="0.9278" stop-color="#00ff76"/><stop offset="0.9346" stop-color="#00ff7f"/><stop offset="0.9413" stop-color="#00ff89"/><stop offset="0.9480" stop-color="#00ff92"/><stop offset="0.9547" stop-color="#00ff9b"/><stop offset="0.9613" stop-color="#00ffa4"/><stop offset="0.9678" stop-color="#00ffae"/><stop offset="0.9744" stop-color="#00ffb7"/><stop offset="0.9808" stop-color="#00ffc0"/><stop offset="0.9873" stop-color="#00ffc9"/><stop offset="0.9937" stop-color="#00ffd3"/><stop offset="1.0000" stop-color="#00ffdc"/></radialGradient>
<clipPath id="c2"><rect x="1182.6" y="938.2" width="739.7" height="641.8"/></clipPath></defs>
<rect x="1182.6" y="938.2" width="739.7" height="641.8" fill="url(#g2)"/>
<g clip-path="url(#c2)" fill="none" stroke="#1c1c1c" stroke-width="1.35">
<path d="M2332.4 1246.8 L2333.7 1258 L2334.8 1269.2 L2335.7 1280.4 L2336.3 1291.5 L2336.8 1302.6 L2337 1313.7 L2337 1324.7 L2336.7 1335.6 L2336.3 1346.5 L2335.7 1357.4 L2334.8 1368.2 L2333.7 1378.9 L2332.4 1389.6 L2330.9 1400.2 L2329.1 1410.7 L2327.2 1421.2 L2325 1431.6 L2322.6 1441.8 L2320 1452.1 L2317.2 1462.2 L2314.2 1472.2 L2311 1482.2 L2307.5 1492 L2303.9 1501.7 L2300 1511.4 L2296 1520.9 L2291.7 1530.4 L2287.2 1539.7 L2282.6 1548.9 L2277.7 1558 L2272.6 1566.9 L2267.3 1575.8 L2261.9 1584.5 L2256.2 1593.1 L2250.3 1601.6 L2244.3 1609.9 L2238 1618.1 L2231.6 1626.1 L2225 1634.1 L2218.2 1641.8 L2211.2 1649.5 L2204.1 1656.9 L2196.7 1664.3 L2189.2 1671.4 L2181.5 1678.5 L2173.7 1685.3 L2165.7 1692.1 L2157.5 1698.6 L2149.1 1705 L2140.6 1711.2 L2131.9 1717.3 L2123.1 1723.2 L2114.1 1728.9 L2105 1734.5 L2095.7 1739.8 L2086.3 1745 L2076.8 1750.1 L2067.1 1754.9 L2057.2 1759.6 L2047.3 1764.1 L2037.2 1768.4 L2026.9 1772.5 L2016.6 1776.4 L2006.1 1780.2 L1995.5 1783.7 L1984.8 1787.1 L1974 1790.3 L1963.1 1793.3 L1952.1 1796.1 L1941 1798.7 L1929.8 1801.1 L1918.5 1803.4 L1907.1 1805.4 L1895.6 1807.2 L1884 1808.9 L1872.3 1810.3 L1860.6 1811.6 L1848.8 1812.6 L1836.9 1813.5 L1825 1814.1 L1813 1814.6 L1801 1814.9 L1788.8 1814.9 L1776.7 1814.8 L1764.5 1814.5 L1752.2 1814 L1739.9 1813.2 L1727.6 1812.3 L1715.3 1811.2 L1702.9 1809.9 L1690.5 1808.4 L1678 1806.7 L1665.6 1804.8 L1653.1 1802.7 L1640.6 1800.4 L1628.2 1797.9 L1615.7 1795.2 L1603.2 1792.3 L1590.7 1789.3 L1578.3 1786 L1565.8 1782.6 L1553.4 1779 L1541 1775.2 L1528.6 1771.2 L1516.2 1767 L1503.9 1762.6 L1491.6 1758.1 L1479.4 1753.3 L1467.1 1748.4 L1455 1743.4 L1442.9 1738.1 L1430.8 1732.7 L1418.8 1727.1 L1406.9 1721.3 L1395 1715.3 L1383.2 1709.2 L1371.5 1702.9 L1359.8 1696.5 L1348.3 1689.9 L1336.8 1683.1 L1325.4 1676.2 L1314.1 1669.1 L1302.9 1661.9 L1291.7 1654.5 L1280.7 1647 L1269.8 1639.3 L1259 1631.5 L1248.3 1623.5 L1237.7 1615.4 L1227.2 1607.2 L1216.9 1598.8 L1206.7 1590.3 L1196.6 1581.7 L1186.6 1572.9 L1176.8 1564 L1167.1 1555 L1157.5 1545.9 L1148.1 1536.6 L1138.8 1527.3 L1129.7 1517.8 L1120.7 1508.3 L1111.9 1498.6 L1103.2 1488.8 L1094.7 1478.9 L1086.4 1469 L1078.2 1458.9 L1070.2 1448.7 L1062.3 1438.5 L1054.6 1428.2 L1047.1 1417.8 L1039.8 1407.3 L1032.6 1396.7 L1025.6 1386.1 L1018.8 1375.4 L1012.2 1364.7 L1005.8 1353.9 L999.6 1343 L993.5 1332.1 L987.7 1321.1 L982 1310.1 L976.5 1299 L971.2 1287.9 L966.2 1276.8 L961.3 1265.6 L956.6 1254.4 L952.1 1243.1 L947.9 1231.9 L943.8 1220.6 L940 1209.3 L936.3 1198 L932.9 1186.7 L929.6 1175.3 L926.6 1164 L923.8 1152.7 L921.2 1141.4 L918.8 1130 L916.7 1118.7 L914.7 1107.5 L913 1096.2 L911.5 1084.9 L910.2 1073.7 L909.1 1062.5 L908.2 1051.3 L907.5 1040.2 L907.1 1029.1 L906.9 1018.1 L906.9 1007 L907.1 996.1 L907.5 985.2 L908.2 974.3 L909.1 963.5 L910.2 952.8 L911.5 942.1 L913 931.5 L914.7 921 L916.7 910.5 L918.8 900.2 L921.2 889.9 L923.8 879.7 L926.6 869.5 L929.6 859.5 L932.9 849.6 L936.3 839.7 L940 830 L943.8 820.3 L947.9 810.8 L952.2 801.4 L956.6 792.1 L961.3 782.9 L966.2 773.8 L971.3 764.8 L976.5 756 L982 747.2 L987.7 738.6 L993.5 730.2 L999.6 721.8 L1005.8 713.6 L1012.2 705.6 L1018.9 697.7 L1025.7 689.9 L1032.6 682.3 L1039.8 674.8 L1047.1 667.5 L1054.6 660.3 L1062.3 653.2 L1070.2 646.4 L1078.2 639.7 L1086.4 633.1 L1094.7 626.7 L1103.2 620.5 L1111.9 614.4 L1120.7 608.5 L1129.7 602.8 L1138.8 597.3 L1148.1 591.9 L1157.5 586.7 L1167.1 581.7 L1176.8 576.8 L1186.6 572.2 L1196.6 567.7 L1206.7 563.4 L1216.9 559.2 L1227.3 555.3 L1237.7 551.6 L1248.3 548 L1259 544.6 L1269.8 541.4 L1280.7 538.4 L1291.8 535.6 L1302.9 533 L1314.1 530.6 L1325.4 528.4 L1336.8 526.3 L1348.3 524.5 L1359.9 522.8 L1371.5 521.4 L1383.2 520.2 L1395 519.1 L1406.9 518.2 L1418.9 517.6 L1430.8 517.1 L1442.9 516.9 L1455 516.8 L1467.2 516.9 L1479.4 517.2 L1491.6 517.8 L1503.9 518.5 L1516.2 519.4 L1528.6 520.5 L1541 521.9 L1553.4 523.4 L1565.8 525.1 L1578.3 527 L1590.8 529.1 L1603.2 531.4 L1615.7 533.8 L1628.2 536.5 L1640.7 539.4 L1653.1 542.4 L1665.6 545.7 L1678 549.1 L1690.5 552.8 L1702.9 556.6 L1715.3 560.6 L1727.6 564.7 L1740 569.1 L1752.3 573.7 L1764.5 578.4 L1776.7 583.3 L1788.9 588.4 L1801 593.6 L1813 599.1 L1825 604.7 L1837 610.4 L1848.8 616.4 L1860.6 622.5 L1872.4 628.8 L1884 635.2 L1895.6 641.8 L1907.1 648.6 L1918.5 655.5 L1929.8 662.6 L1941 669.8 L1952.1 677.2 L1963.1 684.7 L1974.1 692.4 L1984.9 700.2 L1995.6 708.2 L2006.1 716.3 L2016.6 724.5 L2027 732.9 L2037.2 741.4 L2047.3 750.1 L2057.2 758.8 L2067.1 767.7 L2076.8 776.7 L2086.3 785.8 L2095.8 795.1 L2105 804.4 L2114.2 813.9 L2123.1 823.5 L2132 833.1 L2140.6 842.9 L2149.1 852.8 L2157.5 862.8 L2165.7 872.8 L2173.7 883 L2181.6 893.2 L2189.2 903.5 L2196.7 913.9 L2204.1 924.4 L2211.2 935 L2218.2 945.6 L2225 956.3 L2231.6 967 L2238.1 977.9 L2244.3 988.7 L2250.3 999.7 L2256.2 1010.6 L2261.9 1021.7 L2267.3 1032.7 L2272.6 1043.8 L2277.7 1055 L2282.6 1066.1 L2287.2 1077.4 L2291.7 1088.6 L2296 1099.9 L2300 1111.1 L2303.9 1122.4 L2307.6 1133.7 L2311 1145.1 L2314.2 1156.4 L2317.2 1167.7 L2320 1179 L2322.6 1190.4 L2325 1201.7 L2327.2 1213 L2329.1 1224.3 L2330.9 1235.5 L2332.4 1246.8 Z"/>
<path d="M2267.7 1239.4 L2268.9 1249.6 L2269.9 1259.8 L2270.7 1270 L2271.3 1280.1 L2271.7 1290.2 L2271.9 1300.2 L2271.9 1310.2 L2271.7 1320.2 L2271.3 1330.1 L2270.7 1340 L2269.9 1349.8 L2268.9 1359.5 L2267.7 1369.2 L2266.3 1378.9 L2264.8 1388.4 L2263 1397.9 L2261 1407.4 L2258.8 1416.7 L2256.5 1426 L2253.9 1435.2 L2251.2 1444.3 L2248.3 1453.4 L2245.1 1462.3 L2241.8 1471.2 L2238.3 1479.9 L2234.6 1488.6 L2230.7 1497.2 L2226.7 1505.6 L2222.4 1514 L2218 1522.3 L2213.4 1530.4 L2208.6 1538.5 L2203.6 1546.4 L2198.5 1554.2 L2193.1 1561.9 L2187.6 1569.5 L2182 1576.9 L2176.1 1584.2 L2170.1 1591.4 L2163.9 1598.5 L2157.6 1605.4 L2151.1 1612.2 L2144.4 1618.9 L2137.6 1625.4 L2130.6 1631.8 L2123.5 1638.1 L2116.2 1644.2 L2108.7 1650.1 L2101.1 1655.9 L2093.4 1661.6 L2085.5 1667.1 L2077.5 1672.4 L2069.3 1677.6 L2061 1682.7 L2052.6 1687.6 L2044 1692.3 L2035.4 1696.9 L2026.5 1701.3 L2017.6 1705.5 L2008.5 1709.6 L1999.4 1713.5 L1990.1 1717.3 L1980.7 1720.8 L1971.1 1724.2 L1961.5 1727.5 L1951.8 1730.6 L1942 1733.5 L1932.1 1736.2 L1922 1738.7 L1911.9 1741.1 L1901.7 1743.3 L1891.5 1745.3 L1881.1 1747.2 L1870.7 1748.8 L1860.1 1750.3 L1849.5 1751.7 L1838.9 1752.8 L1828.2 1753.7 L1817.4 1754.5 L1806.5 1755.1 L1795.6 1755.5 L1784.7 1755.8 L1773.7 1755.8 L1762.6 1755.7 L1751.5 1755.4 L1740.4 1755 L1729.2 1754.3 L1718 1753.5 L1706.8 1752.4 L1695.5 1751.2 L1684.2 1749.9 L1672.9 1748.3 L1661.6 1746.6 L1650.3 1744.7 L1638.9 1742.6 L1627.6 1740.3 L1616.2 1737.9 L1604.9 1735.3 L1593.6 1732.5 L1582.2 1729.6 L1570.9 1726.5 L1559.6 1723.2 L1548.3 1719.7 L1537.1 1716.1 L1525.8 1712.3 L1514.6 1708.3 L1503.5 1704.2 L1492.3 1699.9 L1481.2 1695.4 L1470.2 1690.8 L1459.2 1686 L1448.2 1681.1 L1437.3 1676 L1426.5 1670.7 L1415.7 1665.3 L1405 1659.8 L1394.3 1654 L1383.7 1648.2 L1373.2 1642.2 L1362.7 1636 L1352.4 1629.7 L1342.1 1623.3 L1331.9 1616.7 L1321.8 1610 L1311.8 1603.2 L1301.9 1596.2 L1292 1589.1 L1282.3 1581.9 L1272.7 1574.5 L1263.2 1567 L1253.8 1559.4 L1244.5 1551.7 L1235.3 1543.8 L1226.2 1535.8 L1217.3 1527.8 L1208.5 1519.6 L1199.8 1511.3 L1191.2 1502.9 L1182.8 1494.4 L1174.5 1485.8 L1166.4 1477.1 L1158.3 1468.3 L1150.5 1459.4 L1142.7 1450.4 L1135.1 1441.4 L1127.7 1432.2 L1120.4 1423 L1113.3 1413.7 L1106.3 1404.3 L1099.4 1394.8 L1092.8 1385.3 L1086.3 1375.7 L1079.9 1366.1 L1073.7 1356.4 L1067.7 1346.6 L1061.9 1336.8 L1056.2 1326.9 L1050.7 1316.9 L1045.4 1307 L1040.2 1296.9 L1035.3 1286.9 L1030.5 1276.8 L1025.9 1266.7 L1021.4 1256.5 L1017.2 1246.3 L1013.1 1236.1 L1009.2 1225.9 L1005.5 1215.6 L1002 1205.3 L998.7 1195.1 L995.6 1184.8 L992.7 1174.5 L989.9 1164.2 L987.4 1153.9 L985 1143.6 L982.8 1133.3 L980.9 1123 L979.1 1112.8 L977.5 1102.5 L976.1 1092.3 L975 1082.1 L974 1071.9 L973.2 1061.8 L972.6 1051.6 L972.2 1041.6 L972 1031.5 L972 1021.5 L972.2 1011.5 L972.6 1001.6 L973.2 991.8 L974 982 L975 972.2 L976.1 962.5 L977.5 952.9 L979.1 943.3 L980.9 933.8 L982.8 924.4 L985 915 L987.4 905.7 L989.9 896.5 L992.7 887.4 L995.6 878.4 L998.7 869.4 L1002 860.6 L1005.6 851.8 L1009.2 843.1 L1013.1 834.6 L1017.2 826.1 L1021.4 817.7 L1025.9 809.5 L1030.5 801.3 L1035.3 793.3 L1040.3 785.3 L1045.4 777.5 L1050.7 769.8 L1056.2 762.3 L1061.9 754.8 L1067.7 747.5 L1073.8 740.3 L1079.9 733.2 L1086.3 726.3 L1092.8 719.5 L1099.5 712.8 L1106.3 706.3 L1113.3 699.9 L1120.4 693.7 L1127.7 687.6 L1135.1 681.6 L1142.7 675.8 L1150.5 670.1 L1158.3 664.6 L1166.4 659.3 L1174.5 654.1 L1182.8 649 L1191.3 644.1 L1199.8 639.4 L1208.5 634.9 L1217.3 630.4 L1226.3 626.2 L1235.3 622.1 L1244.5 618.2 L1253.8 614.5 L1263.2 610.9 L1272.7 607.5 L1282.3 604.2 L1292.1 601.2 L1301.9 598.3 L1311.8 595.5 L1321.8 593 L1331.9 590.6 L1342.1 588.4 L1352.4 586.4 L1362.8 584.6 L1373.2 582.9 L1383.7 581.4 L1394.3 580.1 L1405 578.9 L1415.7 578 L1426.5 577.2 L1437.3 576.6 L1448.2 576.2 L1459.2 575.9 L1470.2 575.9 L1481.3 576 L1492.4 576.3 L1503.5 576.8 L1514.7 577.4 L1525.9 578.3 L1537.1 579.3 L1548.4 580.5 L1559.6 581.9 L1570.9 583.4 L1582.3 585.1 L1593.6 587 L1604.9 589.1 L1616.3 591.4 L1627.6 593.8 L1639 596.4 L1650.3 599.2 L1661.6 602.1 L1672.9 605.3 L1684.2 608.6 L1695.5 612 L1706.8 615.7 L1718 619.5 L1729.2 623.4 L1740.4 627.6 L1751.5 631.9 L1762.6 636.3 L1773.7 640.9 L1784.7 645.7 L1795.6 650.7 L1806.5 655.8 L1817.4 661 L1828.2 666.4 L1838.9 672 L1849.6 677.7 L1860.2 683.5 L1870.7 689.5 L1881.1 695.7 L1891.5 702 L1901.8 708.4 L1912 715 L1922.1 721.7 L1932.1 728.5 L1942 735.5 L1951.8 742.6 L1961.5 749.9 L1971.2 757.2 L1980.7 764.7 L1990.1 772.3 L1999.4 780.1 L2008.6 787.9 L2017.6 795.9 L2026.6 804 L2035.4 812.1 L2044.1 820.4 L2052.6 828.8 L2061.1 837.3 L2069.3 845.9 L2077.5 854.6 L2085.5 863.4 L2093.4 872.3 L2101.1 881.3 L2108.7 890.4 L2116.2 899.5 L2123.5 908.7 L2130.6 918 L2137.6 927.4 L2144.4 936.9 L2151.1 946.4 L2157.6 956 L2163.9 965.7 L2170.1 975.4 L2176.1 985.1 L2182 995 L2187.6 1004.9 L2193.1 1014.8 L2198.5 1024.8 L2203.6 1034.8 L2208.6 1044.8 L2213.4 1054.9 L2218 1065.1 L2222.4 1075.2 L2226.7 1085.4 L2230.7 1095.6 L2234.6 1105.9 L2238.3 1116.1 L2241.8 1126.4 L2245.1 1136.7 L2248.3 1147 L2251.2 1157.2 L2253.9 1167.5 L2256.5 1177.8 L2258.9 1188.1 L2261 1198.4 L2263 1208.7 L2264.8 1219 L2266.3 1229.2 L2267.7 1239.4 Z"/>
<path d="M2195.8 1231.2 L2196.9 1240.3 L2197.7 1249.4 L2198.4 1258.4 L2199 1267.4 L2199.3 1276.3 L2199.5 1285.3 L2199.5 1294.1 L2199.3 1303 L2199 1311.8 L2198.4 1320.6 L2197.7 1329.3 L2196.8 1338 L2195.8 1346.6 L2194.6 1355.1 L2193.2 1363.6 L2191.6 1372.1 L2189.8 1380.5 L2187.9 1388.8 L2185.8 1397 L2183.5 1405.2 L2181.1 1413.3 L2178.5 1421.3 L2175.7 1429.3 L2172.8 1437.2 L2169.7 1445 L2166.4 1452.7 L2162.9 1460.3 L2159.3 1467.8 L2155.5 1475.2 L2151.6 1482.6 L2147.5 1489.8 L2143.2 1497 L2138.8 1504 L2134.2 1510.9 L2129.5 1517.8 L2124.6 1524.5 L2119.6 1531.1 L2114.4 1537.6 L2109.1 1544 L2103.6 1550.3 L2097.9 1556.5 L2092.1 1562.5 L2086.2 1568.4 L2080.1 1574.2 L2073.9 1579.9 L2067.6 1585.5 L2061.1 1590.9 L2054.5 1596.2 L2047.8 1601.3 L2040.9 1606.4 L2033.9 1611.3 L2026.8 1616 L2019.5 1620.6 L2012.1 1625.1 L2004.6 1629.5 L1997 1633.7 L1989.3 1637.7 L1981.5 1641.6 L1973.5 1645.4 L1965.5 1649 L1957.3 1652.5 L1949.1 1655.9 L1940.7 1659 L1932.3 1662.1 L1923.7 1664.9 L1915.1 1667.7 L1906.3 1670.2 L1897.5 1672.7 L1888.6 1674.9 L1879.6 1677 L1870.6 1679 L1861.4 1680.8 L1852.2 1682.4 L1843 1683.9 L1833.6 1685.2 L1824.2 1686.4 L1814.7 1687.4 L1805.2 1688.3 L1795.6 1689 L1786 1689.5 L1776.3 1689.9 L1766.5 1690.1 L1756.8 1690.1 L1746.9 1690 L1737.1 1689.8 L1727.2 1689.3 L1717.2 1688.8 L1707.3 1688 L1697.3 1687.1 L1687.3 1686 L1677.3 1684.8 L1667.2 1683.5 L1657.2 1681.9 L1647.1 1680.2 L1637 1678.4 L1627 1676.4 L1616.9 1674.2 L1606.8 1671.9 L1596.7 1669.4 L1586.7 1666.8 L1576.6 1664 L1566.6 1661.1 L1556.5 1658 L1546.5 1654.8 L1536.5 1651.4 L1526.6 1647.9 L1516.7 1644.2 L1506.8 1640.4 L1496.9 1636.4 L1487.1 1632.3 L1477.3 1628.1 L1467.6 1623.7 L1457.9 1619.2 L1448.2 1614.5 L1438.7 1609.7 L1429.1 1604.7 L1419.6 1599.7 L1410.2 1594.5 L1400.9 1589.1 L1391.6 1583.7 L1382.4 1578.1 L1373.3 1572.4 L1364.2 1566.5 L1355.2 1560.6 L1346.3 1554.5 L1337.5 1548.3 L1328.8 1542 L1320.1 1535.5 L1311.6 1529 L1303.1 1522.3 L1294.8 1515.6 L1286.5 1508.7 L1278.4 1501.7 L1270.3 1494.6 L1262.4 1487.5 L1254.5 1480.2 L1246.8 1472.8 L1239.2 1465.4 L1231.7 1457.8 L1224.3 1450.2 L1217.1 1442.4 L1210 1434.6 L1203 1426.7 L1196.1 1418.7 L1189.3 1410.7 L1182.7 1402.5 L1176.2 1394.3 L1169.9 1386.1 L1163.7 1377.7 L1157.6 1369.3 L1151.7 1360.9 L1145.9 1352.4 L1140.3 1343.8 L1134.8 1335.1 L1129.5 1326.5 L1124.3 1317.7 L1119.2 1308.9 L1114.3 1300.1 L1109.6 1291.2 L1105 1282.3 L1100.6 1273.4 L1096.4 1264.4 L1092.3 1255.4 L1088.3 1246.4 L1084.5 1237.4 L1080.9 1228.3 L1077.5 1219.2 L1074.2 1210.1 L1071.1 1200.9 L1068.1 1191.8 L1065.4 1182.7 L1062.7 1173.5 L1060.3 1164.4 L1058 1155.2 L1055.9 1146.1 L1054 1136.9 L1052.3 1127.8 L1050.7 1118.7 L1049.3 1109.6 L1048.1 1100.5 L1047 1091.4 L1046.1 1082.4 L1045.4 1073.4 L1044.9 1064.4 L1044.5 1055.4 L1044.4 1046.5 L1044.4 1037.6 L1044.5 1028.7 L1044.9 1019.9 L1045.4 1011.2 L1046.1 1002.4 L1047 993.8 L1048.1 985.1 L1049.3 976.6 L1050.7 968.1 L1052.3 959.6 L1054 951.3 L1055.9 942.9 L1058 934.7 L1060.3 926.5 L1062.8 918.4 L1065.4 910.4 L1068.1 902.4 L1071.1 894.6 L1074.2 886.8 L1077.5 879.1 L1080.9 871.5 L1084.5 863.9 L1088.3 856.5 L1092.3 849.2 L1096.4 841.9 L1100.6 834.8 L1105 827.7 L1109.6 820.8 L1114.3 813.9 L1119.2 807.2 L1124.3 800.6 L1129.5 794.1 L1134.8 787.7 L1140.3 781.4 L1145.9 775.3 L1151.7 769.2 L1157.6 763.3 L1163.7 757.5 L1169.9 751.8 L1176.3 746.3 L1182.7 740.8 L1189.4 735.5 L1196.1 730.4 L1203 725.4 L1210 720.5 L1217.1 715.7 L1224.4 711.1 L1231.7 706.6 L1239.2 702.3 L1246.8 698.1 L1254.6 694 L1262.4 690.1 L1270.3 686.3 L1278.4 682.7 L1286.5 679.2 L1294.8 675.9 L1303.2 672.7 L1311.6 669.7 L1320.2 666.8 L1328.8 664.1 L1337.5 661.5 L1346.3 659.1 L1355.2 656.8 L1364.2 654.7 L1373.3 652.7 L1382.4 650.9 L1391.6 649.3 L1400.9 647.8 L1410.3 646.5 L1419.7 645.3 L1429.1 644.3 L1438.7 643.5 L1448.3 642.8 L1457.9 642.2 L1467.6 641.9 L1477.3 641.6 L1487.1 641.6 L1496.9 641.7 L1506.8 642 L1516.7 642.4 L1526.6 643 L1536.6 643.7 L1546.6 644.6 L1556.6 645.7 L1566.6 646.9 L1576.6 648.3 L1586.7 649.8 L1596.7 651.5 L1606.8 653.4 L1616.9 655.4 L1627 657.5 L1637.1 659.8 L1647.1 662.3 L1657.2 664.9 L1667.3 667.7 L1677.3 670.6 L1687.3 673.7 L1697.3 676.9 L1707.3 680.3 L1717.3 683.8 L1727.2 687.5 L1737.1 691.3 L1747 695.3 L1756.8 699.4 L1766.6 703.7 L1776.3 708 L1786 712.6 L1795.6 717.2 L1805.2 722 L1814.7 727 L1824.2 732.1 L1833.6 737.3 L1843 742.6 L1852.2 748.1 L1861.5 753.6 L1870.6 759.4 L1879.7 765.2 L1888.6 771.2 L1897.5 777.2 L1906.4 783.4 L1915.1 789.8 L1923.7 796.2 L1932.3 802.7 L1940.7 809.4 L1949.1 816.2 L1957.3 823 L1965.5 830 L1973.5 837.1 L1981.5 844.3 L1989.3 851.5 L1997 858.9 L2004.7 866.4 L2012.1 873.9 L2019.5 881.6 L2026.8 889.3 L2033.9 897.1 L2040.9 905 L2047.8 913 L2054.5 921 L2061.1 929.2 L2067.6 937.4 L2074 945.6 L2080.2 954 L2086.2 962.4 L2092.2 970.8 L2097.9 979.4 L2103.6 988 L2109.1 996.6 L2114.4 1005.3 L2119.6 1014 L2124.6 1022.8 L2129.5 1031.6 L2134.3 1040.5 L2138.8 1049.4 L2143.2 1058.3 L2147.5 1067.3 L2151.6 1076.3 L2155.5 1085.3 L2159.3 1094.4 L2162.9 1103.5 L2166.4 1112.5 L2169.7 1121.7 L2172.8 1130.8 L2175.7 1139.9 L2178.5 1149.1 L2181.1 1158.2 L2183.6 1167.4 L2185.8 1176.5 L2187.9 1185.7 L2189.8 1194.8 L2191.6 1203.9 L2193.2 1213 L2194.6 1222.1 L2195.8 1231.2 Z"/>
<path d="M2113.5 1221.9 L2114.4 1229.6 L2115.1 1237.4 L2115.7 1245.1 L2116.2 1252.8 L2116.5 1260.5 L2116.6 1268.1 L2116.6 1275.7 L2116.5 1283.3 L2116.2 1290.9 L2115.7 1298.4 L2115.1 1305.8 L2114.4 1313.3 L2113.5 1320.6 L2112.4 1328 L2111.2 1335.3 L2109.9 1342.5 L2108.4 1349.7 L2106.7 1356.8 L2104.9 1363.9 L2103 1370.9 L2100.9 1377.8 L2098.6 1384.7 L2096.3 1391.5 L2093.7 1398.2 L2091.1 1404.9 L2088.3 1411.5 L2085.3 1418 L2082.2 1424.5 L2079 1430.8 L2075.6 1437.1 L2072.1 1443.3 L2068.4 1449.5 L2064.7 1455.5 L2060.7 1461.4 L2056.7 1467.3 L2052.5 1473.1 L2048.2 1478.7 L2043.7 1484.3 L2039.2 1489.8 L2034.5 1495.2 L2029.6 1500.4 L2024.7 1505.6 L2019.6 1510.7 L2014.4 1515.6 L2009.1 1520.5 L2003.7 1525.3 L1998.1 1529.9 L1992.4 1534.4 L1986.7 1538.9 L1980.8 1543.2 L1974.8 1547.4 L1968.7 1551.4 L1962.5 1555.4 L1956.1 1559.2 L1949.7 1563 L1943.2 1566.6 L1936.6 1570 L1929.9 1573.4 L1923.1 1576.6 L1916.2 1579.7 L1909.2 1582.7 L1902.1 1585.5 L1895 1588.3 L1887.7 1590.9 L1880.4 1593.3 L1873 1595.7 L1865.5 1597.9 L1858 1599.9 L1850.4 1601.9 L1842.7 1603.7 L1834.9 1605.4 L1827.1 1606.9 L1819.2 1608.3 L1811.2 1609.6 L1803.2 1610.7 L1795.2 1611.7 L1787.1 1612.6 L1778.9 1613.3 L1770.7 1613.9 L1762.4 1614.4 L1754.1 1614.7 L1745.8 1614.9 L1737.4 1614.9 L1729 1614.8 L1720.6 1614.6 L1712.1 1614.2 L1703.6 1613.7 L1695 1613.1 L1686.5 1612.3 L1677.9 1611.4 L1669.3 1610.4 L1660.7 1609.2 L1652.1 1607.9 L1643.5 1606.4 L1634.9 1604.8 L1626.2 1603.1 L1617.6 1601.3 L1609 1599.3 L1600.3 1597.2 L1591.7 1594.9 L1583.1 1592.5 L1574.5 1590 L1565.9 1587.4 L1557.3 1584.6 L1548.8 1581.7 L1540.3 1578.7 L1531.8 1575.6 L1523.3 1572.3 L1514.8 1568.9 L1506.4 1565.4 L1498.1 1561.8 L1489.7 1558 L1481.4 1554.1 L1473.2 1550.1 L1464.9 1546 L1456.8 1541.8 L1448.7 1537.4 L1440.6 1533 L1432.6 1528.4 L1424.7 1523.7 L1416.8 1518.9 L1408.9 1514 L1401.2 1509 L1393.5 1503.9 L1385.9 1498.7 L1378.3 1493.4 L1370.8 1488 L1363.4 1482.5 L1356.1 1476.9 L1348.9 1471.2 L1341.7 1465.4 L1334.6 1459.5 L1327.7 1453.5 L1320.8 1447.5 L1314 1441.3 L1307.2 1435.1 L1300.6 1428.8 L1294.1 1422.4 L1287.7 1415.9 L1281.4 1409.4 L1275.2 1402.7 L1269.1 1396 L1263.1 1389.3 L1257.2 1382.5 L1251.4 1375.6 L1245.7 1368.6 L1240.2 1361.6 L1234.8 1354.5 L1229.4 1347.3 L1224.2 1340.1 L1219.2 1332.9 L1214.2 1325.6 L1209.4 1318.2 L1204.7 1310.9 L1200.1 1303.4 L1195.7 1295.9 L1191.4 1288.4 L1187.2 1280.9 L1183.1 1273.3 L1179.2 1265.6 L1175.4 1258 L1171.8 1250.3 L1168.2 1242.6 L1164.9 1234.8 L1161.6 1227.1 L1158.5 1219.3 L1155.6 1211.5 L1152.8 1203.7 L1150.1 1195.9 L1147.6 1188.1 L1145.2 1180.3 L1143 1172.4 L1140.9 1164.6 L1138.9 1156.7 L1137.2 1148.9 L1135.5 1141.1 L1134 1133.3 L1132.7 1125.5 L1131.5 1117.7 L1130.4 1109.9 L1129.5 1102.1 L1128.7 1094.4 L1128.1 1086.6 L1127.7 1078.9 L1127.4 1071.2 L1127.2 1063.6 L1127.2 1056 L1127.4 1048.4 L1127.7 1040.9 L1128.1 1033.4 L1128.7 1025.9 L1129.5 1018.5 L1130.4 1011.1 L1131.5 1003.7 L1132.7 996.5 L1134 989.2 L1135.5 982 L1137.2 974.9 L1138.9 967.9 L1140.9 960.9 L1143 953.9 L1145.2 947 L1147.6 940.2 L1150.1 933.5 L1152.8 926.8 L1155.6 920.2 L1158.6 913.7 L1161.6 907.2 L1164.9 900.9 L1168.3 894.6 L1171.8 888.4 L1175.4 882.3 L1179.2 876.2 L1183.1 870.3 L1187.2 864.4 L1191.4 858.7 L1195.7 853 L1200.1 847.4 L1204.7 842 L1209.4 836.6 L1214.2 831.3 L1219.2 826.1 L1224.3 821 L1229.5 816.1 L1234.8 811.2 L1240.2 806.5 L1245.8 801.8 L1251.4 797.3 L1257.2 792.9 L1263.1 788.6 L1269.1 784.4 L1275.2 780.3 L1281.4 776.3 L1287.7 772.5 L1294.1 768.8 L1300.6 765.2 L1307.3 761.7 L1314 758.3 L1320.8 755.1 L1327.7 752 L1334.7 749 L1341.7 746.2 L1348.9 743.5 L1356.1 740.9 L1363.5 738.4 L1370.9 736.1 L1378.3 733.9 L1385.9 731.8 L1393.5 729.8 L1401.2 728 L1409 726.4 L1416.8 724.8 L1424.7 723.4 L1432.6 722.1 L1440.6 721 L1448.7 720 L1456.8 719.1 L1465 718.4 L1473.2 717.8 L1481.4 717.4 L1489.7 717 L1498.1 716.9 L1506.5 716.8 L1514.9 716.9 L1523.3 717.1 L1531.8 717.5 L1540.3 718 L1548.8 718.6 L1557.4 719.4 L1565.9 720.3 L1574.5 721.4 L1583.1 722.5 L1591.7 723.9 L1600.4 725.3 L1609 726.9 L1617.6 728.6 L1626.3 730.5 L1634.9 732.4 L1643.5 734.6 L1652.1 736.8 L1660.8 739.2 L1669.4 741.7 L1677.9 744.3 L1686.5 747.1 L1695.1 750 L1703.6 753 L1712.1 756.2 L1720.6 759.4 L1729 762.8 L1737.4 766.3 L1745.8 770 L1754.1 773.7 L1762.4 777.6 L1770.7 781.6 L1778.9 785.7 L1787.1 789.9 L1795.2 794.3 L1803.3 798.8 L1811.3 803.3 L1819.2 808 L1827.1 812.8 L1834.9 817.7 L1842.7 822.7 L1850.4 827.8 L1858 833 L1865.5 838.3 L1873 843.7 L1880.4 849.2 L1887.7 854.8 L1895 860.5 L1902.1 866.3 L1909.2 872.2 L1916.2 878.2 L1923.1 884.3 L1929.9 890.4 L1936.6 896.6 L1943.2 902.9 L1949.7 909.3 L1956.2 915.8 L1962.5 922.4 L1968.7 929 L1974.8 935.7 L1980.8 942.4 L1986.7 949.3 L1992.5 956.2 L1998.1 963.1 L2003.7 970.2 L2009.1 977.2 L2014.4 984.4 L2019.6 991.6 L2024.7 998.8 L2029.6 1006.1 L2034.5 1013.5 L2039.2 1020.9 L2043.7 1028.3 L2048.2 1035.8 L2052.5 1043.3 L2056.7 1050.9 L2060.7 1058.5 L2064.7 1066.1 L2068.5 1073.7 L2072.1 1081.4 L2075.6 1089.1 L2079 1096.9 L2082.2 1104.6 L2085.3 1112.4 L2088.3 1120.2 L2091.1 1128 L2093.7 1135.8 L2096.3 1143.6 L2098.7 1151.5 L2100.9 1159.3 L2103 1167.1 L2104.9 1175 L2106.7 1182.8 L2108.4 1190.6 L2109.9 1198.5 L2111.2 1206.3 L2112.4 1214.1 L2113.5 1221.9 Z"/>
<path d="M2014.2 1210.6 L2014.9 1216.7 L2015.5 1222.9 L2016 1229.1 L2016.4 1235.2 L2016.6 1241.4 L2016.7 1247.5 L2016.7 1253.6 L2016.6 1259.6 L2016.4 1265.6 L2016 1271.6 L2015.5 1277.6 L2014.9 1283.5 L2014.2 1289.4 L2013.4 1295.2 L2012.4 1301.1 L2011.3 1306.8 L2010.1 1312.6 L2008.8 1318.2 L2007.4 1323.9 L2005.8 1329.5 L2004.2 1335 L2002.4 1340.5 L2000.5 1345.9 L1998.5 1351.3 L1996.3 1356.6 L1994.1 1361.9 L1991.7 1367.1 L1989.3 1372.3 L1986.7 1377.3 L1984 1382.4 L1981.2 1387.3 L1978.3 1392.2 L1975.3 1397 L1972.1 1401.7 L1968.9 1406.4 L1965.6 1411 L1962.1 1415.5 L1958.6 1420 L1954.9 1424.4 L1951.2 1428.7 L1947.3 1432.9 L1943.4 1437 L1939.3 1441.1 L1935.2 1445 L1930.9 1448.9 L1926.6 1452.7 L1922.1 1456.4 L1917.6 1460 L1913 1463.5 L1908.3 1467 L1903.5 1470.3 L1898.7 1473.6 L1893.7 1476.7 L1888.7 1479.8 L1883.5 1482.8 L1878.3 1485.6 L1873.1 1488.4 L1867.7 1491.1 L1862.3 1493.7 L1856.8 1496.1 L1851.2 1498.5 L1845.5 1500.8 L1839.8 1503 L1834.1 1505 L1828.2 1507 L1822.3 1508.9 L1816.3 1510.6 L1810.3 1512.3 L1804.2 1513.8 L1798.1 1515.3 L1791.9 1516.6 L1785.7 1517.9 L1779.4 1519 L1773 1520 L1766.6 1520.9 L1760.2 1521.7 L1753.7 1522.4 L1747.2 1523 L1740.6 1523.4 L1734.1 1523.8 L1727.4 1524.1 L1720.8 1524.2 L1714.1 1524.2 L1707.4 1524.2 L1700.6 1524 L1693.9 1523.7 L1687.1 1523.3 L1680.3 1522.8 L1673.5 1522.2 L1666.6 1521.4 L1659.8 1520.6 L1652.9 1519.7 L1646 1518.6 L1639.1 1517.5 L1632.3 1516.2 L1625.4 1514.8 L1618.5 1513.3 L1611.6 1511.8 L1604.7 1510.1 L1597.8 1508.3 L1590.9 1506.4 L1584.1 1504.4 L1577.2 1502.3 L1570.4 1500.1 L1563.6 1497.8 L1556.8 1495.4 L1550 1492.8 L1543.2 1490.2 L1536.5 1487.5 L1529.8 1484.7 L1523.1 1481.8 L1516.4 1478.8 L1509.8 1475.7 L1503.2 1472.5 L1496.6 1469.2 L1490.1 1465.9 L1483.7 1462.4 L1477.2 1458.8 L1470.8 1455.2 L1464.5 1451.5 L1458.2 1447.6 L1452 1443.7 L1445.8 1439.7 L1439.6 1435.7 L1433.5 1431.5 L1427.5 1427.3 L1421.5 1422.9 L1415.6 1418.6 L1409.8 1414.1 L1404 1409.5 L1398.3 1404.9 L1392.7 1400.2 L1387.1 1395.4 L1381.6 1390.6 L1376.1 1385.7 L1370.8 1380.7 L1365.5 1375.7 L1360.3 1370.6 L1355.2 1365.4 L1350.2 1360.2 L1345.2 1354.9 L1340.3 1349.6 L1335.5 1344.2 L1330.8 1338.7 L1326.2 1333.2 L1321.7 1327.7 L1317.3 1322 L1312.9 1316.4 L1308.7 1310.7 L1304.6 1305 L1300.5 1299.2 L1296.6 1293.3 L1292.7 1287.5 L1288.9 1281.6 L1285.3 1275.6 L1281.7 1269.7 L1278.3 1263.7 L1275 1257.6 L1271.7 1251.6 L1268.6 1245.5 L1265.6 1239.4 L1262.7 1233.2 L1259.9 1227.1 L1257.2 1220.9 L1254.6 1214.7 L1252.1 1208.5 L1249.8 1202.3 L1247.5 1196.1 L1245.4 1189.8 L1243.4 1183.6 L1241.5 1177.4 L1239.7 1171.1 L1238 1164.8 L1236.5 1158.6 L1235 1152.3 L1233.7 1146.1 L1232.5 1139.8 L1231.5 1133.6 L1230.5 1127.4 L1229.7 1121.2 L1228.9 1115 L1228.3 1108.8 L1227.9 1102.6 L1227.5 1096.5 L1227.3 1090.4 L1227.1 1084.3 L1227.1 1078.2 L1227.3 1072.1 L1227.5 1066.1 L1227.9 1060.1 L1228.3 1054.1 L1228.9 1048.2 L1229.7 1042.3 L1230.5 1036.5 L1231.5 1030.7 L1232.5 1024.9 L1233.7 1019.2 L1235 1013.5 L1236.5 1007.8 L1238 1002.3 L1239.7 996.7 L1241.5 991.2 L1243.4 985.8 L1245.4 980.4 L1247.5 975.1 L1249.8 969.8 L1252.1 964.6 L1254.6 959.5 L1257.2 954.4 L1259.9 949.4 L1262.7 944.4 L1265.6 939.5 L1268.6 934.7 L1271.7 930 L1275 925.3 L1278.3 920.7 L1281.8 916.2 L1285.3 911.7 L1289 907.4 L1292.7 903.1 L1296.6 898.9 L1300.5 894.7 L1304.6 890.7 L1308.7 886.7 L1313 882.8 L1317.3 879 L1321.7 875.3 L1326.2 871.7 L1330.8 868.2 L1335.5 864.7 L1340.3 861.4 L1345.2 858.1 L1350.2 855 L1355.2 851.9 L1360.3 849 L1365.5 846.1 L1370.8 843.3 L1376.2 840.6 L1381.6 838.1 L1387.1 835.6 L1392.7 833.2 L1398.3 830.9 L1404 828.7 L1409.8 826.7 L1415.6 824.7 L1421.6 822.8 L1427.5 821.1 L1433.5 819.4 L1439.6 817.9 L1445.8 816.4 L1452 815.1 L1458.2 813.9 L1464.5 812.8 L1470.8 811.7 L1477.2 810.8 L1483.7 810 L1490.1 809.3 L1496.7 808.8 L1503.2 808.3 L1509.8 807.9 L1516.4 807.7 L1523.1 807.5 L1529.8 807.5 L1536.5 807.6 L1543.2 807.7 L1550 808 L1556.8 808.4 L1563.6 808.9 L1570.4 809.6 L1577.2 810.3 L1584.1 811.1 L1591 812.1 L1597.8 813.1 L1604.7 814.3 L1611.6 815.5 L1618.5 816.9 L1625.4 818.4 L1632.3 820 L1639.2 821.6 L1646 823.4 L1652.9 825.3 L1659.8 827.3 L1666.6 829.4 L1673.5 831.7 L1680.3 834 L1687.1 836.4 L1693.9 838.9 L1700.7 841.5 L1707.4 844.2 L1714.1 847 L1720.8 849.9 L1727.4 852.9 L1734.1 856 L1740.7 859.2 L1747.2 862.5 L1753.7 865.9 L1760.2 869.3 L1766.6 872.9 L1773 876.5 L1779.4 880.3 L1785.7 884.1 L1791.9 888 L1798.1 892 L1804.2 896.1 L1810.3 900.2 L1816.4 904.5 L1822.3 908.8 L1828.2 913.2 L1834.1 917.6 L1839.8 922.2 L1845.6 926.8 L1851.2 931.5 L1856.8 936.3 L1862.3 941.1 L1867.7 946 L1873.1 951 L1878.3 956 L1883.5 961.1 L1888.7 966.3 L1893.7 971.5 L1898.7 976.8 L1903.5 982.2 L1908.3 987.6 L1913 993 L1917.6 998.5 L1922.2 1004.1 L1926.6 1009.7 L1930.9 1015.3 L1935.2 1021 L1939.3 1026.8 L1943.4 1032.6 L1947.3 1038.4 L1951.2 1044.2 L1954.9 1050.2 L1958.6 1056.1 L1962.1 1062.1 L1965.6 1068.1 L1968.9 1074.1 L1972.1 1080.2 L1975.3 1086.2 L1978.3 1092.3 L1981.2 1098.5 L1984 1104.6 L1986.7 1110.8 L1989.3 1117 L1991.7 1123.2 L1994.1 1129.4 L1996.3 1135.6 L1998.5 1141.9 L2000.5 1148.1 L2002.4 1154.4 L2004.2 1160.6 L2005.8 1166.9 L2007.4 1173.1 L2008.8 1179.4 L2010.1 1185.6 L2011.3 1191.9 L2012.4 1198.1 L2013.4 1204.3 L2014.2 1210.6 Z"/>
<path d="M1879.1 1195.2 L1879.6 1199.2 L1880 1203.3 L1880.3 1207.3 L1880.6 1211.4 L1880.7 1215.4 L1880.8 1219.4 L1880.8 1223.4 L1880.7 1227.3 L1880.6 1231.3 L1880.3 1235.2 L1880 1239.1 L1879.6 1243 L1879.1 1246.9 L1878.6 1250.7 L1878 1254.5 L1877.3 1258.3 L1876.5 1262.1 L1875.6 1265.8 L1874.7 1269.5 L1873.7 1273.1 L1872.6 1276.8 L1871.4 1280.4 L1870.1 1283.9 L1868.8 1287.5 L1867.4 1291 L1866 1294.4 L1864.4 1297.8 L1862.8 1301.2 L1861.1 1304.5 L1859.3 1307.8 L1857.5 1311.1 L1855.6 1314.3 L1853.6 1317.4 L1851.6 1320.5 L1849.4 1323.6 L1847.2 1326.6 L1845 1329.6 L1842.7 1332.5 L1840.3 1335.4 L1837.8 1338.2 L1835.3 1340.9 L1832.7 1343.6 L1830 1346.3 L1827.3 1348.9 L1824.5 1351.4 L1821.7 1353.9 L1818.8 1356.4 L1815.8 1358.7 L1812.8 1361 L1809.7 1363.3 L1806.6 1365.5 L1803.4 1367.6 L1800.1 1369.7 L1796.8 1371.7 L1793.5 1373.7 L1790.1 1375.5 L1786.6 1377.4 L1783.1 1379.1 L1779.5 1380.8 L1775.9 1382.4 L1772.3 1384 L1768.6 1385.5 L1764.8 1386.9 L1761 1388.3 L1757.2 1389.6 L1753.3 1390.8 L1749.4 1391.9 L1745.5 1393 L1741.5 1394 L1737.4 1395 L1733.4 1395.9 L1729.3 1396.7 L1725.2 1397.4 L1721 1398.1 L1716.8 1398.7 L1712.6 1399.2 L1708.3 1399.6 L1704.1 1400 L1699.8 1400.3 L1695.5 1400.6 L1691.1 1400.7 L1686.7 1400.8 L1682.4 1400.8 L1678 1400.8 L1673.5 1400.7 L1669.1 1400.5 L1664.7 1400.2 L1660.2 1399.9 L1655.7 1399.5 L1651.2 1399 L1646.7 1398.5 L1642.2 1397.9 L1637.7 1397.2 L1633.2 1396.4 L1628.7 1395.6 L1624.2 1394.7 L1619.7 1393.7 L1615.1 1392.7 L1610.6 1391.6 L1606.1 1390.4 L1601.6 1389.1 L1597.1 1387.8 L1592.6 1386.4 L1588.1 1385 L1583.7 1383.5 L1579.2 1381.9 L1574.7 1380.3 L1570.3 1378.6 L1565.9 1376.8 L1561.5 1374.9 L1557.1 1373 L1552.7 1371.1 L1548.4 1369 L1544.1 1366.9 L1539.8 1364.8 L1535.5 1362.6 L1531.3 1360.3 L1527 1358 L1522.9 1355.6 L1518.7 1353.1 L1514.6 1350.6 L1510.5 1348.1 L1506.4 1345.4 L1502.4 1342.8 L1498.4 1340 L1494.4 1337.3 L1490.5 1334.4 L1486.7 1331.6 L1482.8 1328.6 L1479 1325.6 L1475.3 1322.6 L1471.6 1319.5 L1467.9 1316.4 L1464.3 1313.2 L1460.8 1310 L1457.3 1306.7 L1453.8 1303.4 L1450.4 1300.1 L1447 1296.7 L1443.7 1293.3 L1440.5 1289.8 L1437.3 1286.3 L1434.1 1282.8 L1431.1 1279.2 L1428 1275.6 L1425.1 1271.9 L1422.2 1268.3 L1419.3 1264.6 L1416.5 1260.8 L1413.8 1257.1 L1411.2 1253.3 L1408.6 1249.5 L1406.1 1245.6 L1403.6 1241.7 L1401.2 1237.8 L1398.9 1233.9 L1396.6 1230 L1394.4 1226 L1392.3 1222.1 L1390.2 1218.1 L1388.3 1214.1 L1386.4 1210 L1384.5 1206 L1382.8 1202 L1381.1 1197.9 L1379.4 1193.8 L1377.9 1189.8 L1376.4 1185.7 L1375 1181.6 L1373.7 1177.5 L1372.5 1173.4 L1371.3 1169.3 L1370.2 1165.2 L1369.2 1161.1 L1368.2 1157 L1367.4 1152.9 L1366.6 1148.8 L1365.9 1144.7 L1365.3 1140.6 L1364.7 1136.6 L1364.2 1132.5 L1363.9 1128.4 L1363.5 1124.4 L1363.3 1120.4 L1363.1 1116.4 L1363.1 1112.4 L1363.1 1108.4 L1363.1 1104.4 L1363.3 1100.4 L1363.5 1096.5 L1363.9 1092.6 L1364.2 1088.7 L1364.7 1084.9 L1365.3 1081 L1365.9 1077.2 L1366.6 1073.4 L1367.4 1069.7 L1368.3 1065.9 L1369.2 1062.3 L1370.2 1058.6 L1371.3 1055 L1372.5 1051.4 L1373.7 1047.8 L1375 1044.3 L1376.4 1040.8 L1377.9 1037.3 L1379.4 1033.9 L1381.1 1030.5 L1382.8 1027.2 L1384.5 1023.9 L1386.4 1020.7 L1388.3 1017.5 L1390.3 1014.3 L1392.3 1011.2 L1394.4 1008.1 L1396.6 1005.1 L1398.9 1002.1 L1401.2 999.2 L1403.6 996.4 L1406.1 993.5 L1408.6 990.8 L1411.2 988.1 L1413.8 985.4 L1416.6 982.8 L1419.3 980.3 L1422.2 977.8 L1425.1 975.4 L1428 973 L1431.1 970.7 L1434.1 968.4 L1437.3 966.2 L1440.5 964.1 L1443.7 962 L1447 960 L1450.4 958.1 L1453.8 956.2 L1457.3 954.4 L1460.8 952.6 L1464.3 950.9 L1467.9 949.3 L1471.6 947.7 L1475.3 946.2 L1479 944.8 L1482.8 943.5 L1486.7 942.2 L1490.5 940.9 L1494.5 939.8 L1498.4 938.7 L1502.4 937.7 L1506.4 936.7 L1510.5 935.9 L1514.6 935.1 L1518.7 934.3 L1522.9 933.7 L1527.1 933.1 L1531.3 932.5 L1535.5 932.1 L1539.8 931.7 L1544.1 931.4 L1548.4 931.2 L1552.8 931 L1557.1 930.9 L1561.5 930.9 L1565.9 930.9 L1570.3 931 L1574.8 931.2 L1579.2 931.5 L1583.7 931.8 L1588.1 932.2 L1592.6 932.7 L1597.1 933.3 L1601.6 933.9 L1606.1 934.6 L1610.6 935.3 L1615.2 936.1 L1619.7 937 L1624.2 938 L1628.7 939.1 L1633.2 940.2 L1637.7 941.3 L1642.2 942.6 L1646.7 943.9 L1651.2 945.3 L1655.7 946.7 L1660.2 948.2 L1664.7 949.8 L1669.1 951.5 L1673.5 953.2 L1678 955 L1682.4 956.8 L1686.8 958.7 L1691.1 960.7 L1695.5 962.7 L1699.8 964.8 L1704.1 966.9 L1708.3 969.2 L1712.6 971.4 L1716.8 973.8 L1721 976.1 L1725.2 978.6 L1729.3 981.1 L1733.4 983.7 L1737.4 986.3 L1741.5 989 L1745.5 991.7 L1749.4 994.5 L1753.3 997.3 L1757.2 1000.2 L1761 1003.1 L1764.8 1006.1 L1768.6 1009.1 L1772.3 1012.2 L1775.9 1015.3 L1779.5 1018.5 L1783.1 1021.7 L1786.6 1025 L1790.1 1028.3 L1793.5 1031.6 L1796.8 1035 L1800.1 1038.4 L1803.4 1041.9 L1806.6 1045.4 L1809.7 1048.9 L1812.8 1052.5 L1815.8 1056.1 L1818.8 1059.8 L1821.7 1063.5 L1824.5 1067.2 L1827.3 1070.9 L1830 1074.7 L1832.7 1078.5 L1835.3 1082.3 L1837.8 1086.1 L1840.3 1090 L1842.7 1093.9 L1845 1097.8 L1847.2 1101.7 L1849.4 1105.7 L1851.6 1109.7 L1853.6 1113.7 L1855.6 1117.7 L1857.5 1121.7 L1859.3 1125.7 L1861.1 1129.8 L1862.8 1133.8 L1864.4 1137.9 L1866 1142 L1867.4 1146 L1868.8 1150.1 L1870.1 1154.2 L1871.4 1158.3 L1872.6 1162.4 L1873.7 1166.5 L1874.7 1170.6 L1875.6 1174.7 L1876.5 1178.8 L1877.3 1182.9 L1878 1187 L1878.6 1191.1 L1879.1 1195.2 Z"/>
</g>
<rect x="1182.6" y="938.2" width="739.7" height="641.8" fill="none" stroke="#3a3a3a" stroke-width="1.7"/>
<line x1="1182.6" y1="1580" x2="1182.6" y2="1595" stroke="#3a3a3a" stroke-width="1.7"/>
<line x1="1165.6" y1="938.2" x2="1182.6" y2="938.2" stroke="#3a3a3a" stroke-width="1.7"/>
<line x1="1367.5" y1="1580" x2="1367.5" y2="1595" stroke="#3a3a3a" stroke-width="1.7"/>
<line x1="1165.6" y1="1098.7" x2="1182.6" y2="1098.7" stroke="#3a3a3a" stroke-width="1.7"/>
<line x1="1552.4" y1="1580" x2="1552.4" y2="1595" stroke="#3a3a3a" stroke-width="1.7"/>
<line x1="1165.6" y1="1259.1" x2="1182.6" y2="1259.1" stroke="#3a3a3a" stroke-width="1.7"/>
<line x1="1737.4" y1="1580" x2="1737.4" y2="1595" stroke="#3a3a3a" stroke-width="1.7"/>
<line x1="1165.6" y1="1419.5" x2="1182.6" y2="1419.5" stroke="#3a3a3a" stroke-width="1.7"/>
<line x1="1922.3" y1="1580" x2="1922.3" y2="1595" stroke="#3a3a3a" stroke-width="1.7"/>
<line x1="1165.6" y1="1580" x2="1182.6" y2="1580" stroke="#3a3a3a" stroke-width="1.7"/>
<rect x="1881.2" y="955.9" width="21.2" height="13.5" fill="#fff" stroke="#3a2c22" stroke-width="1.4"/>
<text x="1891.8" y="966.1" font-family="Liberation Sans, sans-serif" font-size="9.6" fill="#3a3a3a" text-anchor="middle">80</text>
<rect x="1670.7" y="1390.7" width="21.7" height="13.3" fill="#fff" stroke="#3a2c22" stroke-width="1.4"/>
<text x="1681.6" y="1400.7" font-family="Liberation Sans, sans-serif" font-size="9.6" fill="#3a3a3a" text-anchor="middle">90</text>
<rect x="1382.9" y="1390.7" width="21.9" height="13.3" fill="#fff" stroke="#3a2c22" stroke-width="1.4"/>
<text x="1393.8" y="1400.7" font-family="Liberation Sans, sans-serif" font-size="9.6" fill="#3a3a3a" text-anchor="middle">80</text>
<rect x="1319.4" y="1444.2" width="22.1" height="13.5" fill="#fff" stroke="#3a2c22" stroke-width="1.4"/>
<text x="1330.5" y="1454.4" font-family="Liberation Sans, sans-serif" font-size="9.6" fill="#3a3a3a" text-anchor="middle">70</text>
<rect x="1264.5" y="1486.9" width="21.5" height="13.3" fill="#fff" stroke="#3a2c22" stroke-width="1.4"/>
<text x="1275.2" y="1496.9" font-family="Liberation Sans, sans-serif" font-size="9.6" fill="#3a3a3a" text-anchor="middle">60</text>
<rect x="1218.3" y="1526.6" width="21.7" height="13.3" fill="#fff" stroke="#3a2c22" stroke-width="1.4"/>
<text x="1229.2" y="1536.6" font-family="Liberation Sans, sans-serif" font-size="9.6" fill="#3a3a3a" text-anchor="middle">50</text>
<ellipse cx="1552.8" cy="1259.2" rx="6.3" ry="5.6" fill="#b80404" stroke="#4a0000" stroke-width="1.2"/>
<text x="1534.8" y="1261.7" font-family="Liberation Sans, sans-serif" font-size="7" fill="#222">6</text>
<defs><radialGradient id="g3" gradientUnits="userSpaceOnUse" cx="0" cy="0" r="6.898" gradientTransform="matrix(162.82903 -35.26072 -35.26072 83.19098 1602.35 2082.05)"><stop offset="0.0000" stop-color="#ff0700"/><stop offset="0.1125" stop-color="#ff0e00"/><stop offset="0.1591" stop-color="#ff1500"/><stop offset="0.1949" stop-color="#ff1d00"/><stop offset="0.2250" stop-color="#ff2400"/><stop offset="0.2516" stop-color="#ff2b00"/><stop offset="0.2756" stop-color="#ff3300"/><stop offset="0.2977" stop-color="#ff3a00"/><stop offset="0.3182" stop-color="#ff4100"/><stop offset="0.3375" stop-color="#ff4900"/><stop offset="0.3558" stop-color="#ff5000"/><stop offset="0.3731" stop-color="#ff5700"/><stop offset="0.3897" stop-color="#ff5f00"/><stop offset="0.4057" stop-color="#ff6600"/><stop offset="0.4210" stop-color="#ff6d00"/><stop offset="0.4357" stop-color="#ff7400"/><stop offset="0.4500" stop-color="#ff7c00"/><stop offset="0.4639" stop-color="#ff8300"/><stop offset="0.4773" stop-color="#ff8a00"/><stop offset="0.4904" stop-color="#ff9200"/><stop offset="0.5032" stop-color="#ff9900"/><stop offset="0.5156" stop-color="#ffa000"/><stop offset="0.5277" stop-color="#ffa800"/><stop offset="0.5396" stop-color="#ffaf00"/><stop offset="0.5512" stop-color="#ffb600"/><stop offset="0.5625" stop-color="#ffbe00"/><stop offset="0.5737" stop-color="#ffc500"/><stop offset="0.5846" stop-color="#ffcc00"/><stop offset="0.5953" stop-color="#ffd400"/><stop offset="0.6059" stop-color="#ffdb00"/><stop offset="0.6162" stop-color="#ffe200"/><stop offset="0.6264" stop-color="#ffe900"/><stop offset="0.6364" stop-color="#fff100"/><stop offset="0.6463" stop-color="#fff800"/><stop offset="0.6560" stop-color="#ffff00"/><stop offset="0.6656" stop-color="#f7ff00"/><stop offset="0.6751" stop-color="#f0ff00"/><stop offset="0.6844" stop-color="#e9ff00"/><stop offset="0.6936" stop-color="#e1ff00"/><stop offset="0.7026" stop-color="#daff00"/><stop offset="0.7116" stop-color="#d3ff00"/><stop offset="0.7204" stop-color="#cbff00"/><stop offset="0.7291" stop-color="#c4ff00"/><stop offset="0.7378" stop-color="#bdff00"/><stop offset="0.7463" stop-color="#b6ff00"/><stop offset="0.7547" stop-color="#aeff00"/><stop offset="0.7631" stop-color="#a7ff00"/><stop offset="0.7713" stop-color="#a0ff00"/><stop offset="0.7795" stop-color="#98ff00"/><stop offset="0.7876" stop-color="#91ff00"/><stop offset="0.7956" stop-color="#8aff00"/><stop offset="0.8035" stop-color="#82ff00"/><stop offset="0.8113" stop-color="#7bff00"/><stop offset="0.8191" stop-color="#74ff00"/><stop offset="0.8268" stop-color="#6cff00"/><stop offset="0.8344" stop-color="#65ff00"/><stop offset="0.8419" stop-color="#5eff00"/><stop offset="0.8494" stop-color="#56ff00"/><stop offset="0.8568" stop-color="#4fff00"/><stop offset="0.8642" stop-color="#48ff00"/><stop offset="0.8715" stop-color="#41ff00"/><stop offset="0.8787" stop-color="#39ff00"/><stop offset="0.8859" stop-color="#32ff00"/><stop offset="0.8930" stop-color="#2bff00"/><stop offset="0.9001" stop-color="#23ff00"/><stop offset="0.9071" stop-color="#1cff00"/><stop offset="0.9140" stop-color="#15ff00"/><stop offset="0.9209" stop-color="#0dff00"/><stop offset="0.9278" stop-color="#06ff00"/><stop offset="0.9346" stop-color="#00ff01"/><stop offset="0.9413" stop-color="#00ff09"/><stop offset="0.9480" stop-color="#00ff10"/><stop offset="0.9547" stop-color="#00ff17"/><stop offset="0.9613" stop-color="#00ff1f"/><stop offset="0.9678" stop-color="#00ff26"/><stop offset="0.9744" stop-color="#00ff2d"/><stop offset="0.9808" stop-color="#00ff34"/><stop offset="0.9873" stop-color="#00ff3c"/><stop offset="0.9937" stop-color="#00ff43"/><stop offset="1.0000" stop-color="#00ff4a"/></radialGradient>
<clipPath id="c3"><rect x="1269.9" y="1894.7" width="654.6" height="570"/></clipPath></defs>
<rect x="1269.9" y="1894.7" width="654.6" height="570" fill="url(#g3)"/>
<g clip-path="url(#c3)" fill="none" stroke="#1c1c1c" stroke-width="1.35">
<path d="M2592.8 1867.6 L2588.9 1876.4 L2584.7 1885.4 L2580.2 1894.4 L2575.4 1903.4 L2570.3 1912.5 L2564.9 1921.6 L2559.3 1930.8 L2553.3 1940.1 L2547 1949.4 L2540.5 1958.7 L2533.7 1968.1 L2526.6 1977.5 L2519.2 1986.9 L2511.5 1996.4 L2503.5 2005.9 L2495.3 2015.4 L2486.8 2024.9 L2478 2034.4 L2469 2044 L2459.7 2053.6 L2450.1 2063.2 L2440.3 2072.8 L2430.3 2082.3 L2419.9 2091.9 L2409.4 2101.5 L2398.5 2111.1 L2387.5 2120.7 L2376.2 2130.2 L2364.6 2139.8 L2352.9 2149.3 L2340.9 2158.8 L2328.6 2168.3 L2316.2 2177.8 L2303.5 2187.2 L2290.7 2196.6 L2277.6 2206 L2264.3 2215.3 L2250.8 2224.6 L2237.1 2233.8 L2223.2 2243 L2209.1 2252.2 L2194.9 2261.3 L2180.4 2270.3 L2165.8 2279.3 L2151 2288.2 L2136.1 2297.1 L2121 2305.9 L2105.7 2314.6 L2090.3 2323.2 L2074.7 2331.8 L2059 2340.3 L2043.1 2348.8 L2027.1 2357.1 L2011 2365.4 L1994.8 2373.5 L1978.4 2381.6 L1961.9 2389.6 L1945.3 2397.5 L1928.6 2405.3 L1911.8 2413 L1894.9 2420.7 L1878 2428.2 L1860.9 2435.6 L1843.8 2442.8 L1826.5 2450 L1809.3 2457.1 L1791.9 2464.1 L1774.5 2470.9 L1757.1 2477.6 L1739.6 2484.2 L1722 2490.7 L1704.4 2497 L1686.8 2503.3 L1669.2 2509.4 L1651.5 2515.3 L1633.8 2521.2 L1616.2 2526.9 L1598.5 2532.4 L1580.8 2537.9 L1563.1 2543.2 L1545.4 2548.3 L1527.8 2553.3 L1510.2 2558.2 L1492.6 2562.9 L1475 2567.5 L1457.5 2571.9 L1440 2576.2 L1422.6 2580.3 L1405.2 2584.3 L1387.9 2588.1 L1370.6 2591.7 L1353.4 2595.3 L1336.3 2598.6 L1319.3 2601.8 L1302.4 2604.9 L1285.5 2607.7 L1268.8 2610.5 L1252.1 2613 L1235.6 2615.4 L1219.1 2617.6 L1202.8 2619.7 L1186.6 2621.6 L1170.6 2623.4 L1154.6 2624.9 L1138.8 2626.4 L1123.2 2627.6 L1107.7 2628.7 L1092.3 2629.6 L1077.1 2630.3 L1062 2630.9 L1047.2 2631.3 L1032.5 2631.6 L1017.9 2631.7 L1003.6 2631.6 L989.4 2631.3 L975.4 2630.9 L961.6 2630.3 L948 2629.5 L934.6 2628.6 L921.4 2627.5 L908.4 2626.3 L895.6 2624.8 L883 2623.3 L870.7 2621.5 L858.6 2619.6 L846.7 2617.5 L835 2615.3 L823.6 2612.9 L812.4 2610.3 L801.4 2607.6 L790.7 2604.7 L780.2 2601.6 L770 2598.4 L760 2595.1 L750.3 2591.5 L740.9 2587.9 L731.7 2584 L722.8 2580 L714.1 2575.9 L705.8 2571.6 L697.6 2567.2 L689.8 2562.6 L682.3 2557.9 L675 2553 L668 2548 L661.3 2542.8 L654.9 2537.5 L648.7 2532.1 L642.9 2526.5 L637.4 2520.8 L632.1 2515 L627.1 2509 L622.5 2502.9 L618.1 2496.7 L614.1 2490.3 L610.3 2483.8 L606.8 2477.2 L603.7 2470.5 L600.8 2463.6 L598.3 2456.7 L596 2449.6 L594.1 2442.4 L592.5 2435.1 L591.2 2427.7 L590.1 2420.2 L589.4 2412.6 L589 2404.9 L589 2397.1 L589.2 2389.2 L589.7 2381.1 L590.5 2373.1 L591.7 2364.9 L593.1 2356.6 L594.9 2348.3 L597 2339.8 L599.4 2331.3 L602 2322.7 L605 2314.1 L608.3 2305.3 L611.9 2296.5 L615.8 2287.7 L620 2278.7 L624.5 2269.8 L629.3 2260.7 L634.4 2251.6 L639.7 2242.5 L645.4 2233.3 L651.4 2224 L657.6 2214.7 L664.2 2205.4 L671 2196 L678.1 2186.6 L685.5 2177.2 L693.2 2167.7 L701.2 2158.3 L709.4 2148.7 L717.9 2139.2 L726.7 2129.7 L735.7 2120.1 L745 2110.5 L754.6 2100.9 L764.4 2091.4 L774.4 2081.8 L784.8 2072.2 L795.3 2062.6 L806.2 2053 L817.2 2043.4 L828.5 2033.9 L840.1 2024.3 L851.8 2014.8 L863.8 2005.3 L876.1 1995.8 L888.5 1986.3 L901.2 1976.9 L914 1967.5 L927.1 1958.1 L940.4 1948.8 L953.9 1939.5 L967.6 1930.3 L981.5 1921.1 L995.6 1911.9 L1009.8 1902.8 L1024.3 1893.8 L1038.9 1884.8 L1053.7 1875.9 L1068.6 1867 L1083.7 1858.2 L1099 1849.5 L1114.4 1840.9 L1130 1832.3 L1145.7 1823.8 L1161.6 1815.3 L1177.6 1807 L1193.7 1798.7 L1209.9 1790.6 L1226.3 1782.5 L1242.8 1774.5 L1259.4 1766.6 L1276.1 1758.8 L1292.9 1751.1 L1309.8 1743.5 L1326.7 1736 L1343.8 1728.6 L1360.9 1721.3 L1378.2 1714.1 L1395.4 1707 L1412.8 1700.1 L1430.2 1693.2 L1447.6 1686.5 L1465.1 1679.9 L1482.7 1673.4 L1500.3 1667.1 L1517.9 1660.8 L1535.5 1654.7 L1553.2 1648.8 L1570.8 1642.9 L1588.5 1637.2 L1606.2 1631.7 L1623.9 1626.2 L1641.6 1621 L1659.2 1615.8 L1676.9 1610.8 L1694.5 1605.9 L1712.1 1601.2 L1729.7 1596.6 L1747.2 1592.2 L1764.7 1587.9 L1782.1 1583.8 L1799.5 1579.8 L1816.8 1576 L1834.1 1572.4 L1851.3 1568.8 L1868.4 1565.5 L1885.4 1562.3 L1902.3 1559.3 L1919.2 1556.4 L1935.9 1553.7 L1952.6 1551.1 L1969.1 1548.7 L1985.6 1546.5 L2001.9 1544.4 L2018.1 1542.5 L2034.1 1540.7 L2050.1 1539.2 L2065.9 1537.8 L2081.5 1536.5 L2097 1535.4 L2112.4 1534.5 L2127.6 1533.8 L2142.6 1533.2 L2157.5 1532.8 L2172.2 1532.5 L2186.8 1532.4 L2201.1 1532.5 L2215.3 1532.8 L2229.3 1533.2 L2243.1 1533.8 L2256.7 1534.6 L2270.1 1535.5 L2283.3 1536.6 L2296.3 1537.8 L2309.1 1539.3 L2321.7 1540.8 L2334 1542.6 L2346.1 1544.5 L2358 1546.6 L2369.7 1548.8 L2381.1 1551.3 L2392.3 1553.8 L2403.3 1556.5 L2414 1559.4 L2424.5 1562.5 L2434.7 1565.7 L2444.7 1569.1 L2454.4 1572.6 L2463.8 1576.3 L2473 1580.1 L2481.9 1584.1 L2490.6 1588.2 L2498.9 1592.5 L2507 1596.9 L2514.9 1601.5 L2522.4 1606.2 L2529.7 1611.1 L2536.7 1616.1 L2543.4 1621.3 L2549.8 1626.6 L2556 1632 L2561.8 1637.6 L2567.3 1643.3 L2572.6 1649.1 L2577.6 1655.1 L2582.2 1661.2 L2586.6 1667.5 L2590.6 1673.8 L2594.4 1680.3 L2597.9 1686.9 L2601 1693.6 L2603.9 1700.5 L2606.4 1707.4 L2608.7 1714.5 L2610.6 1721.7 L2612.2 1729 L2613.5 1736.4 L2614.6 1743.9 L2615.3 1751.5 L2615.7 1759.2 L2615.7 1767.1 L2615.5 1775 L2615 1783 L2614.2 1791.1 L2613 1799.2 L2611.5 1807.5 L2609.8 1815.9 L2607.7 1824.3 L2605.3 1832.8 L2602.7 1841.4 L2599.7 1850 L2596.4 1858.8 L2592.8 1867.6 Z"/>
<path d="M2448.4 1898.8 L2445.1 1906.4 L2441.5 1914 L2437.7 1921.7 L2433.6 1929.4 L2429.2 1937.2 L2424.6 1945 L2419.8 1952.9 L2414.7 1960.8 L2409.3 1968.7 L2403.8 1976.7 L2397.9 1984.7 L2391.8 1992.7 L2385.5 2000.8 L2379 2008.9 L2372.2 2017 L2365.1 2025.1 L2357.9 2033.2 L2350.4 2041.4 L2342.7 2049.6 L2334.7 2057.7 L2326.6 2065.9 L2318.2 2074.1 L2309.6 2082.3 L2300.8 2090.5 L2291.7 2098.7 L2282.5 2106.9 L2273 2115.1 L2263.4 2123.2 L2253.5 2131.4 L2243.5 2139.5 L2233.2 2147.6 L2222.8 2155.7 L2212.1 2163.8 L2201.3 2171.9 L2190.3 2179.9 L2179.1 2187.9 L2167.8 2195.9 L2156.3 2203.8 L2144.6 2211.7 L2132.7 2219.6 L2120.7 2227.4 L2108.5 2235.1 L2096.2 2242.9 L2083.7 2250.5 L2071.1 2258.2 L2058.3 2265.7 L2045.4 2273.2 L2032.3 2280.7 L2019.1 2288.1 L2005.8 2295.4 L1992.4 2302.7 L1978.9 2309.9 L1965.2 2317 L1951.4 2324.1 L1937.6 2331.1 L1923.6 2338 L1909.5 2344.8 L1895.3 2351.5 L1881.1 2358.2 L1866.7 2364.8 L1852.3 2371.3 L1837.8 2377.7 L1823.2 2384 L1808.6 2390.3 L1793.9 2396.4 L1779.1 2402.4 L1764.3 2408.4 L1749.4 2414.2 L1734.5 2420 L1719.6 2425.6 L1704.6 2431.1 L1689.5 2436.6 L1674.5 2441.9 L1659.4 2447.1 L1644.4 2452.2 L1629.3 2457.2 L1614.2 2462 L1599 2466.8 L1583.9 2471.4 L1568.8 2475.9 L1553.7 2480.3 L1538.7 2484.6 L1523.6 2488.8 L1508.6 2492.8 L1493.6 2496.7 L1478.6 2500.5 L1463.7 2504.1 L1448.8 2507.7 L1433.9 2511.1 L1419.1 2514.3 L1404.4 2517.5 L1389.7 2520.5 L1375.1 2523.3 L1360.6 2526.1 L1346.1 2528.6 L1331.7 2531.1 L1317.4 2533.4 L1303.2 2535.6 L1289 2537.7 L1275 2539.6 L1261.1 2541.3 L1247.2 2543 L1233.5 2544.5 L1219.9 2545.8 L1206.4 2547 L1193 2548.1 L1179.8 2549 L1166.6 2549.8 L1153.7 2550.4 L1140.8 2550.9 L1128.1 2551.3 L1115.5 2551.5 L1103.1 2551.6 L1090.8 2551.5 L1078.7 2551.3 L1066.8 2550.9 L1055 2550.4 L1043.4 2549.7 L1031.9 2549 L1020.6 2548 L1009.5 2546.9 L998.6 2545.7 L987.9 2544.4 L977.3 2542.9 L967 2541.2 L956.8 2539.5 L946.8 2537.5 L937.1 2535.5 L927.5 2533.3 L918.1 2531 L909 2528.5 L900.1 2525.9 L891.3 2523.2 L882.8 2520.3 L874.5 2517.3 L866.5 2514.1 L858.6 2510.9 L851 2507.5 L843.6 2503.9 L836.4 2500.3 L829.5 2496.5 L822.8 2492.6 L816.4 2488.5 L810.2 2484.4 L804.2 2480.1 L798.5 2475.7 L793 2471.1 L787.7 2466.5 L782.8 2461.7 L778 2456.9 L773.5 2451.9 L769.3 2446.8 L765.3 2441.6 L761.6 2436.2 L758.1 2430.8 L754.9 2425.3 L751.9 2419.6 L749.2 2413.9 L746.8 2408 L744.6 2402.1 L742.7 2396 L741.1 2389.9 L739.7 2383.7 L738.5 2377.3 L737.7 2370.9 L737.1 2364.4 L736.7 2357.8 L736.7 2351.1 L736.9 2344.4 L737.3 2337.6 L738 2330.6 L739 2323.7 L740.2 2316.6 L741.8 2309.5 L743.5 2302.3 L745.5 2295 L747.8 2287.6 L750.4 2280.2 L753.2 2272.8 L756.3 2265.3 L759.6 2257.7 L763.2 2250.1 L767 2242.4 L771.1 2234.7 L775.5 2226.9 L780.1 2219.1 L784.9 2211.2 L790 2203.3 L795.3 2195.4 L800.9 2187.4 L806.8 2179.4 L812.9 2171.4 L819.2 2163.3 L825.7 2155.3 L832.5 2147.2 L839.5 2139 L846.8 2130.9 L854.3 2122.7 L862 2114.6 L870 2106.4 L878.1 2098.2 L886.5 2090 L895.1 2081.8 L903.9 2073.6 L913 2065.4 L922.2 2057.2 L931.7 2049.1 L941.3 2040.9 L951.2 2032.7 L961.2 2024.6 L971.5 2016.5 L981.9 2008.4 L992.6 2000.3 L1003.4 1992.2 L1014.4 1984.2 L1025.5 1976.2 L1036.9 1968.2 L1048.4 1960.3 L1060.1 1952.4 L1072 1944.6 L1084 1936.7 L1096.2 1929 L1108.5 1921.2 L1121 1913.6 L1133.6 1905.9 L1146.4 1898.4 L1159.3 1890.9 L1172.4 1883.4 L1185.5 1876 L1198.9 1868.7 L1212.3 1861.4 L1225.8 1854.2 L1239.5 1847.1 L1253.3 1840 L1267.1 1833 L1281.1 1826.1 L1295.2 1819.3 L1309.4 1812.6 L1323.6 1805.9 L1338 1799.3 L1352.4 1792.8 L1366.9 1786.4 L1381.5 1780.1 L1396.1 1773.9 L1410.8 1767.7 L1425.6 1761.7 L1440.4 1755.7 L1455.3 1749.9 L1470.2 1744.2 L1485.1 1738.5 L1500.1 1733 L1515.1 1727.6 L1530.2 1722.2 L1545.3 1717 L1560.3 1711.9 L1575.4 1706.9 L1590.5 1702.1 L1605.7 1697.3 L1620.8 1692.7 L1635.9 1688.2 L1651 1683.8 L1666 1679.5 L1681.1 1675.3 L1696.1 1671.3 L1711.1 1667.4 L1726.1 1663.6 L1741 1660 L1755.9 1656.4 L1770.8 1653 L1785.6 1649.8 L1800.3 1646.7 L1815 1643.7 L1829.6 1640.8 L1844.1 1638.1 L1858.6 1635.5 L1873 1633 L1887.3 1630.7 L1901.5 1628.5 L1915.7 1626.4 L1929.7 1624.5 L1943.6 1622.8 L1957.5 1621.1 L1971.2 1619.6 L1984.8 1618.3 L1998.3 1617.1 L2011.7 1616 L2024.9 1615.1 L2038.1 1614.3 L2051 1613.7 L2063.9 1613.2 L2076.6 1612.8 L2089.2 1612.6 L2101.6 1612.6 L2113.9 1612.6 L2126 1612.9 L2137.9 1613.2 L2149.7 1613.7 L2161.3 1614.4 L2172.8 1615.2 L2184.1 1616.1 L2195.2 1617.2 L2206.1 1618.4 L2216.8 1619.7 L2227.4 1621.2 L2237.7 1622.9 L2247.9 1624.6 L2257.9 1626.6 L2267.6 1628.6 L2277.2 1630.8 L2286.6 1633.1 L2295.7 1635.6 L2304.6 1638.2 L2313.4 1641 L2321.9 1643.8 L2330.2 1646.8 L2338.2 1650 L2346.1 1653.2 L2353.7 1656.7 L2361.1 1660.2 L2368.3 1663.8 L2375.2 1667.6 L2381.9 1671.5 L2388.3 1675.6 L2394.5 1679.7 L2400.5 1684 L2406.2 1688.4 L2411.7 1693 L2417 1697.6 L2421.9 1702.4 L2426.7 1707.2 L2431.2 1712.2 L2435.4 1717.3 L2439.4 1722.6 L2443.1 1727.9 L2446.6 1733.3 L2449.8 1738.9 L2452.8 1744.5 L2455.5 1750.2 L2457.9 1756.1 L2460.1 1762 L2462 1768.1 L2463.6 1774.2 L2465 1780.5 L2466.2 1786.8 L2467 1793.2 L2467.6 1799.7 L2468 1806.3 L2468 1813 L2467.8 1819.7 L2467.4 1826.6 L2466.7 1833.5 L2465.7 1840.5 L2464.4 1847.5 L2462.9 1854.7 L2461.2 1861.9 L2459.1 1869.1 L2456.9 1876.5 L2454.3 1883.9 L2451.5 1891.3 L2448.4 1898.8 Z"/>
<path d="M2273.7 1936.7 L2271.1 1942.7 L2268.2 1948.7 L2265.2 1954.8 L2261.9 1961 L2258.5 1967.1 L2254.8 1973.3 L2251 1979.6 L2246.9 1985.8 L2242.7 1992.1 L2238.3 1998.4 L2233.6 2004.8 L2228.8 2011.2 L2223.8 2017.6 L2218.6 2024 L2213.2 2030.4 L2207.6 2036.8 L2201.9 2043.3 L2195.9 2049.8 L2189.8 2056.3 L2183.5 2062.8 L2177 2069.2 L2170.4 2075.7 L2163.5 2082.3 L2156.5 2088.8 L2149.4 2095.3 L2142 2101.7 L2134.5 2108.2 L2126.9 2114.7 L2119 2121.2 L2111.1 2127.7 L2102.9 2134.1 L2094.6 2140.5 L2086.2 2146.9 L2077.6 2153.3 L2068.9 2159.7 L2060 2166 L2051 2172.4 L2041.9 2178.7 L2032.6 2184.9 L2023.2 2191.2 L2013.6 2197.4 L2004 2203.5 L1994.2 2209.7 L1984.3 2215.7 L1974.3 2221.8 L1964.1 2227.8 L1953.9 2233.8 L1943.5 2239.7 L1933.1 2245.5 L1922.5 2251.4 L1911.9 2257.1 L1901.1 2262.8 L1890.3 2268.5 L1879.3 2274.1 L1868.3 2279.6 L1857.2 2285.1 L1846.1 2290.5 L1834.8 2295.9 L1823.5 2301.2 L1812.1 2306.4 L1800.7 2311.6 L1789.2 2316.7 L1777.6 2321.7 L1766 2326.6 L1754.3 2331.5 L1742.6 2336.3 L1730.8 2341 L1719 2345.6 L1707.2 2350.2 L1695.4 2354.6 L1683.5 2359 L1671.5 2363.3 L1659.6 2367.6 L1647.6 2371.7 L1635.7 2375.7 L1623.7 2379.7 L1611.7 2383.6 L1599.7 2387.3 L1587.7 2391 L1575.8 2394.6 L1563.8 2398.1 L1551.8 2401.5 L1539.9 2404.8 L1527.9 2408 L1516 2411.1 L1504.2 2414.1 L1492.3 2417 L1480.5 2419.8 L1468.7 2422.5 L1457 2425.1 L1445.3 2427.5 L1433.6 2429.9 L1422 2432.2 L1410.5 2434.4 L1399 2436.4 L1387.6 2438.4 L1376.2 2440.2 L1364.9 2442 L1353.7 2443.6 L1342.6 2445.1 L1331.5 2446.5 L1320.6 2447.8 L1309.7 2449 L1298.9 2450 L1288.2 2451 L1277.5 2451.8 L1267 2452.6 L1256.6 2453.2 L1246.3 2453.7 L1236.1 2454.1 L1226 2454.4 L1216.1 2454.5 L1206.2 2454.6 L1196.5 2454.5 L1186.9 2454.4 L1177.4 2454.1 L1168 2453.7 L1158.8 2453.2 L1149.7 2452.5 L1140.8 2451.8 L1132 2450.9 L1123.3 2450 L1114.8 2448.9 L1106.4 2447.7 L1098.2 2446.4 L1090.1 2445 L1082.2 2443.5 L1074.5 2441.8 L1066.9 2440.1 L1059.4 2438.3 L1052.2 2436.3 L1045.1 2434.2 L1038.2 2432.1 L1031.4 2429.8 L1024.8 2427.4 L1018.4 2424.9 L1012.2 2422.3 L1006.2 2419.6 L1000.3 2416.8 L994.6 2413.9 L989.1 2410.9 L983.8 2407.8 L978.7 2404.6 L973.8 2401.3 L969 2397.9 L964.5 2394.4 L960.1 2390.8 L956 2387.1 L952 2383.3 L948.2 2379.5 L944.7 2375.5 L941.3 2371.4 L938.2 2367.3 L935.2 2363.1 L932.5 2358.8 L929.9 2354.4 L927.6 2349.9 L925.4 2345.3 L923.5 2340.7 L921.8 2336 L920.2 2331.2 L918.9 2326.3 L917.8 2321.4 L916.9 2316.3 L916.2 2311.3 L915.8 2306.1 L915.5 2300.9 L915.4 2295.6 L915.6 2290.2 L915.9 2284.8 L916.5 2279.3 L917.3 2273.8 L918.3 2268.2 L919.5 2262.5 L920.9 2256.8 L922.5 2251 L924.3 2245.2 L926.3 2239.3 L928.6 2233.4 L931 2227.4 L933.6 2221.4 L936.5 2215.4 L939.5 2209.3 L942.8 2203.2 L946.2 2197 L949.9 2190.8 L953.7 2184.6 L957.8 2178.3 L962 2172 L966.4 2165.7 L971.1 2159.3 L975.9 2152.9 L980.9 2146.6 L986.1 2140.1 L991.5 2133.7 L997.1 2127.3 L1002.8 2120.8 L1008.8 2114.3 L1014.9 2107.8 L1021.2 2101.4 L1027.7 2094.9 L1034.3 2088.4 L1041.2 2081.9 L1048.2 2075.4 L1055.3 2068.9 L1062.7 2062.4 L1070.2 2055.9 L1077.8 2049.4 L1085.7 2042.9 L1093.6 2036.5 L1101.8 2030 L1110 2023.6 L1118.5 2017.2 L1127.1 2010.8 L1135.8 2004.4 L1144.7 1998.1 L1153.7 1991.7 L1162.8 1985.4 L1172.1 1979.2 L1181.5 1972.9 L1191 1966.7 L1200.7 1960.6 L1210.5 1954.5 L1220.4 1948.4 L1230.4 1942.3 L1240.6 1936.3 L1250.8 1930.3 L1261.2 1924.4 L1271.6 1918.6 L1282.2 1912.8 L1292.8 1907 L1303.6 1901.3 L1314.4 1895.6 L1325.4 1890 L1336.4 1884.5 L1347.5 1879 L1358.6 1873.6 L1369.9 1868.2 L1381.2 1862.9 L1392.6 1857.7 L1404 1852.5 L1415.5 1847.5 L1427.1 1842.4 L1438.7 1837.5 L1450.4 1832.6 L1462.1 1827.8 L1473.9 1823.1 L1485.7 1818.5 L1497.5 1813.9 L1509.3 1809.5 L1521.2 1805.1 L1533.2 1800.8 L1545.1 1796.5 L1557 1792.4 L1569 1788.4 L1581 1784.4 L1593 1780.5 L1605 1776.8 L1617 1773.1 L1628.9 1769.5 L1640.9 1766 L1652.9 1762.6 L1664.8 1759.3 L1676.8 1756.1 L1688.7 1753 L1700.5 1750 L1712.4 1747.1 L1724.2 1744.3 L1736 1741.6 L1747.7 1739.1 L1759.4 1736.6 L1771.1 1734.2 L1782.7 1731.9 L1794.2 1729.7 L1805.7 1727.7 L1817.1 1725.7 L1828.5 1723.9 L1839.7 1722.2 L1851 1720.5 L1862.1 1719 L1873.2 1717.6 L1884.1 1716.3 L1895 1715.1 L1905.8 1714.1 L1916.5 1713.1 L1927.1 1712.3 L1937.7 1711.5 L1948.1 1710.9 L1958.4 1710.4 L1968.6 1710 L1978.7 1709.7 L1988.6 1709.6 L1998.5 1709.5 L2008.2 1709.6 L2017.8 1709.7 L2027.3 1710 L2036.7 1710.4 L2045.9 1710.9 L2055 1711.6 L2063.9 1712.3 L2072.7 1713.2 L2081.4 1714.1 L2089.9 1715.2 L2098.3 1716.4 L2106.5 1717.7 L2114.6 1719.1 L2122.5 1720.6 L2130.2 1722.3 L2137.8 1724 L2145.3 1725.9 L2152.5 1727.8 L2159.6 1729.9 L2166.5 1732 L2173.3 1734.3 L2179.9 1736.7 L2186.3 1739.2 L2192.5 1741.8 L2198.5 1744.5 L2204.4 1747.3 L2210.1 1750.2 L2215.6 1753.2 L2220.9 1756.3 L2226 1759.5 L2230.9 1762.8 L2235.7 1766.2 L2240.2 1769.7 L2244.6 1773.3 L2248.7 1777 L2252.7 1780.8 L2256.4 1784.6 L2260 1788.6 L2263.4 1792.7 L2266.5 1796.8 L2269.5 1801 L2272.2 1805.3 L2274.8 1809.7 L2277.1 1814.2 L2279.3 1818.8 L2281.2 1823.4 L2282.9 1828.1 L2284.5 1832.9 L2285.8 1837.8 L2286.9 1842.7 L2287.8 1847.8 L2288.5 1852.9 L2288.9 1858 L2289.2 1863.2 L2289.3 1868.5 L2289.1 1873.9 L2288.7 1879.3 L2288.2 1884.8 L2287.4 1890.4 L2286.4 1896 L2285.2 1901.6 L2283.8 1907.3 L2282.2 1913.1 L2280.4 1918.9 L2278.4 1924.8 L2276.1 1930.7 L2273.7 1936.7 Z"/>
<path d="M2033.1 1988.8 L2031.4 1992.6 L2029.6 1996.5 L2027.7 2000.4 L2025.6 2004.3 L2023.4 2008.3 L2021 2012.3 L2018.6 2016.3 L2016 2020.3 L2013.2 2024.3 L2010.4 2028.4 L2007.4 2032.5 L2004.3 2036.6 L2001.1 2040.7 L1997.8 2044.8 L1994.3 2048.9 L1990.7 2053 L1987 2057.2 L1983.2 2061.3 L1979.3 2065.5 L1975.3 2069.7 L1971.1 2073.8 L1966.8 2078 L1962.4 2082.2 L1958 2086.4 L1953.4 2090.5 L1948.6 2094.7 L1943.8 2098.9 L1938.9 2103 L1933.9 2107.2 L1928.8 2111.3 L1923.6 2115.4 L1918.2 2119.6 L1912.8 2123.7 L1907.3 2127.8 L1901.7 2131.9 L1896 2136 L1890.3 2140 L1884.4 2144 L1878.4 2148.1 L1872.4 2152.1 L1866.3 2156 L1860.1 2160 L1853.8 2163.9 L1847.4 2167.8 L1841 2171.7 L1834.5 2175.6 L1827.9 2179.4 L1821.3 2183.2 L1814.6 2187 L1807.8 2190.7 L1801 2194.4 L1794.1 2198.1 L1787.1 2201.7 L1780.1 2205.3 L1773 2208.8 L1765.9 2212.4 L1758.7 2215.8 L1751.5 2219.3 L1744.3 2222.7 L1737 2226 L1729.6 2229.3 L1722.2 2232.6 L1714.8 2235.8 L1707.3 2239 L1699.9 2242.1 L1692.3 2245.2 L1684.8 2248.2 L1677.2 2251.2 L1669.6 2254.1 L1662 2257 L1654.4 2259.8 L1646.7 2262.6 L1639.1 2265.3 L1631.4 2267.9 L1623.7 2270.5 L1616 2273 L1608.4 2275.5 L1600.7 2277.9 L1593 2280.3 L1585.3 2282.6 L1577.6 2284.8 L1569.9 2287 L1562.3 2289.1 L1554.6 2291.2 L1547 2293.2 L1539.3 2295.1 L1531.7 2297 L1524.2 2298.8 L1516.6 2300.5 L1509.1 2302.2 L1501.6 2303.7 L1494.1 2305.3 L1486.6 2306.7 L1479.2 2308.1 L1471.9 2309.4 L1464.5 2310.7 L1457.3 2311.9 L1450 2313 L1442.8 2314 L1435.7 2315 L1428.6 2315.9 L1421.5 2316.7 L1414.5 2317.5 L1407.6 2318.2 L1400.7 2318.8 L1393.9 2319.3 L1387.2 2319.8 L1380.5 2320.2 L1373.9 2320.5 L1367.3 2320.8 L1360.9 2321 L1354.5 2321.1 L1348.2 2321.1 L1341.9 2321.1 L1335.7 2321 L1329.7 2320.8 L1323.7 2320.5 L1317.7 2320.2 L1311.9 2319.8 L1306.2 2319.3 L1300.5 2318.8 L1294.9 2318.1 L1289.5 2317.5 L1284.1 2316.7 L1278.8 2315.9 L1273.7 2315 L1268.6 2314 L1263.6 2312.9 L1258.7 2311.8 L1254 2310.6 L1249.3 2309.4 L1244.8 2308 L1240.3 2306.6 L1236 2305.2 L1231.8 2303.7 L1227.7 2302.1 L1223.7 2300.4 L1219.8 2298.7 L1216 2296.9 L1212.4 2295 L1208.8 2293.1 L1205.4 2291.1 L1202.2 2289 L1199 2286.9 L1196 2284.7 L1193 2282.5 L1190.2 2280.2 L1187.6 2277.8 L1185 2275.4 L1182.6 2272.9 L1180.3 2270.4 L1178.2 2267.8 L1176.2 2265.1 L1174.3 2262.4 L1172.5 2259.6 L1170.9 2256.8 L1169.3 2253.9 L1168 2251 L1166.7 2248 L1165.6 2245 L1164.7 2241.9 L1163.8 2238.8 L1163.1 2235.6 L1162.5 2232.4 L1162.1 2229.1 L1161.8 2225.8 L1161.6 2222.5 L1161.6 2219.1 L1161.7 2215.6 L1161.9 2212.1 L1162.3 2208.6 L1162.8 2205.1 L1163.4 2201.5 L1164.2 2197.8 L1165.1 2194.2 L1166.1 2190.5 L1167.3 2186.7 L1168.6 2183 L1170 2179.2 L1171.6 2175.3 L1173.2 2171.5 L1175.1 2167.6 L1177 2163.7 L1179.1 2159.8 L1181.3 2155.8 L1183.7 2151.8 L1186.1 2147.8 L1188.7 2143.8 L1191.5 2139.8 L1194.3 2135.7 L1197.3 2131.6 L1200.4 2127.5 L1203.6 2123.4 L1206.9 2119.3 L1210.4 2115.2 L1214 2111.1 L1217.7 2106.9 L1221.5 2102.8 L1225.4 2098.6 L1229.4 2094.4 L1233.6 2090.3 L1237.9 2086.1 L1242.3 2081.9 L1246.7 2077.8 L1251.3 2073.6 L1256 2069.4 L1260.9 2065.3 L1265.8 2061.1 L1270.8 2056.9 L1275.9 2052.8 L1281.1 2048.7 L1286.4 2044.5 L1291.9 2040.4 L1297.4 2036.3 L1303 2032.2 L1308.7 2028.2 L1314.4 2024.1 L1320.3 2020.1 L1326.3 2016 L1332.3 2012 L1338.4 2008.1 L1344.6 2004.1 L1350.9 2000.2 L1357.3 1996.3 L1363.7 1992.4 L1370.2 1988.5 L1376.8 1984.7 L1383.4 1980.9 L1390.1 1977.1 L1396.9 1973.4 L1403.7 1969.7 L1410.6 1966.1 L1417.6 1962.4 L1424.6 1958.8 L1431.7 1955.3 L1438.8 1951.8 L1446 1948.3 L1453.2 1944.8 L1460.4 1941.4 L1467.7 1938.1 L1475.1 1934.8 L1482.5 1931.5 L1489.9 1928.3 L1497.3 1925.1 L1504.8 1922 L1512.4 1918.9 L1519.9 1915.9 L1527.5 1912.9 L1535.1 1910 L1542.7 1907.1 L1550.3 1904.3 L1557.9 1901.6 L1565.6 1898.8 L1573.3 1896.2 L1581 1893.6 L1588.6 1891.1 L1596.3 1888.6 L1604 1886.2 L1611.7 1883.8 L1619.4 1881.5 L1627.1 1879.3 L1634.8 1877.1 L1642.4 1875 L1650.1 1872.9 L1657.7 1870.9 L1665.4 1869 L1673 1867.1 L1680.5 1865.3 L1688.1 1863.6 L1695.6 1862 L1703.1 1860.4 L1710.6 1858.8 L1718.1 1857.4 L1725.5 1856 L1732.8 1854.7 L1740.2 1853.4 L1747.4 1852.2 L1754.7 1851.1 L1761.9 1850.1 L1769 1849.1 L1776.1 1848.2 L1783.2 1847.4 L1790.2 1846.6 L1797.1 1845.9 L1804 1845.3 L1810.8 1844.8 L1817.5 1844.3 L1824.2 1843.9 L1830.8 1843.6 L1837.4 1843.3 L1843.8 1843.1 L1850.2 1843 L1856.5 1843 L1862.8 1843 L1869 1843.2 L1875 1843.3 L1881 1843.6 L1887 1843.9 L1892.8 1844.3 L1898.5 1844.8 L1904.2 1845.3 L1909.7 1846 L1915.2 1846.7 L1920.6 1847.4 L1925.9 1848.3 L1931 1849.2 L1936.1 1850.1 L1941.1 1851.2 L1946 1852.3 L1950.7 1853.5 L1955.4 1854.7 L1959.9 1856.1 L1964.4 1857.5 L1968.7 1858.9 L1972.9 1860.5 L1977 1862.1 L1981 1863.7 L1984.9 1865.5 L1988.7 1867.3 L1992.3 1869.1 L1995.8 1871 L1999.3 1873 L2002.5 1875.1 L2005.7 1877.2 L2008.7 1879.4 L2011.7 1881.6 L2014.5 1883.9 L2017.1 1886.3 L2019.7 1888.7 L2022.1 1891.2 L2024.4 1893.8 L2026.5 1896.4 L2028.5 1899 L2030.4 1901.7 L2032.2 1904.5 L2033.8 1907.3 L2035.3 1910.2 L2036.7 1913.1 L2038 1916.1 L2039.1 1919.1 L2040 1922.2 L2040.9 1925.3 L2041.6 1928.5 L2042.2 1931.7 L2042.6 1935 L2042.9 1938.3 L2043.1 1941.6 L2043.1 1945 L2043 1948.5 L2042.8 1952 L2042.4 1955.5 L2041.9 1959 L2041.3 1962.6 L2040.5 1966.3 L2039.6 1969.9 L2038.6 1973.6 L2037.4 1977.4 L2036.1 1981.1 L2034.7 1984.9 L2033.1 1988.8 Z"/>
</g>
<rect x="1269.9" y="1894.7" width="654.6" height="570" fill="none" stroke="#3a3a3a" stroke-width="1.7"/>
<line x1="1269.9" y1="2464.7" x2="1269.9" y2="2479.7" stroke="#3a3a3a" stroke-width="1.7"/>
<line x1="1252.9" y1="1894.7" x2="1269.9" y2="1894.7" stroke="#3a3a3a" stroke-width="1.7"/>
<line x1="1433.6" y1="2464.7" x2="1433.6" y2="2479.7" stroke="#3a3a3a" stroke-width="1.7"/>
<line x1="1252.9" y1="2037.2" x2="1269.9" y2="2037.2" stroke="#3a3a3a" stroke-width="1.7"/>
<line x1="1597.2" y1="2464.7" x2="1597.2" y2="2479.7" stroke="#3a3a3a" stroke-width="1.7"/>
<line x1="1252.9" y1="2179.7" x2="1269.9" y2="2179.7" stroke="#3a3a3a" stroke-width="1.7"/>
<line x1="1760.8" y1="2464.7" x2="1760.8" y2="2479.7" stroke="#3a3a3a" stroke-width="1.7"/>
<line x1="1252.9" y1="2322.2" x2="1269.9" y2="2322.2" stroke="#3a3a3a" stroke-width="1.7"/>
<line x1="1924.5" y1="2464.7" x2="1924.5" y2="2479.7" stroke="#3a3a3a" stroke-width="1.7"/>
<line x1="1252.9" y1="2464.7" x2="1269.9" y2="2464.7" stroke="#3a3a3a" stroke-width="1.7"/>
<rect x="1278.5" y="1897.2" width="19.4" height="11.1" fill="#fff" stroke="#3a2c22" stroke-width="1.4"/>
<text x="1288.2" y="1905" font-family="Liberation Sans, sans-serif" font-size="9.6" fill="#3a3a3a" text-anchor="middle">80</text>
<rect x="1399.5" y="1953.7" width="19.3" height="12.2" fill="#fff" stroke="#3a2c22" stroke-width="1.4"/>
<text x="1409.2" y="1962.6" font-family="Liberation Sans, sans-serif" font-size="9.6" fill="#3a3a3a" text-anchor="middle">90</text>
<rect x="1636.5" y="2253.2" width="19.7" height="12.1" fill="#fff" stroke="#3a2c22" stroke-width="1.4"/>
<text x="1646.3" y="2262" font-family="Liberation Sans, sans-serif" font-size="9.6" fill="#3a3a3a" text-anchor="middle">90</text>
<rect x="1620.4" y="2367.3" width="19.9" height="12.2" fill="#fff" stroke="#3a2c22" stroke-width="1.4"/>
<text x="1630.3" y="2376.2" font-family="Liberation Sans, sans-serif" font-size="9.6" fill="#3a3a3a" text-anchor="middle">80</text>
<rect x="1761.3" y="2395.6" width="19.3" height="12.1" fill="#fff" stroke="#3a2c22" stroke-width="1.4"/>
<text x="1770.9" y="2404.4" font-family="Liberation Sans, sans-serif" font-size="9.6" fill="#3a3a3a" text-anchor="middle">70</text>
<rect x="1853.5" y="2423.9" width="19.7" height="12.1" fill="#fff" stroke="#3a2c22" stroke-width="1.4"/>
<text x="1863.3" y="2432.7" font-family="Liberation Sans, sans-serif" font-size="9.6" fill="#3a3a3a" text-anchor="middle">60</text>
<ellipse cx="1596.8" cy="2179.2" rx="6.3" ry="5.6" fill="#b80404" stroke="#4a0000" stroke-width="1.2"/>
<text x="1578.8" y="2181.7" font-family="Liberation Sans, sans-serif" font-size="7" fill="#222">6</text>
<g font-family="Liberation Serif, serif" fill="#000">
<text transform="translate(23.2 40.3) scale(1.1571 1)" font-size="51.1">(a)</text>
<text transform="translate(63 485.6) scale(1.1328 1) rotate(-90)" font-size="51">(Degradation %)</text>
<text transform="translate(81.6 104.5) scale(1.2105 1)" font-size="31.6">100</text>
<text transform="translate(105 176.8) scale(1.2550 1)" font-size="31.6">80</text>
<text transform="translate(108 250.2) scale(1.3435 1)" font-size="29.9">60</text>
<text transform="translate(112.6 323.7) scale(1.3015 1)" font-size="29.9">40</text>
<text transform="translate(115.8 397.1) scale(1.3831 1)" font-size="29.9">20</text>
<text transform="translate(140 471.7) scale(1.2942 1)" font-size="29.9">0</text>
<text transform="translate(126.4 624.3) scale(1.2762 1)" font-size="31.8">30</text>
<text transform="translate(226.9 666.7) scale(1.3189 1)" font-size="30.7">25</text>
<text transform="translate(328.5 708.7) scale(1.2660 1)" font-size="31.8">20</text>
<text transform="translate(431.9 750) scale(1.2062 1)" font-size="31.8">15</text>
<text transform="translate(534.4 792.4) scale(1.1478 1)" font-size="31.6">10</text>
<text transform="translate(610.2 792.4) scale(1.1055 1)" font-size="32.1">5</text>
<text transform="translate(709.8 750) scale(1.2364 1)" font-size="30.9">6</text>
<text transform="translate(810 709) scale(1.1680 1)" font-size="33.6">7</text>
<text transform="translate(913.1 666.2) scale(1.1734 1)" font-size="31.8">8</text>
<text transform="translate(1013.1 623.7) scale(1.3555 1)" font-size="30.9">9</text>
<text transform="translate(76.4 755.3) scale(1.1775 1)" font-size="40">B: Catalyst dose</text>
<text transform="translate(74.8 801.3) scale(1.1292 1)" font-size="42">(mg/100ml)</text>
<text transform="translate(845.4 761.3) scale(1.1098 1)" font-size="41.3">A: pH</text>
<text transform="translate(30.7 932.6) scale(1.1190 1)" font-size="54.1">(b)</text>
<text transform="translate(71 1374.2) scale(1.1231 1) rotate(-90)" font-size="52.6">(Degradation %)</text>
<text transform="translate(91 980.3) scale(1.1674 1)" font-size="32.4">100</text>
<text transform="translate(113.7 1053.5) scale(1.1952 1)" font-size="30.4">80</text>
<text transform="translate(115.6 1126.8) scale(1.2866 1)" font-size="30.6">60</text>
<text transform="translate(120.5 1200.1) scale(1.2873 1)" font-size="30.6">40</text>
<text transform="translate(124.2 1273.3) scale(1.2928 1)" font-size="30.4">20</text>
<text transform="translate(149 1346.6) scale(1.2705 1)" font-size="30.6">0</text>
<text transform="translate(134.7 1500) scale(1.2650 1)" font-size="31.7">80</text>
<text transform="translate(233.8 1542.3) scale(1.3505 1)" font-size="30.6">70</text>
<text transform="translate(336.2 1584.1) scale(1.2684 1)" font-size="31.7">60</text>
<text transform="translate(440.7 1625.3) scale(1.1691 1)" font-size="31.7">50</text>
<text transform="translate(544.4 1667.6) scale(1.0662 1)" font-size="31.5">40</text>
<text transform="translate(617.6 1667.6) scale(1.1076 1)" font-size="32">5</text>
<text transform="translate(717.1 1625.3) scale(1.2387 1)" font-size="30.8">6</text>
<text transform="translate(817.2 1584.4) scale(1.1702 1)" font-size="33.5">7</text>
<text transform="translate(920.2 1541.7) scale(1.1756 1)" font-size="31.7">8</text>
<text transform="translate(1020.1 1499.4) scale(1.3580 1)" font-size="30.8">9</text>
<text transform="translate(70.3 1642.2) scale(1.1908 1)" font-size="40.2">C: Time (min)</text>
<text transform="translate(893 1634.8) scale(1.0741 1)" font-size="41.8">A: pH</text>
<text transform="translate(17.8 1798.6) scale(1.1707 1)" font-size="51.7">(c)</text>
<text transform="translate(63.7 2245.2) scale(1.1273 1) rotate(-90)" font-size="52.4">(Degradation %)</text>
<text transform="translate(81.2 1850.5) scale(1.2431 1)" font-size="30.4">100</text>
<text transform="translate(105.1 1923.8) scale(1.2312 1)" font-size="30.6">80</text>
<text transform="translate(108.4 1997) scale(1.2504 1)" font-size="30.4">60</text>
<text transform="translate(113.2 2070.3) scale(1.2055 1)" font-size="30.6">40</text>
<text transform="translate(115.6 2143.5) scale(1.2928 1)" font-size="30.4">20</text>
<text transform="translate(140.5 2216.8) scale(1.1814 1)" font-size="30.6">0</text>
<text transform="translate(125.6 2366.6) scale(1.2644 1)" font-size="31.5">80</text>
<text transform="translate(224.1 2408.6) scale(1.3499 1)" font-size="30.4">70</text>
<text transform="translate(325.7 2450.2) scale(1.2679 1)" font-size="31.5">60</text>
<text transform="translate(429.6 2491.1) scale(1.1686 1)" font-size="31.5">50</text>
<text transform="translate(532.6 2533.2) scale(1.0657 1)" font-size="31.3">40</text>
<text transform="translate(605.7 2533.7) scale(1.1752 1)" font-size="30.9">10</text>
<text transform="translate(688.8 2497.7) scale(1.1845 1)" font-size="30.7">15</text>
<text transform="translate(801.2 2450.9) scale(1.2883 1)" font-size="30.9">20</text>
<text transform="translate(902.9 2409.8) scale(1.2883 1)" font-size="30.9">25</text>
<text transform="translate(1004.6 2366.9) scale(1.2883 1)" font-size="30.9">30</text>
<text transform="translate(117 2498.3) scale(1.1973 1)" font-size="40">C: Time (min)</text>
<text transform="translate(758.2 2508.6) scale(1.1537 1)" font-size="40.9">B: Catalyst dose</text>
<text transform="translate(755.7 2553.4) scale(1.1305 1)" font-size="42.3">(mg/100ml)</text>
<text transform="translate(1370.5 42.6) scale(1.1439 1)" font-size="51.7">(Degradation %)</text>
<text transform="translate(1081.8 551.2) scale(1.1059 1) rotate(-90)" font-size="40.9">B: Catalyst dose (mg/100ml)</text>
<text transform="translate(1121.6 75.7) scale(1.1751 1)" font-size="28.8">30</text>
<text transform="translate(1121.6 234.9) scale(1.1751 1)" font-size="28.8">25</text>
<text transform="translate(1121.6 394.1) scale(1.1751 1)" font-size="28.8">20</text>
<text transform="translate(1120.2 553.2) scale(1.2279 1)" font-size="28.8">15</text>
<text transform="translate(1120.2 712.4) scale(1.2279 1)" font-size="28.8">10</text>
<text transform="translate(1171.7 751.6) scale(1.3045 1)" font-size="30.3">5</text>
<text transform="translate(1355.2 751.6) scale(1.2638 1)" font-size="29.9">6</text>
<text transform="translate(1537.4 751.9) scale(1.2850 1)" font-size="30.8">7</text>
<text transform="translate(1721.7 751.6) scale(1.2638 1)" font-size="29.9">8</text>
<text transform="translate(1904.7 751.6) scale(1.2932 1)" font-size="29.9">9</text>
<text transform="translate(1490.5 798.6) scale(1.1060 1)" font-size="40.1">A: pH</text>
<text transform="translate(1348.2 914.8) scale(1.1943 1)" font-size="49.2">(Degradation %)</text>
<text transform="translate(1094.6 1360) scale(1.1432 1) rotate(-90)" font-size="41.7">C: Time (min)</text>
<text transform="translate(1122.1 947.6) scale(1.1995 1)" font-size="28.8">80</text>
<text transform="translate(1121 1108.1) scale(1.2391 1)" font-size="28.8">70</text>
<text transform="translate(1121.7 1268.5) scale(1.2124 1)" font-size="28.8">60</text>
<text transform="translate(1121.3 1429) scale(1.2256 1)" font-size="28.8">50</text>
<text transform="translate(1122.8 1589.4) scale(1.1745 1)" font-size="28.8">40</text>
<text transform="translate(1173.3 1629.7) scale(1.1287 1)" font-size="31.6">5</text>
<text transform="translate(1358.7 1629.7) scale(1.0935 1)" font-size="31.2">6</text>
<text transform="translate(1542.8 1630) scale(1.1119 1)" font-size="32.1">7</text>
<text transform="translate(1728.9 1629.7) scale(1.0935 1)" font-size="31.2">8</text>
<text transform="translate(1913.8 1629.7) scale(1.1189 1)" font-size="31.2">9</text>
<text transform="translate(1499.6 1682.9) scale(1.0799 1)" font-size="41.8">A: pH</text>
<text transform="translate(1414.3 1871.8) scale(1.1763 1)" font-size="50.3">(Degradation %)</text>
<text transform="translate(1170.9 2296.8) scale(1.1115 1) rotate(-90)" font-size="42.1">C: Time (min)</text>
<text transform="translate(1215.7 1903.4) scale(1.2190 1)" font-size="26.6">80</text>
<text transform="translate(1214.7 2045.9) scale(1.2592 1)" font-size="26.6">70</text>
<text transform="translate(1215.4 2188.4) scale(1.2321 1)" font-size="26.6">60</text>
<text transform="translate(1215 2330.9) scale(1.2455 1)" font-size="26.6">50</text>
<text transform="translate(1216.4 2473.4) scale(1.1936 1)" font-size="26.6">40</text>
<text transform="translate(1252 2507.6) scale(1.1498 1)" font-size="29.7">10</text>
<text transform="translate(1415.6 2507.6) scale(1.1498 1)" font-size="29.7">15</text>
<text transform="translate(1580.7 2507.6) scale(1.1004 1)" font-size="29.7">20</text>
<text transform="translate(1744.3 2507.6) scale(1.1004 1)" font-size="29.7">25</text>
<text transform="translate(1908 2507.6) scale(1.1004 1)" font-size="29.7">30</text>
<text transform="translate(1324.4 2566.4) scale(1.0599 1)" font-size="44.6">B: Catalyst dose (mg/100ml)</text>
</g></svg></body></html>
